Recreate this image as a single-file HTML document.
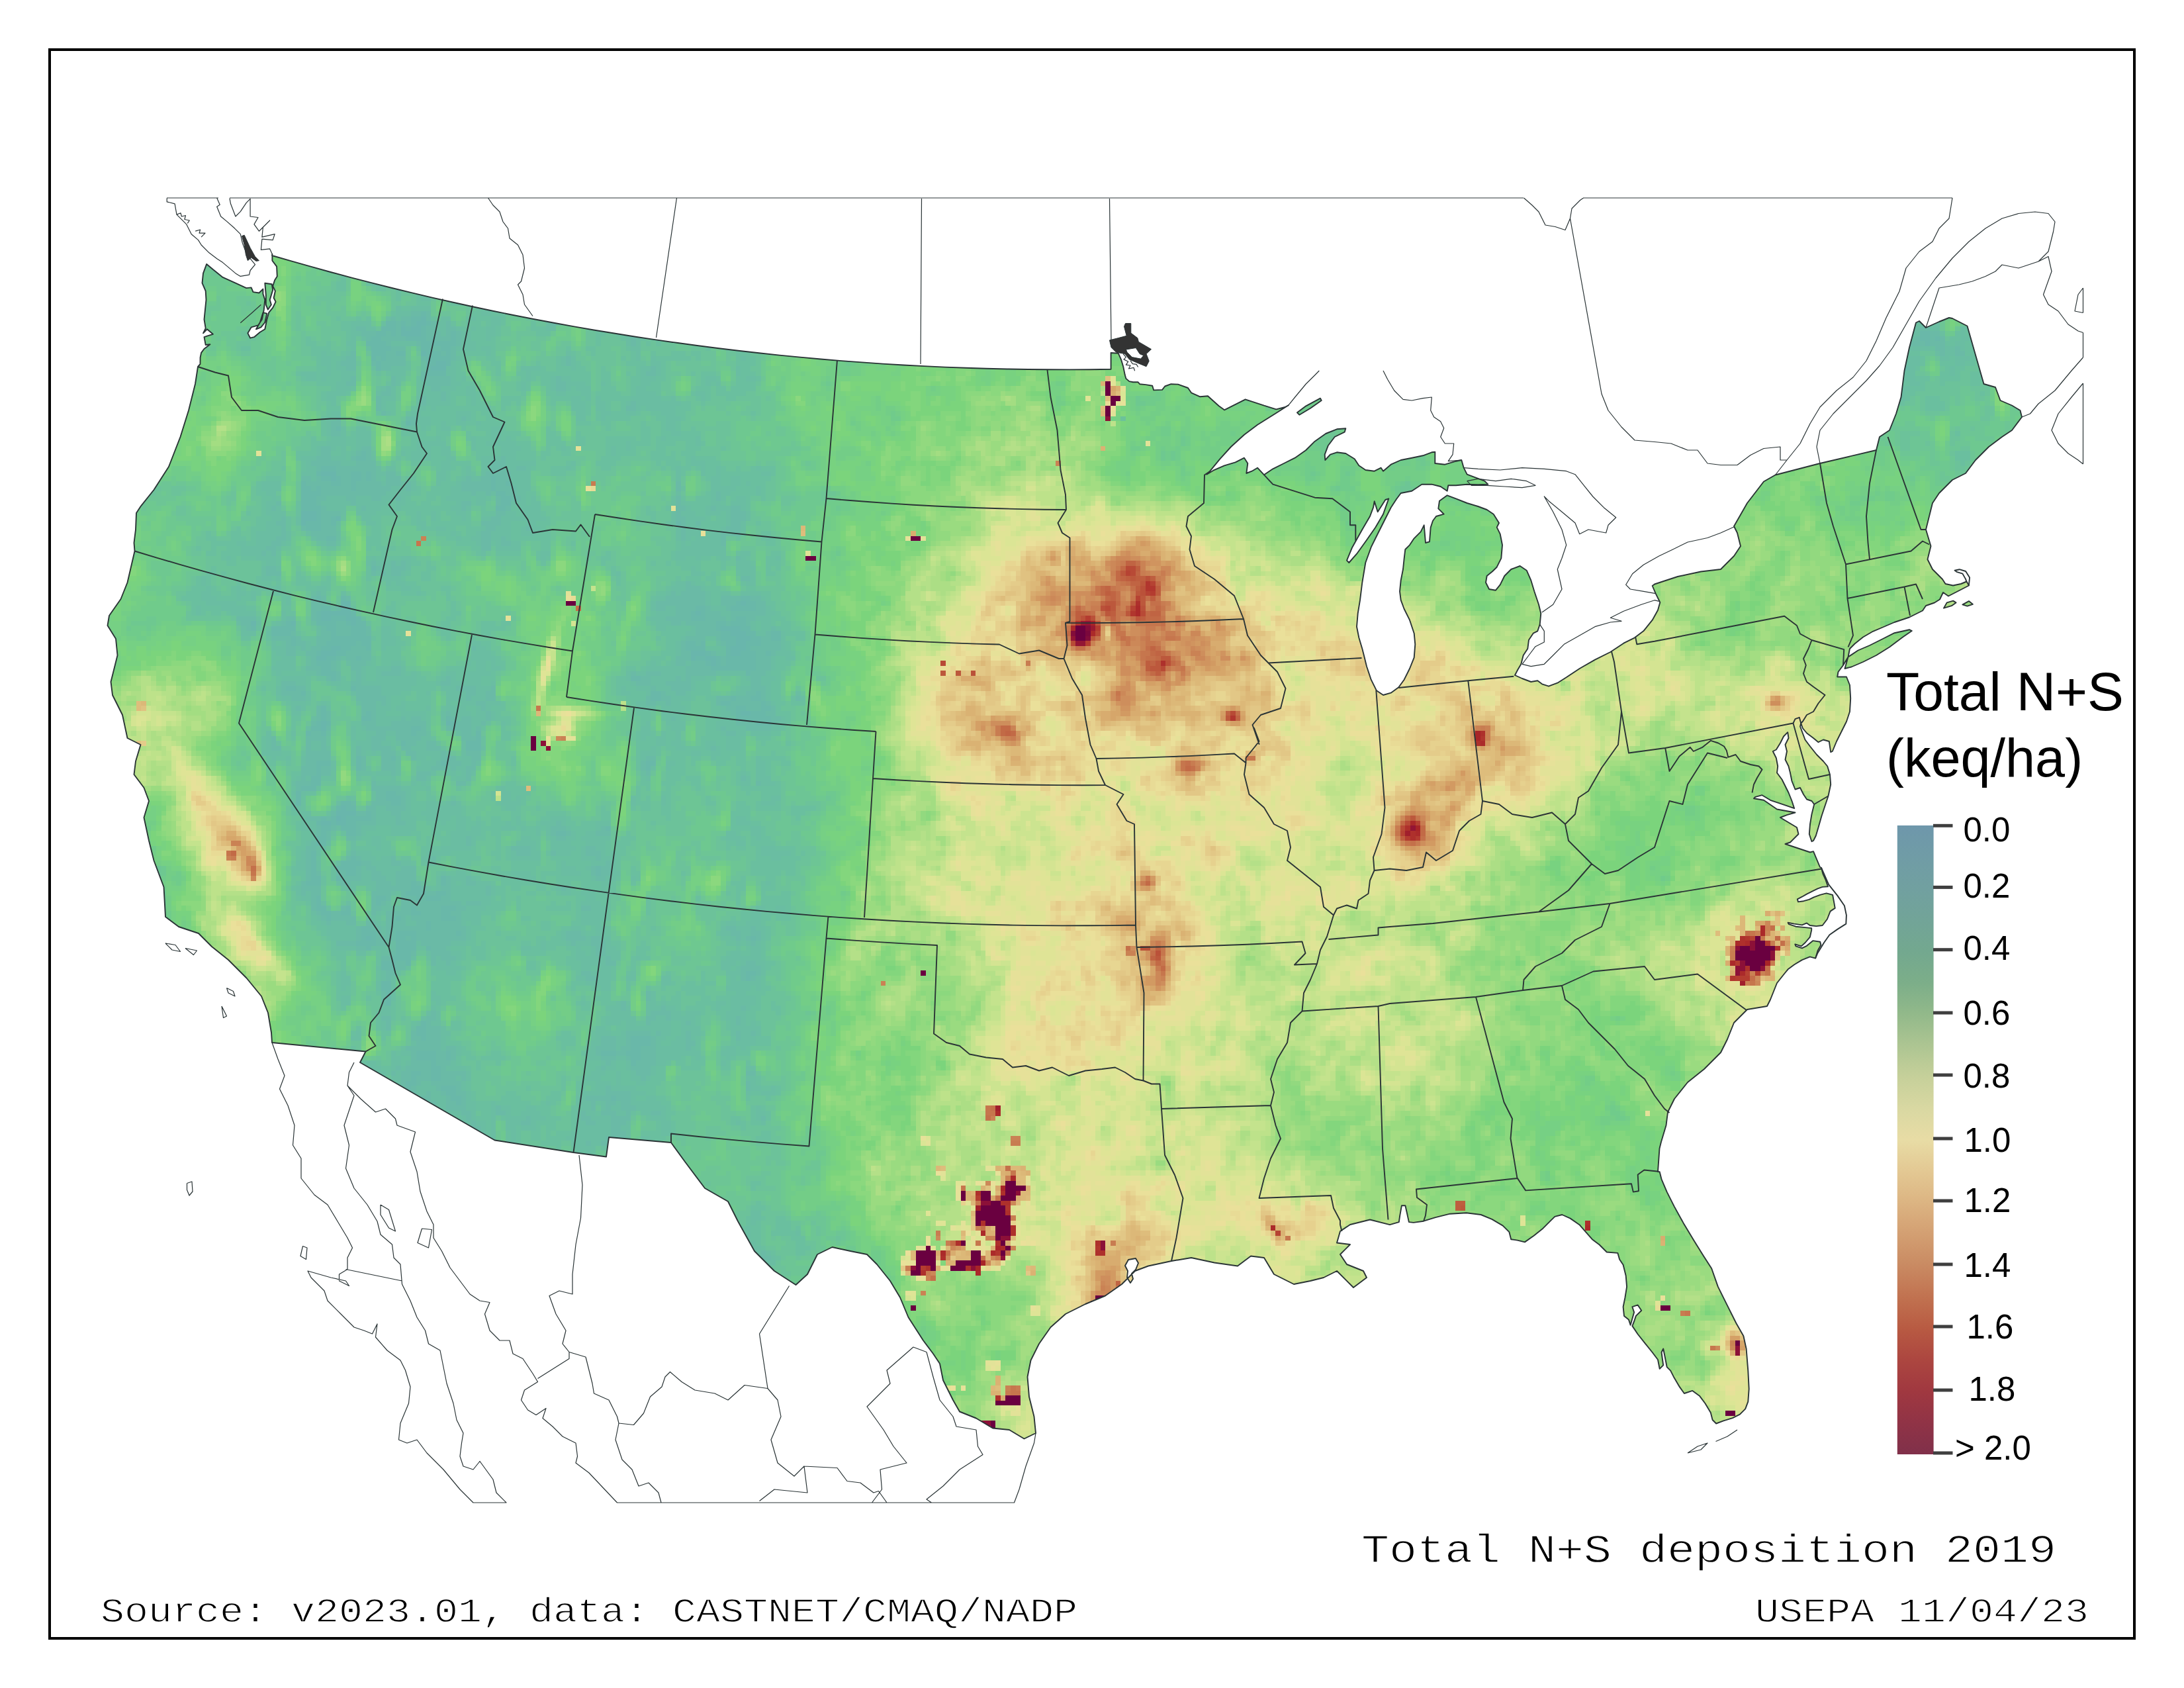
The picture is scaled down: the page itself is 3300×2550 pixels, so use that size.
<!DOCTYPE html>
<html><head><meta charset="utf-8"><title>Total N+S deposition 2019</title>
<style>html,body{margin:0;padding:0;background:#fff}svg{display:block}
.ar{font-family:"Liberation Sans",sans-serif}.mo{font-family:"Liberation Mono",monospace}</style></head><body>
<svg width="3300" height="2550" viewBox="0 0 3300 2550">
<defs>
<clipPath id="us" clipPathUnits="userSpaceOnUse"><path clip-rule="evenodd" d="M411.0,386.0 441.0,394.7 471.2,403.2 501.3,411.5 531.6,419.6 561.9,427.4 592.2,435.0 622.6,442.4 653.1,449.6 683.6,456.5 714.2,463.2 744.8,469.7 775.5,476.0 806.2,482.0 837.0,487.8 867.8,493.4 898.6,498.7 929.5,503.8 960.4,508.7 991.4,513.4 1022.4,517.8 1053.4,522.0 1084.5,526.0 1115.6,529.8 1146.7,533.3 1177.9,536.6 1209.1,539.6 1240.3,542.5 1271.5,545.1 1302.7,547.4 1334.0,549.6 1365.3,551.5 1396.6,553.1 1427.9,554.6 1459.2,555.8 1490.5,556.8 1521.9,557.5 1553.2,558.0 1584.5,558.3 1615.9,558.4 1647.2,558.2 1678.6,557.8 1678.6,533.0 1689.8,533.8 1693.9,542.9 1697.2,553.7 1699.7,566.1 1701.4,571.9 1706.3,576.1 1712.1,577.3 1719.6,577.3 1722.1,580.2 1731.2,581.1 1741.2,582.7 1743.2,589.4 1756.1,588.9 1760.2,583.5 1769.4,580.2 1780.0,580.6 1795.0,586.0 1800.0,593.3 1813.3,599.3 1825.0,598.3 1841.7,613.3 1850.0,619.3 1881.7,603.3 1910.0,612.7 1928.3,618.3 1941.7,615.0 1946.7,612.3 1926.7,625.0 1900.0,641.7 1880.0,656.7 1860.0,675.0 1843.3,693.3 1828.3,711.7 1823.3,716.7 1833.3,710.7 1850.0,703.3 1866.7,698.3 1880.0,691.7 1885.3,700.0 1883.3,715.0 1891.7,711.7 1900.0,706.7 1910.0,717.3 1923.3,708.3 1940.0,700.0 1956.7,691.7 1973.3,680.0 1986.7,666.7 2003.3,655.0 2020.0,648.3 2033.3,647.3 2031.7,652.7 2016.7,660.0 2006.7,673.3 2001.7,686.7 2002.3,695.0 2010.0,686.7 2020.0,683.3 2033.3,685.0 2046.7,693.3 2053.3,703.3 2063.3,710.0 2076.7,711.7 2086.7,706.7 2090.0,711.7 2101.7,701.7 2116.7,695.0 2133.3,691.7 2150.0,688.3 2163.3,683.3 2168.3,682.7 2168.3,700.0 2183.3,701.7 2200.0,696.7 2208.3,695.0 2211.7,706.7 2216.7,716.7 2230.0,721.7 2243.3,726.7 2248.3,731.7 2233.3,732.3 2216.7,731.7 2200.0,733.3 2188.3,733.3 2186.7,741.7 2176.7,735.0 2163.3,731.7 2148.3,731.7 2133.3,741.7 2116.7,745.0 2110.0,754.0 2101.7,766.7 2095.0,780.0 2083.3,803.3 2071.7,826.7 2063.3,850.0 2058.3,880.0 2055.0,906.7 2051.7,926.7 2050.0,946.7 2053.3,963.3 2058.3,980.0 2061.7,993.3 2065.0,1006.7 2071.7,1026.7 2080.0,1043.3 2090.0,1050.0 2101.7,1046.7 2113.3,1038.3 2121.7,1026.7 2130.0,1010.0 2136.7,993.3 2138.3,973.3 2136.7,956.7 2130.0,936.7 2121.7,920.0 2116.7,906.7 2115.0,893.3 2116.7,876.7 2120.0,860.0 2121.7,843.3 2123.3,830.0 2130.0,823.3 2136.7,813.3 2146.7,803.3 2151.7,793.3 2154.0,820.0 2160.0,818.3 2161.7,796.7 2165.0,786.7 2170.0,780.0 2181.7,776.7 2173.3,768.3 2175.0,756.7 2186.7,748.3 2200.0,753.3 2216.7,760.0 2233.3,765.0 2246.7,770.0 2256.7,776.7 2265.0,790.0 2261.7,796.7 2266.7,806.7 2270.0,823.3 2268.3,843.3 2261.7,856.7 2255.0,863.3 2246.7,870.0 2245.0,880.0 2250.0,890.0 2260.0,891.7 2266.7,883.3 2273.3,870.0 2283.3,860.0 2296.7,855.0 2306.7,861.7 2313.3,876.7 2318.3,893.3 2325.0,913.3 2328.3,926.7 2326.7,943.3 2323.3,953.3 2316.7,956.7 2310.0,966.7 2308.3,980.0 2301.7,990.0 2298.3,1003.3 2293.3,1011.7 2289.0,1020.0 2300.0,1025.0 2313.3,1030.0 2323.3,1028.3 2330.0,1033.3 2340.0,1036.7 2353.3,1031.7 2366.7,1023.3 2386.7,1010.0 2410.0,996.7 2433.3,985.0 2453.3,971.7 2470.0,963.3 2483.3,953.3 2496.7,936.7 2505.0,921.7 2508.3,910.0 2501.7,896.7 2496.7,885.0 2500.0,882.5 2535.0,871.0 2570.0,863.5 2600.0,860.0 2620.0,840.0 2630.0,825.0 2625.0,805.0 2620.0,795.0 2640.0,760.0 2665.0,727.5 2682.5,717.5 2750.0,700.0 2835.0,680.0 2840.0,660.0 2855.0,650.0 2865.0,625.0 2872.5,600.0 2877.5,560.0 2885.0,525.0 2895.0,487.5 2900.0,485.0 2910.0,495.0 2930.0,486.0 2945.0,480.0 2950.0,481.0 2972.5,492.5 2997.5,580.0 3015.0,585.0 3022.5,605.0 3040.0,612.5 3052.5,620.0 3055.0,630.0 3040.0,650.0 3025.0,660.0 3005.0,675.0 2985.0,695.0 2970.0,715.0 2950.0,725.0 2930.0,745.0 2920.0,760.0 2915.0,780.0 2910.0,800.0 2917.5,825.0 2912.5,845.0 2920.0,860.0 2935.0,875.0 2939.5,882.0 2951.0,884.5 2963.0,882.0 2971.5,878.5 2975.0,884.5 2960.5,892.0 2944.0,900.5 2936.0,895.0 2931.0,905.5 2923.0,910.5 2910.0,915.0 2905.0,922.5 2885.0,932.5 2862.5,940.0 2845.0,947.5 2830.0,953.8 2815.0,962.5 2802.5,972.5 2795.0,980.0 2792.5,992.5 2785.0,1005.0 2777.5,1015.0 2776.2,1022.5 2790.0,1022.5 2795.0,1035.0 2796.2,1055.0 2795.0,1075.0 2790.0,1090.0 2782.5,1105.0 2775.0,1120.0 2768.8,1135.0 2766.2,1136.2 2763.8,1120.0 2755.0,1117.5 2747.5,1121.2 2740.0,1115.0 2730.0,1107.5 2723.8,1100.0 2721.2,1092.5 2720.0,1097.5 2727.5,1117.5 2735.0,1127.5 2745.0,1140.0 2755.0,1150.0 2761.2,1157.5 2765.0,1170.0 2766.2,1185.0 2762.5,1202.5 2757.5,1217.5 2752.5,1232.5 2747.5,1250.0 2743.8,1262.5 2740.0,1270.0 2737.5,1271.2 2733.8,1260.0 2735.0,1245.0 2737.5,1230.0 2741.2,1215.0 2737.5,1210.0 2730.0,1207.5 2725.0,1200.0 2720.0,1190.0 2712.5,1192.5 2707.5,1180.0 2705.0,1167.5 2702.5,1157.5 2697.5,1147.5 2700.0,1135.0 2697.5,1125.0 2702.5,1115.0 2701.2,1106.2 2695.0,1112.5 2690.0,1122.5 2683.8,1132.5 2678.8,1135.0 2683.8,1145.0 2686.2,1157.5 2685.0,1167.5 2692.5,1177.5 2697.5,1187.5 2702.5,1197.5 2707.5,1210.0 2711.2,1221.2 2690.0,1213.8 2675.0,1208.8 2662.5,1201.2 2652.5,1203.8 2650.0,1206.2 2665.0,1208.8 2685.0,1222.5 2712.5,1227.5 2700.0,1231.2 2690.0,1235.0 2715.0,1250.0 2717.5,1260.0 2705.0,1272.5 2697.5,1275.0 2720.0,1282.5 2735.0,1287.5 2740.0,1286.2 2750.0,1310.0 2752.0,1310.9 2754.3,1319.8 2758.5,1329.2 2762.0,1339.3 2753.7,1339.9 2746.6,1342.3 2739.5,1345.8 2730.0,1350.6 2722.9,1354.7 2715.8,1358.3 2717.0,1362.4 2725.3,1361.2 2733.6,1358.9 2740.7,1355.3 2750.2,1351.8 2759.7,1349.4 2769.1,1351.8 2771.5,1364.8 2772.7,1371.9 2765.6,1376.6 2760.9,1388.5 2753.7,1398.0 2744.3,1399.1 2734.8,1398.0 2730.0,1394.4 2722.9,1397.4 2711.1,1395.6 2701.6,1393.8 2702.8,1396.2 2713.5,1399.7 2725.3,1400.9 2737.2,1402.1 2737.2,1405.1 2734.8,1415.7 2727.7,1424.0 2721.8,1429.4 2712.3,1426.4 2713.5,1429.4 2722.9,1432.3 2730.0,1428.8 2739.5,1421.1 2750.2,1422.8 2751.4,1427.6 2746.6,1435.9 2743.1,1447.7 2734.8,1445.4 2722.9,1450.1 2711.1,1457.2 2701.6,1464.3 2696.9,1470.0 2685.0,1485.0 2675.0,1510.0 2670.0,1520.0 2640.0,1525.0 2620.0,1545.0 2610.0,1570.0 2600.0,1590.0 2575.0,1615.0 2550.0,1635.0 2530.0,1660.0 2520.0,1680.0 2517.5,1700.0 2510.0,1725.0 2507.5,1735.0 2505.0,1770.0 2507.7,1770.3 2510.5,1781.3 2518.7,1800.6 2529.8,1822.6 2543.5,1847.4 2560.1,1875.0 2573.8,1897.0 2586.2,1916.3 2595.9,1943.9 2609.6,1971.4 2623.4,1999.0 2634.4,2018.2 2638.6,2037.5 2641.3,2070.6 2642.7,2098.1 2641.3,2117.4 2637.2,2128.4 2628.9,2136.7 2617.9,2142.2 2604.1,2146.3 2593.1,2150.5 2587.6,2145.0 2584.8,2133.9 2576.6,2120.2 2568.3,2109.1 2557.3,2100.9 2544.9,2105.0 2538.0,2095.4 2529.8,2081.6 2524.2,2070.6 2518.7,2065.1 2516.0,2051.3 2513.2,2037.5 2510.5,2043.0 2513.2,2062.3 2507.7,2067.8 2505.0,2054.0 2496.7,2043.0 2485.7,2029.3 2474.7,2015.5 2466.4,2003.1 2469.1,1996.2 2471.9,1987.9 2480.2,1979.7 2474.7,1971.4 2466.4,1974.2 2469.1,1982.4 2463.6,2001.7 2460.9,1993.4 2454.0,1987.9 2452.6,1974.2 2455.4,1960.4 2458.1,1943.9 2456.7,1927.3 2452.6,1910.8 2447.1,1902.5 2444.4,1892.9 2427.8,1891.5 2416.8,1880.5 2405.8,1872.2 2396.1,1861.2 2386.5,1850.2 2372.7,1840.6 2360.3,1835.0 2349.3,1837.8 2342.4,1844.7 2331.4,1855.7 2317.6,1866.7 2303.9,1876.4 2292.8,1873.6 2283.2,1872.2 2280.4,1861.2 2270.8,1851.6 2254.3,1841.9 2237.7,1835.0 2215.7,1832.3 2190.9,1833.7 2168.9,1839.2 2151.0,1844.7 2135.8,1846.9 2128.9,1846.1 2126.2,1833.7 2123.4,1821.3 2117.9,1821.3 2115.2,1836.4 2113.8,1846.1 2100.0,1850.2 2070.0,1842.5 2040.0,1850.0 2025.0,1860.0 2020.0,1877.5 2040.0,1880.0 2025.0,1895.0 2035.0,1910.0 2060.0,1920.0 2065.0,1930.0 2045.0,1945.0 2020.0,1920.0 2000.0,1930.0 1980.0,1935.0 1955.0,1940.0 1925.0,1925.0 1910.0,1900.0 1890.0,1897.5 1870.0,1912.5 1835.0,1907.5 1800.0,1900.0 1770.0,1905.0 1735.0,1912.5 1715.0,1920.0 1695.0,1940.0 1670.0,1957.5 1640.0,1970.0 1610.0,1985.0 1587.5,2005.0 1570.0,2030.0 1557.5,2055.0 1552.5,2080.0 1555.0,2110.0 1562.5,2140.0 1565.0,2165.0 1547.5,2173.5 1525.0,2160.0 1500.0,2157.5 1475.0,2142.5 1450.0,2132.5 1440.0,2115.0 1425.0,2085.0 1420.0,2060.0 1410.0,2045.0 1395.0,2025.0 1372.5,1990.0 1360.0,1960.0 1345.0,1935.0 1325.0,1910.0 1310.0,1895.0 1285.0,1890.0 1257.5,1884.0 1235.0,1895.0 1220.0,1925.0 1202.5,1941.0 1170.0,1920.0 1140.0,1890.0 1115.0,1845.0 1100.0,1815.0 1065.0,1795.0 1035.0,1755.0 1014.0,1726.0 920.0,1718.0 916.0,1747.5 866.5,1741.0 747.5,1722.5 544.0,1605.0 552.5,1588.5 411.0,1575.0 410.0,1560.0 405.0,1530.0 395.0,1505.0 372.5,1477.5 360.0,1465.0 345.0,1450.0 320.0,1430.0 300.0,1410.0 270.0,1400.0 250.0,1385.0 247.5,1340.0 232.5,1300.0 225.0,1270.0 217.5,1235.0 225.0,1210.0 217.5,1190.0 202.5,1170.0 205.0,1150.0 212.5,1125.0 192.5,1115.0 185.0,1080.0 170.0,1050.0 167.5,1030.0 175.0,1000.0 177.5,990.0 175.0,965.0 162.5,945.0 165.0,930.0 182.5,905.0 192.5,880.0 203.5,832.5 202.5,820.0 205.0,800.0 206.0,775.0 212.5,765.0 232.5,740.0 255.0,705.0 272.5,660.0 285.0,620.0 295.0,580.0 299.0,554.0 302.5,550.0 302.6,540.0 304.1,532.9 308.5,527.0 317.4,520.3 310.7,521.0 308.5,509.2 312.9,507.7 321.8,504.8 312.9,497.3 307.0,503.3 310.7,495.9 308.5,482.5 310.0,467.7 311.5,452.9 310.7,439.6 305.5,427.7 307.0,412.9 312.2,398.9 321.8,407.0 336.6,418.9 355.9,427.7 372.2,435.1 379.6,434.4 382.5,441.1 391.4,442.5 397.4,436.6 397.4,444.0 400.3,452.9 398.8,467.7 395.9,482.5 390.0,491.4 379.6,494.4 374.4,503.3 378.1,510.7 384.0,509.2 392.9,501.8 400.3,497.3 403.3,482.5 406.2,472.2 412.2,464.8 416.6,455.9 413.6,450.0 415.9,439.6 412.2,432.2 415.1,423.3 418.8,417.4 418.1,402.6 411.4,393.7 411.4,384.0ZM2076.7,757.3 2081.7,773.3 2093.3,755.0 2098.3,753.3 2090.0,776.7 2078.3,796.7 2063.3,818.3 2050.0,836.7 2038.3,850.0 2035.0,846.7 2043.3,826.7 2058.3,800.0 2070.0,780.0 2075.0,766.7ZM1700.0,1912.0 1705.0,1903.0 1716.0,1901.0 1720.0,1908.0 1716.0,1918.0 1710.0,1924.0 1712.0,1932.0 1708.0,1938.0 1703.0,1930.0 1704.0,1920.0ZM400.3,427.7 410.7,429.2 412.2,438.1 407.7,452.9 409.9,460.3 404.8,467.7 401.8,460.3 401.8,445.5ZM397.4,472.2 403.3,473.6 400.3,487.0 394.4,494.4 387.0,497.3 392.9,487.0ZM2792.5,992.5 2807.5,982.5 2825.0,975.0 2845.0,965.0 2862.5,956.2 2885.0,951.2 2888.8,953.0 2875.0,962.5 2855.0,977.5 2835.0,990.0 2815.0,1000.0 2797.5,1007.5 2787.5,1010.0ZM2937.0,918.7 2941.7,910.4 2951.2,907.6 2955.5,910.4 2948.8,915.2ZM2965.4,913.3 2974.9,908.1 2980.8,912.8 2972.5,915.6ZM1960.0,623.3 1973.3,613.3 1995.0,601.7 1996.7,605.0 1980.0,616.7 1963.3,626.7Z"/></clipPath>
<linearGradient id="cb" x1="0" y1="0" x2="0" y2="1">
<stop offset="0.000" stop-color="#6e97ab"/>
<stop offset="0.050" stop-color="#709ca6"/>
<stop offset="0.100" stop-color="#71a0a0"/>
<stop offset="0.150" stop-color="#72a498"/>
<stop offset="0.200" stop-color="#73a88f"/>
<stop offset="0.250" stop-color="#7cae89"/>
<stop offset="0.300" stop-color="#92b98a"/>
<stop offset="0.350" stop-color="#adc592"/>
<stop offset="0.400" stop-color="#c6d09a"/>
<stop offset="0.450" stop-color="#d9d8a2"/>
<stop offset="0.500" stop-color="#e8dca5"/>
<stop offset="0.550" stop-color="#e3c893"/>
<stop offset="0.600" stop-color="#dcb482"/>
<stop offset="0.650" stop-color="#d39f72"/>
<stop offset="0.700" stop-color="#c98a62"/>
<stop offset="0.750" stop-color="#c17250"/>
<stop offset="0.800" stop-color="#b85a42"/>
<stop offset="0.850" stop-color="#ac4640"/>
<stop offset="0.900" stop-color="#a03840"/>
<stop offset="0.950" stop-color="#903346"/>
<stop offset="1.000" stop-color="#80304a"/>
</linearGradient>
</defs>
<rect width="3300" height="2550" fill="#fff"/>
<g clip-path="url(#us)"><g transform="translate(152.9,367.97499999999997) scale(7.55)" fill="none" stroke-width="1.02" shape-rendering="crispEdges">
<path stroke="#69b4ae" d="M47 115h1"/>
<path stroke="#69b6ac" d="M64 15h1M63 16h2M60 17h1M62 17h2M60 18h4M64 22h1M67 24h2M66 25h3M44 46h3M46 47h1M40 54h3M40 55h3M47 55h1M40 56h1M48 72h2M128 72h1M48 73h2M44 74h6M119 74h1M44 75h2M49 75h2M30 76h1M38 76h1M50 76h1M124 77h4M126 78h3M127 79h3M127 80h2M46 81h2M126 81h3M44 82h3M118 82h3M126 82h2M43 83h2M118 83h1M121 83h2M122 84h1M128 94h2M44 96h1M69 96h1M44 97h1M48 113h1M47 114h4M48 115h1M44 116h2M47 116h2M53 139h1"/>
<path stroke="#69b8a9" d="M64 14h1M62 15h2M57 16h2M60 16h1M62 16h1M65 16h1M56 17h3M61 17h1M64 17h1M55 18h2M58 18h1M64 18h1M70 18h1M364 18h2M54 19h2M61 19h4M66 19h1M70 19h1M364 19h2M367 19h1M53 20h4M64 20h7M365 20h1M54 21h4M64 21h2M68 21h2M54 22h3M59 22h2M65 22h3M69 22h1M54 23h1M56 23h1M65 23h5M55 24h1M65 24h2M69 24h1M55 25h1M65 25h1M65 26h4M61 36h1M47 37h1M52 42h1M51 43h2M44 45h3M43 46h1M50 46h2M53 46h1M44 47h2M47 47h1M50 47h2M53 47h1M78 47h1M40 48h1M46 48h2M50 48h1M78 48h1M81 48h1M40 49h2M43 49h1M50 49h1M78 49h1M40 50h4M79 50h2M40 51h3M80 51h2M40 52h3M80 52h2M40 53h4M79 53h2M43 54h1M43 55h1M46 55h1M41 56h3M46 56h1M115 56h1M41 57h3M45 59h2M54 65h1M43 71h1M48 71h1M128 71h2M127 72h1M129 72h2M44 73h2M119 73h2M126 73h5M43 74h1M50 74h1M118 74h1M120 74h1M43 75h1M46 75h3M51 75h1M118 75h3M127 75h2M37 76h1M43 76h4M49 76h1M51 76h2M123 76h2M126 76h3M30 77h1M34 77h5M45 77h2M50 77h3M123 77h1M128 77h2M34 78h4M46 78h1M50 78h3M124 78h2M129 78h2M134 78h2M38 79h1M46 79h8M124 79h3M130 79h2M134 79h2M38 80h1M45 80h6M52 80h2M117 80h2M120 80h1M125 80h2M129 80h3M44 81h2M48 81h2M53 81h1M117 81h4M125 81h1M129 81h1M43 82h1M47 82h2M121 82h1M125 82h1M128 82h3M133 82h1M45 83h2M51 83h1M119 83h2M123 83h1M125 83h6M43 84h3M121 84h1M123 84h1M125 84h6M44 85h2M122 85h9M44 86h3M129 86h1M46 87h1M106 87h2M37 89h2M50 89h1M40 90h1M110 90h2M131 90h1M110 91h2M126 91h1M130 91h2M124 92h2M132 92h1M44 93h1M127 93h2M132 93h2M44 94h1M53 94h1M127 94h1M130 94h3M44 95h1M52 95h2M69 95h1M127 95h7M43 96h1M45 96h1M70 96h1M131 96h3M42 97h2M62 97h2M70 97h1M41 98h1M44 98h1M62 98h1M75 98h1M75 99h1M60 100h1M73 100h3M73 101h3M51 103h1M58 103h1M69 103h1M43 104h3M51 104h1M68 104h1M109 104h2M43 105h1M51 105h1M109 105h1M43 106h1M42 107h2M42 108h2M40 109h3M39 110h1M57 110h2M39 111h1M57 111h3M39 112h1M48 112h2M58 112h2M47 113h1M49 113h2M53 114h1M44 115h1M46 115h1M49 115h5M43 116h1M46 116h1M49 116h2M44 117h2M48 117h3M101 117h1M44 118h1M49 118h2M91 118h2M43 119h2M43 120h2M42 122h1M42 123h1M50 123h1M42 124h1M48 124h4M42 125h1M47 125h4M99 125h1M42 126h1M49 126h2M99 126h1M42 127h2M47 127h1M68 127h1M41 128h3M62 128h1M68 128h1M62 129h2M61 130h4M67 130h2M43 131h1M55 131h2M63 131h1M65 131h3M43 132h1M55 132h1M43 133h2M49 133h1M62 133h1M68 133h3M44 134h2M48 134h2M62 134h2M68 134h2M45 135h1M59 135h1M68 135h3M65 136h1M52 137h2M65 137h1M52 138h3M59 138h4M71 138h1M52 139h1M54 139h1M59 139h2M62 139h1M130 139h1M51 140h4M59 140h4M53 141h1M59 141h4M65 141h1M59 142h3M58 143h4M56 144h3M61 144h1M56 145h3M129 146h2M129 147h1M56 148h2M56 149h2M57 150h1M57 151h1M57 152h1M64 156h1M63 157h2M63 158h2M64 159h1M106 159h4M106 160h4M106 161h2M63 162h4M69 162h1M100 162h3M105 162h3M63 163h4M69 163h1M106 163h2M66 164h1M106 164h1M66 165h2M62 166h2M66 166h2M62 167h1M66 167h2M61 168h2M61 169h1M68 169h3M69 170h2M70 171h2M102 171h1M71 172h1M104 180h1"/>
<path stroke="#6abaa6" d="M54 7h1M77 12h1M62 14h2M65 14h1M58 15h1M60 15h2M65 15h1M59 16h1M61 16h1M66 16h1M69 16h1M90 16h1M51 17h2M59 17h1M65 17h2M69 17h2M364 17h2M52 18h3M57 18h1M59 18h1M65 18h3M69 18h1M71 18h1M106 18h1M366 18h2M53 19h1M56 19h5M65 19h1M67 19h3M71 19h1M106 19h1M363 19h1M366 19h1M368 19h1M57 20h1M63 20h1M71 20h1M106 20h1M362 20h3M366 20h3M58 21h3M66 21h2M70 21h1M367 21h2M371 21h1M50 22h1M57 22h2M68 22h1M70 22h1M368 22h1M371 22h2M49 23h2M55 23h1M57 23h4M64 23h1M70 23h1M93 23h1M48 24h3M54 24h1M56 24h5M93 24h1M49 25h2M56 25h2M110 25h1M360 25h2M64 26h1M109 26h2M50 27h1M58 27h1M64 27h6M91 27h1M49 28h2M58 28h1M65 28h5M91 28h2M57 29h1M66 29h2M91 29h2M56 30h2M68 30h1M55 31h1M64 31h1M68 31h1M55 32h1M64 32h1M106 32h1M55 33h1M105 33h2M56 34h1M47 35h1M61 35h2M72 35h1M46 36h2M62 36h1M46 37h1M46 38h2M44 41h2M52 41h2M44 42h2M51 42h1M53 42h1M43 43h3M50 43h1M53 43h1M80 43h1M42 44h6M51 44h4M78 44h3M43 45h1M47 45h8M78 45h3M83 45h2M47 46h3M52 46h1M54 46h1M57 46h2M77 46h5M40 47h2M43 47h1M48 47h2M52 47h1M54 47h1M57 47h3M73 47h1M76 47h2M79 47h3M41 48h5M48 48h2M51 48h5M57 48h3M61 48h1M72 48h6M79 48h2M115 48h1M42 49h1M44 49h6M51 49h7M61 49h1M72 49h6M79 49h4M115 49h1M44 50h13M74 50h1M77 50h1M81 50h2M123 50h1M43 51h2M49 51h2M54 51h2M59 51h1M79 51h1M82 51h2M115 51h1M123 51h1M35 52h1M43 52h1M50 52h1M72 52h2M79 52h1M115 52h1M34 53h1M44 53h1M52 53h1M72 53h1M81 53h1M115 53h2M122 53h1M126 53h2M44 54h4M79 54h2M115 54h1M126 54h3M36 55h1M44 55h2M78 55h2M115 55h2M126 55h3M35 56h2M44 56h2M76 56h4M116 56h1M119 56h1M126 56h2M36 57h1M40 57h1M44 57h3M77 57h2M85 57h1M116 57h1M125 57h3M36 58h1M42 58h5M76 58h2M116 58h1M124 58h1M126 58h2M35 59h2M43 59h2M76 59h2M80 59h1M116 59h1M124 59h1M34 60h2M45 60h2M76 60h2M80 60h2M124 60h1M33 61h2M76 61h2M32 62h1M34 62h1M127 63h1M54 64h1M58 64h1M60 64h1M33 65h2M55 65h1M58 65h3M33 66h3M54 66h1M56 66h1M58 66h2M128 67h2M117 68h1M117 69h3M43 70h1M114 70h1M116 70h5M42 71h1M44 71h1M49 71h1M113 71h8M124 71h4M130 71h2M42 72h3M111 72h10M124 72h3M131 72h2M42 73h2M47 73h1M111 73h2M115 73h4M121 73h1M125 73h1M131 73h2M42 74h1M115 74h3M121 74h3M126 74h7M27 75h4M37 75h2M42 75h1M113 75h5M121 75h4M126 75h1M129 75h2M28 76h2M36 76h1M47 76h2M114 76h2M117 76h6M125 76h1M129 76h1M29 77h1M44 77h1M47 77h3M53 77h1M119 77h4M134 77h1M38 78h1M44 78h2M47 78h3M53 78h1M119 78h5M133 78h1M34 79h4M39 79h1M43 79h3M117 79h4M123 79h1M132 79h2M37 80h1M39 80h2M43 80h2M51 80h1M116 80h1M119 80h1M124 80h1M132 80h4M37 81h2M40 81h1M42 81h2M50 81h3M74 81h1M116 81h1M130 81h6M37 82h2M41 82h2M49 82h5M116 82h2M122 82h1M131 82h2M134 82h1M42 83h1M47 83h1M49 83h2M52 83h2M115 83h3M124 83h1M131 83h3M42 84h1M46 84h1M50 84h3M115 84h2M118 84h3M124 84h1M131 84h3M41 85h3M46 85h1M50 85h2M58 85h2M117 85h5M131 85h3M43 86h1M47 86h1M51 86h1M56 86h4M106 86h1M109 86h3M117 86h6M130 86h3M45 87h1M47 87h1M51 87h1M69 87h1M108 87h2M115 87h1M117 87h1M130 87h2M36 88h3M50 88h2M68 88h2M107 88h3M113 88h5M130 88h2M36 89h1M39 89h2M51 89h5M71 89h4M78 89h1M110 89h1M114 89h4M130 89h3M36 90h4M51 90h5M73 90h2M77 90h2M112 90h1M115 90h2M129 90h2M132 90h1M38 91h3M51 91h6M73 91h1M77 91h2M109 91h1M112 91h2M123 91h3M127 91h3M132 91h1M139 91h1M52 92h3M56 92h1M75 92h2M109 92h2M113 92h1M123 92h1M126 92h6M133 92h1M39 93h1M43 93h1M52 93h3M76 93h1M125 93h2M129 93h3M134 93h1M43 94h1M45 94h1M52 94h1M54 94h1M69 94h1M77 94h1M126 94h1M133 94h2M43 95h1M45 95h1M54 95h1M60 95h1M62 95h2M70 95h1M72 95h2M77 95h1M114 95h1M134 95h2M42 96h1M52 96h3M58 96h7M71 96h3M76 96h1M127 96h4M134 96h1M45 97h1M53 97h9M64 97h1M69 97h1M71 97h3M75 97h1M124 97h1M129 97h5M42 98h2M55 98h2M59 98h3M63 98h2M72 98h2M125 98h2M34 99h1M41 99h4M54 99h3M59 99h5M72 99h3M34 100h1M41 100h1M44 100h1M54 100h2M61 100h2M65 100h2M34 101h2M41 101h1M44 101h1M51 101h1M54 101h4M60 101h2M65 101h3M122 101h1M41 102h5M51 102h1M56 102h3M61 102h2M68 102h1M73 102h3M41 103h5M52 103h1M56 103h2M62 103h1M68 103h1M70 103h1M74 103h2M109 103h2M41 104h2M52 104h1M56 104h3M67 104h1M69 104h3M74 104h1M108 104h1M40 105h3M44 105h2M52 105h1M56 105h3M66 105h3M70 105h1M73 105h2M108 105h1M40 106h3M44 106h2M58 106h1M63 106h3M73 106h1M109 106h1M40 107h1M63 107h2M73 107h1M128 107h1M39 108h3M54 108h1M71 108h2M131 108h1M39 109h1M54 109h6M55 110h2M59 110h2M55 111h2M60 111h1M50 112h1M54 112h4M60 112h1M70 112h1M53 113h2M57 113h4M46 114h1M51 114h2M54 114h1M58 114h2M41 115h3M45 115h1M54 115h1M59 115h1M51 116h4M59 116h2M91 116h1M43 117h1M46 117h1M51 117h1M90 117h3M100 117h1M43 118h1M45 118h1M51 118h1M90 118h1M93 118h1M99 118h3M45 119h1M49 119h2M73 119h1M91 119h2M42 120h1M73 120h1M41 121h2M82 121h4M97 121h2M41 122h1M50 122h1M83 122h3M90 122h1M97 122h3M41 123h1M49 123h1M51 123h1M58 123h1M66 123h1M99 123h1M41 124h1M52 124h2M58 124h2M101 124h1M41 125h1M51 125h1M53 125h2M60 125h3M98 125h1M100 125h2M41 126h1M43 126h1M47 126h2M51 126h1M54 126h2M59 126h4M98 126h1M100 126h2M41 127h1M48 127h4M54 127h3M59 127h4M69 127h1M73 127h1M99 127h2M40 128h1M48 128h2M55 128h3M59 128h3M63 128h1M69 128h1M73 128h2M40 129h4M55 129h7M64 129h1M68 129h2M77 129h1M92 129h1M40 130h1M42 130h2M54 130h4M60 130h1M65 130h2M69 130h1M77 130h1M42 131h1M54 131h1M57 131h1M60 131h3M64 131h1M68 131h2M42 132h1M54 132h1M56 132h1M60 132h12M73 132h3M42 133h1M48 133h1M54 133h2M60 133h2M63 133h5M71 133h2M96 133h2M43 134h1M46 134h2M54 134h1M57 134h5M64 134h4M70 134h2M44 135h1M46 135h5M57 135h2M60 135h1M62 135h6M71 135h1M45 136h1M49 136h2M53 136h2M57 136h4M63 136h2M66 136h6M51 137h1M54 137h2M57 137h8M66 137h7M125 137h2M130 137h1M51 138h1M55 138h1M57 138h2M63 138h8M72 138h1M93 138h3M126 138h2M130 138h2M51 139h1M55 139h4M61 139h1M63 139h10M93 139h4M98 139h2M127 139h1M129 139h1M131 139h1M47 140h4M55 140h2M64 140h6M94 140h1M98 140h3M130 140h1M51 141h2M66 141h3M99 141h2M58 142h1M62 142h1M66 142h4M99 142h2M56 143h2M66 143h1M68 143h3M101 143h1M59 144h2M66 144h1M69 144h1M101 144h2M129 144h2M59 145h2M128 145h4M57 146h2M96 146h2M128 146h1M131 146h1M57 147h1M97 147h2M128 147h1M130 147h1M56 150h1M109 150h1M56 151h1M109 151h1M56 152h1M104 152h1M104 153h1M112 153h1M128 153h1M66 154h1M110 154h4M56 155h2M65 155h2M109 155h2M113 155h1M127 155h1M57 156h1M65 156h1M109 156h1M117 156h1M127 156h1M57 157h1M65 157h3M62 158h1M65 158h3M105 158h5M111 158h1M117 158h1M127 158h1M130 158h1M62 159h2M65 159h3M100 159h3M105 159h1M110 159h1M117 159h1M127 159h1M63 160h5M100 160h3M105 160h1M110 160h1M117 160h2M61 161h7M69 161h2M99 161h4M104 161h2M108 161h3M117 161h1M62 162h1M67 162h2M70 162h1M99 162h1M103 162h2M108 162h3M62 163h1M67 163h2M70 163h1M100 163h3M105 163h1M108 163h3M62 164h4M67 164h3M101 164h1M107 164h4M59 165h1M61 165h5M68 165h1M100 165h1M106 165h4M58 166h1M60 166h2M64 166h2M68 166h5M107 166h3M129 166h2M60 167h2M63 167h3M68 167h3M72 167h1M108 167h1M60 168h1M63 168h1M66 168h6M129 168h1M60 169h1M62 169h1M67 169h1M71 169h1M101 169h1M129 169h1M62 170h1M65 170h1M68 170h1M71 170h2M101 170h5M64 171h2M69 171h1M72 171h1M97 171h5M103 171h3M64 172h3M69 172h2M72 172h1M98 172h1M101 172h2M104 172h2M69 173h4M79 173h1M98 173h1M101 173h1M104 173h3M72 174h2M79 174h2M96 174h1M100 174h3M105 174h1M110 174h2M73 175h1M85 175h1M96 175h2M102 175h4M132 175h1M74 176h1M84 176h2M97 176h2M102 176h3M74 177h2M102 177h2M102 178h3M101 179h4M97 180h1M100 180h4M105 180h1M129 201h1M132 202h1M132 203h2"/>
<path stroke="#6abda2" d="M53 7h1M55 7h1M54 8h2M59 9h2M64 9h1M64 10h2M64 11h2M72 11h1M72 12h2M59 13h1M62 13h4M77 13h1M59 14h3M76 14h2M57 15h1M59 15h1M68 15h2M74 15h1M78 15h2M89 15h3M366 15h2M50 16h4M67 16h2M78 16h2M89 16h1M364 16h2M367 16h1M50 17h1M53 17h2M67 17h2M71 17h1M74 17h1M77 17h2M89 17h2M363 17h1M366 17h2M372 17h1M50 18h2M68 18h1M72 18h2M77 18h2M105 18h1M107 18h1M362 18h2M372 18h1M374 18h1M50 19h1M52 19h1M72 19h2M77 19h1M105 19h1M107 19h1M361 19h2M372 19h4M49 20h2M58 20h5M72 20h3M105 20h1M107 20h1M361 20h1M371 20h2M374 20h2M50 21h1M53 21h1M71 21h4M76 21h2M106 21h2M361 21h5M369 21h2M372 21h1M375 21h1M44 22h1M49 22h1M77 22h1M93 22h1M107 22h1M367 22h1M369 22h2M375 22h1M44 23h2M48 23h1M71 23h1M92 23h1M94 23h1M107 23h1M110 23h1M128 23h1M362 23h2M368 23h2M371 23h3M44 24h2M47 24h1M64 24h1M70 24h1M92 24h1M94 24h1M110 24h2M360 24h4M371 24h2M45 25h1M47 25h2M58 25h3M64 25h1M69 25h2M84 25h4M94 25h1M108 25h2M111 25h1M127 25h1M362 25h1M370 25h1M40 26h3M44 26h2M48 26h3M58 26h3M69 26h2M85 26h1M108 26h1M111 26h1M127 26h1M359 26h4M370 26h1M41 27h2M44 27h1M48 27h2M59 27h1M70 27h1M72 27h1M85 27h1M90 27h1M92 27h2M108 27h3M121 27h2M129 27h2M361 27h2M47 28h2M59 28h1M64 28h1M70 28h2M84 28h1M90 28h1M93 28h4M100 28h1M108 28h2M121 28h1M123 28h1M359 28h1M362 28h2M47 29h3M56 29h1M58 29h1M64 29h2M68 29h3M73 29h2M84 29h1M90 29h1M93 29h1M95 29h3M107 29h2M359 29h3M45 30h4M55 30h1M58 30h1M64 30h4M69 30h1M73 30h2M91 30h2M96 30h2M107 30h4M119 30h2M359 30h2M45 31h2M56 31h3M63 31h1M65 31h3M69 31h1M74 31h1M94 31h2M97 31h1M99 31h1M106 31h6M114 31h1M120 31h1M359 31h2M46 32h1M56 32h1M63 32h1M65 32h5M74 32h1M94 32h3M99 32h2M105 32h1M107 32h9M56 33h1M63 33h2M66 33h1M77 33h1M94 33h3M99 33h2M107 33h1M109 33h6M46 34h2M57 34h1M62 34h2M71 34h3M95 34h2M100 34h2M105 34h2M112 34h3M45 35h2M63 35h3M71 35h1M73 35h1M95 35h2M100 35h1M113 35h3M45 36h1M63 36h3M68 36h1M71 36h2M75 36h1M113 36h2M45 37h1M48 37h1M51 37h2M61 37h2M64 37h1M68 37h2M78 37h2M113 37h2M45 38h1M48 38h1M51 38h3M78 38h2M114 38h2M46 39h3M51 39h3M67 39h1M74 39h1M78 39h2M81 39h1M112 39h1M119 39h1M45 40h4M51 40h3M63 40h6M74 40h1M77 40h6M105 40h1M119 40h1M43 41h1M46 41h1M48 41h1M51 41h1M63 41h3M68 41h2M74 41h1M80 41h4M92 41h1M102 41h1M105 41h1M43 42h1M48 42h1M50 42h1M60 42h1M62 42h4M68 42h2M80 42h3M102 42h1M40 43h3M46 43h3M54 43h1M62 43h4M69 43h2M76 43h4M81 43h2M118 43h1M41 44h1M48 44h3M68 44h2M76 44h2M81 44h6M94 44h1M118 44h3M41 45h2M55 45h1M57 45h2M68 45h2M73 45h1M76 45h2M81 45h2M85 45h1M93 45h1M115 45h1M120 45h1M123 45h1M131 45h1M40 46h3M55 46h2M67 46h2M73 46h1M76 46h1M82 46h4M115 46h1M120 46h1M123 46h1M132 46h2M42 47h1M55 47h1M67 47h2M72 47h1M74 47h2M82 47h4M115 47h1M122 47h2M126 47h2M32 48h4M56 48h1M60 48h1M62 48h1M67 48h1M71 48h1M82 48h4M122 48h2M126 48h2M129 48h1M32 49h4M58 49h3M62 49h1M70 49h2M83 49h3M122 49h5M131 49h1M33 50h2M57 50h5M70 50h4M75 50h2M78 50h1M83 50h2M115 50h1M122 50h1M124 50h2M131 50h1M34 51h1M45 51h4M51 51h3M56 51h3M60 51h1M69 51h5M75 51h2M84 51h1M86 51h1M122 51h1M124 51h1M127 51h2M33 52h2M44 52h6M51 52h6M59 52h2M71 52h1M75 52h2M82 52h3M86 52h2M116 52h1M122 52h2M126 52h3M33 53h1M35 53h1M45 53h4M51 53h1M53 53h3M59 53h1M70 53h2M73 53h1M84 53h4M117 53h1M121 53h1M123 53h3M128 53h1M33 54h4M48 54h1M51 54h4M63 54h1M66 54h1M71 54h2M81 54h2M84 54h4M114 54h1M116 54h3M121 54h3M125 54h1M129 54h1M34 55h2M39 55h1M52 55h2M63 55h1M66 55h1M72 55h1M76 55h2M80 55h9M114 55h1M117 55h4M125 55h1M129 55h1M33 56h2M39 56h1M47 56h1M53 56h2M63 56h2M80 56h2M85 56h2M114 56h1M117 56h2M125 56h1M128 56h1M33 57h3M64 57h1M67 57h2M76 57h1M79 57h3M84 57h1M86 57h2M115 57h1M117 57h3M124 57h1M128 57h1M31 58h5M37 58h1M41 58h1M47 58h1M70 58h1M75 58h1M78 58h4M84 58h3M115 58h1M117 58h3M122 58h2M125 58h1M31 59h4M37 59h1M42 59h1M47 59h1M71 59h1M74 59h2M78 59h2M81 59h1M115 59h1M117 59h1M119 59h5M133 59h1M27 60h2M31 60h3M36 60h1M44 60h1M75 60h1M79 60h1M82 60h2M116 60h1M118 60h6M28 61h5M35 61h1M79 61h5M116 61h9M28 62h4M33 62h1M76 62h1M88 62h2M115 62h10M128 62h2M25 63h1M31 63h4M54 63h1M60 63h2M88 63h1M115 63h2M119 63h1M124 63h1M128 63h1M135 63h1M33 64h2M53 64h1M55 64h3M59 64h1M61 64h1M127 64h3M32 65h1M35 65h1M56 65h2M61 65h1M118 65h1M127 65h4M32 66h1M55 66h1M57 66h1M60 66h1M103 66h1M118 66h2M128 66h3M20 67h1M32 67h2M35 67h1M57 67h3M130 67h1M20 68h1M57 68h1M59 68h2M115 68h2M118 68h1M129 68h2M21 69h1M27 69h1M35 69h1M43 69h2M60 69h2M114 69h3M120 69h1M20 70h2M27 70h2M30 70h1M42 70h1M44 70h1M48 70h1M63 70h1M113 70h1M115 70h1M121 70h1M124 70h2M128 70h4M20 71h3M27 71h1M30 71h1M37 71h1M111 71h2M121 71h1M132 71h1M21 72h6M37 72h1M110 72h1M121 72h1M19 73h1M24 73h5M46 73h1M110 73h1M113 73h2M122 73h3M133 73h1M19 74h1M26 74h5M36 74h1M111 74h4M124 74h2M133 74h2M36 75h1M110 75h3M125 75h1M131 75h3M27 76h1M31 76h1M35 76h1M42 76h1M111 76h3M116 76h1M130 76h1M132 76h2M28 77h1M43 77h1M56 77h2M111 77h2M118 77h1M130 77h1M132 77h2M135 77h1M28 78h3M33 78h1M43 78h1M56 78h2M117 78h2M131 78h2M136 78h1M56 79h3M116 79h1M136 79h1M34 80h1M36 80h1M41 80h1M56 80h3M74 80h2M115 80h1M123 80h1M136 80h1M34 81h3M39 81h1M41 81h1M56 81h1M75 81h2M115 81h1M124 81h1M136 81h1M35 82h2M74 82h4M115 82h1M123 82h2M135 82h3M36 83h3M41 83h1M48 83h1M74 83h5M134 83h1M137 83h2M35 84h4M41 84h1M47 84h1M49 84h1M53 84h1M58 84h2M73 84h1M75 84h2M78 84h1M110 84h1M114 84h1M117 84h1M134 84h1M34 85h5M47 85h1M52 85h1M55 85h3M60 85h1M75 85h2M78 85h2M109 85h8M134 85h1M35 86h1M41 86h2M50 86h1M52 86h1M55 86h1M60 86h1M62 86h1M69 86h2M73 86h5M105 86h1M107 86h2M112 86h5M123 86h6M133 86h1M36 87h5M50 87h1M52 87h1M55 87h8M68 87h1M70 87h1M73 87h3M105 87h1M110 87h5M116 87h1M118 87h3M129 87h1M132 87h3M39 88h2M46 88h2M52 88h11M67 88h1M70 88h6M78 88h1M106 88h1M110 88h3M118 88h1M132 88h2M35 89h1M56 89h6M68 89h3M75 89h3M104 89h1M107 89h3M111 89h3M118 89h1M128 89h2M133 89h1M35 90h1M41 90h1M50 90h1M56 90h4M65 90h1M69 90h4M75 90h2M104 90h2M109 90h1M113 90h2M117 90h1M127 90h2M133 90h1M139 90h1M36 91h2M41 91h1M57 91h1M69 91h4M74 91h3M114 91h4M133 91h1M140 91h1M38 92h3M44 92h1M51 92h1M55 92h1M57 92h1M60 92h1M69 92h1M72 92h3M77 92h3M107 92h2M111 92h2M114 92h2M134 92h1M38 93h1M40 93h1M45 93h1M55 93h3M59 93h2M65 93h1M69 93h4M75 93h1M77 93h1M107 93h4M112 93h5M124 93h1M38 94h2M55 94h2M60 94h5M68 94h1M70 94h4M75 94h2M78 94h1M112 94h4M124 94h2M42 95h1M55 95h5M61 95h1M64 95h1M68 95h1M71 95h1M74 95h3M78 95h1M113 95h1M115 95h1M124 95h3M136 95h1M55 96h3M74 96h2M80 96h1M109 96h1M113 96h4M123 96h4M135 96h2M41 97h1M50 97h1M52 97h1M74 97h1M108 97h2M114 97h3M123 97h1M125 97h4M134 97h2M33 98h1M38 98h1M45 98h1M50 98h1M53 98h2M57 98h2M65 98h1M71 98h1M74 98h1M108 98h2M112 98h1M115 98h1M124 98h1M127 98h2M130 98h4M33 99h1M50 99h1M53 99h1M64 99h2M108 99h1M111 99h2M115 99h1M125 99h3M33 100h1M42 100h2M51 100h3M56 100h2M59 100h1M63 100h2M72 100h1M111 100h2M114 100h2M121 100h2M125 100h3M33 101h1M42 101h2M45 101h1M52 101h2M58 101h1M62 101h3M72 101h1M76 101h1M110 101h1M115 101h2M121 101h1M123 101h1M125 101h3M32 102h4M52 102h1M54 102h1M63 102h5M69 102h1M72 102h1M108 102h3M118 102h2M122 102h2M34 103h1M37 103h1M40 103h1M59 103h1M63 103h2M66 103h2M72 103h2M108 103h1M122 103h1M131 103h1M40 104h1M46 104h1M59 104h1M64 104h3M72 104h2M75 104h1M113 104h2M131 104h2M46 105h1M59 105h1M63 105h3M69 105h1M71 105h2M110 105h1M113 105h1M131 105h2M51 106h3M55 106h3M59 106h1M66 106h1M70 106h1M72 106h1M74 106h1M108 106h1M128 106h1M131 106h2M39 107h1M41 107h1M54 107h1M58 107h1M65 107h1M71 107h2M109 107h1M129 107h1M131 107h3M38 108h1M55 108h4M62 108h1M64 108h1M128 108h2M132 108h3M60 109h2M65 109h1M80 109h1M38 110h1M40 110h1M61 110h1M80 110h2M49 111h1M61 111h1M80 111h2M83 111h1M106 111h1M112 111h1M134 111h2M38 112h1M47 112h1M61 112h1M65 112h2M69 112h1M71 112h1M80 112h4M106 112h1M112 112h1M132 112h3M38 113h2M55 113h2M61 113h1M65 113h7M81 113h2M40 114h2M55 114h3M60 114h2M64 114h8M40 115h1M55 115h4M60 115h3M65 115h5M71 115h2M83 115h1M90 115h3M127 115h2M40 116h3M55 116h4M61 116h2M68 116h1M71 116h2M75 116h1M81 116h1M83 116h1M88 116h3M92 116h1M99 116h3M127 116h3M40 117h3M47 117h1M52 117h3M58 117h5M71 117h2M74 117h2M80 117h3M84 117h1M87 117h1M89 117h1M93 117h1M99 117h1M130 117h2M42 118h1M52 118h1M58 118h4M70 118h6M87 118h1M89 118h1M94 118h1M97 118h2M125 118h2M130 118h2M42 119h1M51 119h1M54 119h2M70 119h3M74 119h1M84 119h2M90 119h1M93 119h2M96 119h6M125 119h3M131 119h1M41 120h1M45 120h1M50 120h1M54 120h2M70 120h3M74 120h1M83 120h4M90 120h4M97 120h4M127 120h2M43 121h2M50 121h1M55 121h1M68 121h6M86 121h1M90 121h5M96 121h1M99 121h2M132 121h3M40 122h1M43 122h1M51 122h3M65 122h5M82 122h1M86 122h2M91 122h3M96 122h1M100 122h1M102 122h1M132 122h6M40 123h1M52 123h3M56 123h2M64 123h2M82 123h6M96 123h3M100 123h3M134 123h2M39 124h2M43 124h1M47 124h1M54 124h4M60 124h2M65 124h2M92 124h1M98 124h3M102 124h1M39 125h2M43 125h1M52 125h1M55 125h5M92 125h3M97 125h1M102 125h1M52 126h2M56 126h3M68 126h1M71 126h2M82 126h4M92 126h4M102 126h2M52 127h2M57 127h2M67 127h1M70 127h3M74 127h1M83 127h4M98 127h1M101 127h2M106 127h1M47 128h1M50 128h5M58 128h1M67 128h1M70 128h1M72 128h1M75 128h3M100 128h2M133 128h1M39 129h1M49 129h2M54 129h1M65 129h1M67 129h1M70 129h7M78 129h1M91 129h1M93 129h1M100 129h1M39 130h1M41 130h1M58 130h1M70 130h7M78 130h1M92 130h2M96 130h3M40 131h2M70 131h8M97 131h2M44 132h1M49 132h1M57 132h1M72 132h1M76 132h2M96 132h4M56 133h4M73 133h4M98 133h3M131 133h2M135 133h2M42 134h1M55 134h1M72 134h4M96 134h5M130 134h2M136 134h1M43 135h1M54 135h1M61 135h1M72 135h4M96 135h5M130 135h2M44 136h1M46 136h3M55 136h1M61 136h2M72 136h1M74 136h2M96 136h4M125 136h2M129 136h3M45 137h6M56 137h1M73 137h1M94 137h2M99 137h2M124 137h1M127 137h3M131 137h2M45 138h6M56 138h1M73 138h1M92 138h1M96 138h1M99 138h2M124 138h2M128 138h2M132 138h1M46 139h5M73 139h1M92 139h1M97 139h1M100 139h2M126 139h1M128 139h1M132 139h1M57 140h2M63 140h1M70 140h3M88 140h1M93 140h1M95 140h3M101 140h1M127 140h1M129 140h1M131 140h1M47 141h4M54 141h3M58 141h1M69 141h1M84 141h2M88 141h1M95 141h1M98 141h1M101 141h2M130 141h2M51 142h2M56 142h2M65 142h1M70 142h2M95 142h2M98 142h1M101 142h3M126 142h2M130 142h2M62 143h1M67 143h1M71 143h1M95 143h6M102 143h2M107 143h1M125 143h7M67 144h2M70 144h1M96 144h5M124 144h3M128 144h1M131 144h2M55 145h1M67 145h5M96 145h2M100 145h2M124 145h2M127 145h1M132 145h1M48 146h1M56 146h1M69 146h2M98 146h4M106 146h1M125 146h3M132 146h1M48 147h2M56 147h1M58 147h1M95 147h2M99 147h3M105 147h2M112 147h2M126 147h1M131 147h1M48 148h2M55 148h1M58 148h1M97 148h5M112 148h2M126 148h6M48 149h1M55 149h1M58 149h1M100 149h2M125 149h5M131 149h1M58 150h1M66 150h1M110 150h1M127 150h2M48 151h2M58 151h1M66 151h2M110 151h1M126 151h5M48 152h2M67 152h1M96 152h1M103 152h1M109 152h2M112 152h1M123 152h2M126 152h5M56 153h2M66 153h1M101 153h3M105 153h1M109 153h3M113 153h2M123 153h1M126 153h2M129 153h1M56 154h2M65 154h1M67 154h1M102 154h4M109 154h1M114 154h2M117 154h3M125 154h4M64 155h1M67 155h1M101 155h6M111 155h2M114 155h5M125 155h2M128 155h1M56 156h1M63 156h1M66 156h2M101 156h3M105 156h2M110 156h4M116 156h1M118 156h1M126 156h1M128 156h1M130 156h1M56 157h1M62 157h1M68 157h1M99 157h2M105 157h9M116 157h4M126 157h6M51 158h1M68 158h2M99 158h3M104 158h1M110 158h1M112 158h2M116 158h1M118 158h2M126 158h1M128 158h2M131 158h1M50 159h2M68 159h1M99 159h1M103 159h2M111 159h2M115 159h2M118 159h1M128 159h3M62 160h1M68 160h1M98 160h2M103 160h2M111 160h1M114 160h3M127 160h4M68 161h1M71 161h1M98 161h1M103 161h1M111 161h6M118 161h1M125 161h2M128 161h1M58 162h1M60 162h2M71 162h1M97 162h2M111 162h9M124 162h3M58 163h2M97 163h3M103 163h2M111 163h5M119 163h1M125 163h1M50 164h2M53 164h2M58 164h2M61 164h1M70 164h1M100 164h1M102 164h1M105 164h1M111 164h2M124 164h1M51 165h1M53 165h3M58 165h1M60 165h1M69 165h4M99 165h1M101 165h2M105 165h1M110 165h1M129 165h2M55 166h2M59 166h1M73 166h1M98 166h3M103 166h1M106 166h1M110 166h1M56 167h1M58 167h2M71 167h1M73 167h1M97 167h3M103 167h1M106 167h2M109 167h1M129 167h2M59 168h1M64 168h2M72 168h1M99 168h3M103 168h1M107 168h2M130 168h1M59 169h1M63 169h4M72 169h1M99 169h2M102 169h5M130 169h2M134 169h1M60 170h2M63 170h2M66 170h2M73 170h1M96 170h5M106 170h3M129 170h1M132 170h3M62 171h2M66 171h3M73 171h1M95 171h2M106 171h1M109 171h2M63 172h1M67 172h2M73 172h2M78 172h1M89 172h1M95 172h3M100 172h1M103 172h1M106 172h6M65 173h4M73 173h2M78 173h1M80 173h2M85 173h2M96 173h2M100 173h1M102 173h2M107 173h6M131 173h1M67 174h5M74 174h1M78 174h1M81 174h1M84 174h4M95 174h1M97 174h2M103 174h2M108 174h2M112 174h1M131 174h2M72 175h1M74 175h1M78 175h1M81 175h4M86 175h3M95 175h1M98 175h4M110 175h3M131 175h1M72 176h2M75 176h2M78 176h1M81 176h3M86 176h1M95 176h2M99 176h3M105 176h1M112 176h2M127 176h1M132 176h1M72 177h2M76 177h1M78 177h1M81 177h2M84 177h3M95 177h7M104 177h2M112 177h2M74 178h3M78 178h1M82 178h1M94 178h8M105 178h1M112 178h2M78 179h1M82 179h1M93 179h8M105 179h1M108 179h2M81 180h2M94 180h3M98 180h2M108 180h1M82 181h1M95 181h4M101 181h2M95 182h1M97 182h1M102 182h1M94 183h4M130 194h2M130 195h2M130 196h1M129 197h1M129 198h1M139 198h1M128 199h2M128 200h3M130 201h2M130 202h2M133 202h1M131 203h1M134 203h1M132 204h3"/>
<path stroke="#6abf9f" d="M48 7h1M47 8h2M53 8h1M56 8h4M47 9h2M55 9h2M63 9h1M59 10h1M63 10h1M66 10h3M59 11h1M63 11h1M69 11h3M63 12h3M70 12h2M74 12h1M76 12h1M60 13h2M75 13h2M78 13h1M58 14h1M74 14h2M78 14h3M368 14h1M47 15h1M51 15h1M53 15h1M66 15h1M73 15h1M75 15h3M80 15h1M92 15h1M364 15h1M48 16h2M56 16h1M70 16h1M73 16h3M77 16h1M80 16h1M86 16h1M91 16h1M363 16h1M366 16h1M48 17h2M72 17h2M75 17h2M79 17h1M86 17h3M99 17h1M103 17h2M373 17h1M49 18h1M74 18h3M79 18h1M87 18h3M99 18h2M103 18h2M108 18h1M361 18h1M368 18h1M371 18h1M373 18h1M41 19h1M49 19h1M74 19h3M78 19h1M99 19h1M104 19h1M108 19h1M110 19h2M370 19h2M41 20h2M45 20h1M75 20h4M99 20h1M109 20h1M111 20h1M125 20h2M369 20h2M373 20h1M28 21h2M42 21h4M49 21h1M63 21h1M75 21h1M78 21h1M93 21h1M97 21h2M105 21h1M121 21h1M125 21h2M130 21h1M366 21h1M373 21h2M42 22h2M45 22h2M48 22h1M71 22h6M78 22h1M94 22h1M98 22h1M106 22h1M110 22h1M114 22h3M118 22h2M127 22h3M361 22h3M373 22h2M43 23h1M46 23h2M72 23h1M77 23h2M91 23h1M104 23h1M106 23h1M111 23h7M119 23h1M127 23h1M129 23h2M360 23h2M364 23h1M370 23h1M374 23h3M43 24h1M46 24h1M61 24h1M71 24h2M78 24h2M87 24h1M91 24h1M95 24h1M105 24h4M112 24h1M127 24h4M364 24h1M368 24h3M373 24h2M43 25h2M46 25h1M54 25h1M61 25h1M71 25h1M79 25h1M88 25h1M91 25h3M95 25h2M100 25h1M107 25h1M112 25h1M128 25h2M363 25h1M369 25h1M371 25h2M376 25h1M39 26h1M43 26h1M46 26h2M55 26h1M57 26h1M71 26h2M79 26h1M83 26h2M86 26h12M100 26h2M105 26h1M107 26h1M112 26h1M118 26h1M120 26h3M128 26h3M368 26h2M371 26h1M374 26h4M40 27h1M43 27h1M45 27h3M60 27h1M63 27h1M71 27h1M84 27h1M86 27h1M88 27h2M94 27h4M100 27h2M106 27h2M111 27h2M120 27h1M123 27h1M127 27h2M131 27h1M359 27h2M363 27h3M368 27h4M374 27h4M43 28h4M57 28h1M63 28h1M72 28h3M83 28h1M85 28h1M88 28h2M97 28h1M101 28h1M106 28h2M110 28h2M120 28h1M122 28h1M127 28h4M360 28h2M364 28h1M368 28h1M374 28h2M46 29h1M50 29h1M55 29h1M63 29h1M71 29h2M83 29h1M85 29h1M89 29h1M94 29h1M100 29h3M106 29h1M109 29h3M119 29h3M123 29h2M126 29h5M362 29h3M44 30h1M49 30h1M63 30h1M70 30h3M75 30h1M84 30h1M89 30h2M93 30h3M99 30h5M106 30h1M111 30h1M118 30h1M121 30h1M123 30h6M361 30h2M376 30h1M44 31h1M70 31h1M73 31h1M75 31h1M80 31h4M90 31h4M96 31h1M100 31h6M112 31h2M119 31h1M121 31h1M125 31h2M361 31h1M365 31h3M45 32h1M57 32h2M70 32h1M73 32h1M75 32h2M80 32h2M83 32h1M90 32h1M97 32h1M101 32h1M104 32h1M116 32h2M120 32h1M360 32h1M365 32h4M45 33h3M57 33h2M62 33h1M65 33h1M67 33h10M80 33h1M97 33h1M101 33h1M104 33h1M108 33h1M115 33h3M365 33h4M45 34h1M55 34h1M58 34h1M61 34h1M64 34h7M74 34h1M76 34h3M97 34h1M99 34h1M102 34h3M107 34h1M110 34h2M115 34h2M130 34h1M44 35h1M66 35h5M74 35h1M77 35h2M99 35h1M101 35h5M111 35h2M116 35h1M44 36h1M60 36h1M66 36h2M69 36h2M73 36h2M76 36h5M95 36h3M100 36h2M108 36h1M112 36h1M115 36h1M44 37h1M53 37h1M60 37h1M63 37h1M65 37h1M67 37h1M72 37h1M75 37h3M80 37h1M89 37h1M101 37h1M108 37h2M112 37h1M115 37h1M118 37h1M44 38h1M50 38h1M60 38h5M67 38h3M73 38h1M77 38h1M80 38h4M89 38h2M95 38h1M108 38h2M112 38h2M116 38h4M371 38h1M42 39h1M45 39h1M49 39h2M62 39h5M68 39h1M73 39h1M75 39h3M80 39h1M82 39h1M89 39h3M95 39h2M101 39h6M108 39h2M111 39h1M113 39h6M42 40h3M49 40h2M62 40h1M75 40h2M83 40h3M89 40h4M95 40h2M101 40h4M106 40h4M111 40h4M117 40h2M120 40h1M42 41h1M47 41h1M50 41h1M60 41h3M66 41h2M75 41h5M84 41h2M89 41h1M91 41h1M93 41h1M101 41h1M103 41h2M106 41h1M111 41h2M117 41h3M124 41h1M39 42h4M46 42h2M49 42h1M54 42h1M61 42h1M66 42h2M75 42h5M83 42h4M88 42h2M92 42h2M101 42h1M103 42h4M110 42h3M114 42h1M116 42h3M371 42h3M39 43h1M49 43h1M59 43h1M61 43h1M66 43h3M75 43h1M83 43h4M88 43h1M100 43h4M110 43h5M117 43h1M119 43h4M371 43h3M40 44h1M58 44h1M62 44h2M66 44h2M70 44h4M93 44h1M99 44h4M111 44h1M113 44h3M117 44h1M121 44h3M372 44h1M36 45h1M40 45h1M67 45h1M70 45h1M72 45h1M86 45h1M90 45h3M94 45h1M100 45h2M112 45h1M114 45h1M116 45h2M119 45h1M121 45h2M124 45h1M127 45h1M130 45h1M132 45h3M59 46h1M69 46h1M72 46h1M74 46h1M90 46h3M116 46h1M121 46h2M124 46h8M134 46h1M33 47h3M56 47h1M61 47h2M69 47h1M71 47h1M121 47h1M124 47h2M128 47h6M31 48h1M68 48h3M124 48h2M128 48h1M130 48h3M31 49h1M63 49h1M66 49h4M116 49h1M127 49h4M132 49h1M31 50h2M62 50h2M65 50h5M85 50h2M121 50h1M126 50h5M132 50h1M32 51h2M35 51h1M61 51h1M65 51h2M68 51h1M74 51h1M77 51h1M85 51h1M114 51h1M116 51h1M119 51h3M126 51h1M129 51h1M132 51h1M32 52h1M39 52h1M57 52h2M61 52h2M64 52h2M68 52h3M74 52h1M85 52h1M114 52h1M117 52h5M124 52h1M129 52h1M32 53h1M39 53h1M56 53h3M60 53h10M76 53h1M82 53h2M109 53h1M113 53h1M118 53h3M129 53h1M29 54h1M32 54h1M39 54h1M55 54h4M61 54h2M64 54h2M67 54h1M69 54h2M73 54h1M76 54h3M83 54h1M88 54h1M109 54h2M119 54h2M124 54h1M31 55h3M37 55h1M48 55h1M54 55h2M62 55h1M64 55h1M67 55h1M70 55h2M73 55h1M89 55h1M110 55h1M121 55h1M123 55h2M31 56h2M37 56h1M55 56h1M62 56h1M66 56h8M82 56h3M87 56h3M113 56h1M120 56h5M131 56h1M27 57h1M30 57h3M37 57h1M47 57h1M54 57h2M63 57h1M65 57h2M69 57h2M73 57h3M82 57h2M88 57h1M120 57h4M21 58h1M26 58h2M30 58h1M54 58h2M67 58h3M71 58h1M73 58h2M82 58h2M87 58h3M121 58h1M128 58h1M132 58h2M21 59h2M26 59h3M30 59h1M53 59h3M69 59h2M72 59h2M82 59h8M118 59h1M127 59h1M132 59h1M134 59h1M22 60h5M29 60h2M37 60h1M43 60h1M47 60h1M53 60h3M71 60h4M78 60h1M88 60h2M94 60h1M115 60h1M117 60h1M133 60h2M19 61h1M22 61h1M25 61h3M45 61h2M53 61h1M55 61h4M74 61h2M88 61h2M115 61h1M21 62h2M24 62h4M35 62h1M56 62h1M75 62h1M79 62h5M87 62h1M101 62h1M114 62h1M127 62h1M134 62h2M24 63h1M26 63h1M28 63h3M35 63h1M53 63h1M55 63h5M62 63h1M87 63h1M89 63h1M100 63h2M114 63h1M117 63h2M120 63h2M123 63h1M125 63h1M129 63h1M133 63h2M25 64h2M32 64h1M35 64h1M62 64h2M65 64h1M88 64h1M100 64h1M110 64h1M113 64h1M115 64h5M124 64h1M130 64h1M133 64h3M22 65h1M53 65h1M65 65h2M102 65h1M116 65h2M119 65h1M124 65h1M133 65h1M135 65h1M21 66h2M24 66h1M39 66h1M53 66h1M61 66h1M64 66h2M102 66h1M120 66h1M122 66h1M127 66h1M133 66h2M19 67h1M21 67h1M31 67h1M34 67h1M39 67h2M45 67h1M53 67h1M56 67h1M60 67h1M64 67h2M103 67h1M115 67h1M117 67h3M121 67h2M19 68h1M21 68h1M27 68h1M31 68h3M35 68h1M39 68h3M44 68h2M58 68h1M61 68h2M103 68h1M114 68h1M119 68h2M122 68h1M128 68h1M18 69h3M22 69h1M26 69h1M28 69h1M30 69h5M41 69h2M45 69h1M57 69h3M62 69h2M68 69h2M113 69h1M121 69h3M129 69h2M17 70h3M22 70h2M26 70h1M29 70h1M31 70h1M34 70h3M54 70h1M60 70h3M64 70h1M69 70h1M111 70h2M122 70h2M132 70h2M16 71h4M23 71h4M28 71h2M36 71h1M69 71h1M110 71h1M122 71h2M133 71h1M18 72h3M27 72h2M36 72h1M45 72h1M58 72h1M70 72h1M122 72h2M133 72h2M18 73h1M20 73h4M29 73h2M36 73h2M50 73h1M57 73h2M70 73h1M134 73h1M18 74h1M20 74h1M22 74h2M25 74h1M37 74h2M56 74h3M70 74h2M110 74h1M135 74h1M31 75h1M52 75h1M56 75h2M69 75h2M109 75h1M134 75h3M34 76h1M53 76h1M56 76h3M68 76h2M76 76h3M80 76h2M110 76h1M131 76h1M134 76h1M136 76h2M31 77h1M33 77h1M58 77h1M67 77h3M76 77h5M113 77h5M131 77h1M136 77h2M39 78h1M58 78h1M68 78h2M76 78h2M112 78h5M137 78h4M28 79h2M33 79h1M40 79h3M54 79h1M59 79h1M69 79h1M74 79h1M111 79h1M113 79h3M121 79h2M139 79h2M35 80h1M42 80h1M59 80h2M76 80h2M113 80h2M137 80h1M57 81h3M77 81h1M113 81h2M121 81h3M137 81h1M34 82h1M39 82h2M56 82h4M78 82h1M112 82h3M138 82h1M34 83h2M54 83h1M56 83h4M73 83h1M79 83h1M110 83h3M114 83h1M135 83h2M34 84h1M54 84h1M56 84h2M60 84h1M74 84h1M77 84h1M79 84h2M109 84h1M111 84h1M113 84h1M135 84h3M40 85h1M53 85h2M69 85h6M77 85h1M80 85h1M105 85h2M108 85h1M135 85h2M34 86h1M36 86h5M53 86h2M61 86h1M63 86h1M68 86h1M71 86h2M78 86h1M134 86h2M35 87h1M41 87h1M43 87h2M48 87h1M53 87h2M63 87h2M67 87h1M71 87h2M76 87h3M103 87h2M121 87h2M128 87h1M135 87h1M35 88h1M41 88h1M45 88h1M48 88h2M63 88h4M76 88h2M103 88h3M119 88h3M128 88h2M134 88h2M32 89h1M41 89h1M47 89h3M62 89h5M103 89h1M105 89h2M119 89h3M127 89h1M134 89h2M60 90h2M63 90h2M103 90h1M106 90h3M118 90h4M126 90h1M134 90h2M35 91h1M58 91h3M63 91h3M105 91h4M118 91h1M121 91h2M134 91h2M138 91h1M37 92h1M41 92h1M43 92h1M45 92h1M58 92h2M61 92h5M70 92h2M80 92h1M106 92h1M116 92h2M122 92h1M135 92h2M138 92h3M58 93h1M61 93h4M68 93h1M73 93h2M78 93h3M117 93h1M122 93h2M135 93h1M57 94h3M65 94h1M74 94h1M79 94h1M107 94h3M116 94h1M122 94h2M135 94h3M38 95h2M65 95h1M79 95h3M108 95h2M112 95h1M116 95h1M121 95h3M137 95h1M38 96h1M50 96h2M65 96h1M68 96h1M77 96h1M81 96h1M108 96h1M121 96h2M137 96h1M38 97h1M51 97h1M65 97h1M76 97h1M80 97h1M113 97h1M121 97h2M136 97h1M51 98h2M80 98h2M107 98h1M110 98h1M113 98h2M121 98h3M134 98h2M32 99h1M38 99h1M45 99h1M51 99h2M57 99h2M66 99h1M76 99h1M80 99h2M107 99h1M109 99h2M113 99h2M120 99h5M128 99h1M131 99h3M32 100h1M35 100h1M45 100h1M50 100h1M58 100h1M67 100h1M76 100h1M107 100h4M113 100h1M116 100h1M120 100h1M123 100h2M128 100h1M132 100h1M137 100h1M32 101h1M50 101h1M68 101h1M107 101h3M111 101h1M113 101h2M117 101h4M124 101h1M128 101h1M36 102h2M40 102h1M50 102h1M53 102h1M55 102h1M59 102h1M107 102h1M111 102h1M114 102h4M120 102h2M124 102h5M134 102h1M33 103h1M35 103h2M50 103h1M65 103h1M71 103h1M82 103h1M107 103h1M113 103h4M118 103h2M123 103h3M127 103h2M132 103h5M33 104h2M37 104h1M50 104h1M63 104h1M82 104h1M107 104h1M115 104h2M118 104h1M123 104h2M127 104h2M133 104h1M136 104h2M53 105h1M107 105h1M114 105h3M128 105h1M133 105h1M38 106h2M46 106h1M54 106h1M69 106h1M71 106h1M113 106h4M127 106h1M129 106h1M133 106h1M38 107h1M44 107h3M51 107h1M55 107h3M62 107h1M70 107h1M108 107h1M113 107h3M117 107h3M127 107h1M59 108h1M63 108h1M65 108h1M73 108h1M81 108h2M108 108h2M112 108h3M118 108h2M127 108h1M135 108h1M38 109h1M43 109h1M62 109h3M71 109h1M79 109h1M81 109h4M107 109h1M109 109h1M113 109h1M119 109h1M128 109h8M41 110h2M54 110h1M62 110h1M65 110h1M78 110h1M82 110h4M107 110h1M112 110h2M129 110h1M132 110h4M38 111h1M40 111h1M50 111h1M54 111h1M62 111h1M65 111h2M70 111h1M78 111h1M82 111h1M84 111h1M107 111h1M109 111h1M113 111h1M121 111h1M132 111h2M40 112h1M62 112h3M67 112h2M79 112h1M84 112h1M107 112h3M113 112h1M121 112h2M127 112h2M131 112h1M135 112h1M40 113h1M46 113h1M62 113h3M72 113h1M80 113h1M83 113h1M87 113h1M100 113h1M106 113h1M108 113h2M112 113h2M127 113h3M131 113h5M138 113h5M38 114h2M45 114h1M62 114h2M72 114h1M82 114h2M89 114h4M100 114h2M112 114h2M126 114h4M138 114h3M63 115h2M70 115h1M73 115h1M75 115h1M78 115h2M82 115h1M88 115h2M93 115h1M100 115h2M113 115h1M126 115h1M129 115h1M139 115h1M39 116h1M65 116h3M69 116h2M73 116h2M76 116h1M78 116h3M82 116h1M84 116h1M87 116h1M93 116h2M96 116h3M110 116h1M126 116h1M130 116h2M39 117h1M55 117h3M66 117h5M73 117h1M76 117h4M83 117h1M85 117h2M88 117h1M94 117h5M126 117h4M132 117h1M40 118h2M46 118h1M48 118h1M53 118h5M62 118h2M66 118h2M69 118h1M76 118h1M78 118h2M84 118h3M95 118h2M105 118h1M127 118h1M132 118h1M40 119h2M52 119h2M56 119h1M63 119h1M65 119h1M67 119h3M75 119h2M79 119h1M86 119h2M89 119h1M95 119h1M104 119h3M124 119h1M128 119h1M130 119h1M132 119h2M40 120h1M53 120h1M56 120h2M65 120h1M68 120h2M79 120h1M87 120h1M94 120h3M101 120h1M103 120h3M125 120h2M130 120h5M39 121h2M51 121h4M56 121h2M64 121h4M74 121h1M79 121h1M81 121h1M87 121h1M95 121h1M101 121h1M103 121h2M125 121h1M127 121h2M131 121h1M135 121h4M39 122h1M49 122h1M54 122h5M64 122h1M70 122h5M78 122h2M81 122h1M89 122h1M94 122h2M101 122h1M103 122h2M131 122h1M138 122h1M140 122h1M39 123h1M43 123h1M55 123h1M60 123h2M67 123h1M71 123h5M79 123h1M81 123h1M90 123h6M103 123h1M131 123h3M136 123h4M62 124h1M64 124h1M71 124h3M82 124h6M91 124h1M93 124h5M103 124h1M130 124h9M38 125h1M46 125h1M71 125h2M78 125h2M82 125h5M91 125h1M95 125h2M103 125h1M106 125h1M130 125h9M38 126h3M46 126h1M67 126h1M69 126h2M73 126h1M79 126h3M86 126h1M88 126h4M96 126h2M106 126h2M116 126h1M130 126h6M137 126h2M40 127h1M44 127h1M46 127h1M75 127h1M80 127h3M88 127h1M91 127h7M103 127h1M107 127h1M128 127h1M133 127h2M39 128h1M44 128h1M64 128h1M71 128h1M78 128h1M80 128h9M91 128h3M96 128h4M102 128h1M106 128h1M126 128h3M132 128h1M134 128h1M38 129h1M48 129h1M53 129h1M66 129h1M79 129h2M82 129h2M87 129h2M90 129h1M94 129h1M96 129h4M101 129h2M127 129h2M132 129h3M59 130h1M79 130h2M85 130h2M89 130h1M91 130h1M94 130h2M99 130h4M125 130h1M127 130h1M132 130h1M136 130h2M39 131h1M78 131h1M80 131h1M83 131h1M95 131h2M99 131h3M109 131h1M119 131h1M127 131h1M132 131h6M41 132h1M78 132h3M83 132h1M90 132h1M93 132h1M95 132h1M100 132h2M109 132h1M127 132h1M132 132h6M45 133h1M77 133h4M83 133h1M89 133h5M95 133h1M101 133h1M109 133h1M133 133h2M137 133h1M50 134h1M56 134h1M76 134h3M95 134h1M101 134h1M109 134h1M128 134h2M132 134h4M137 134h1M42 135h1M53 135h1M55 135h1M78 135h1M84 135h2M95 135h1M101 135h1M126 135h1M128 135h2M132 135h2M135 135h3M42 136h2M56 136h1M73 136h1M88 136h2M94 136h2M100 136h1M124 136h1M127 136h2M132 136h1M43 137h2M74 137h3M88 137h2M92 137h2M96 137h1M98 137h1M101 137h1M110 137h1M133 137h1M44 138h1M74 138h1M79 138h1M91 138h1M97 138h2M101 138h1M123 138h1M133 138h1M45 139h1M74 139h1M81 139h2M87 139h2M90 139h2M124 139h2M133 139h1M46 140h1M73 140h2M76 140h1M84 140h2M87 140h1M89 140h4M102 140h2M108 140h1M125 140h2M128 140h1M132 140h1M46 141h1M57 141h1M63 141h2M70 141h3M74 141h3M86 141h2M89 141h2M93 141h2M96 141h2M103 141h1M107 141h3M127 141h1M129 141h1M132 141h1M46 142h3M55 142h1M72 142h1M74 142h3M84 142h5M94 142h1M97 142h1M107 142h2M125 142h1M128 142h2M132 142h1M47 143h2M55 143h1M65 143h1M72 143h1M75 143h2M93 143h2M106 143h1M108 143h2M124 143h1M132 143h1M48 144h1M55 144h1M71 144h1M85 144h2M93 144h3M106 144h1M127 144h1M133 144h2M48 145h1M61 145h1M66 145h1M72 145h1M85 145h2M94 145h2M98 145h2M102 145h1M106 145h1M126 145h1M133 145h1M47 146h1M55 146h1M59 146h1M66 146h3M71 146h1M95 146h1M102 146h1M105 146h1M113 146h1M120 146h1M47 147h1M55 147h1M67 147h5M102 147h1M120 147h1M125 147h1M127 147h1M132 147h1M47 148h1M66 148h4M94 148h3M105 148h1M114 148h1M117 148h2M120 148h3M125 148h1M132 148h1M47 149h1M49 149h1M66 149h4M94 149h1M98 149h2M105 149h1M109 149h1M112 149h1M116 149h5M130 149h1M132 149h2M47 150h3M55 150h1M67 150h3M100 150h2M115 150h1M117 150h4M125 150h2M129 150h4M47 151h1M53 151h1M68 151h3M96 151h1M99 151h3M112 151h1M114 151h2M120 151h2M123 151h3M131 151h1M58 152h1M66 152h1M68 152h1M95 152h1M97 152h1M100 152h3M105 152h1M111 152h1M113 152h3M119 152h4M125 152h1M131 152h1M134 152h1M48 153h1M58 153h1M67 153h1M96 153h2M115 153h1M117 153h4M122 153h1M124 153h2M130 153h2M134 153h2M55 154h1M58 154h1M101 154h1M116 154h1M120 154h1M123 154h2M129 154h2M135 154h1M55 155h1M58 155h1M60 155h1M100 155h1M119 155h1M124 155h1M129 155h2M55 156h1M62 156h1M70 156h2M100 156h1M104 156h1M107 156h2M114 156h2M119 156h1M125 156h1M129 156h1M131 156h1M51 157h1M55 157h1M70 157h2M101 157h1M103 157h2M114 157h2M125 157h1M50 158h1M56 158h2M92 158h2M98 158h1M102 158h2M114 158h2M120 158h1M56 159h1M69 159h1M91 159h4M98 159h1M113 159h2M119 159h1M126 159h1M131 159h3M69 160h3M92 160h3M112 160h2M119 160h1M126 160h1M131 160h3M50 161h1M60 161h1M72 161h1M92 161h1M97 161h1M119 161h1M124 161h1M127 161h1M129 161h1M49 162h2M59 162h1M72 162h2M78 162h2M96 162h1M127 162h3M51 163h1M60 163h2M71 163h1M73 163h2M76 163h5M116 163h1M118 163h1M120 163h1M124 163h1M126 163h1M52 164h1M55 164h1M60 164h1M71 164h1M75 164h1M79 164h1M97 164h3M103 164h2M113 164h1M115 164h2M118 164h3M125 164h1M129 164h1M52 165h1M56 165h2M73 165h1M75 165h1M97 165h2M103 165h2M111 165h2M116 165h4M124 165h2M53 166h2M57 166h1M97 166h1M101 166h2M104 166h2M111 166h2M55 167h1M92 167h1M96 167h1M100 167h3M104 167h2M110 167h3M131 167h1M56 168h1M73 168h1M92 168h1M95 168h4M102 168h1M104 168h3M109 168h3M131 168h1M73 169h1M85 169h1M92 169h1M95 169h2M98 169h1M107 169h4M132 169h2M135 169h1M74 170h1M81 170h2M90 170h2M95 170h1M109 170h2M130 170h2M135 170h1M74 171h1M80 171h4M89 171h3M107 171h2M111 171h2M129 171h1M133 171h1M75 172h3M79 172h7M88 172h1M90 172h1M99 172h1M112 172h2M75 173h3M82 173h3M87 173h3M94 173h2M113 173h1M130 173h1M132 173h1M76 174h2M82 174h2M88 174h2M94 174h1M99 174h1M106 174h1M113 174h2M130 174h1M133 174h1M69 175h3M75 175h3M80 175h1M89 175h3M94 175h1M109 175h1M113 175h1M126 175h2M130 175h1M133 175h1M71 176h1M77 176h1M87 176h4M94 176h1M111 176h1M114 176h1M126 176h1M128 176h1M130 176h2M77 177h1M83 177h1M87 177h1M89 177h2M94 177h1M111 177h1M114 177h1M128 177h1M77 178h1M81 178h1M83 178h1M86 178h2M89 178h1M91 178h3M108 178h4M114 178h1M132 178h2M76 179h2M81 179h1M83 179h1M86 179h2M89 179h4M110 179h3M131 179h3M77 180h2M83 180h1M88 180h4M107 180h1M109 180h2M81 181h1M87 181h1M91 181h1M94 181h1M100 181h1M86 182h2M90 182h2M94 182h1M96 182h1M98 182h1M130 188h2M130 189h1M131 192h1M130 193h3M129 195h1M132 195h1M135 195h2M129 196h1M131 196h1M135 196h3M128 197h1M130 197h2M135 197h3M139 197h1M128 198h1M130 198h2M134 198h5M130 199h2M138 199h3M131 200h1M139 200h2M132 201h1M139 201h3M134 202h1M139 202h2M135 203h1"/>
<path stroke="#6cc29a" d="M21 3h1M21 4h2M48 6h1M47 7h1M52 7h1M19 8h1M46 8h1M19 9h2M46 9h1M54 9h1M57 9h2M61 9h2M45 10h4M58 10h1M60 10h3M43 11h5M58 11h1M62 11h1M66 11h1M20 12h1M29 12h1M42 12h2M45 12h2M58 12h2M61 12h2M69 12h1M75 12h1M20 13h1M45 13h1M48 13h1M58 13h1M73 13h2M80 13h3M39 14h1M45 14h4M52 14h1M68 14h2M73 14h1M81 14h2M85 14h3M39 15h1M46 15h1M48 15h3M52 15h1M67 15h1M85 15h4M363 15h1M368 15h1M39 16h1M43 16h2M46 16h2M72 16h1M76 16h1M87 16h2M92 16h1M98 16h1M362 16h1M39 17h1M44 17h4M55 17h1M80 17h2M85 17h1M97 17h2M100 17h1M361 17h2M374 17h1M28 18h3M40 18h1M44 18h5M80 18h2M83 18h4M97 18h2M101 18h2M109 18h3M29 19h2M40 19h1M42 19h1M44 19h2M48 19h1M51 19h1M79 19h1M83 19h1M87 19h2M97 19h2M100 19h4M109 19h1M112 19h4M118 19h1M369 19h1M27 20h3M40 20h1M43 20h2M46 20h1M48 20h1M79 20h3M86 20h2M92 20h2M97 20h2M100 20h5M108 20h1M110 20h1M112 20h3M119 20h3M124 20h1M27 21h1M40 21h2M46 21h3M61 21h1M79 21h2M86 21h2M91 21h2M99 21h3M104 21h1M108 21h7M118 21h3M127 21h3M131 21h2M28 22h2M40 22h2M47 22h1M53 22h1M61 22h1M63 22h1M88 22h1M91 22h2M95 22h1M97 22h1M99 22h4M104 22h2M111 22h3M117 22h1M120 22h3M125 22h2M130 22h2M360 22h1M364 22h3M42 23h1M61 23h1M73 23h1M75 23h2M79 23h1M87 23h4M95 23h2M98 23h5M105 23h1M108 23h1M118 23h1M120 23h3M125 23h1M131 23h1M367 23h1M51 24h1M76 24h2M84 24h1M86 24h1M88 24h3M96 24h2M99 24h4M104 24h1M109 24h1M113 24h1M115 24h5M122 24h1M125 24h2M131 24h1M375 24h2M39 25h4M63 25h1M72 25h1M77 25h2M83 25h1M89 25h2M97 25h1M99 25h1M101 25h1M105 25h2M113 25h1M117 25h6M126 25h1M130 25h2M368 25h1M373 25h3M54 26h1M56 26h1M61 26h1M63 26h1M78 26h1M99 26h1M106 26h1M113 26h3M117 26h1M119 26h1M123 26h1M131 26h1M363 26h2M372 26h2M39 27h1M55 27h1M57 27h1M73 27h1M79 27h1M83 27h1M87 27h1M99 27h1M105 27h1M113 27h1M119 27h1M367 27h1M372 27h2M40 28h3M55 28h1M80 28h3M99 28h1M102 28h1M105 28h1M112 28h2M119 28h1M126 28h1M131 28h1M365 28h3M369 28h5M376 28h2M43 29h3M59 29h1M80 29h3M99 29h1M105 29h1M112 29h2M118 29h1M122 29h1M365 29h7M374 29h4M43 30h1M59 30h1M80 30h4M98 30h1M104 30h2M113 30h2M122 30h1M129 30h2M363 30h9M375 30h1M377 30h1M43 31h1M47 31h1M59 31h1M71 31h2M84 31h1M89 31h1M98 31h1M115 31h1M117 31h2M122 31h3M127 31h5M133 31h1M362 31h1M364 31h1M368 31h2M371 31h1M375 31h2M43 32h2M47 32h1M71 32h2M82 32h1M89 32h1M93 32h1M98 32h1M102 32h2M118 32h2M121 32h5M130 32h2M359 32h1M361 32h2M364 32h1M369 32h1M371 32h1M43 33h1M78 33h1M81 33h1M83 33h1M90 33h1M102 33h2M118 33h1M120 33h1M123 33h2M129 33h3M364 33h1M369 33h1M377 33h2M44 34h1M75 34h1M79 34h2M94 34h1M108 34h2M117 34h2M125 34h1M128 34h2M131 34h1M365 34h3M377 34h2M60 35h1M75 35h2M79 35h4M97 35h1M106 35h3M110 35h1M117 35h1M130 35h1M204 35h1M376 35h2M48 36h1M51 36h2M81 36h2M90 36h1M98 36h2M102 36h1M105 36h3M109 36h3M116 36h5M123 36h3M357 36h1M50 37h1M66 37h1M70 37h1M73 37h2M81 37h2M90 37h1M95 37h4M100 37h1M102 37h1M106 37h2M110 37h2M116 37h2M119 37h7M371 37h1M374 37h1M41 38h1M49 38h1M65 38h2M74 38h3M91 38h1M96 38h12M110 38h2M120 38h1M123 38h3M360 38h4M370 38h1M40 39h2M44 39h1M60 39h2M69 39h1M83 39h3M97 39h4M107 39h1M110 39h1M120 39h1M123 39h2M360 39h2M370 39h2M40 40h2M60 40h2M69 40h1M94 40h1M97 40h4M110 40h1M115 40h2M123 40h3M360 40h2M365 40h1M370 40h1M39 41h3M49 41h1M54 41h1M86 41h1M90 41h1M94 41h1M96 41h5M107 41h4M113 41h4M120 41h4M125 41h1M360 41h2M372 41h2M36 42h1M59 42h1M70 42h1M74 42h1M90 42h2M94 42h1M99 42h2M107 42h1M109 42h1M113 42h1M115 42h1M119 42h5M370 42h1M36 43h1M60 43h1M87 43h1M89 43h8M99 43h1M104 43h6M115 43h2M123 43h1M34 44h3M55 44h1M59 44h1M64 44h2M87 44h6M95 44h1M103 44h3M110 44h1M112 44h1M116 44h1M124 44h5M131 44h1M133 44h2M371 44h1M373 44h1M34 45h2M56 45h1M59 45h1M62 45h1M66 45h1M71 45h1M74 45h1M87 45h3M99 45h1M102 45h1M110 45h2M113 45h1M118 45h1M125 45h2M128 45h2M371 45h2M33 46h4M62 46h1M70 46h2M88 46h2M93 46h2M99 46h4M109 46h1M114 46h1M32 47h1M36 47h1M60 47h1M70 47h1M91 47h2M98 47h3M108 47h1M114 47h1M116 47h1M120 47h1M134 47h1M39 48h1M63 48h1M100 48h1M116 48h1M121 48h1M133 48h2M10 49h2M14 49h3M30 49h1M39 49h1M64 49h1M86 49h1M91 49h1M121 49h1M133 49h2M10 50h1M14 50h2M26 50h1M30 50h1M35 50h1M39 50h1M64 50h1M91 50h3M108 50h1M114 50h1M116 50h1M120 50h1M133 50h2M25 51h2M30 51h2M39 51h1M62 51h3M67 51h1M78 51h1M87 51h1M94 51h1M112 51h1M125 51h1M130 51h2M133 51h2M136 51h3M25 52h1M31 52h1M63 52h1M66 52h2M77 52h1M94 52h2M113 52h1M125 52h1M136 52h2M15 53h2M29 53h3M36 53h1M74 53h2M77 53h2M88 53h3M94 53h2M108 53h1M110 53h1M112 53h1M15 54h2M30 54h2M59 54h2M68 54h1M89 54h2M92 54h4M108 54h1M111 54h3M130 54h1M28 55h3M38 55h1M56 55h4M61 55h1M65 55h1M68 55h2M90 55h6M107 55h3M111 55h3M122 55h1M130 55h2M30 56h1M38 56h1M52 56h1M56 56h6M65 56h1M74 56h2M90 56h1M94 56h1M107 56h2M110 56h1M112 56h1M129 56h2M132 56h2M26 57h1M29 57h1M39 57h1M53 57h1M56 57h1M71 57h2M89 57h1M113 57h2M131 57h3M20 58h1M22 58h1M25 58h1M28 58h2M38 58h1M40 58h1M53 58h1M56 58h1M64 58h3M72 58h1M90 58h1M94 58h1M96 58h1M114 58h1M131 58h1M134 58h1M19 59h2M23 59h3M29 59h1M56 59h2M67 59h2M90 59h1M93 59h2M110 59h3M114 59h1M125 59h2M131 59h1M135 59h1M19 60h3M56 60h3M60 60h1M68 60h3M84 60h1M86 60h2M93 60h1M111 60h4M131 60h2M135 60h1M18 61h1M20 61h2M23 61h2M36 61h2M44 61h1M54 61h1M59 61h3M70 61h4M78 61h1M86 61h2M94 61h1M112 61h3M128 61h3M133 61h3M18 62h2M23 62h1M53 62h3M57 62h5M70 62h1M74 62h1M77 62h1M97 62h2M100 62h1M102 62h1M112 62h2M130 62h1M133 62h1M136 62h1M21 63h3M27 63h1M63 63h3M68 63h3M76 63h1M79 63h5M97 63h1M99 63h1M102 63h1M109 63h5M122 63h1M126 63h1M130 63h1M136 63h1M21 64h4M27 64h5M64 64h1M66 64h1M69 64h2M80 64h1M84 64h1M101 64h2M109 64h1M111 64h2M114 64h1M120 64h4M125 64h2M136 64h1M21 65h1M23 65h9M39 65h1M62 65h3M84 65h1M101 65h1M103 65h1M109 65h7M120 65h4M134 65h1M20 66h1M23 66h1M25 66h7M40 66h1M62 66h2M66 66h1M104 66h1M113 66h5M121 66h1M123 66h1M135 66h1M18 67h1M22 67h1M24 67h7M41 67h1M44 67h1M54 67h1M61 67h3M66 67h1M102 67h1M104 67h1M111 67h4M116 67h1M120 67h1M127 67h1M133 67h3M18 68h1M22 68h1M24 68h3M28 68h3M34 68h1M38 68h1M42 68h2M53 68h1M56 68h1M63 68h7M104 68h1M111 68h1M113 68h1M121 68h1M135 68h1M17 69h1M23 69h1M25 69h1M29 69h1M36 69h1M39 69h2M53 69h2M64 69h4M70 69h1M103 69h2M111 69h2M124 69h1M128 69h1M131 69h6M15 70h2M24 70h2M33 70h1M37 70h1M41 70h1M45 70h1M49 70h1M53 70h1M57 70h3M65 70h2M68 70h1M104 70h1M110 70h1M126 70h2M134 70h2M15 71h1M41 71h1M47 71h1M53 71h2M57 71h8M66 71h1M70 71h1M103 71h2M134 71h2M17 72h1M29 72h2M47 72h1M50 72h1M57 72h1M59 72h2M69 72h1M71 72h1M104 72h1M109 72h1M135 72h2M59 73h1M69 73h1M71 73h1M109 73h1M135 73h2M17 74h1M21 74h1M24 74h1M31 74h1M51 74h1M59 74h1M68 74h2M81 74h1M109 74h1M136 74h2M17 75h7M26 75h1M41 75h1M58 75h2M61 75h2M68 75h1M71 75h1M80 75h1M82 75h1M137 75h1M39 76h1M41 76h1M59 76h4M67 76h1M70 76h2M75 76h1M79 76h1M109 76h1M135 76h1M138 76h1M27 77h1M39 77h1M42 77h1M55 77h1M59 77h3M70 77h1M75 77h1M81 77h1M110 77h1M138 77h2M40 78h1M54 78h2M59 78h2M67 78h1M70 78h1M74 78h2M78 78h1M111 78h1M55 79h1M60 79h2M68 79h1M70 79h1M75 79h4M112 79h1M137 79h2M33 80h1M54 80h2M61 80h1M78 80h1M111 80h2M121 80h2M138 80h1M54 81h2M60 81h1M78 81h2M112 81h1M138 81h1M54 82h1M73 82h1M79 82h1M108 82h4M40 83h1M55 83h1M60 83h1M80 83h1M108 83h2M113 83h1M40 84h1M48 84h1M55 84h1M71 84h2M105 84h4M112 84h1M138 84h1M39 85h1M48 85h2M61 85h2M68 85h1M104 85h1M107 85h1M137 85h1M48 86h2M64 86h2M67 86h1M79 86h1M104 86h1M136 86h1M34 87h1M42 87h1M49 87h1M65 87h2M102 87h1M124 87h2M127 87h1M136 87h1M143 87h2M32 88h3M44 88h1M102 88h1M127 88h1M31 89h1M33 89h2M46 89h1M67 89h1M102 89h1M126 89h1M139 89h1M32 90h1M34 90h1M42 90h1M49 90h1M62 90h1M66 90h1M68 90h1M102 90h1M122 90h2M125 90h1M140 90h1M42 91h1M44 91h2M50 91h1M61 91h2M66 91h1M103 91h2M119 91h2M136 91h1M36 92h1M42 92h1M66 92h1M105 92h1M118 92h4M137 92h1M37 93h1M41 93h2M48 93h1M51 93h1M66 93h1M106 93h1M111 93h1M118 93h4M136 93h3M40 94h1M42 94h1M46 94h1M48 94h1M51 94h1M66 94h1M80 94h2M106 94h1M110 94h1M117 94h5M138 94h1M140 94h1M46 95h4M51 95h1M82 95h1M106 95h2M110 95h1M117 95h1M119 95h2M138 95h1M32 96h1M39 96h1M41 96h1M46 96h1M49 96h1M79 96h1M82 96h1M107 96h1M112 96h1M119 96h2M32 97h2M49 97h1M68 97h1M81 97h1M107 97h1M110 97h1M112 97h1M119 97h2M137 97h1M32 98h1M37 98h1M49 98h1M70 98h1M76 98h1M82 98h1M105 98h2M116 98h1M119 98h2M129 98h1M137 98h1M37 99h1M106 99h1M116 99h1M119 99h1M134 99h1M137 99h1M38 100h1M79 100h2M119 100h1M131 100h1M133 100h3M138 100h1M36 101h2M40 101h1M59 101h1M79 101h2M112 101h1M131 101h7M38 102h1M60 102h1M70 102h1M76 102h1M79 102h4M113 102h1M131 102h3M135 102h2M38 103h1M46 103h1M53 103h1M79 103h3M111 103h1M117 103h1M120 103h2M126 103h1M130 103h1M137 103h1M36 104h1M38 104h1M53 104h1M62 104h1M81 104h1M117 104h1M122 104h1M125 104h2M129 104h2M134 104h2M33 105h2M37 105h3M50 105h1M55 105h1M62 105h1M82 105h1M117 105h2M123 105h1M126 105h2M129 105h2M134 105h1M136 105h2M37 106h1M62 106h1M67 106h2M107 106h1M110 106h1M112 106h1M117 106h3M126 106h1M130 106h1M134 106h1M136 106h1M52 107h2M59 107h1M74 107h1M82 107h1M112 107h1M116 107h1M123 107h2M126 107h1M130 107h1M134 107h2M44 108h3M60 108h2M70 108h1M80 108h1M83 108h1M107 108h1M115 108h3M123 108h1M126 108h1M130 108h1M136 108h1M72 109h1M86 109h1M108 109h1M112 109h1M114 109h2M118 109h1M120 109h1M123 109h1M127 109h1M136 109h1M63 110h2M66 110h1M77 110h1M108 110h2M114 110h1M119 110h2M127 110h2M130 110h2M136 110h1M47 111h2M63 111h2M69 111h1M71 111h1M76 111h2M85 111h1M108 111h1M114 111h2M120 111h1M122 111h1M127 111h5M136 111h1M53 112h1M72 112h1M75 112h4M87 112h1M90 112h2M100 112h2M110 112h2M114 112h1M120 112h1M126 112h1M129 112h2M136 112h1M138 112h1M141 112h3M37 113h1M51 113h2M73 113h4M78 113h2M84 113h3M88 113h4M99 113h1M101 113h1M107 113h1M110 113h2M114 113h1M116 113h1M121 113h2M126 113h1M130 113h1M136 113h2M143 113h1M37 114h1M73 114h3M77 114h5M84 114h1M86 114h3M93 114h1M99 114h1M108 114h4M114 114h3M122 114h1M131 114h5M137 114h1M141 114h1M38 115h2M74 115h1M76 115h2M80 115h2M84 115h1M87 115h1M94 115h3M98 115h2M108 115h5M114 115h3M130 115h3M134 115h2M138 115h1M38 116h1M63 116h2M77 116h1M85 116h2M95 116h1M106 116h1M109 116h1M111 116h7M132 116h3M138 116h2M63 117h3M106 117h1M109 117h2M113 117h4M133 117h2M39 118h1M64 118h2M68 118h1M77 118h1M80 118h2M83 118h1M88 118h1M102 118h1M106 118h1M113 118h4M128 118h2M133 118h3M138 118h2M39 119h1M46 119h1M57 119h2M64 119h1M66 119h1M77 119h2M83 119h1M102 119h2M123 119h1M129 119h1M134 119h1M138 119h2M37 120h3M49 120h1M51 120h2M63 120h2M66 120h2M75 120h4M82 120h1M89 120h1M102 120h1M106 120h1M109 120h1M118 120h2M123 120h2M129 120h1M135 120h1M137 120h3M9 121h1M38 121h1M45 121h1M49 121h1M58 121h1M75 121h1M77 121h2M80 121h1M89 121h1M102 121h1M105 121h2M109 121h2M116 121h2M119 121h1M123 121h2M126 121h1M129 121h2M139 121h4M38 122h1M44 122h1M75 122h1M77 122h1M80 122h1M105 122h1M115 122h2M119 122h1M125 122h6M139 122h1M141 122h2M48 123h1M59 123h1M68 123h1M70 123h1M78 123h1M80 123h1M89 123h1M104 123h3M115 123h1M120 123h4M125 123h3M129 123h2M140 123h2M38 124h1M46 124h1M67 124h1M70 124h1M74 124h2M78 124h4M89 124h2M106 124h2M115 124h2M129 124h1M139 124h3M65 125h4M70 125h1M73 125h1M76 125h2M80 125h2M87 125h4M107 125h1M115 125h3M129 125h1M139 125h1M44 126h1M66 126h1M74 126h5M87 126h1M117 126h1M127 126h3M136 126h1M139 126h1M38 127h2M63 127h1M66 127h1M76 127h4M87 127h1M89 127h2M116 127h1M126 127h2M131 127h2M135 127h1M137 127h4M38 128h1M65 128h2M89 128h2M94 128h2M103 128h1M116 128h1M131 128h1M135 128h1M137 128h1M140 128h1M44 129h1M81 129h1M84 129h3M89 129h1M95 129h1M125 129h2M135 129h3M38 130h1M44 130h1M49 130h2M81 130h4M87 130h2M90 130h1M103 130h1M126 130h1M128 130h1M133 130h3M138 130h1M38 131h1M44 131h1M49 131h1M58 131h2M79 131h1M81 131h2M84 131h3M89 131h6M102 131h2M110 131h1M114 131h1M125 131h2M11 132h1M38 132h3M48 132h1M50 132h1M58 132h2M81 132h1M84 132h6M91 132h2M94 132h1M102 132h1M110 132h1M114 132h1M119 132h3M124 132h1M11 133h1M38 133h1M41 133h1M50 133h1M84 133h5M94 133h1M102 133h1M110 133h1M119 133h6M127 133h2M130 133h1M138 133h1M11 134h1M38 134h1M41 134h1M53 134h1M79 134h1M84 134h11M110 134h1M119 134h4M125 134h3M138 134h2M41 135h1M56 135h1M76 135h2M86 135h4M94 135h1M109 135h2M120 135h3M124 135h2M127 135h1M134 135h1M138 135h1M41 136h1M51 136h2M76 136h3M84 136h2M87 136h1M90 136h1M101 136h1M108 136h3M121 136h1M123 136h1M133 136h2M136 136h3M42 137h1M77 137h3M85 137h3M90 137h2M97 137h1M107 137h1M109 137h1M111 137h1M123 137h1M134 137h1M137 137h2M43 138h1M75 138h4M80 138h4M85 138h6M102 138h1M107 138h1M109 138h3M134 138h1M137 138h2M44 139h1M75 139h6M83 139h4M89 139h1M102 139h2M107 139h3M123 139h1M45 140h1M75 140h1M77 140h7M86 140h1M104 140h1M107 140h1M109 140h1M124 140h1M133 140h1M45 141h1M73 141h1M77 141h1M79 141h3M83 141h1M91 141h2M104 141h1M123 141h4M128 141h1M133 141h1M49 142h1M53 142h1M63 142h2M73 142h1M77 142h1M80 142h1M89 142h5M106 142h1M109 142h1M114 142h1M123 142h2M46 143h1M51 143h2M73 143h2M77 143h1M85 143h2M90 143h3M114 143h4M122 143h2M133 143h1M47 144h1M65 144h1M72 144h2M87 144h1M91 144h2M103 144h1M107 144h1M114 144h3M123 144h1M135 144h1M47 145h1M73 145h1M87 145h1M93 145h1M105 145h1M119 145h5M134 145h2M46 146h1M49 146h1M60 146h1M72 146h1M85 146h3M94 146h1M112 146h1M114 146h1M121 146h4M133 146h3M46 147h1M66 147h1M72 147h1M94 147h1M114 147h2M117 147h2M121 147h2M135 147h1M46 148h1M50 148h1M70 148h2M102 148h1M106 148h1M115 148h2M119 148h1M133 148h1M50 149h1M70 149h2M93 149h1M95 149h3M102 149h1M110 149h2M113 149h3M121 149h2M134 149h1M50 150h1M53 150h2M70 150h2M94 150h1M96 150h1M99 150h1M105 150h1M111 150h4M116 150h1M121 150h4M133 150h4M54 151h2M59 151h1M71 151h1M95 151h1M97 151h1M104 151h2M111 151h1M113 151h1M116 151h4M122 151h1M132 151h6M47 152h1M53 152h3M59 152h1M69 152h4M99 152h1M116 152h3M132 152h2M135 152h2M47 153h1M54 153h2M59 153h1M68 153h1M71 153h2M95 153h1M100 153h1M116 153h1M121 153h1M132 153h2M136 153h1M54 154h1M59 154h2M95 154h3M99 154h2M121 154h2M131 154h4M136 154h1M59 155h1M61 155h1M71 155h1M95 155h2M99 155h1M108 155h1M120 155h2M123 155h1M131 155h5M58 156h1M60 156h2M68 156h1M72 156h1M99 156h1M120 156h2M124 156h1M132 156h3M61 157h1M69 157h1M72 157h1M98 157h1M102 157h1M120 157h1M124 157h1M132 157h3M61 158h1M70 158h2M91 158h1M94 158h1M124 158h2M132 158h2M61 159h1M70 159h1M120 159h1M50 160h2M56 160h1M61 160h1M72 160h2M78 160h1M91 160h1M97 160h1M124 160h2M51 161h1M59 161h1M73 161h1M78 161h2M91 161h1M93 161h2M130 161h4M135 161h1M51 162h1M57 162h1M74 162h1M77 162h1M80 162h1M92 162h1M120 162h1M123 162h1M55 163h1M57 163h1M72 163h1M75 163h1M81 163h1M89 163h1M96 163h1M117 163h1M123 163h1M127 163h3M56 164h2M72 164h3M76 164h3M87 164h2M95 164h2M117 164h1M123 164h1M74 165h1M76 165h1M96 165h1M120 165h1M74 166h4M85 166h1M91 166h2M96 166h1M116 166h5M124 166h2M131 166h1M57 167h1M74 167h6M91 167h1M93 167h1M95 167h1M115 167h6M132 167h1M136 167h1M58 168h1M74 168h3M78 168h2M81 168h2M84 168h4M91 168h1M112 168h1M115 168h4M120 168h1M132 168h5M74 169h3M79 169h6M86 169h6M97 169h1M111 169h2M116 169h4M136 169h1M75 170h2M79 170h2M83 170h3M88 170h2M92 170h1M111 170h2M116 170h2M123 170h1M75 171h5M84 171h3M88 171h1M113 171h1M116 171h2M122 171h4M130 171h3M134 171h1M86 172h2M91 172h1M123 172h2M129 172h4M90 173h1M99 173h1M114 173h1M117 173h1M124 173h2M133 173h2M75 174h1M90 174h1M93 174h1M107 174h1M115 174h4M124 174h3M79 175h1M92 175h2M106 175h1M108 175h1M114 175h4M124 175h2M128 175h1M70 176h1M91 176h3M109 176h2M115 176h4M125 176h1M129 176h1M133 176h1M88 177h1M91 177h3M108 177h3M115 177h4M121 177h3M126 177h2M129 177h7M84 178h2M88 178h1M90 178h1M115 178h3M121 178h4M128 178h4M134 178h1M84 179h2M88 179h1M113 179h1M115 179h2M121 179h1M130 179h1M134 179h2M84 180h4M92 180h2M111 180h1M116 180h1M131 180h4M83 181h1M85 181h2M88 181h3M99 181h1M111 181h1M134 181h2M88 182h2M101 182h1M114 182h2M134 182h2M98 183h1M101 183h1M115 183h1M133 183h3M133 184h1M135 184h2M132 186h2M129 187h4M121 188h1M129 188h1M132 188h1M131 189h4M130 192h1M132 192h1M129 193h1M133 193h1M127 194h3M132 194h5M126 195h3M133 195h2M137 195h1M126 196h3M132 196h3M138 196h2M142 196h1M127 197h1M132 197h1M134 197h1M138 197h1M143 197h1M127 198h1M132 198h1M143 198h1M132 199h1M134 199h1M136 199h2M147 199h1M132 200h1M137 200h2M141 200h2M133 201h2M136 201h3M142 201h1M135 202h4M141 202h1M136 203h1M139 203h1M135 204h1M133 205h4M136 206h2M135 207h2"/>
<path stroke="#6dc595" d="M20 4h1M19 5h5M45 5h2M22 6h2M45 6h3M49 6h1M46 7h1M49 7h1M20 8h1M42 8h2M49 8h1M43 9h3M49 9h1M20 10h1M43 10h2M56 10h2M20 11h1M23 11h1M27 11h3M39 11h1M41 11h2M48 11h1M60 11h2M68 11h1M23 12h1M27 12h2M30 12h1M39 12h1M41 12h1M44 12h1M47 12h2M60 12h1M66 12h1M21 13h3M28 13h3M38 13h2M42 13h3M46 13h2M66 13h1M69 13h4M79 13h1M20 14h2M28 14h1M38 14h1M43 14h2M51 14h1M53 14h1M57 14h1M66 14h1M70 14h1M83 14h2M369 14h1M38 15h1M40 15h1M43 15h3M70 15h1M72 15h1M81 15h4M93 15h1M38 16h1M40 16h1M45 16h1M54 16h1M71 16h1M81 16h1M84 16h2M368 16h1M372 16h2M27 17h4M38 17h1M40 17h1M43 17h1M83 17h2M101 17h2M368 17h1M371 17h1M24 18h4M31 18h1M39 18h1M41 18h3M82 18h1M90 18h1M23 19h1M25 19h2M28 19h1M31 19h1M38 19h2M43 19h1M46 19h2M80 19h3M84 19h3M89 19h1M116 19h2M25 20h2M30 20h2M38 20h2M47 20h1M52 20h1M82 20h4M88 20h1M91 20h1M115 20h4M122 20h1M21 21h2M26 21h1M30 21h2M39 21h1M81 21h1M83 21h1M85 21h1M88 21h1M94 21h1M96 21h1M102 21h2M115 21h3M122 21h1M124 21h1M133 21h2M360 21h1M27 22h1M30 22h2M38 22h2M79 22h2M87 22h1M90 22h1M96 22h1M103 22h1M108 22h2M132 22h1M30 23h1M34 23h1M38 23h4M51 23h1M63 23h1M74 23h1M80 23h1M84 23h1M86 23h1M97 23h1M103 23h1M109 23h1M126 23h1M132 23h1M365 23h1M32 24h3M37 24h1M40 24h3M62 24h2M80 24h1M83 24h1M85 24h1M98 24h1M103 24h1M114 24h1M120 24h2M123 24h2M32 25h3M51 25h1M62 25h1M98 25h1M102 25h1M104 25h1M114 25h3M123 25h1M364 25h1M33 26h2M38 26h1M51 26h1M80 26h1M98 26h1M102 26h1M104 26h1M116 26h1M126 26h1M365 26h1M34 27h1M51 27h1M54 27h1M56 27h1M61 27h1M78 27h1M80 27h1M82 27h1M98 27h1M102 27h1M104 27h1M114 27h1M118 27h1M126 27h1M132 27h1M366 27h1M37 28h1M39 28h1M54 28h1M56 28h1M60 28h1M79 28h1M86 28h2M98 28h1M103 28h2M114 28h1M118 28h1M124 28h1M39 29h4M75 29h1M88 29h1M98 29h1M103 29h2M114 29h1M125 29h1M131 29h1M372 29h2M40 30h3M112 30h1M131 30h4M243 30h1M372 30h3M42 31h1M48 31h1M76 31h1M116 31h1M132 31h1M134 31h1M363 31h1M370 31h1M372 31h1M374 31h1M377 31h1M42 32h1M59 32h1M62 32h1M77 32h1M79 32h1M84 32h1M91 32h2M126 32h4M132 32h3M363 32h1M370 32h1M372 32h1M375 32h1M377 32h1M383 32h1M42 33h1M44 33h1M59 33h1M79 33h1M82 33h1M89 33h1M98 33h1M119 33h1M121 33h2M125 33h2M128 33h1M132 33h3M360 33h1M362 33h2M376 33h1M383 33h1M43 34h1M59 34h1M81 34h2M90 34h1M98 34h1M119 34h6M126 34h2M132 34h3M364 34h1M368 34h2M376 34h1M57 35h3M90 35h1M98 35h1M109 35h1M118 35h10M129 35h1M131 35h3M357 35h1M366 35h1M378 35h1M53 36h1M59 36h1M83 36h1M89 36h1M103 36h2M121 36h2M126 36h1M358 36h1M361 36h2M372 36h6M381 36h1M49 37h1M71 37h1M83 37h1M99 37h1M103 37h3M126 37h1M135 37h2M245 37h2M356 37h8M370 37h1M372 37h2M375 37h2M381 37h1M42 38h1M54 38h1M84 38h1M121 38h2M126 38h1M133 38h1M135 38h2M246 38h1M356 38h1M359 38h1M364 38h2M372 38h5M38 39h2M43 39h1M54 39h1M94 39h1M121 39h2M125 39h2M246 39h1M356 39h1M359 39h1M362 39h4M372 39h1M375 39h4M38 40h2M54 40h1M59 40h1M73 40h1M86 40h1M93 40h1M121 40h2M126 40h2M130 40h1M138 40h1M357 40h1M359 40h1M362 40h3M366 40h1M371 40h3M35 41h2M38 41h1M59 41h1M88 41h1M126 41h2M130 41h2M136 41h4M362 41h5M370 41h2M35 42h1M87 42h1M95 42h4M108 42h1M124 42h5M131 42h7M360 42h4M366 42h1M374 42h1M31 43h2M34 43h2M58 43h1M73 43h2M97 43h2M124 43h5M131 43h4M366 43h1M370 43h1M374 43h1M376 43h1M31 44h1M33 44h1M39 44h1M57 44h1M61 44h1M74 44h2M96 44h1M98 44h1M106 44h4M129 44h2M132 44h1M135 44h1M141 44h1M366 44h2M370 44h1M30 45h1M33 45h1M39 45h1M63 45h1M95 45h1M98 45h1M103 45h3M109 45h1M135 45h2M370 45h1M373 45h2M32 46h1M39 46h1M61 46h1M63 46h1M75 46h1M86 46h2M98 46h1M104 46h2M108 46h1M110 46h1M112 46h2M117 46h1M119 46h1M135 46h2M368 46h1M371 46h4M31 47h1M39 47h1M63 47h1M86 47h1M90 47h1M93 47h2M101 47h1M106 47h2M109 47h1M135 47h2M368 47h2M373 47h1M12 48h2M15 48h2M30 48h1M36 48h1M64 48h1M66 48h1M86 48h1M91 48h4M97 48h1M99 48h1M101 48h1M104 48h5M114 48h1M120 48h1M135 48h1M261 48h1M370 48h1M9 49h1M12 49h2M17 49h2M26 49h1M65 49h1M92 49h3M100 49h1M103 49h6M114 49h1M120 49h1M135 49h1M260 49h2M9 50h1M11 50h1M13 50h1M16 50h1M25 50h1M87 50h1M94 50h1M102 50h2M107 50h1M111 50h2M119 50h1M135 50h4M144 50h3M260 50h1M8 51h7M24 51h1M90 51h4M102 51h1M108 51h4M113 51h1M117 51h2M139 51h1M144 51h1M8 52h1M11 52h2M16 52h1M24 52h1M26 52h1M30 52h1M78 52h1M88 52h1M90 52h1M93 52h1M108 52h5M130 52h1M132 52h2M138 52h1M8 53h1M17 53h1M25 53h1M49 53h2M91 53h3M98 53h1M107 53h1M111 53h1M130 53h1M136 53h2M14 54h1M17 54h1M28 54h1M37 54h2M75 54h1M91 54h1M96 54h3M107 54h1M131 54h2M15 55h8M51 55h1M60 55h1M74 55h2M96 55h2M103 55h1M132 55h2M17 56h4M22 56h1M26 56h4M91 56h3M95 56h4M106 56h1M109 56h1M111 56h1M134 56h1M18 57h1M20 57h3M28 57h1M38 57h1M57 57h6M90 57h10M107 57h1M110 57h3M129 57h2M134 57h1M18 58h2M39 58h1M57 58h1M60 58h4M91 58h3M95 58h1M97 58h2M110 58h4M130 58h1M135 58h1M18 59h1M38 59h1M41 59h1M48 59h1M58 59h6M65 59h2M92 59h1M95 59h4M113 59h1M128 59h1M130 59h1M18 60h1M38 60h1M42 60h1M59 60h1M61 60h1M65 60h1M67 60h1M85 60h1M90 60h1M92 60h1M96 60h1M98 60h2M110 60h1M128 60h3M17 61h1M38 61h1M47 61h1M68 61h2M84 61h1M93 61h1M96 61h8M107 61h5M131 61h2M136 61h1M17 62h1M20 62h1M37 62h2M45 62h1M62 62h1M68 62h2M71 62h1M73 62h1M78 62h1M84 62h1M86 62h1M96 62h1M99 62h1M103 62h1M106 62h6M125 62h1M18 63h3M38 63h1M75 63h1M84 63h1M98 63h1M103 63h4M108 63h1M18 64h3M38 64h2M67 64h2M71 64h1M79 64h1M81 64h3M87 64h1M89 64h1M97 64h3M103 64h3M20 65h1M67 65h1M69 65h2M80 65h1M83 65h1M104 65h1M125 65h1M136 65h2M17 66h3M45 66h1M67 66h1M69 66h1M84 66h1M109 66h4M131 66h1M136 66h1M17 67h1M23 67h1M38 67h1M46 67h1M52 67h1M55 67h1M67 67h3M110 67h1M123 67h1M131 67h1M136 67h1M17 68h1M23 68h1M36 68h1M46 68h1M52 68h1M54 68h1M70 68h2M102 68h1M105 68h2M110 68h1M112 68h1M123 68h1M131 68h1M133 68h2M136 68h1M14 69h3M24 69h1M37 69h2M46 69h3M52 69h1M56 69h1M71 69h1M91 69h1M102 69h1M105 69h1M110 69h1M125 69h1M14 70h1M32 70h1M47 70h1M52 70h1M56 70h1M67 70h1M70 70h2M102 70h2M105 70h1M109 70h1M136 70h2M139 70h1M31 71h1M35 71h1M45 71h1M50 71h1M55 71h2M65 71h1M67 71h2M71 71h2M102 71h1M105 71h1M109 71h1M136 71h2M139 71h2M16 72h1M38 72h1M41 72h1M53 72h2M56 72h1M61 72h8M72 72h1M77 72h1M103 72h1M137 72h3M17 73h1M31 73h1M38 73h1M41 73h1M56 73h1M60 73h9M72 73h1M75 73h1M77 73h3M103 73h2M137 73h2M41 74h1M60 74h3M64 74h4M72 74h1M74 74h2M77 74h4M82 74h1M103 74h1M138 74h1M24 75h2M35 75h1M53 75h1M55 75h1M60 75h1M65 75h3M72 75h1M74 75h6M103 75h1M138 75h1M33 76h1M54 76h2M66 76h1M72 76h1M74 76h1M82 76h1M139 76h1M32 77h1M40 77h2M54 77h1M62 77h1M66 77h1M71 77h1M74 77h1M82 77h1M101 77h1M109 77h1M140 77h1M27 78h1M31 78h2M41 78h2M62 78h1M71 78h1M79 78h4M107 78h2M110 78h1M141 78h1M30 79h1M32 79h1M79 79h1M106 79h1M110 79h1M141 79h1M28 80h2M69 80h1M73 80h1M79 80h1M102 80h1M139 80h2M33 81h1M61 81h1M73 81h1M108 81h2M111 81h1M55 82h1M60 82h2M69 82h2M80 82h1M105 82h3M139 82h1M39 83h1M61 83h2M69 83h3M81 83h1M105 83h3M139 83h1M141 83h1M39 84h1M61 84h2M68 84h3M81 84h2M104 84h1M33 85h1M63 85h1M67 85h1M81 85h2M33 86h1M66 86h1M80 86h1M102 86h2M137 86h1M142 86h2M32 87h2M79 87h1M101 87h1M123 87h1M126 87h1M31 88h1M42 88h2M101 88h1M122 88h1M124 88h3M136 88h1M144 88h1M42 89h4M101 89h1M122 89h1M136 89h1M31 90h1M33 90h1M43 90h6M101 90h1M124 90h1M136 90h1M138 90h1M32 91h3M43 91h1M46 91h1M68 91h1M79 91h1M101 91h2M32 92h1M46 92h3M50 92h1M68 92h1M81 92h2M101 92h3M32 93h1M46 93h2M49 93h1M81 93h1M105 93h1M139 93h2M32 94h1M37 94h1M41 94h1M47 94h1M49 94h1M67 94h1M82 94h1M105 94h1M139 94h1M32 95h1M40 95h1M50 95h1M66 95h1M105 95h1M118 95h1M139 95h3M47 96h1M66 96h1M78 96h1M83 96h1M103 96h4M110 96h1M117 96h1M138 96h1M141 96h1M31 97h1M37 97h1M39 97h1M46 97h1M82 97h1M103 97h4M138 97h1M31 98h1M34 98h1M39 98h2M66 98h1M69 98h1M83 98h1M104 98h1M111 98h1M136 98h1M138 98h1M140 98h2M31 99h1M40 99h1M49 99h1M82 99h1M130 99h1M135 99h1M138 99h1M140 99h2M31 100h1M37 100h1M40 100h1M68 100h1M81 100h1M106 100h1M117 100h1M136 100h1M139 100h2M31 101h1M38 101h1M69 101h1M81 101h1M138 101h1M140 101h1M28 102h1M71 102h1M112 102h1M130 102h1M137 102h1M29 103h1M32 103h1M39 103h1M54 103h2M61 103h1M106 103h1M129 103h1M27 104h1M35 104h1M39 104h1M55 104h1M111 104h1M119 104h1M138 104h1M54 105h1M75 105h1M81 105h1M112 105h1M119 105h1M124 105h2M135 105h1M138 105h1M33 106h2M82 106h1M123 106h3M135 106h1M137 106h2M33 107h2M37 107h1M66 107h1M69 107h1M81 107h1M83 107h1M107 107h1M120 107h1M125 107h1M136 107h3M33 108h2M37 108h1M51 108h1M53 108h1M84 108h2M120 108h1M122 108h1M124 108h2M137 108h2M37 109h1M66 109h1M70 109h1M73 109h1M77 109h2M116 109h2M121 109h2M124 109h3M137 109h4M37 110h1M50 110h1M70 110h3M76 110h1M86 110h1M89 110h1M106 110h1M110 110h1M115 110h4M121 110h1M125 110h2M139 110h3M37 111h1M67 111h2M72 111h1M75 111h1M86 111h2M89 111h2M100 111h1M110 111h2M116 111h4M123 111h1M126 111h1M137 111h6M145 111h1M37 112h1M46 112h1M73 112h2M85 112h2M88 112h2M96 112h1M99 112h1M102 112h1M115 112h5M123 112h1M137 112h1M139 112h2M144 112h1M41 113h1M77 113h1M92 113h1M95 113h2M115 113h1M117 113h4M123 113h1M144 113h1M42 114h3M76 114h1M85 114h1M94 114h3M106 114h2M119 114h1M121 114h1M123 114h1M130 114h1M136 114h1M142 114h2M37 115h1M85 115h2M97 115h1M106 115h2M117 115h2M133 115h1M136 115h2M140 115h2M37 116h1M107 116h2M118 116h1M135 116h3M140 116h1M142 116h1M38 117h1M102 117h1M105 117h1M107 117h2M111 117h2M117 117h1M135 117h7M47 118h1M82 118h1M104 118h1M107 118h6M117 118h1M122 118h3M136 118h2M59 119h4M80 119h1M82 119h1M88 119h1M107 119h4M113 119h8M122 119h1M135 119h3M140 119h1M8 120h1M58 120h1M80 120h2M107 120h2M110 120h1M113 120h1M116 120h2M122 120h1M136 120h1M140 120h2M37 121h1M63 121h1M76 121h1M107 121h1M111 121h1M115 121h1M118 121h1M122 121h1M63 122h1M76 122h1M88 122h1M106 122h2M109 122h3M117 122h1M120 122h5M143 122h2M38 123h1M44 123h1M62 123h1M69 123h1M76 123h2M88 123h1M107 123h1M110 123h2M116 123h1M119 123h1M124 123h1M128 123h1M142 123h2M44 124h1M68 124h1M76 124h2M88 124h1M104 124h2M111 124h1M117 124h1M121 124h2M126 124h3M142 124h2M11 125h1M37 125h1M44 125h2M63 125h2M69 125h1M74 125h2M104 125h2M114 125h1M126 125h3M140 125h2M11 126h1M45 126h1M63 126h1M65 126h1M105 126h1M114 126h2M126 126h1M140 126h1M10 127h2M45 127h1M64 127h2M115 127h1M129 127h2M136 127h1M45 128h2M79 128h1M107 128h1M115 128h1M125 128h1M136 128h1M138 128h2M37 129h1M51 129h2M103 129h1M111 129h1M116 129h1M131 129h1M138 129h3M53 130h1M110 130h5M119 130h1M124 130h1M139 130h1M11 131h1M48 131h1M50 131h1M87 131h2M111 131h3M115 131h1M120 131h1M124 131h1M128 131h1M138 131h2M12 132h1M37 132h1M82 132h1M103 132h2M111 132h3M115 132h1M122 132h2M125 132h2M128 132h1M131 132h1M138 132h3M12 133h1M37 133h1M39 133h1M47 133h1M81 133h1M104 133h1M111 133h5M125 133h2M139 133h2M39 134h1M80 134h1M83 134h1M102 134h1M104 134h1M111 134h5M123 134h2M140 134h2M38 135h3M79 135h1M83 135h1M90 135h4M108 135h1M111 135h1M119 135h1M123 135h1M139 135h1M79 136h1M83 136h1M86 136h1M91 136h3M111 136h1M122 136h1M135 136h1M139 136h1M38 137h1M41 137h1M80 137h1M82 137h3M102 137h1M108 137h1M112 137h1M121 137h2M135 137h2M139 137h1M39 138h4M84 138h1M106 138h1M108 138h1M112 138h1M122 138h1M135 138h2M139 138h1M39 139h5M106 139h1M110 139h2M122 139h1M134 139h2M41 140h4M106 140h1M110 140h3M122 140h2M134 140h2M40 141h2M44 141h1M78 141h1M82 141h1M106 141h1M110 141h1M112 141h3M122 141h1M45 142h1M50 142h1M54 142h1M78 142h2M81 142h1M104 142h1M110 142h1M112 142h2M115 142h3M119 142h1M121 142h2M133 142h1M45 143h1M78 143h3M87 143h3M104 143h1M110 143h2M118 143h4M134 143h2M139 143h1M46 144h1M51 144h2M62 144h1M74 144h6M88 144h1M90 144h1M105 144h1M117 144h3M122 144h1M136 144h1M45 145h2M49 145h1M51 145h1M65 145h1M74 145h1M91 145h2M103 145h1M107 145h1M113 145h6M136 145h1M44 146h2M50 146h1M65 146h1M73 146h1M107 146h1M115 146h1M117 146h3M136 146h1M50 147h1M59 147h1M65 147h1M83 147h1M86 147h1M104 147h1M116 147h1M119 147h1M133 147h2M136 147h1M54 148h1M72 148h1M75 148h2M93 148h1M111 148h1M134 148h2M46 149h1M53 149h2M75 149h2M78 149h1M123 149h2M135 149h2M46 150h1M52 150h1M59 150h1M77 150h2M93 150h1M95 150h1M97 150h2M102 150h1M104 150h1M108 150h1M137 150h1M46 151h1M50 151h1M52 151h1M72 151h1M78 151h1M90 151h1M94 151h1M98 151h1M102 151h2M138 151h1M46 152h1M60 152h1M94 152h1M98 152h1M137 152h2M46 153h1M53 153h1M60 153h1M65 153h1M73 153h1M99 153h1M137 153h2M47 154h1M64 154h1M71 154h3M106 154h1M137 154h1M141 154h1M54 155h1M70 155h1M72 155h1M76 155h1M97 155h1M107 155h1M122 155h1M136 155h1M51 156h1M54 156h1M59 156h1M75 156h2M95 156h4M123 156h1M135 156h3M50 157h1M52 157h1M58 157h1M73 157h2M92 157h4M121 157h1M137 157h1M52 158h1M55 158h1M72 158h1M74 158h2M95 158h1M134 158h1M57 159h1M71 159h3M77 159h3M90 159h1M95 159h1M124 159h2M134 159h1M137 159h1M57 160h1M74 160h1M76 160h2M79 160h2M89 160h2M95 160h1M120 160h1M134 160h5M46 161h1M49 161h1M56 161h3M74 161h1M77 161h1M80 161h1M87 161h4M95 161h2M120 161h1M123 161h1M134 161h1M136 161h2M48 162h1M56 162h1M75 162h2M81 162h1M85 162h7M93 162h3M135 162h2M52 163h1M54 163h1M56 163h1M82 163h2M86 163h3M90 163h3M95 163h1M135 163h2M80 164h1M82 164h2M86 164h1M89 164h1M114 164h1M126 164h1M130 164h1M136 164h1M77 165h3M82 165h1M87 165h4M92 165h1M94 165h2M115 165h1M123 165h1M126 165h1M136 165h1M78 166h2M82 166h1M84 166h1M86 166h2M89 166h2M93 166h3M115 166h1M133 166h1M136 166h2M80 167h3M84 167h4M89 167h2M94 167h1M121 167h1M124 167h2M128 167h1M133 167h3M137 167h1M57 168h1M77 168h1M80 168h1M83 168h1M88 168h3M93 168h1M113 168h2M119 168h1M121 168h1M123 168h1M128 168h1M137 168h1M58 169h1M77 169h2M113 169h1M115 169h1M120 169h1M123 169h1M137 169h1M77 170h2M86 170h2M113 170h1M115 170h1M118 170h5M124 170h2M136 170h1M87 171h1M92 171h1M114 171h2M118 171h1M120 171h2M135 171h1M94 172h1M114 172h1M116 172h7M125 172h1M133 172h2M91 173h1M115 173h2M118 173h6M129 173h1M91 174h2M119 174h1M121 174h3M127 174h3M134 174h1M118 175h1M122 175h2M129 175h1M134 175h1M80 176h1M106 176h1M108 176h1M119 176h6M134 176h2M80 177h1M119 177h2M124 177h2M136 177h1M79 178h1M118 178h3M125 178h3M135 178h2M79 179h1M107 179h1M114 179h1M117 179h4M122 179h1M125 179h1M128 179h2M136 179h1M106 180h1M112 180h2M115 180h1M117 180h5M125 180h1M130 180h1M135 180h2M84 181h1M92 181h2M112 181h5M118 181h4M125 181h5M131 181h3M136 181h1M92 182h2M99 182h2M116 182h4M126 182h4M132 182h2M136 182h1M93 183h1M99 183h1M116 183h4M126 183h4M131 183h2M136 183h1M100 184h1M116 184h1M126 184h7M134 184h1M137 184h1M142 184h2M121 185h3M127 185h3M132 185h5M141 185h3M120 186h3M125 186h1M128 186h4M134 186h2M118 187h8M128 187h1M133 187h3M140 187h1M120 188h1M122 188h4M128 188h1M133 188h3M140 188h1M121 189h2M129 189h1M135 189h1M121 190h2M125 190h2M130 190h6M122 191h1M124 191h5M130 191h3M134 191h2M123 192h7M133 192h3M127 193h2M134 193h3M126 194h1M137 194h1M143 194h1M141 195h4M140 196h1M143 196h2M133 197h1M142 197h1M144 197h1M133 198h1M140 198h1M142 198h1M144 198h1M147 198h2M133 199h1M135 199h1M142 199h2M145 199h2M148 199h1M133 200h4M143 200h1M147 200h1M135 201h1M143 201h2M142 202h3M137 203h2M140 203h4M136 204h3M142 204h2M137 205h6M135 206h1M138 206h5M137 207h1M140 207h2M136 208h1M140 208h1"/>
<path stroke="#6ec890" d="M43 4h2M42 5h3M47 5h2M19 6h3M24 6h1M41 6h2M44 6h1M19 7h6M26 7h2M39 7h1M41 7h5M21 8h6M31 8h1M41 8h1M44 8h2M52 8h1M23 9h2M42 9h1M53 9h1M23 10h6M39 10h4M49 10h1M55 10h1M24 11h3M30 11h1M38 11h1M40 11h1M57 11h1M67 11h1M21 12h2M24 12h3M38 12h1M40 12h1M68 12h1M19 13h1M24 13h4M31 13h2M40 13h2M52 13h1M68 13h1M19 14h1M22 14h6M29 14h2M40 14h3M49 14h1M67 14h1M71 14h2M19 15h3M23 15h8M42 15h1M56 15h1M71 15h1M372 15h1M21 16h7M29 16h2M42 16h1M82 16h2M93 16h1M97 16h1M22 17h5M41 17h2M82 17h1M91 17h3M22 18h2M32 18h1M38 18h1M93 18h1M369 18h2M22 19h1M24 19h1M27 19h1M32 19h1M91 19h3M22 20h2M32 20h1M51 20h1M94 20h1M96 20h1M123 20h1M25 21h1M32 21h2M37 21h2M62 21h1M84 21h1M90 21h1M95 21h1M123 21h1M21 22h2M26 22h1M32 22h2M37 22h1M83 22h4M89 22h1M124 22h1M133 22h2M28 23h2M31 23h3M35 23h1M37 23h1M53 23h1M62 23h1M85 23h1M123 23h2M147 23h2M366 23h1M29 24h3M35 24h2M38 24h2M53 24h1M73 24h1M132 24h1M149 24h1M365 24h1M367 24h1M30 25h2M35 25h4M76 25h1M80 25h1M103 25h1M124 25h2M132 25h1M31 26h2M35 26h1M37 26h1M62 26h1M73 26h1M77 26h1M132 26h1M32 27h2M35 27h1M37 27h2M62 27h1M74 27h1M81 27h1M103 27h1M115 27h1M32 28h5M38 28h1M62 28h1M125 28h1M132 28h1M145 28h1M36 29h1M54 29h1M79 29h1M132 29h1M135 29h1M39 30h1M54 30h1M79 30h1M85 30h1M88 30h1M117 30h1M40 31h2M54 31h1M62 31h1M79 31h1M207 31h1M238 31h1M242 31h3M373 31h1M41 32h1M78 32h1M135 32h1M207 32h2M358 32h1M373 32h2M376 32h1M378 32h1M382 32h1M41 33h1M61 33h1M91 33h1M93 33h1M127 33h1M135 33h2M361 33h1M370 33h3M375 33h1M382 33h1M384 33h1M60 34h1M83 34h1M89 34h1M240 34h1M360 34h4M370 34h3M375 34h1M382 34h3M43 35h1M48 35h1M51 35h2M55 35h2M83 35h1M89 35h1M94 35h1M128 35h1M134 35h1M239 35h2M358 35h1M360 35h3M365 35h1M370 35h6M379 35h1M382 35h1M37 36h1M43 36h1M50 36h1M58 36h1M94 36h1M127 36h9M359 36h2M370 36h2M378 36h3M382 36h1M37 37h2M40 37h4M54 37h1M59 37h1M94 37h1M127 37h4M132 37h3M137 37h1M244 37h1M247 37h1M364 37h2M377 37h4M382 37h2M37 38h4M43 38h1M59 38h1M94 38h1M127 38h3M132 38h1M134 38h1M137 38h2M243 38h3M247 38h1M355 38h1M357 38h2M377 38h6M37 39h1M59 39h1M92 39h1M127 39h2M130 39h9M216 39h1M242 39h4M355 39h1M357 39h2M366 39h1M373 39h2M380 39h2M35 40h3M128 40h2M131 40h2M134 40h4M139 40h1M216 40h1M241 40h1M243 40h4M355 40h2M358 40h1M369 40h1M374 40h5M380 40h1M34 41h1M73 41h1M128 41h2M132 41h4M140 41h2M244 41h4M359 41h1M369 41h1M374 41h3M32 42h1M73 42h1M129 42h2M138 42h2M212 42h1M214 42h1M244 42h2M364 42h2M367 42h1M369 42h1M375 42h2M33 43h1M71 43h2M129 43h2M135 43h2M212 43h1M214 43h1M260 43h1M263 43h2M360 43h4M365 43h1M367 43h1M375 43h1M30 44h1M32 44h1M60 44h1M97 44h1M136 44h1M140 44h1M142 44h1M264 44h1M365 44h1M368 44h2M374 44h2M28 45h2M31 45h2M61 45h1M64 45h2M75 45h1M97 45h1M106 45h1M108 45h1M137 45h1M141 45h2M364 45h6M28 46h4M60 46h1M66 46h1M95 46h1M97 46h1M103 46h1M106 46h2M111 46h1M118 46h1M137 46h1M242 46h1M249 46h1M367 46h1M369 46h2M14 47h1M29 47h2M64 47h1M66 47h1M87 47h3M95 47h1M97 47h1M102 47h1M104 47h2M110 47h3M119 47h1M137 47h1M362 47h1M367 47h1M370 47h3M10 48h2M14 48h1M17 48h3M26 48h1M90 48h1M102 48h2M109 48h2M119 48h1M136 48h1M260 48h1M367 48h3M371 48h1M19 49h1M87 49h1M90 49h1M99 49h1M101 49h2M109 49h3M119 49h1M136 49h3M144 49h2M247 49h1M259 49h1M262 49h1M8 50h1M12 50h1M17 50h3M24 50h1M90 50h1M98 50h4M104 50h3M109 50h2M113 50h1M139 50h1M141 50h3M147 50h1M259 50h1M261 50h1M15 51h2M21 51h2M88 51h1M95 51h1M98 51h4M103 51h1M135 51h1M140 51h4M145 51h2M9 52h2M13 52h3M17 52h1M22 52h1M29 52h1M36 52h1M89 52h1M91 52h2M98 52h5M107 52h1M131 52h1M134 52h1M139 52h6M9 53h3M14 53h1M18 53h1M22 53h1M26 53h1M38 53h1M97 53h1M99 53h3M106 53h1M131 53h3M138 53h5M147 53h1M8 54h2M18 54h5M25 54h1M74 54h1M99 54h1M101 54h1M103 54h1M106 54h1M133 54h1M136 54h2M139 54h4M13 55h2M25 55h1M98 55h1M102 55h1M106 55h1M134 55h2M139 55h3M9 56h1M13 56h4M21 56h1M25 56h1M48 56h1M99 56h3M103 56h1M135 56h1M138 56h3M13 57h2M19 57h1M25 57h1M100 57h1M106 57h1M108 57h2M135 57h5M12 58h2M24 58h1M48 58h1M58 58h2M99 58h1M106 58h4M129 58h1M136 58h1M11 59h2M39 59h1M91 59h1M99 59h1M102 59h1M105 59h1M107 59h3M129 59h1M136 59h2M11 60h2M16 60h2M48 60h1M62 60h1M64 60h1M95 60h1M97 60h1M102 60h2M105 60h5M125 60h1M127 60h1M136 60h2M16 61h1M39 61h1M43 61h1M62 61h1M85 61h1M90 61h1M95 61h1M104 61h3M125 61h1M127 61h1M137 61h1M36 62h1M44 62h1M46 62h1M63 62h1M65 62h1M72 62h1M90 62h1M94 62h2M104 62h2M126 62h1M131 62h2M147 62h1M17 63h1M39 63h1M66 63h2M71 63h1M73 63h2M78 63h1M96 63h1M107 63h1M131 63h2M10 64h4M16 64h2M96 64h1M106 64h3M132 64h1M137 64h1M10 65h4M16 65h4M38 65h1M40 65h1M68 65h1M71 65h1M79 65h1M81 65h2M85 65h1M88 65h1M97 65h2M100 65h1M105 65h1M108 65h1M126 65h1M131 65h2M11 66h3M16 66h1M38 66h1M41 66h1M44 66h1M52 66h1M68 66h1M70 66h1M83 66h1M85 66h1M101 66h1M105 66h1M107 66h2M124 66h1M132 66h1M137 66h1M12 67h1M16 67h1M36 67h1M42 67h2M70 67h1M72 67h2M84 67h2M105 67h5M132 67h1M137 67h1M12 68h1M14 68h3M37 68h1M55 68h1M72 68h1M107 68h1M127 68h1M132 68h1M137 68h1M9 69h5M51 69h1M55 69h1M72 69h1M75 69h1M86 69h1M90 69h1M92 69h1M106 69h1M137 69h4M11 70h2M38 70h1M40 70h1M46 70h1M50 70h2M55 70h1M72 70h1M91 70h2M138 70h1M140 70h2M33 71h2M38 71h1M51 71h2M73 71h4M138 71h1M141 71h1M15 72h1M31 72h1M46 72h1M51 72h2M55 72h1M73 72h4M78 72h1M101 72h2M140 72h2M51 73h1M53 73h3M74 73h1M76 73h1M80 73h2M101 73h2M139 73h2M32 74h1M52 74h4M63 74h1M76 74h1M100 74h1M104 74h1M108 74h1M139 74h2M9 75h2M16 75h1M32 75h3M39 75h1M54 75h1M63 75h2M83 75h1M108 75h1M139 75h1M6 76h5M16 76h2M21 76h6M32 76h1M40 76h1M63 76h1M65 76h1M73 76h1M101 76h1M103 76h1M108 76h1M140 76h1M5 77h1M9 77h1M72 77h2M100 77h1M106 77h3M141 77h1M66 78h1M72 78h2M100 78h3M106 78h1M109 78h1M27 79h1M31 79h1M62 79h1M67 79h1M71 79h1M73 79h1M80 79h3M101 79h2M107 79h3M32 80h1M62 80h1M68 80h1M70 80h1M84 80h1M101 80h1M106 80h5M141 80h1M29 81h1M32 81h1M69 81h2M84 81h1M101 81h2M105 81h3M110 81h1M139 81h4M33 82h1M62 82h1M71 82h1M81 82h1M101 82h2M140 82h3M33 83h1M68 83h1M72 83h1M82 83h1M104 83h1M140 83h1M142 83h1M33 84h1M67 84h1M139 84h3M32 85h1M64 85h3M102 85h2M138 85h1M141 85h3M32 86h1M81 86h1M101 86h1M141 86h1M144 86h1M31 87h1M145 87h1M79 88h1M123 88h1M139 88h1M145 88h1M123 89h3M140 89h1M30 90h1M67 90h1M31 91h1M47 91h3M81 91h2M137 91h1M31 92h1M33 92h1M49 92h1M83 92h1M100 92h1M31 93h1M50 93h1M67 93h1M82 93h2M31 94h1M50 94h1M83 94h1M111 94h1M141 94h1M31 95h1M37 95h1M41 95h1M67 95h1M83 95h1M102 95h1M104 95h1M31 96h1M37 96h1M40 96h1M48 96h1M67 96h1M102 96h1M118 96h1M139 96h2M40 97h1M66 97h1M77 97h1M79 97h1M83 97h1M102 97h1M139 97h3M46 98h1M101 98h3M139 98h1M35 99h1M39 99h1M67 99h1M71 99h1M79 99h1M83 99h1M101 99h2M105 99h1M129 99h1M136 99h1M139 99h1M142 99h3M36 100h1M49 100h1M82 100h1M101 100h2M118 100h1M129 100h2M141 100h3M27 101h2M78 101h1M106 101h1M139 101h1M141 101h2M27 102h1M29 102h1M39 102h1M46 102h1M78 102h1M106 102h1M129 102h1M138 102h1M140 102h3M26 103h3M60 103h1M76 103h1M112 103h1M138 103h1M142 103h1M26 104h1M28 104h1M54 104h1M80 104h1M83 104h1M98 104h1M106 104h1M112 104h1M120 104h2M142 104h1M27 105h2M36 105h1M83 105h1M98 105h1M106 105h1M111 105h1M139 105h1M50 106h1M60 106h1M81 106h1M83 106h1M98 106h1M120 106h1M139 106h1M141 106h1M60 107h2M67 107h2M80 107h1M84 107h1M98 107h1M110 107h1M122 107h1M139 107h4M52 108h1M66 108h1M69 108h1M74 108h1M79 108h1M86 108h1M97 108h3M110 108h1M121 108h1M139 108h4M34 109h1M44 109h3M50 109h2M53 109h1M69 109h1M76 109h1M87 109h3M106 109h1M110 109h1M141 109h2M35 110h2M43 110h1M46 110h2M49 110h1M67 110h3M73 110h1M75 110h1M87 110h2M90 110h1M99 110h2M111 110h1M122 110h3M137 110h2M142 110h1M145 110h2M36 111h1M41 111h1M46 111h1M73 111h2M88 111h1M91 111h1M96 111h1M98 111h2M101 111h2M124 111h2M143 111h2M146 111h1M36 112h1M41 112h1M51 112h1M95 112h1M98 112h1M124 112h1M145 112h2M45 113h1M93 113h2M98 113h1M102 113h1M124 113h1M36 114h1M97 114h2M117 114h2M120 114h1M144 114h1M119 115h4M142 115h2M105 116h1M119 116h3M141 116h1M37 117h1M118 117h5M125 117h1M142 117h1M38 118h1M103 118h1M118 118h4M140 118h3M37 119h2M48 119h1M81 119h1M111 119h2M121 119h1M141 119h2M36 120h1M46 120h1M62 120h1M88 120h1M111 120h2M114 120h2M120 120h2M142 120h1M62 121h1M88 121h1M108 121h1M112 121h3M120 121h2M143 121h1M45 122h1M59 122h3M108 122h1M112 122h1M118 122h1M63 123h1M112 123h1M117 123h1M144 123h1M45 124h1M63 124h1M69 124h1M110 124h1M114 124h1M119 124h2M125 124h1M144 124h1M12 125h1M121 125h1M142 125h3M10 126h1M12 126h1M37 126h1M64 126h1M104 126h1M141 126h3M104 127h2M114 127h1M117 127h1M141 127h1M37 128h1M113 128h2M129 128h2M141 128h1M47 129h1M106 129h1M110 129h1M112 129h4M141 129h1M11 130h2M37 130h1M48 130h1M109 130h1M115 130h2M131 130h1M140 130h1M12 131h1M37 131h1M53 131h1M104 131h1M116 131h1M118 131h1M123 131h1M140 131h1M45 132h1M53 132h1M118 132h1M40 133h1M46 133h1M53 133h1M82 133h1M103 133h1M105 133h1M118 133h1M129 133h1M141 133h1M12 134h1M36 134h2M40 134h1M103 134h1M105 134h1M108 134h1M12 135h1M51 135h1M80 135h1M102 135h1M104 135h1M112 135h2M115 135h1M140 135h1M37 136h4M80 136h3M107 136h1M112 136h1M120 136h1M140 136h3M37 137h1M39 137h2M81 137h1M106 137h1M113 137h1M140 137h3M38 138h1M103 138h1M121 138h1M140 138h1M104 139h2M112 139h3M117 139h2M120 139h2M136 139h4M39 140h2M105 140h1M113 140h3M118 140h4M136 140h1M42 141h2M105 141h1M111 141h1M115 141h5M121 141h1M134 141h2M40 142h2M44 142h1M82 142h2M105 142h1M111 142h1M118 142h1M120 142h1M134 142h2M137 142h2M49 143h2M63 143h2M81 143h1M84 143h1M105 143h1M112 143h2M136 143h3M45 144h1M49 144h2M54 144h1M80 144h1M104 144h1M108 144h1M113 144h1M120 144h2M137 144h4M44 145h1M50 145h1M52 145h1M54 145h1M77 145h5M84 145h1M88 145h1M104 145h1M112 145h1M137 145h2M43 146h1M51 146h1M54 146h1M61 146h1M74 146h1M76 146h2M81 146h4M93 146h1M103 146h2M116 146h1M137 146h1M43 147h3M54 147h1M60 147h1M73 147h1M75 147h3M82 147h1M84 147h2M87 147h1M93 147h1M103 147h1M107 147h1M123 147h2M137 147h1M45 148h1M59 148h1M65 148h1M77 148h2M83 148h4M104 148h1M109 148h1M123 148h2M136 148h2M45 149h1M51 149h1M59 149h1M65 149h1M72 149h1M77 149h1M83 149h2M104 149h1M106 149h1M108 149h1M137 149h1M45 150h1M51 150h1M65 150h1M72 150h1M76 150h1M138 150h1M51 151h1M60 151h1M65 151h1M77 151h1M93 151h1M108 151h1M139 151h1M50 152h1M52 152h1M65 152h1M73 152h1M78 152h1M139 152h1M49 153h1M70 153h1M74 153h1M78 153h1M94 153h1M98 153h1M139 153h1M46 154h1M48 154h1M53 154h1M61 154h1M68 154h1M74 154h5M98 154h1M108 154h1M138 154h3M142 154h1M62 155h2M68 155h1M73 155h3M77 155h3M98 155h1M137 155h5M50 156h1M52 156h1M73 156h2M77 156h4M94 156h1M122 156h1M138 156h2M54 157h1M60 157h1M75 157h6M91 157h1M96 157h2M123 157h1M135 157h2M138 157h1M44 158h2M73 158h1M77 158h4M90 158h1M97 158h1M121 158h1M123 158h1M135 158h4M44 159h2M74 159h3M80 159h1M89 159h1M97 159h1M123 159h1M135 159h2M138 159h2M41 160h2M45 160h2M49 160h1M60 160h1M75 160h1M87 160h2M123 160h1M139 160h1M42 161h1M45 161h1M48 161h1M75 161h2M81 161h2M85 161h2M138 161h1M43 162h5M55 162h1M82 162h1M122 162h1M130 162h1M133 162h2M137 162h1M53 163h1M84 163h2M94 163h1M121 163h2M130 163h1M137 163h1M81 164h1M84 164h2M90 164h3M94 164h1M127 164h2M135 164h1M137 164h1M80 165h2M83 165h4M91 165h1M93 165h1M128 165h1M133 165h1M135 165h1M137 165h1M80 166h2M83 166h1M88 166h1M121 166h1M123 166h1M126 166h1M128 166h1M132 166h1M134 166h2M138 166h1M140 166h1M83 167h1M88 167h1M114 167h1M123 167h1M126 167h1M138 167h3M94 168h1M122 168h1M124 168h2M138 168h1M93 169h2M114 169h1M121 169h2M124 169h2M128 169h1M138 169h1M114 170h1M128 170h1M137 170h1M94 171h1M119 171h1M126 171h1M128 171h1M136 171h1M92 172h1M115 172h1M126 172h1M135 172h1M92 173h2M126 173h1M135 173h1M120 174h1M107 175h1M119 175h3M135 175h1M79 176h1M136 176h1M79 177h1M106 177h1M137 177h1M141 177h2M80 178h1M106 178h2M137 178h1M141 178h2M80 179h1M106 179h1M123 179h2M126 179h2M137 179h1M141 179h1M79 180h2M114 180h1M122 180h1M126 180h4M137 180h1M140 180h3M80 181h1M117 181h1M122 181h1M130 181h1M137 181h1M140 181h2M120 182h3M125 182h1M130 182h2M137 182h1M140 182h1M143 182h2M100 183h1M120 183h1M123 183h1M125 183h1M130 183h1M137 183h1M143 183h1M117 184h9M141 184h1M116 185h5M124 185h3M130 185h2M137 185h1M140 185h1M117 186h3M123 186h2M126 186h2M136 186h1M140 186h4M126 187h2M136 187h1M138 187h2M141 187h1M143 187h1M119 188h1M126 188h2M136 188h1M139 188h1M141 188h1M119 189h2M123 189h4M128 189h1M136 189h1M123 190h2M127 190h3M136 190h1M123 191h1M129 191h1M133 191h1M136 191h1M136 192h1M125 193h2M137 193h1M125 194h1M142 194h1M144 194h1M138 195h3M145 195h1M141 196h1M145 196h1M140 197h1M145 197h1M148 197h1M145 198h2M149 198h1M141 199h1M144 199h1M149 199h1M144 200h1M146 200h1M148 200h1M149 201h2M149 202h2M144 203h1M139 204h3M134 206h1M138 207h2M137 208h3M138 209h2M164 221h1"/>
<path stroke="#70cb8b" d="M41 5h1M25 6h1M39 6h1M43 6h1M25 7h1M32 7h1M38 7h1M40 7h1M27 8h4M32 8h2M38 8h3M21 9h2M25 9h4M30 9h3M38 9h4M29 10h4M38 10h1M54 10h1M31 11h2M49 11h1M56 11h1M31 12h2M49 12h1M52 12h1M57 12h1M67 12h1M33 13h1M49 13h1M51 13h1M53 13h1M57 13h1M31 14h3M50 14h1M22 15h1M31 15h4M41 15h1M54 15h1M369 15h1M28 16h1M31 16h1M37 16h1M41 16h1M55 16h1M21 17h1M31 17h2M96 17h1M33 18h1M91 18h2M96 18h1M33 19h1M37 19h1M90 19h1M94 19h1M96 19h1M21 20h1M24 20h1M33 20h2M37 20h1M89 20h2M23 21h2M34 21h1M51 21h2M82 21h1M89 21h1M135 21h1M25 22h1M34 22h2M51 22h1M62 22h1M81 22h1M123 22h1M135 22h1M26 23h2M36 23h1M83 23h1M133 23h1M149 23h2M153 23h1M28 24h1M52 24h1M75 24h1M147 24h2M150 24h1M29 25h1M53 25h1M73 25h1M133 25h1M147 25h3M365 25h1M367 25h1M20 26h1M30 26h1M36 26h1M81 26h2M103 26h1M124 26h2M148 26h2M366 26h2M19 27h2M30 27h2M36 27h1M117 27h1M124 27h1M136 27h1M145 27h1M31 28h1M51 28h1M61 28h1M75 28h1M78 28h1M135 28h2M144 28h1M146 28h1M378 28h1M17 29h1M31 29h3M35 29h1M37 29h2M60 29h1M62 29h1M86 29h2M133 29h2M136 29h1M145 29h1M378 29h1M31 30h2M50 30h1M62 30h1M76 30h1M115 30h2M135 30h1M211 30h1M229 30h1M378 30h1M20 31h1M39 31h1M49 31h1M77 31h2M88 31h1M135 31h1M208 31h4M218 31h1M226 31h1M229 31h1M237 31h1M241 31h1M378 31h1M382 31h1M40 32h1M48 32h1M54 32h1M209 32h2M233 32h2M237 32h6M40 33h1M54 33h1M84 33h1M92 33h1M207 33h1M233 33h1M237 33h2M240 33h4M359 33h1M373 33h2M41 34h2M54 34h1M91 34h1M135 34h2M158 34h1M239 34h1M358 34h2M373 34h2M385 34h1M35 35h3M41 35h1M53 35h2M158 35h2M359 35h1M363 35h2M367 35h1M369 35h1M381 35h1M383 35h2M35 36h2M38 36h4M49 36h1M54 36h1M136 36h2M150 36h1M247 36h2M363 36h4M383 36h2M34 37h3M39 37h1M88 37h1M91 37h1M131 37h1M138 37h1M212 37h2M231 37h1M248 37h1M366 37h1M31 38h2M34 38h3M70 38h1M72 38h1M85 38h1M88 38h1M130 38h2M139 38h1M212 38h2M216 38h1M226 38h1M366 38h1M31 39h3M35 39h2M86 39h1M88 39h1M93 39h1M129 39h1M139 39h1M142 39h1M217 39h1M247 39h1M379 39h1M32 40h3M88 40h1M133 40h1M142 40h1M217 40h1M242 40h1M379 40h1M32 41h2M70 41h1M87 41h1M206 41h2M212 41h1M215 41h1M241 41h3M355 41h3M367 41h1M377 41h2M33 42h2M38 42h1M140 42h2M213 42h1M215 42h1M246 42h1M263 42h2M355 42h2M368 42h1M377 42h1M30 43h1M55 43h1M137 43h1M139 43h5M213 43h1M215 43h1M229 43h1M244 43h1M251 43h1M259 43h1M261 43h1M355 43h2M364 43h1M368 43h2M28 44h2M56 44h1M137 44h1M143 44h1M230 44h1M241 44h1M258 44h4M263 44h1M265 44h1M356 44h1M360 44h2M363 44h2M14 45h3M27 45h1M60 45h1M96 45h1M107 45h1M140 45h1M143 45h1M216 45h1M230 45h1M241 45h2M248 45h3M258 45h1M263 45h2M363 45h1M14 46h3M27 46h1M37 46h1M64 46h1M96 46h1M138 46h1M216 46h1M241 46h1M243 46h1M248 46h1M250 46h1M362 46h5M12 47h2M15 47h2M18 47h2M26 47h3M37 47h1M103 47h1M113 47h1M117 47h1M138 47h1M241 47h2M248 47h2M261 47h1M361 47h1M366 47h1M27 48h3M37 48h2M65 48h1M87 48h3M95 48h1M111 48h3M137 48h2M248 48h2M259 48h1M262 48h2M362 48h1M366 48h1M25 49h1M27 49h1M36 49h1M88 49h1M112 49h1M139 49h1M141 49h3M246 49h1M248 49h3M258 49h1M366 49h2M369 49h1M20 50h2M88 50h1M95 50h1M97 50h1M117 50h2M140 50h1M262 50h1M270 50h1M355 50h1M357 50h2M17 51h4M23 51h1M29 51h1M89 51h1M104 51h4M147 51h2M259 51h3M270 51h1M352 51h3M357 51h2M7 52h1M18 52h1M21 52h1M23 52h1M38 52h1M103 52h4M135 52h1M145 52h5M276 52h1M350 52h2M7 53h1M12 53h2M20 53h2M23 53h2M28 53h1M37 53h1M96 53h1M102 53h1M104 53h2M134 53h2M143 53h2M146 53h1M148 53h2M248 53h1M7 54h1M10 54h1M13 54h1M23 54h2M26 54h1M49 54h2M100 54h1M102 54h1M104 54h1M134 54h2M138 54h1M143 54h1M146 54h2M9 55h2M12 55h1M24 55h1M26 55h2M99 55h3M104 55h1M136 55h3M142 55h1M145 55h1M8 56h1M12 56h1M51 56h1M102 56h1M104 56h2M136 56h2M141 56h1M144 56h2M249 56h1M8 57h2M12 57h1M15 57h3M48 57h1M52 57h1M101 57h3M105 57h1M144 57h2M10 58h2M14 58h2M17 58h1M23 58h1M100 58h3M105 58h1M137 58h3M141 58h2M5 59h1M10 59h1M15 59h2M40 59h1M100 59h2M106 59h1M138 59h1M141 59h2M8 60h3M39 60h1M41 60h1M49 60h1M66 60h1M91 60h1M100 60h2M104 60h1M126 60h1M138 60h1M142 60h1M7 61h1M10 61h3M48 61h1M63 61h3M67 61h1M92 61h1M138 61h1M147 61h1M6 62h1M10 62h1M12 62h2M16 62h1M39 62h1M64 62h1M67 62h1M85 62h1M93 62h1M137 62h1M146 62h1M9 63h2M12 63h5M37 63h1M45 63h1M72 63h1M77 63h1M85 63h2M90 63h1M95 63h1M137 63h1M146 63h1M9 64h1M14 64h2M72 64h1M85 64h1M131 64h1M9 65h1M14 65h1M45 65h1M87 65h1M89 65h1M96 65h1M99 65h1M106 65h2M138 65h1M141 65h2M10 66h1M14 66h2M36 66h1M46 66h1M71 66h2M79 66h2M82 66h1M86 66h1M96 66h2M106 66h1M125 66h2M138 66h1M11 67h1M13 67h3M51 67h1M71 67h1M74 67h1M83 67h1M86 67h1M95 67h3M124 67h1M138 67h1M10 68h2M13 68h1M47 68h1M51 68h1M73 68h2M85 68h3M91 68h1M94 68h3M108 68h2M124 68h1M138 68h3M8 69h1M49 69h2M73 69h2M85 69h1M87 69h1M93 69h4M107 69h3M126 69h2M141 69h1M9 70h2M13 70h1M39 70h1M73 70h3M85 70h2M90 70h1M94 70h2M106 70h1M108 70h1M142 70h1M11 71h2M14 71h1M32 71h1M40 71h1M46 71h1M77 71h2M89 71h1M108 71h1M142 71h1M9 72h4M14 72h1M32 72h2M79 72h1M89 72h1M108 72h1M142 72h1M8 73h9M32 73h1M52 73h1M82 73h2M98 73h1M100 73h1M108 73h1M141 73h1M6 74h11M73 74h1M83 74h1M99 74h1M101 74h2M5 75h4M11 75h5M40 75h1M73 75h1M100 75h3M104 75h1M140 75h1M5 76h1M11 76h1M15 76h1M18 76h3M64 76h1M83 76h1M100 76h1M102 76h1M107 76h1M141 76h1M0 77h1M6 77h3M10 77h1M21 77h3M26 77h1M63 77h1M65 77h1M102 77h2M1 78h1M5 78h3M9 78h1M26 78h1M65 78h1M7 79h2M26 79h1M66 79h1M72 79h1M83 79h1M100 79h1M142 79h1M27 80h1M30 80h1M67 80h1M71 80h2M80 80h1M82 80h2M100 80h1M105 80h1M142 80h2M24 81h2M28 81h1M62 81h1M68 81h1M71 81h2M80 81h1M82 81h2M85 81h1M100 81h1M143 81h1M24 82h2M28 82h2M32 82h1M63 82h1M66 82h3M72 82h1M82 82h2M98 82h1M100 82h1M104 82h1M143 82h1M28 83h2M32 83h1M63 83h1M65 83h3M98 83h6M28 84h2M31 84h2M63 84h1M65 84h2M83 84h1M98 84h2M102 84h2M142 84h2M28 85h1M31 85h1M83 85h2M101 85h1M139 85h2M144 85h2M31 86h1M82 86h3M100 86h1M138 86h3M145 86h2M80 87h5M137 87h1M139 87h2M142 87h1M146 87h1M100 88h1M140 88h1M30 89h1M100 89h1M138 89h1M144 89h2M100 90h1M29 91h2M67 91h1M80 91h1M83 91h1M100 91h1M29 92h2M34 92h2M67 92h1M84 92h1M141 92h1M33 93h1M36 93h1M101 93h3M141 93h1M104 94h1M84 95h1M101 95h1M103 95h1M33 96h1M84 96h1M101 96h1M142 96h1M47 97h2M67 97h1M78 97h1M84 97h1M101 97h1M117 97h2M142 97h1M47 98h2M67 98h2M77 98h1M79 98h1M84 98h1M100 98h1M117 98h1M142 98h3M27 99h2M36 99h1M46 99h1M48 99h1M68 99h3M77 99h1M100 99h1M103 99h2M117 99h1M27 100h2M39 100h1M46 100h1M69 100h1M77 100h2M100 100h1M144 100h1M29 101h1M39 101h1M46 101h1M49 101h1M70 101h2M77 101h1M82 101h1M101 101h2M129 101h2M143 101h2M26 102h1M31 102h1M139 102h1M143 102h1M78 103h1M83 103h1M98 103h1M139 103h3M143 103h1M29 104h1M32 104h1M47 104h1M79 104h1M97 104h1M139 104h3M26 105h1M35 105h1M60 105h1M80 105h1M97 105h1M120 105h3M140 105h3M144 105h1M36 106h1M61 106h1M75 106h1M97 106h1M106 106h1M111 106h1M121 106h2M140 106h1M142 106h1M50 107h1M75 107h1M85 107h1M97 107h1M111 107h1M121 107h1M50 108h1M67 108h2M75 108h1M78 108h1M90 108h1M96 108h1M111 108h1M143 108h2M33 109h1M35 109h1M47 109h1M67 109h2M74 109h2M90 109h1M98 109h2M111 109h1M143 109h1M34 110h1M48 110h1M74 110h1M91 110h1M96 110h3M101 110h1M143 110h2M147 110h1M35 111h1M42 111h1M95 111h1M97 111h1M147 111h1M92 112h1M97 112h1M105 112h1M125 112h1M36 113h1M42 113h1M97 113h1M105 113h1M125 113h1M145 113h3M102 114h1M105 114h1M36 115h1M102 115h1M105 115h1M123 115h1M144 115h1M36 116h1M102 116h1M122 116h1M143 116h1M9 117h1M36 117h1M104 117h1M123 117h1M143 117h1M36 118h2M36 119h1M47 119h1M143 119h1M9 120h1M59 120h3M143 120h1M10 121h1M36 121h1M59 121h1M61 121h1M144 121h1M9 122h1M37 122h1M48 122h1M62 122h1M113 122h2M145 122h1M45 123h3M108 123h2M114 123h1M118 123h1M145 123h2M37 124h1M108 124h1M112 124h1M118 124h1M123 124h2M145 124h1M10 125h1M108 125h1M111 125h3M120 125h1M145 125h1M15 126h1M113 126h1M144 126h1M12 127h1M14 127h2M37 127h1M113 127h1M125 127h1M142 127h1M312 127h1M11 128h1M15 128h1M104 128h2M111 128h2M142 128h1M11 129h2M45 129h2M107 129h1M119 129h1M142 129h1M51 130h1M104 130h1M118 130h1M120 130h1M148 130h1M45 131h1M47 131h1M121 131h1M131 131h1M141 131h1M47 132h1M105 132h1M116 132h1M141 132h1M36 133h1M108 133h1M116 133h1M142 133h1M13 134h1M81 134h2M116 134h1M118 134h1M142 134h1M13 135h1M36 135h2M52 135h1M81 135h2M103 135h1M105 135h1M114 135h1M141 135h2M36 136h1M102 136h1M104 136h3M113 136h1M119 136h1M143 136h1M36 137h1M103 137h1M105 137h1M114 137h1M120 137h1M143 137h1M37 138h1M105 138h1M113 138h2M117 138h2M120 138h1M141 138h3M37 139h2M115 139h2M119 139h1M140 139h1M37 140h1M116 140h2M137 140h2M39 141h1M120 141h1M136 141h3M42 142h2M136 142h1M139 142h1M40 143h3M44 143h1M53 143h2M140 143h1M40 144h2M44 144h1M53 144h1M64 144h1M81 144h1M84 144h1M89 144h1M109 144h1M112 144h1M141 144h1M43 145h1M53 145h1M62 145h1M75 145h2M82 145h2M139 145h3M52 146h1M75 146h1M78 146h3M138 146h2M42 147h1M51 147h1M61 147h2M74 147h1M78 147h1M81 147h1M111 147h1M138 147h3M43 148h2M51 148h3M60 148h3M73 148h2M79 148h1M81 148h2M103 148h1M107 148h2M110 148h1M138 148h2M44 149h1M52 149h1M62 149h1M73 149h2M79 149h1M82 149h1M85 149h1M92 149h1M103 149h1M138 149h1M60 150h1M73 150h3M83 150h3M90 150h1M92 150h1M103 150h1M106 150h1M139 150h1M45 151h1M61 151h1M73 151h1M89 151h1M91 151h2M142 151h1M45 152h1M51 152h1M61 152h1M74 152h1M77 152h1M89 152h2M93 152h1M108 152h1M40 153h2M61 153h1M64 153h1M69 153h1M75 153h1M90 153h1M108 153h1M140 153h2M145 153h1M40 154h1M70 154h1M91 154h1M94 154h1M145 154h1M46 155h2M51 155h1M53 155h1M91 155h2M94 155h1M142 155h1M53 156h1M69 156h1M84 156h2M90 156h4M140 156h1M43 157h3M59 157h1M84 157h2M90 157h1M122 157h1M139 157h1M46 158h1M58 158h1M60 158h1M76 158h1M81 158h1M83 158h5M89 158h1M96 158h1M122 158h1M139 158h1M41 159h1M46 159h1M49 159h1M52 159h1M55 159h1M60 159h1M81 159h1M83 159h3M87 159h2M96 159h1M121 159h2M43 160h2M55 160h1M58 160h2M81 160h2M85 160h2M96 160h1M41 161h1M43 161h2M47 161h1M122 161h1M139 161h1M42 162h1M83 162h2M121 162h1M132 162h1M138 162h1M93 163h1M133 163h2M138 163h1M93 164h1M121 164h2M133 164h2M138 164h1M113 165h1M121 165h2M131 165h1M134 165h1M138 165h1M139 166h1M113 167h1M122 167h1M126 168h1M139 168h1M126 169h1M94 170h1M126 170h1M138 170h1M137 171h1M128 172h1M136 172h3M127 173h2M136 173h5M302 173h1M135 174h1M138 174h2M302 174h2M137 175h2M303 175h2M107 176h1M137 176h1M142 176h1M107 177h1M143 177h1M138 178h1M143 178h1M138 179h1M140 179h1M142 179h2M123 180h2M138 180h2M143 180h1M123 181h2M138 181h2M142 181h3M123 182h2M138 182h2M141 182h2M121 183h2M124 183h1M138 183h5M144 183h1M138 184h3M144 184h1M138 185h2M137 186h3M137 187h1M142 187h1M137 188h2M142 188h2M127 189h1M137 189h1M139 189h2M120 190h1M137 190h2M137 191h1M137 192h1M146 192h1M143 193h5M138 194h1M140 194h2M145 194h1M146 195h1M148 196h1M141 197h1M147 197h1M149 197h1M141 198h1M150 198h1M150 199h1M145 200h1M149 200h2M145 201h1M145 202h1M151 202h1M154 202h2M150 203h3M154 203h2M155 204h1M157 207h1"/>
<path stroke="#73cd87" d="M39 4h2M42 4h1M38 5h3M38 6h1M40 6h1M50 6h2M33 7h2M51 7h1M34 8h1M29 9h1M33 9h1M52 9h1M21 10h2M33 10h1M53 10h1M21 11h2M33 11h1M52 11h1M55 11h1M33 12h1M51 12h1M56 12h1M37 13h1M50 13h1M67 13h1M37 14h1M56 14h1M370 14h1M37 15h1M371 15h1M19 16h2M32 16h3M94 16h1M96 16h1M369 16h1M371 16h1M33 17h2M37 17h1M94 17h1M369 17h1M21 18h1M34 18h1M37 18h1M94 18h1M18 19h1M21 19h1M34 19h1M19 20h1M95 20h1M19 21h2M23 22h1M36 22h1M52 22h1M82 22h1M136 22h3M21 23h2M25 23h1M52 23h1M136 23h3M146 23h1M151 23h2M154 23h1M156 23h1M26 24h2M74 24h1M133 24h1M136 24h2M146 24h1M151 24h3M156 24h1M160 24h1M181 24h2M366 24h1M23 25h1M28 25h1M52 25h1M82 25h1M134 25h2M137 25h1M145 25h2M150 25h2M19 26h1M21 26h1M28 26h2M53 26h1M74 26h1M76 26h1M133 26h5M140 26h1M145 26h3M150 26h2M21 27h1M53 27h1M77 27h1M116 27h1M125 27h1M133 27h1M135 27h1M137 27h1M144 27h1M146 27h1M17 28h1M19 28h3M29 28h2M115 28h1M117 28h1M133 28h1M191 28h2M21 29h1M29 29h2M34 29h1M76 29h1M78 29h1M115 29h1M117 29h1M144 29h1M146 29h1M166 29h1M17 30h2M20 30h1M28 30h3M33 30h1M36 30h3M136 30h1M142 30h4M210 30h1M212 30h1M218 30h1M228 30h1M19 31h1M30 31h1M36 31h1M85 31h1M142 31h1M145 31h1M155 31h1M191 31h1M205 31h2M212 31h1M217 31h1M227 31h2M230 31h1M232 31h1M19 32h2M39 32h1M61 32h1M88 32h1M136 32h1M142 32h1M155 32h1M191 32h2M206 32h1M211 32h2M218 32h1M226 32h4M235 32h2M243 32h2M39 33h1M48 33h1M60 33h1M137 33h1M155 33h1M157 33h2M206 33h1M208 33h1M211 33h2M215 33h1M234 33h1M239 33h1M358 33h1M34 34h4M40 34h1M48 34h1M52 34h1M84 34h1M93 34h1M137 34h1M157 34h1M159 34h1M207 34h1M210 34h2M214 34h3M236 34h1M238 34h1M241 34h2M379 34h1M381 34h1M34 35h1M38 35h1M40 35h1M42 35h1M91 35h1M135 35h4M150 35h1M208 35h3M217 35h1M235 35h1M368 35h1M380 35h1M385 35h1M31 36h4M42 36h1M57 36h1M88 36h1M91 36h1M138 36h1M151 36h1M158 36h1M209 36h1M213 36h1M217 36h1M224 36h2M228 36h1M31 37h3M58 37h1M84 37h1M139 37h1M151 37h1M157 37h1M211 37h1M216 37h2M223 37h5M230 37h1M249 37h1M30 38h1M33 38h1M71 38h1M86 38h1M92 38h1M140 38h1M154 38h1M158 38h1M210 38h2M215 38h1M217 38h1M220 38h1M222 38h4M227 38h1M230 38h1M248 38h1M30 39h1M34 39h1M70 39h1M141 39h1M143 39h1M209 39h2M212 39h2M215 39h1M220 39h2M224 39h4M229 39h1M369 39h1M31 40h1M70 40h1M87 40h1M140 40h2M143 40h1M206 40h1M208 40h1M211 40h3M215 40h1M221 40h1M223 40h6M367 40h1M31 41h1M37 41h1M142 41h1M148 41h3M208 41h1M211 41h1M213 41h2M216 41h2M220 41h4M239 41h2M248 41h2M265 41h1M351 41h1M358 41h1M368 41h1M29 42h2M37 42h1M58 42h1M71 42h1M142 42h2M147 42h5M206 42h1M211 42h1M220 42h4M238 42h1M241 42h3M247 42h4M260 42h1M262 42h1M351 42h1M357 42h1M359 42h1M28 43h2M38 43h1M138 43h1M144 43h1M147 43h2M211 43h1M222 43h3M236 43h2M241 43h3M245 43h1M249 43h2M258 43h1M262 43h1M265 43h1M357 43h1M359 43h1M27 44h1M139 44h1M144 44h1M153 44h1M212 44h2M215 44h2M226 44h1M229 44h1M234 44h4M240 44h1M242 44h3M248 44h5M257 44h1M262 44h1M355 44h1M357 44h1M362 44h1M17 45h1M37 45h1M138 45h2M144 45h1M225 45h1M229 45h1M234 45h7M243 45h2M251 45h1M257 45h1M259 45h4M265 45h1M353 45h1M356 45h2M360 45h3M11 46h1M13 46h1M17 46h3M26 46h1M38 46h1M65 46h1M141 46h3M145 46h1M205 46h1M217 46h1M235 46h1M240 46h1M244 46h1M257 46h8M361 46h1M11 47h1M17 47h1M25 47h1M38 47h1M65 47h1M96 47h1M118 47h1M216 47h1M243 47h1M250 47h1M257 47h4M262 47h3M363 47h1M365 47h1M20 48h1M25 48h1M117 48h2M142 48h3M241 48h1M247 48h1M250 48h2M257 48h2M264 48h1M361 48h1M20 49h2M24 49h1M28 49h2M38 49h1M89 49h1M95 49h1M113 49h1M117 49h2M140 49h1M146 49h3M263 49h1M272 49h1M352 49h2M355 49h1M357 49h1M361 49h2M368 49h1M22 50h2M27 50h1M29 50h1M36 50h1M38 50h1M89 50h1M148 50h1M150 50h1M246 50h2M249 50h3M258 50h1M263 50h1M269 50h1M271 50h1M352 50h3M356 50h1M359 50h1M361 50h1M366 50h2M27 51h1M36 51h1M38 51h1M97 51h1M149 51h2M249 51h1M251 51h2M258 51h1M269 51h1M271 51h1M274 51h1M343 51h2M350 51h2M355 51h2M359 51h3M366 51h2M19 52h2M27 52h2M37 52h1M97 52h1M248 52h2M271 52h5M277 52h1M343 52h1M352 52h1M358 52h2M367 52h1M19 53h1M27 53h1M103 53h1M145 53h1M150 53h1M249 53h1M273 53h1M276 53h2M347 53h2M350 53h2M367 53h1M11 54h2M27 54h1M105 54h1M144 54h2M148 54h3M156 54h1M248 54h2M279 54h1M348 54h1M350 54h1M7 55h2M11 55h1M23 55h1M49 55h1M105 55h1M143 55h2M146 55h1M248 55h2M349 55h3M7 56h1M10 56h2M23 56h2M146 56h1M250 56h1M360 56h1M10 57h2M23 57h2M104 57h1M141 57h1M146 57h1M249 57h2M253 57h1M5 58h1M8 58h2M16 58h1M52 58h1M103 58h1M143 58h2M253 58h1M8 59h2M13 59h2M17 59h1M49 59h1M103 59h2M139 59h2M143 59h2M5 60h1M7 60h1M13 60h1M15 60h1M40 60h1M141 60h1M143 60h1M268 60h2M280 60h2M5 61h2M8 61h2M13 61h1M15 61h1M40 61h1M42 61h1M49 61h1M66 61h1M91 61h1M126 61h1M141 61h3M146 61h1M148 61h1M281 61h1M5 62h1M7 62h3M11 62h1M14 62h2M43 62h1M47 62h1M49 62h1M66 62h1M138 62h1M144 62h2M148 62h1M5 63h2M8 63h1M11 63h1M36 63h1M44 63h1M46 63h1M94 63h1M138 63h1M145 63h1M147 63h1M40 64h1M45 64h1M52 64h1M73 64h4M78 64h1M86 64h1M95 64h1M138 64h1M141 64h2M146 64h4M15 65h1M41 65h1M44 65h1M52 65h1M72 65h1M86 65h1M95 65h1M143 65h1M147 65h2M9 66h1M42 66h2M51 66h1M73 66h2M81 66h1M87 66h2M95 66h1M98 66h1M100 66h1M140 66h2M147 66h1M10 67h1M37 67h1M87 67h1M94 67h1M126 67h1M139 67h2M9 68h1M48 68h1M50 68h1M75 68h1M83 68h2M90 68h1M92 68h2M97 68h1M125 68h1M84 69h1M89 69h1M97 69h1M142 69h1M8 70h1M76 70h4M87 70h1M89 70h1M96 70h2M107 70h1M6 71h5M13 71h1M39 71h1M79 71h1M83 71h1M86 71h1M88 71h1M90 71h3M97 71h1M7 72h2M13 72h1M34 72h2M80 72h1M83 72h2M88 72h1M97 72h2M143 72h1M6 73h2M73 73h1M84 73h1M88 73h2M97 73h1M99 73h1M142 73h2M0 74h2M4 74h2M33 74h1M35 74h1M141 74h1M0 75h2M99 75h1M107 75h1M141 75h1M0 76h1M4 76h1M12 76h3M106 76h1M142 76h1M1 77h1M4 77h1M11 77h1M13 77h4M24 77h2M64 77h1M83 77h1M99 77h1M142 77h1M2 78h1M4 78h1M8 78h1M10 78h1M13 78h2M21 78h3M25 78h1M63 78h2M83 78h1M96 78h1M99 78h1M103 78h1M105 78h1M142 78h1M144 78h2M1 79h3M5 79h2M9 79h1M25 79h1M63 79h3M84 79h1M97 79h1M99 79h1M105 79h1M143 79h4M2 80h1M24 80h3M31 80h1M63 80h1M65 80h2M81 80h1M85 80h1M96 80h4M144 80h1M146 80h2M26 81h2M30 81h2M63 81h5M81 81h1M86 81h1M97 81h3M144 81h1M146 81h2M27 82h1M30 82h2M64 82h2M84 82h2M99 82h1M103 82h1M144 82h1M2 83h1M24 83h2M27 83h1M30 83h2M64 83h1M83 83h1M143 83h2M1 84h2M30 84h1M64 84h1M84 84h2M100 84h2M144 84h1M29 85h2M85 85h1M99 85h2M146 85h2M28 86h3M85 86h1M99 86h1M147 86h1M30 87h1M100 87h1M138 87h1M141 87h1M28 88h1M30 88h1M82 88h2M99 88h1M138 88h1M143 88h1M146 88h2M29 89h1M79 89h1M82 89h1M146 89h2M29 90h1M79 90h1M81 90h2M137 90h1M145 90h2M28 91h1M84 91h1M141 91h1M28 92h1M99 92h1M28 93h3M84 93h1M100 93h1M33 94h1M84 94h1M102 94h2M27 95h2M30 95h1M33 95h1M111 95h1M142 95h1M149 95h2M27 96h2M30 96h1M100 96h1M111 96h1M149 96h1M30 97h1M100 97h1M111 97h1M143 97h3M149 97h1M27 98h2M30 98h1M36 98h1M78 98h1M118 98h1M145 98h1M29 99h2M47 99h1M78 99h1M84 99h1M98 99h1M118 99h1M145 99h1M29 100h2M48 100h1M71 100h1M83 100h1M99 100h1M103 100h1M105 100h1M26 101h1M30 101h1M99 101h2M25 102h1M30 102h1M49 102h1M77 102h1M83 102h1M98 102h5M144 102h1M24 103h2M47 103h1M49 103h1M96 103h2M105 103h1M144 103h1M24 104h2M60 104h2M76 104h1M96 104h1M105 104h1M143 104h3M29 105h1M47 105h1M61 105h1M143 105h1M145 105h1M152 105h2M26 106h4M35 106h1M80 106h1M84 106h2M143 106h2M35 107h2M79 107h1M86 107h1M96 107h1M99 107h1M106 107h1M143 107h2M147 107h1M32 108h1M35 108h2M47 108h1M76 108h2M87 108h3M95 108h1M106 108h1M145 108h1M147 108h2M32 109h1M36 109h1M52 109h1M91 109h1M96 109h2M100 109h1M144 109h5M45 110h1M51 110h1M53 110h1M95 110h1M102 110h1M148 110h1M51 111h1M53 111h1M92 111h1M103 111h1M35 112h1M42 112h1M52 112h1M94 112h1M147 112h1M44 113h1M148 113h1M317 113h2M124 114h2M145 114h4M317 114h2M125 115h1M145 115h2M9 116h2M123 116h1M125 116h1M144 116h3M8 117h1M103 117h1M124 117h1M147 117h1M8 118h1M143 118h1M8 119h1M48 120h1M144 120h2M151 120h1M35 121h1M46 121h1M60 121h1M145 121h1M10 122h1M46 122h1M146 122h3M9 123h1M37 123h1M113 123h1M147 123h1M9 124h1M11 124h1M109 124h1M113 124h1M146 124h1M13 125h1M36 125h1M110 125h1M118 125h2M122 125h1M125 125h1M310 125h1M13 126h2M108 126h1M111 126h2M118 126h1M120 126h1M125 126h1M145 126h1M13 127h1M16 127h1M111 127h2M143 127h2M313 127h1M12 128h1M14 128h1M117 128h1M143 128h1M36 129h1M104 129h2M117 129h1M124 129h1M129 129h2M45 130h1M47 130h1M52 130h1M105 130h2M117 130h1M141 130h2M149 130h1M13 131h1M46 131h1M51 131h1M105 131h1M117 131h1M122 131h1M142 131h2M148 131h1M13 132h1M36 132h1M46 132h1M108 132h1M117 132h1M130 132h1M142 132h1M13 133h1M51 133h1M117 133h1M143 133h1M51 134h2M117 134h1M143 134h1M35 135h1M106 135h2M116 135h1M118 135h1M143 135h1M13 136h1M16 136h1M35 136h1M103 136h1M114 136h3M118 136h1M15 137h2M35 137h1M104 137h1M115 137h1M118 137h1M15 138h2M36 138h1M104 138h1M115 138h2M119 138h1M36 139h1M141 139h2M36 140h1M38 140h1M139 140h2M37 141h1M139 141h2M145 141h1M39 142h1M140 142h1M43 143h1M82 143h2M141 143h1M39 144h1M42 144h2M63 144h1M82 144h1M110 144h2M42 145h1M64 145h1M90 145h1M108 145h1M42 146h1M53 146h1M62 146h1M64 146h1M91 146h2M108 146h1M140 146h3M52 147h2M64 147h1M79 147h2M108 147h1M42 148h1M63 148h2M80 148h1M92 148h1M140 148h1M43 149h1M60 149h2M63 149h2M81 149h1M86 149h1M91 149h1M107 149h1M139 149h2M44 150h1M61 150h2M64 150h1M79 150h1M82 150h1M89 150h1M91 150h1M140 150h3M74 151h3M83 151h3M106 151h1M140 151h2M143 151h1M40 152h2M75 152h2M91 152h2M106 152h1M140 152h3M145 152h2M39 153h1M42 153h1M50 153h1M52 153h1M76 153h2M89 153h1M91 153h3M106 153h1M142 153h1M144 153h1M146 153h1M39 154h1M41 154h2M49 154h2M52 154h1M62 154h2M69 154h1M79 154h1M84 154h2M90 154h1M92 154h2M107 154h1M143 154h2M146 154h1M37 155h4M50 155h1M52 155h1M69 155h1M84 155h2M90 155h1M93 155h1M143 155h3M303 155h1M37 156h3M43 156h1M46 156h1M83 156h1M141 156h1M146 156h1M39 157h1M46 157h1M53 157h1M81 157h1M83 157h1M86 157h1M140 157h1M146 157h1M38 158h2M43 158h1M49 158h1M82 158h1M88 158h1M140 158h1M146 158h1M40 159h1M42 159h2M58 159h1M82 159h1M86 159h1M140 159h1M40 160h1M47 160h2M52 160h1M83 160h2M121 160h2M140 160h1M40 161h1M55 161h1M83 161h2M121 161h1M140 161h2M52 162h1M131 162h1M139 162h1M141 162h1M141 163h1M114 165h1M127 165h1M132 165h1M139 165h1M141 165h1M113 166h2M122 166h1M127 166h1M141 166h1M314 166h1M127 167h1M141 167h2M297 167h2M127 168h1M140 168h1M142 168h1M297 168h1M127 169h1M139 169h1M93 170h1M127 170h1M93 171h1M127 171h1M138 171h2M93 172h1M127 172h1M139 172h2M302 172h1M141 173h1M301 173h1M303 173h1M136 174h2M140 174h3M304 174h1M136 175h1M139 175h1M141 175h2M300 175h3M305 175h1M138 176h1M141 176h1M300 176h2M138 177h1M140 178h1M144 178h1M139 179h1M144 179h1M144 180h1M145 181h1M145 182h1M145 183h1M145 184h1M144 185h1M144 186h1M289 186h1M144 187h1M289 187h1M138 189h1M141 189h3M139 190h5M138 191h6M138 192h2M141 192h5M147 192h2M138 193h2M141 193h2M148 193h1M139 194h1M146 194h2M147 195h2M146 196h2M149 196h1M146 197h1M151 199h1M151 200h1M146 201h3M151 201h1M154 201h2M146 202h1M148 202h1M156 202h1M153 203h1M156 203h1M153 204h2M156 204h1M154 205h3M155 206h3M156 207h1M158 207h1M157 208h1M164 217h1M163 218h2M163 220h2M165 221h1M165 222h1M167 227h1"/>
<path stroke="#76d084" d="M33 3h1M38 3h3M33 4h1M38 4h1M41 4h1M34 5h1M34 6h1M37 7h1M50 7h1M37 8h1M34 9h1M37 9h1M37 10h1M52 10h1M37 11h1M53 11h2M34 12h1M37 12h1M50 12h1M53 12h1M34 13h1M56 13h1M34 14h1M54 14h1M55 15h1M370 15h1M95 16h1M19 17h2M95 17h1M370 17h1M19 18h2M95 18h1M19 19h2M35 19h2M95 19h1M20 20h1M35 20h1M35 21h2M20 22h1M24 22h1M142 22h2M146 22h1M201 22h1M23 23h1M81 23h1M134 23h2M139 23h1M143 23h3M155 23h1M157 23h4M201 23h1M21 24h3M25 24h1M82 24h1M135 24h1M138 24h1M143 24h3M154 24h2M158 24h2M177 24h1M183 24h1M192 24h2M20 25h3M24 25h1M26 25h2M74 25h2M81 25h1M136 25h1M138 25h2M144 25h1M152 25h1M155 25h2M159 25h1M177 25h1M181 25h2M366 25h1M22 26h2M52 26h1M138 26h2M141 26h1M144 26h1M152 26h1M158 26h2M177 26h1M18 27h1M22 27h2M29 27h1M75 27h2M134 27h1M138 27h1M140 27h4M147 27h3M176 27h2M205 27h1M213 27h2M18 28h1M22 28h2M28 28h1M53 28h1M76 28h2M116 28h1M134 28h1M137 28h1M142 28h2M177 28h1M190 28h1M204 28h2M211 28h3M18 29h1M20 29h1M28 29h1M51 29h1M61 29h1M116 29h1M137 29h1M143 29h1M165 29h1M167 29h1M190 29h3M205 29h1M211 29h3M217 29h2M19 30h1M21 30h1M34 30h2M60 30h2M77 30h2M87 30h1M137 30h1M141 30h1M146 30h2M165 30h3M190 30h2M205 30h5M217 30h1M219 30h1M17 31h2M21 31h1M29 31h1M31 31h5M38 31h1M60 31h2M136 31h1M141 31h1M143 31h2M146 31h3M154 31h1M192 31h1M216 31h1M219 31h1M223 31h1M231 31h1M17 32h2M30 32h1M36 32h1M60 32h1M85 32h1M137 32h1M141 32h1M143 32h1M148 32h1M154 32h1M156 32h1M205 32h1M215 32h3M219 32h1M224 32h2M232 32h1M18 33h2M35 33h3M88 33h1M138 33h1M142 33h2M151 33h4M156 33h1M159 33h1M190 33h2M205 33h1M209 33h2M213 33h2M216 33h3M225 33h4M235 33h2M381 33h1M38 34h2M51 34h1M53 34h1M88 34h1M92 34h1M138 34h1M141 34h3M149 34h3M154 34h3M160 34h1M206 34h1M208 34h2M212 34h2M217 34h1M229 34h2M233 34h3M20 35h2M30 35h4M39 35h1M49 35h2M84 35h1M88 35h1M93 35h1M139 35h4M149 35h1M151 35h1M156 35h2M160 35h1M202 35h2M207 35h1M213 35h4M223 35h3M228 35h2M30 36h1M55 36h1M84 36h1M139 36h2M143 36h2M149 36h1M152 36h1M156 36h2M159 36h1M206 36h1M208 36h1M210 36h1M212 36h1M216 36h1M218 36h1M223 36h1M226 36h2M229 36h1M231 36h1M367 36h1M369 36h1M30 37h1M85 37h1M87 37h1M140 37h1M144 37h1M150 37h1M152 37h3M158 37h1M205 37h2M210 37h1M214 37h1M218 37h3M228 37h2M232 37h1M369 37h1M87 38h1M93 38h1M141 38h1M143 38h3M151 38h3M155 38h1M157 38h1M159 38h1M205 38h2M214 38h1M218 38h2M221 38h1M228 38h2M249 38h1M369 38h1M14 39h1M29 39h1M72 39h1M87 39h1M140 39h1M144 39h1M154 39h2M205 39h2M208 39h1M211 39h1M214 39h1M218 39h2M222 39h2M228 39h1M248 39h1M354 39h1M30 40h1M144 40h1M148 40h2M155 40h1M205 40h1M207 40h1M210 40h1M214 40h1M218 40h1M220 40h1M222 40h1M354 40h1M368 40h1M19 41h1M29 41h2M143 41h1M147 41h1M151 41h1M205 41h1M209 41h1M218 41h2M224 41h2M266 41h1M352 41h1M354 41h1M19 42h1M72 42h1M144 42h3M205 42h1M207 42h1M216 42h1M218 42h2M224 42h1M228 42h1M239 42h2M261 42h1M265 42h1M350 42h1M352 42h1M354 42h1M358 42h1M27 43h1M37 43h1M57 43h1M149 43h2M205 43h2M216 43h1M218 43h1M220 43h2M225 43h1M228 43h1M238 43h3M246 43h1M248 43h1M266 43h1M270 43h2M352 43h1M354 43h1M13 44h5M20 44h1M37 44h2M138 44h1M145 44h1M147 44h1M152 44h1M203 44h3M211 44h1M214 44h1M222 44h4M227 44h2M231 44h1M238 44h2M245 44h1M247 44h1M253 44h1M266 44h1M269 44h3M352 44h3M358 44h2M13 45h1M20 45h1M26 45h1M38 45h1M145 45h1M151 45h3M203 45h3M212 45h1M215 45h1M217 45h2M224 45h1M226 45h1M231 45h1M233 45h1M247 45h1M252 45h1M270 45h2M352 45h1M354 45h2M358 45h2M12 46h1M20 46h1M25 46h1M139 46h2M144 46h1M151 46h3M204 46h1M215 46h1M218 46h1M224 46h1M234 46h1M236 46h4M247 46h1M251 46h1M256 46h1M265 46h1M269 46h4M353 46h1M356 46h3M360 46h1M20 47h1M139 47h2M142 47h4M151 47h4M205 47h1M215 47h1M217 47h1M239 47h2M244 47h1M247 47h1M251 47h1M256 47h1M265 47h1M269 47h5M355 47h2M360 47h1M364 47h1M21 48h2M24 48h1M96 48h1M139 48h3M145 48h1M216 48h2M242 48h2M246 48h1M256 48h1M271 48h3M278 48h1M349 48h2M352 48h1M355 48h2M360 48h1M363 48h1M365 48h1M22 49h2M37 49h1M149 49h1M245 49h1M251 49h1M257 49h1M268 49h4M273 49h4M342 49h1M349 49h3M354 49h1M356 49h1M358 49h3M363 49h1M365 49h1M28 50h1M149 50h1M151 50h1M225 50h1M248 50h1M252 50h1M257 50h1M268 50h1M332 50h2M350 50h2M360 50h1M362 50h2M365 50h1M368 50h1M28 51h1M151 51h1M158 51h1M248 51h1M250 51h1M253 51h1M257 51h1M267 51h2M272 51h2M332 51h1M342 51h1M345 51h1M349 51h1M362 51h4M368 51h1M96 52h1M150 52h1M152 52h2M156 52h1M158 52h1M247 52h1M250 52h3M258 52h2M266 52h1M269 52h2M344 52h1M346 52h2M349 52h1M353 52h2M357 52h1M360 52h1M365 52h2M6 53h1M151 53h4M156 53h2M247 53h1M250 53h1M252 53h1M272 53h1M349 53h1M357 53h3M366 53h1M6 54h1M151 54h3M155 54h1M157 54h1M250 54h1M270 54h1M276 54h3M347 54h1M349 54h1M351 54h1M354 54h2M357 54h3M6 55h1M50 55h1M147 55h1M150 55h3M155 55h1M250 55h1M279 55h2M347 55h2M352 55h1M354 55h5M360 55h1M6 56h1M142 56h2M147 56h1M248 56h1M252 56h2M256 56h1M345 56h3M350 56h3M356 56h2M359 56h1M7 57h1M142 57h2M147 57h1M252 57h1M337 57h1M360 57h1M7 58h1M49 58h1M104 58h1M145 58h3M249 58h1M269 58h2M6 59h2M52 59h1M145 59h3M249 59h1M254 59h1M268 59h6M280 59h2M6 60h1M14 60h1M139 60h1M144 60h4M249 60h1M266 60h2M270 60h1M272 60h2M277 60h1M14 61h1M41 61h1M144 61h2M266 61h5M272 61h2M275 61h1M280 61h1M40 62h1M48 62h1M50 62h1M91 62h2M142 62h2M271 62h1M276 62h1M7 63h1M40 63h1M50 63h1M52 63h1M93 63h1M143 63h2M148 63h1M5 64h1M8 64h1M37 64h1M44 64h1M50 64h1M77 64h1M90 64h1M94 64h1M143 64h3M150 64h1M282 64h3M8 65h1M36 65h2M46 65h1M50 65h2M73 65h2M78 65h1M94 65h1M144 65h3M149 65h1M37 66h1M50 66h1M75 66h1M89 66h1M94 66h1M99 66h1M139 66h1M142 66h5M148 66h1M278 66h2M9 67h1M47 67h1M50 67h1M75 67h1M79 67h2M82 67h1M88 67h3M93 67h1M98 67h1M101 67h1M125 67h1M141 67h5M147 67h2M278 67h1M8 68h1M49 68h1M78 68h1M88 68h2M126 68h1M141 68h4M147 68h2M4 69h2M7 69h1M76 69h3M83 69h1M88 69h1M143 69h1M5 70h3M83 70h2M88 70h1M4 71h2M80 71h1M84 71h2M87 71h1M95 71h2M98 71h1M101 71h1M106 71h1M143 71h1M4 72h1M6 72h1M39 72h2M81 72h2M85 72h3M90 72h1M95 72h2M105 72h1M144 72h3M156 72h1M1 73h1M4 73h2M33 73h1M35 73h1M40 73h1M85 73h3M96 73h1M144 73h2M34 74h1M39 74h2M84 74h1M87 74h3M98 74h1M107 74h1M142 74h1M144 74h2M4 75h1M84 75h1M88 75h1M94 75h2M142 75h1M1 76h3M84 76h1M88 76h1M95 76h1M99 76h1M104 76h1M145 76h1M148 76h1M2 77h2M12 77h1M17 77h4M84 77h1M87 77h2M94 77h5M104 77h2M145 77h2M148 77h1M3 78h1M11 78h2M15 78h2M20 78h1M24 78h1M84 78h4M94 78h2M97 78h1M143 78h1M146 78h1M4 79h1M10 79h4M17 79h2M21 79h4M85 79h1M96 79h1M98 79h1M103 79h1M147 79h1M5 80h6M12 80h1M16 80h3M23 80h1M64 80h1M86 80h1M95 80h1M103 80h1M145 80h1M2 81h1M5 81h2M9 81h1M23 81h1M87 81h1M96 81h1M103 81h2M145 81h1M148 81h1M2 82h1M23 82h1M26 82h1M86 82h2M97 82h1M145 82h4M3 83h1M84 83h3M97 83h1M145 83h1M3 84h1M25 84h1M27 84h1M86 84h1M97 84h1M145 84h1M1 85h2M27 85h1M98 85h1M148 85h1M148 86h3M28 87h2M85 87h1M99 87h1M147 87h2M150 87h1M29 88h1M80 88h2M84 88h2M137 88h1M141 88h1M28 89h1M81 89h1M83 89h1M85 89h1M99 89h1M137 89h1M148 89h1M28 90h1M83 90h3M99 90h1M144 90h1M147 90h1M151 90h1M85 91h1M99 91h1M85 92h1M98 92h1M27 93h1M35 93h1M27 94h4M36 94h1M101 94h1M148 94h3M29 95h1M85 95h1M148 95h1M29 96h1M85 96h1M99 96h1M143 96h1M145 96h4M150 96h1M27 97h3M34 97h1M99 97h1M146 97h3M26 98h1M29 98h1M35 98h1M98 98h2M146 98h1M148 98h2M26 99h1M85 99h1M97 99h1M99 99h1M152 99h2M26 100h1M47 100h1M70 100h1M84 100h2M97 100h2M104 100h1M145 100h1M153 100h1M25 101h1M48 101h1M83 101h1M98 101h1M103 101h1M105 101h1M145 101h1M24 102h1M47 102h1M95 102h3M103 102h1M105 102h1M30 103h2M77 103h1M99 103h1M101 103h3M145 103h1M49 104h1M78 104h1M99 104h1M103 104h2M152 104h4M25 105h1M32 105h1M79 105h1M84 105h1M88 105h1M99 105h1M104 105h2M154 105h1M25 106h1M47 106h1M79 106h1M86 106h1M88 106h2M99 106h1M105 106h1M147 106h1M152 106h2M26 107h4M32 107h1M47 107h1M78 107h1M89 107h2M95 107h1M145 107h2M148 107h1M91 108h1M100 108h1M146 108h1M149 108h1M31 109h1M49 109h1M92 109h1M95 109h1M101 109h2M149 109h1M319 109h2M32 110h2M44 110h1M92 110h1M103 110h1M149 110h1M319 110h2M34 111h1M43 111h1M45 111h1M94 111h1M105 111h1M148 111h1M45 112h1M93 112h1M103 112h1M148 112h1M10 113h1M35 113h1M43 113h1M315 113h2M319 113h1M9 114h2M35 114h1M319 114h1M9 115h2M35 115h1M124 115h1M147 115h1M317 115h3M7 116h2M35 116h1M104 116h1M147 116h4M10 117h1M35 117h1M144 117h3M148 117h1M152 117h1M9 118h1M144 118h1M151 118h2M307 118h1M9 119h1M35 119h1M144 119h2M150 119h3M307 119h1M35 120h1M47 120h1M146 120h1M149 120h2M152 120h1M307 120h1M11 121h1M48 121h1M146 121h5M305 121h2M35 122h2M149 122h1M305 122h2M10 123h2M148 123h1M306 123h1M312 123h2M10 124h1M12 124h2M36 124h1M147 124h1M306 124h1M310 124h4M14 125h2M109 125h1M123 125h2M146 125h1M306 125h1M311 125h1M16 126h1M36 126h1M119 126h1M121 126h1M146 126h1M310 126h4M36 127h1M108 127h1M118 127h3M145 127h2M311 127h1M13 128h1M16 128h1M36 128h1M110 128h1M118 128h2M124 128h1M144 128h4M312 128h1M13 129h3M108 129h2M118 129h1M120 129h1M143 129h1M147 129h2M13 130h1M36 130h1M46 130h1M107 130h2M123 130h1M129 130h2M143 130h3M147 130h1M36 131h1M52 131h1M106 131h1M108 131h1M144 131h4M149 131h1M51 132h1M106 132h1M129 132h1M143 132h3M148 132h1M144 133h1M148 133h1M14 134h1M35 134h1M106 134h2M144 134h1M146 134h1M14 135h1M16 135h1M117 135h1M144 135h1M146 135h2M14 136h1M17 136h1M117 136h1M144 136h1M146 136h2M14 137h1M17 137h1M116 137h2M119 137h1M144 137h1M17 138h1M35 138h1M144 138h1M143 139h2M141 140h1M143 140h4M36 141h1M38 141h1M141 141h1M144 141h1M146 141h1M141 142h1M145 142h1M39 143h1M83 144h1M142 144h1M40 145h2M63 145h1M89 145h1M111 145h1M142 145h1M63 146h1M88 146h1M90 146h1M111 146h1M41 147h1M63 147h1M91 147h2M109 147h1M141 147h2M41 148h1M87 148h1M91 148h1M141 148h1M42 149h1M80 149h1M90 149h1M141 149h1M43 150h1M63 150h1M81 150h1M86 150h1M107 150h1M143 150h1M39 151h2M42 151h3M62 151h1M64 151h1M79 151h1M145 151h2M39 152h1M42 152h3M64 152h1M79 152h1M84 152h2M43 153h1M45 153h1M51 153h1M79 153h1M84 153h2M37 154h2M43 154h1M45 154h1M51 154h1M86 154h1M89 154h1M36 155h1M41 155h3M45 155h1M48 155h2M80 155h1M83 155h1M86 155h1M89 155h1M146 155h1M302 155h1M304 155h1M36 156h1M40 156h1M42 156h1M44 156h2M47 156h1M49 156h1M81 156h2M86 156h1M89 156h1M142 156h1M144 156h2M36 157h3M40 157h1M42 157h1M49 157h1M82 157h1M87 157h3M141 157h1M145 157h1M40 158h3M53 158h2M59 158h1M145 158h1M39 159h1M47 159h1M59 159h1M141 160h1M39 161h1M52 161h1M142 161h1M145 161h1M54 162h1M140 162h1M142 162h1M144 162h2M151 162h1M131 163h2M139 163h1M142 163h1M144 163h1M131 164h2M139 164h1M141 164h2M157 164h1M140 165h1M142 165h1M313 165h2M142 166h1M313 166h1M315 166h1M143 167h2M296 167h1M314 167h2M141 168h1M143 168h1M296 168h1M298 168h1M142 169h1M296 169h2M139 170h2M142 170h1M140 171h1M301 171h1M141 172h2M301 172h1M142 173h1M143 174h1M287 174h1M301 174h1M140 175h1M287 175h1M299 175h1M140 176h1M143 176h1M289 176h3M299 176h1M302 176h4M140 177h1M144 177h1M288 177h4M300 177h1M139 178h1M145 178h1M288 178h3M309 178h1M145 179h2M288 179h1M309 179h1M145 180h3M146 181h1M308 181h1M287 182h1M309 183h1M146 184h1M145 185h1M306 185h1M288 186h1M306 186h1M288 187h1M306 187h1M144 188h1M306 188h1M144 189h1M144 190h1M309 190h1M144 191h3M148 191h2M309 191h1M140 192h1M149 192h1M309 192h1M140 193h1M148 194h2M149 195h1M150 197h1M151 198h2M152 199h2M152 200h3M152 201h2M156 201h1M147 202h1M152 202h2M157 205h2M158 206h1M158 208h1M164 216h1M162 217h2M165 217h1M162 218h1M165 218h2M163 219h4M165 220h1"/>
<path stroke="#78d280" d="M34 2h1M37 2h1M37 3h1M34 4h1M37 4h1M37 5h1M37 6h1M35 7h1M35 8h1M50 8h2M50 9h2M50 10h2M50 11h2M54 12h2M54 13h1M55 14h1M35 15h1M35 16h1M370 16h1M35 17h1M35 18h2M36 20h1M19 22h1M139 22h1M144 22h2M202 22h1M20 23h1M24 23h1M82 23h1M142 23h1M161 23h1M202 23h2M20 24h1M24 24h1M81 24h1M134 24h1M139 24h1M142 24h1M157 24h1M161 24h1M175 24h2M178 24h1M180 24h1M184 24h1M188 24h4M200 24h1M19 25h1M25 25h1M140 25h4M153 25h2M157 25h2M160 25h1M169 25h1M175 25h2M178 25h1M188 25h6M18 26h1M24 26h1M26 26h2M75 26h1M142 26h2M153 26h5M164 26h2M175 26h2M178 26h1M181 26h2M24 27h1M28 27h1M52 27h1M139 27h1M150 27h10M175 27h1M178 27h1M181 27h3M191 27h2M204 27h1M206 27h1M138 28h4M147 28h1M156 28h2M175 28h2M181 28h2M206 28h1M216 28h2M19 29h1M22 29h1M27 29h1M77 29h1M138 29h5M147 29h1M151 29h1M156 29h2M168 29h3M210 29h1M214 29h1M216 29h1M22 30h1M27 30h1M86 30h1M138 30h3M148 30h1M150 30h7M168 30h3M189 30h1M192 30h1M213 30h1M216 30h1M220 30h3M37 31h1M50 31h1M137 31h1M149 31h1M152 31h2M156 31h1M165 31h1M169 31h2M190 31h1M213 31h1M215 31h1M222 31h1M381 31h1M21 32h1M29 32h1M31 32h5M37 32h2M49 32h1M138 32h1M144 32h4M149 32h5M157 32h3M165 32h1M169 32h1M190 32h1M193 32h1M213 32h2M222 32h2M230 32h2M381 32h1M17 33h1M20 33h1M33 33h2M38 33h1M139 33h1M141 33h1M144 33h1M148 33h3M160 33h1M204 33h1M219 33h1M223 33h2M229 33h4M379 33h1M16 34h1M19 34h2M30 34h2M33 34h1M139 34h2M144 34h2M152 34h2M161 34h1M167 34h1M203 34h1M205 34h1M218 34h2M223 34h6M231 34h2M380 34h1M16 35h2M19 35h1M22 35h1M92 35h1M143 35h4M152 35h1M155 35h1M161 35h1M205 35h2M211 35h2M218 35h1M226 35h2M230 35h5M15 36h1M19 36h3M56 36h1M87 36h1M92 36h2M141 36h2M145 36h1M153 36h1M155 36h1M205 36h1M207 36h1M211 36h1M214 36h1M219 36h2M230 36h1M232 36h2M368 36h1M18 37h1M55 37h1M86 37h1M92 37h2M141 37h1M143 37h1M145 37h1M149 37h1M155 37h2M159 37h1M204 37h1M207 37h3M215 37h1M221 37h2M367 37h1M17 38h2M29 38h1M55 38h1M58 38h1M142 38h1M146 38h1M150 38h1M156 38h1M160 38h1M204 38h1M207 38h1M209 38h1M367 38h1M15 39h1M17 39h2M71 39h1M145 39h2M148 39h4M153 39h1M158 39h3M207 39h1M367 39h2M14 40h2M29 40h1M72 40h1M145 40h1M147 40h1M150 40h1M154 40h1M156 40h1M219 40h1M14 41h2M58 41h1M71 41h2M144 41h3M155 41h1M210 41h1M226 41h1M353 41h1M13 42h3M28 42h1M55 42h1M152 42h1M208 42h1M210 42h1M217 42h1M225 42h1M266 42h2M272 42h1M353 42h1M13 43h2M18 43h3M23 43h1M56 43h1M145 43h2M151 43h4M161 43h1M204 43h1M210 43h1M217 43h1M219 43h1M226 43h2M247 43h1M269 43h1M273 43h1M351 43h1M353 43h1M358 43h1M12 44h1M18 44h2M26 44h1M146 44h1M148 44h4M154 44h1M159 44h2M202 44h1M206 44h1M210 44h1M217 44h2M220 44h2M246 44h1M256 44h1M268 44h1M272 44h2M348 44h1M12 45h1M18 45h2M21 45h1M146 45h5M159 45h1M201 45h2M211 45h1M213 45h2M223 45h1M228 45h1M232 45h1M245 45h2M253 45h4M266 45h1M268 45h2M272 45h1M335 45h1M349 45h3M21 46h1M24 46h1M146 46h1M150 46h1M154 46h1M201 46h3M225 46h1M229 46h2M233 46h1M245 46h2M255 46h1M268 46h1M273 46h4M334 46h1M345 46h2M350 46h3M354 46h2M359 46h1M21 47h2M24 47h1M141 47h1M146 47h1M150 47h1M204 47h1M233 47h6M245 47h2M268 47h1M274 47h1M277 47h1M334 47h1M349 47h5M357 47h3M23 48h1M148 48h1M151 48h4M157 48h2M205 48h1M215 48h1M233 48h2M239 48h2M244 48h2M265 48h1M268 48h3M274 48h4M333 48h2M342 48h1M351 48h1M353 48h2M357 48h3M364 48h1M96 49h1M150 49h4M217 49h1M219 49h1M234 49h1M241 49h3M256 49h1M264 49h4M277 49h1M332 49h2M341 49h1M343 49h1M346 49h1M348 49h1M364 49h1M37 50h1M96 50h1M155 50h1M219 50h1M226 50h1M240 50h4M245 50h1M253 50h2M342 50h2M346 50h1M349 50h1M364 50h1M37 51h1M96 51h1M152 51h2M155 51h3M221 51h2M225 51h2M238 51h3M245 51h3M256 51h1M331 51h1M333 51h1M346 51h2M151 52h1M154 52h2M157 52h1M246 52h1M253 52h1M255 52h3M267 52h2M332 52h1M342 52h1M345 52h1M348 52h1M355 52h2M361 52h2M364 52h1M155 53h1M158 53h1M251 53h1M253 53h1M255 53h2M266 53h1M269 53h3M274 53h2M278 53h1M343 53h2M346 53h1M352 53h5M360 53h1M365 53h1M154 54h1M247 54h1M251 54h3M269 54h1M272 54h2M352 54h2M356 54h1M360 54h2M365 54h2M148 55h2M153 55h2M156 55h1M252 55h5M270 55h3M336 55h1M345 55h2M353 55h1M359 55h1M361 55h1M49 56h1M148 56h1M151 56h5M164 56h1M251 56h1M254 56h2M269 56h5M280 56h1M336 56h3M344 56h1M348 56h2M353 56h3M358 56h1M361 56h1M6 57h1M51 57h1M148 57h1M152 57h4M164 57h1M248 57h1M251 57h1M254 57h1M256 57h1M264 57h2M269 57h6M276 57h1M338 57h1M346 57h2M351 57h2M354 57h1M357 57h3M6 58h1M152 58h2M156 58h1M248 58h1M250 58h1M254 58h3M262 58h1M264 58h2M268 58h1M271 58h4M276 58h1M280 58h1M346 58h1M354 58h1M357 58h2M156 59h2M250 59h1M255 59h1M261 59h1M265 59h1M274 59h1M279 59h1M346 59h2M357 59h1M50 60h1M52 60h1M140 60h1M148 60h1M250 60h1M254 60h1M265 60h1M271 60h1M274 60h3M278 60h2M347 60h2M357 60h1M50 61h1M52 61h1M139 61h2M153 61h3M250 61h1M265 61h1M271 61h1M274 61h1M276 61h2M52 62h1M139 62h1M149 62h1M155 62h2M266 62h2M270 62h1M272 62h2M275 62h1M281 62h1M43 63h1M49 63h1M139 63h1M149 63h2M155 63h1M266 63h1M281 63h1M6 64h2M36 64h1M46 64h1M51 64h1M139 64h1M151 64h1M158 64h1M264 64h2M360 64h1M42 65h2M75 65h2M90 65h1M139 65h2M150 65h2M265 65h1M274 65h2M279 65h3M284 65h1M8 66h1M78 66h1M90 66h1M93 66h1M274 66h2M277 66h1M280 66h2M7 67h2M78 67h1M81 67h1M91 67h2M146 67h1M149 67h1M279 67h1M284 67h1M4 68h4M76 68h2M79 68h2M82 68h1M98 68h1M145 68h2M149 68h1M3 69h1M6 69h1M79 69h2M82 69h1M144 69h1M147 69h3M152 69h1M276 69h1M348 69h1M358 69h1M4 70h1M80 70h1M82 70h1M98 70h1M143 70h1M152 70h1M3 71h1M81 71h2M107 71h1M144 71h3M152 71h1M155 71h2M3 72h1M5 72h1M91 72h2M99 72h2M107 72h1M157 72h1M327 72h1M3 73h1M34 73h1M39 73h1M90 73h1M94 73h1M105 73h1M107 73h1M146 73h1M276 73h1M327 73h1M2 74h2M85 74h2M90 74h1M94 74h4M105 74h1M143 74h1M146 74h1M2 75h2M87 75h1M89 75h1M105 75h2M143 75h4M148 75h1M85 76h3M93 76h1M96 76h3M105 76h1M143 76h2M146 76h1M149 76h1M357 76h1M85 77h2M93 77h1M143 77h2M147 77h1M149 77h1M326 77h2M17 78h3M88 78h1M93 78h1M98 78h1M104 78h1M147 78h2M326 78h1M361 78h1M14 79h3M19 79h2M86 79h3M92 79h4M148 79h1M3 80h2M11 80h1M13 80h1M19 80h4M87 80h1M92 80h3M104 80h1M148 80h1M10 81h4M16 81h7M94 81h2M149 81h1M3 82h1M5 82h2M9 82h1M22 82h1M149 82h3M4 83h1M6 83h1M23 83h1M26 83h1M87 83h1M96 83h1M146 83h7M4 84h4M24 84h1M26 84h1M94 84h3M146 84h4M151 84h2M3 85h1M24 85h3M86 85h1M94 85h2M97 85h1M149 85h4M27 86h1M93 86h1M98 86h1M151 86h1M93 87h1M149 87h1M151 87h1M27 88h1M90 88h1M94 88h1M98 88h1M142 88h1M148 88h3M27 89h1M80 89h1M84 89h1M90 89h1M94 89h2M98 89h1M141 89h1M151 89h1M27 90h1M80 90h1M98 90h1M141 90h1M148 90h1M152 90h1M27 91h1M95 91h1M98 91h1M144 91h3M151 91h2M27 92h1M145 92h2M34 93h1M85 93h1M99 93h1M146 93h1M148 93h1M152 93h1M85 94h1M142 94h1M146 94h2M151 94h2M36 95h1M100 95h1M143 95h1M145 95h3M151 95h1M36 96h1M144 96h1M151 96h1M26 97h1M36 97h1M85 97h1M98 97h1M150 97h1M85 98h1M147 98h1M150 98h1M152 98h2M25 99h1M96 99h1M146 99h1M149 99h1M23 100h1M96 100h1M152 100h1M24 101h1M47 101h1M95 101h3M153 101h2M48 102h1M84 102h1M93 102h2M145 102h1M23 103h1M48 103h1M84 103h3M93 103h3M100 103h1M104 103h1M152 103h5M23 104h1M30 104h1M48 104h1M84 104h3M95 104h1M102 104h1M146 104h1M24 105h1M30 105h1M49 105h1M76 105h1M78 105h1M85 105h3M89 105h1M96 105h1M103 105h1M146 105h3M150 105h2M32 106h1M78 106h1M87 106h1M94 106h1M96 106h1M104 106h1M145 106h2M148 106h1M150 106h2M154 106h1M76 107h2M87 107h2M91 107h1M94 107h1M100 107h1M105 107h1M149 107h1M151 107h2M26 108h4M92 108h3M101 108h2M152 108h2M30 109h1M48 109h1M93 109h2M103 109h1M152 109h1M31 110h1M93 110h2M105 110h1M32 111h2M52 111h1M93 111h1M149 111h1M9 112h1M34 112h1M43 112h1M149 112h2M317 112h2M9 113h1M11 113h1M103 113h1M149 113h1M314 113h1M320 113h1M8 114h1M11 114h1M34 114h1M103 114h1M149 114h1M314 114h3M320 114h1M7 115h2M103 115h2M148 115h3M304 115h2M313 115h2M316 115h1M320 115h1M11 116h1M103 116h1M124 116h1M151 116h1M303 116h7M314 116h1M317 116h1M319 116h2M149 117h3M153 117h1M304 117h1M306 117h3M319 117h2M35 118h1M145 118h4M150 118h1M153 118h1M306 118h1M318 118h1M146 119h2M149 119h1M306 119h1M10 120h1M12 120h1M147 120h2M303 120h4M308 120h1M12 121h1M47 121h1M151 121h1M301 121h1M303 121h2M307 121h2M314 121h1M11 122h1M47 122h1M150 122h1M304 122h1M307 122h1M310 122h1M313 122h2M35 123h2M149 123h1M304 123h2M307 123h1M311 123h1M14 124h1M290 124h2M305 124h1M307 124h1M309 124h1M151 125h1M289 125h3M307 125h1M309 125h1M312 125h2M110 126h1M124 126h1M291 126h1M306 126h2M309 126h1M110 127h1M124 127h1M147 127h1M297 127h1M306 127h2M309 127h2M108 128h1M120 128h1M306 128h2M311 128h1M313 128h1M16 129h1M144 129h3M149 129h1M306 129h1M14 130h2M121 130h2M146 130h1M14 131h1M107 131h1M129 131h2M35 132h1M52 132h1M107 132h1M146 132h2M149 132h1M14 133h1M35 133h1M52 133h1M106 133h2M145 133h3M15 134h3M145 134h1M147 134h2M15 135h1M17 135h1M145 135h1M148 135h1M15 136h1M145 136h1M148 136h1M18 139h1M35 139h1M145 139h2M142 140h1M143 141h1M37 142h2M144 142h1M146 142h1M38 143h1M142 143h1M144 143h1M143 144h2M39 145h1M143 145h1M40 146h2M143 146h1M40 147h1M90 147h1M110 147h1M143 147h1M40 148h1M90 148h1M142 148h1M41 149h1M142 149h1M39 150h4M80 150h1M152 150h1M38 151h1M41 151h1M63 151h1M82 151h1M86 151h1M107 151h1M144 151h1M147 151h1M152 151h1M38 152h1M62 152h1M83 152h1M86 152h1M88 152h1M143 152h2M37 153h2M44 153h1M62 153h2M86 153h1M88 153h1M107 153h1M143 153h1M147 153h1M36 154h1M44 154h1M80 154h1M83 154h1M44 155h1M81 155h1M148 155h2M299 155h1M35 156h1M41 156h1M87 156h2M143 156h1M147 156h3M299 156h1M303 156h1M35 157h1M41 157h1M47 157h1M147 157h1M37 158h1M47 158h1M141 158h1M144 158h1M298 158h1M37 159h2M48 159h1M141 159h1M145 159h2M299 159h1M39 160h1M142 160h1M145 160h2M160 160h1M38 161h1M146 161h1M300 161h1M310 161h3M143 162h1M288 162h2M300 162h1M311 162h2M140 163h1M143 163h1M145 163h1M151 163h1M157 163h2M289 163h1M140 164h1M144 164h2M156 164h1M158 164h2M295 164h1M313 164h2M144 165h1M157 165h2M294 165h1M312 165h1M143 166h2M157 166h1M295 166h4M312 166h1M145 167h1M295 167h1M313 167h1M299 168h1M140 169h2M143 169h1M295 169h1M298 169h3M304 169h1M141 170h1M143 170h1M159 170h1M295 170h7M304 170h1M141 171h3M293 171h2M299 171h2M302 171h1M143 172h1M287 172h1M293 172h2M298 172h2M303 172h1M143 173h1M158 173h3M278 173h1M287 173h1M294 173h1M296 173h3M304 173h1M276 174h3M286 174h1M296 174h3M300 174h1M305 174h2M143 175h1M277 175h1M286 175h1M288 175h1M290 175h5M296 175h3M306 175h1M139 176h1M285 176h4M292 176h1M294 176h1M298 176h1M139 177h1M145 177h1M149 177h1M274 177h1M279 177h1M287 177h1M298 177h2M301 177h5M308 177h1M146 178h1M150 178h1M279 178h1M287 178h1M300 178h1M308 178h1M310 178h1M147 179h1M287 179h1M289 179h1M308 179h1M310 179h1M287 180h2M294 180h1M307 180h3M147 181h1M287 181h1M307 181h1M309 181h1M146 182h1M288 182h1M308 182h3M146 183h1M287 183h2M308 183h1M310 183h1M147 184h1M288 184h3M307 184h1M309 184h2M146 185h3M289 185h1M305 185h1M307 185h1M310 185h1M145 186h1M269 186h1M295 186h1M305 186h1M307 186h1M290 187h1M305 187h1M307 187h1M311 187h1M289 188h2M307 188h1M311 188h2M280 189h1M306 189h4M145 190h2M148 190h1M308 190h1M310 190h2M147 191h1M150 191h1M310 191h2M150 192h2M288 192h1M310 192h1M149 193h3M286 193h3M150 194h3M286 194h1M152 195h1M293 195h1M152 196h1M293 196h1M151 197h2M286 200h1M298 200h1M157 201h1M157 202h1M157 203h1M157 204h2M159 205h1M159 207h1M159 208h1M157 209h1M160 215h1M164 215h1M176 215h1M163 216h1M165 216h1M176 216h1M161 217h1M166 217h1M167 218h1M173 218h1M167 219h1M166 220h1M172 222h1M179 222h1M172 223h1M179 223h1M168 224h3M172 224h1M167 225h1M172 225h1M167 226h1M168 227h1M167 228h1"/>
<path stroke="#7bd47c" d="M35 2h2M34 3h3M35 4h2M35 5h1M35 6h1M36 7h1M36 8h1M34 10h1M34 11h1M55 13h1M36 16h1M36 17h1M202 21h1M140 22h2M19 23h1M140 23h2M204 23h1M140 24h2M165 24h1M168 24h2M172 24h1M174 24h1M179 24h1M187 24h1M194 24h1M199 24h1M201 24h4M18 25h1M161 25h2M164 25h5M170 25h1M174 25h1M179 25h2M183 25h2M187 25h1M194 25h1M201 25h1M25 26h1M160 26h4M166 26h1M169 26h2M179 26h2M183 26h2M188 26h5M201 26h2M205 26h1M25 27h3M160 27h3M164 27h1M170 27h1M174 27h1M179 27h1M189 27h2M193 27h1M203 27h1M207 27h3M215 27h1M24 28h4M52 28h1M150 28h6M158 28h2M161 28h2M166 28h2M169 28h2M173 28h2M178 28h1M183 28h1M193 28h1M210 28h1M214 28h2M379 28h1M23 29h2M26 29h1M53 29h1M150 29h1M152 29h4M158 29h2M161 29h4M171 29h1M175 29h1M206 29h4M215 29h1M379 29h1M23 30h1M26 30h1M149 30h1M157 30h5M164 30h1M171 30h1M186 30h3M214 30h2M22 31h2M28 31h1M86 31h2M138 31h1M140 31h1M150 31h2M157 31h5M164 31h1M166 31h1M168 31h1M171 31h1M189 31h1M193 31h1M195 31h2M214 31h1M220 31h2M16 32h1M22 32h2M160 32h1M164 32h1M168 32h1M170 32h3M194 32h2M220 32h2M16 33h1M21 33h1M26 33h1M30 33h3M52 33h2M85 33h1M140 33h1M145 33h3M161 33h1M164 33h9M192 33h1M194 33h1M220 33h1M222 33h1M17 34h2M21 34h1M29 34h1M32 34h1M50 34h1M146 34h3M163 34h4M172 34h1M190 34h2M220 34h1M222 34h1M18 35h1M29 35h1M87 35h1M147 35h2M153 35h2M162 35h2M167 35h1M172 35h1M189 35h1M219 35h4M16 36h3M29 36h1M85 36h2M146 36h1M148 36h1M154 36h1M160 36h1M171 36h2M200 36h1M204 36h1M215 36h1M221 36h2M15 37h3M19 37h1M29 37h1M142 37h1M146 37h1M148 37h1M162 37h1M171 37h3M368 37h1M15 38h2M19 38h1M28 38h1M147 38h3M161 38h2M208 38h1M368 38h1M16 39h1M28 39h1M55 39h1M58 39h1M147 39h1M152 39h1M156 39h2M161 39h2M204 39h1M16 40h4M28 40h1M55 40h1M71 40h1M146 40h1M151 40h1M159 40h3M16 41h1M18 41h1M20 41h1M28 41h1M55 41h1M152 41h1M154 41h1M156 41h1M160 41h2M204 41h1M16 42h1M18 42h1M20 42h1M27 42h1M153 42h3M204 42h1M209 42h1M347 42h1M349 42h1M15 43h3M24 43h1M26 43h1M155 43h1M160 43h1M171 43h1M202 43h2M207 43h1M267 43h2M272 43h1M347 43h4M21 44h1M23 44h3M155 44h1M161 44h2M164 44h3M170 44h1M201 44h1M207 44h1M219 44h1M255 44h1M267 44h1M338 44h1M347 44h1M349 44h3M22 45h4M154 45h2M158 45h1M160 45h1M165 45h1M167 45h3M200 45h1M206 45h2M209 45h2M219 45h4M227 45h1M267 45h1M273 45h1M338 45h2M344 45h5M22 46h2M147 46h3M155 46h1M159 46h1M165 46h1M168 46h2M200 46h1M206 46h3M210 46h5M219 46h3M223 46h1M228 46h1M231 46h2M252 46h3M266 46h2M333 46h1M337 46h2M344 46h1M347 46h3M23 47h1M147 47h3M155 47h1M157 47h2M165 47h1M168 47h2M202 47h2M206 47h3M212 47h3M218 47h8M229 47h4M252 47h4M266 47h2M275 47h2M333 47h1M337 47h1M347 47h2M354 47h1M146 48h2M149 48h2M155 48h2M164 48h2M204 48h1M208 48h1M214 48h1M218 48h3M232 48h1M235 48h4M252 48h4M266 48h2M332 48h1M335 48h1M340 48h2M347 48h2M154 49h5M216 49h1M218 49h1M220 49h1M225 49h2M235 49h1M238 49h3M244 49h1M252 49h4M334 49h1M347 49h1M152 50h3M156 50h4M218 50h1M220 50h2M227 50h1M234 50h1M236 50h4M244 50h1M255 50h2M331 50h1M334 50h1M341 50h1M344 50h2M347 50h2M154 51h1M159 51h1M220 51h1M223 51h2M227 51h1M237 51h1M241 51h4M254 51h2M330 51h1M340 51h2M348 51h1M159 52h1M221 52h1M224 52h1M237 52h4M242 52h4M254 52h1M328 52h1M331 52h1M333 52h2M336 52h1M341 52h1M363 52h1M159 53h2M238 53h3M245 53h2M254 53h1M257 53h2M267 53h2M327 53h2M332 53h5M342 53h1M345 53h1M361 53h2M364 53h1M158 54h1M161 54h1M237 54h2M254 54h3M266 54h3M271 54h1M274 54h2M336 54h1M343 54h4M362 54h1M364 54h1M157 55h1M161 55h3M238 55h2M243 55h2M247 55h1M251 55h1M257 55h1M268 55h2M273 55h6M335 55h1M337 55h3M344 55h1M362 55h1M364 55h3M50 56h1M149 56h2M161 56h3M239 56h1M244 56h1M257 56h1M263 56h3M268 56h1M274 56h2M279 56h1M335 56h1M339 56h1M343 56h1M362 56h1M49 57h2M151 57h1M156 57h1M163 57h1M165 57h1M243 57h1M255 57h1M263 57h1M266 57h3M275 57h1M277 57h2M280 57h1M336 57h1M343 57h3M348 57h3M353 57h1M355 57h2M361 57h1M50 58h2M148 58h1M151 58h1M155 58h1M157 58h1M163 58h2M251 58h2M263 58h1M266 58h2M275 58h1M277 58h3M337 58h2M347 58h1M351 58h3M355 58h2M359 58h2M50 59h1M148 59h1M152 59h2M155 59h1M158 59h1M248 59h1M253 59h1M262 59h3M266 59h2M275 59h4M348 59h1M354 59h1M356 59h1M358 59h1M149 60h1M153 60h5M161 60h4M248 60h1M253 60h1M255 60h1M261 60h4M349 60h2M356 60h1M149 61h1M152 61h1M156 61h1M162 61h2M249 61h1M254 61h1M261 61h4M278 61h2M347 61h2M357 61h1M41 62h2M51 62h1M140 62h1M150 62h3M154 62h1M157 62h3M254 62h1M262 62h2M268 62h2M274 62h1M277 62h1M280 62h1M336 62h1M347 62h1M51 63h1M91 63h2M140 63h1M151 63h1M154 63h1M156 63h4M252 63h2M265 63h1M270 63h1M273 63h4M336 63h1M358 63h2M41 64h1M43 64h1M93 64h1M140 64h1M155 64h3M159 64h1M252 64h1M266 64h1M273 64h3M280 64h1M357 64h3M4 65h2M7 65h1M77 65h1M93 65h1M152 65h1M158 65h2M266 65h1M273 65h1M276 65h3M282 65h2M285 65h1M360 65h1M7 66h1M76 66h2M149 66h1M151 66h2M265 66h1M273 66h1M276 66h1M282 66h5M4 67h3M49 67h1M76 67h2M99 67h2M150 67h3M273 67h3M277 67h1M280 67h4M285 67h1M331 67h1M81 68h1M101 68h1M150 68h3M274 68h6M281 68h1M284 68h2M330 68h1M358 68h1M81 69h1M145 69h2M150 69h2M153 69h1M275 69h1M277 69h1M330 69h1M347 69h1M357 69h1M3 70h1M81 70h1M101 70h1M144 70h1M146 70h1M149 70h1M151 70h1M153 70h3M276 70h1M331 70h2M348 70h4M358 70h1M151 71h1M153 71h2M157 71h1M273 71h2M281 71h2M349 71h4M2 72h1M106 72h1M155 72h1M275 72h3M280 72h2M326 72h1M330 72h2M2 73h1M91 73h1M154 73h2M275 73h1M277 73h1M280 73h1M326 73h1M330 73h1M91 74h1M106 74h1M147 74h2M152 74h3M326 74h1M345 74h1M85 75h2M90 75h1M93 75h1M96 75h1M98 75h1M147 75h1M149 75h1M152 75h2M326 75h1M89 76h1M147 76h1M150 76h3M325 76h3M358 76h1M89 77h1M92 77h1M150 77h3M325 77h1M328 77h1M358 77h4M89 78h1M92 78h1M149 78h1M151 78h2M325 78h1M327 78h1M329 78h1M360 78h1M362 78h1M104 79h1M152 79h2M361 79h1M14 80h2M88 80h1M149 80h1M153 80h1M155 80h1M320 80h1M3 81h2M7 81h2M14 81h2M92 81h2M150 81h1M155 81h2M4 82h1M7 82h2M10 82h4M15 82h3M20 82h2M92 82h1M94 82h1M96 82h1M152 82h1M5 83h1M7 83h4M12 83h1M15 83h2M21 83h2M94 83h2M9 84h2M23 84h1M87 84h1M150 84h1M153 84h1M347 84h1M4 85h4M93 85h1M96 85h1M153 85h1M1 86h3M24 86h3M86 86h1M92 86h1M94 86h4M152 86h1M27 87h1M92 87h1M94 87h3M98 87h1M152 87h1M86 88h1M91 88h3M95 88h2M151 88h1M86 89h1M91 89h3M96 89h2M143 89h1M150 89h1M90 90h1M93 90h5M150 90h1M94 91h1M96 91h2M147 91h4M155 91h1M95 92h3M144 92h1M147 92h7M26 93h1M142 93h1M145 93h1M147 93h1M149 93h3M153 93h1M26 94h1M34 94h1M143 94h1M145 94h1M153 94h1M26 95h1M144 95h1M152 95h1M26 96h1M34 96h1M86 96h1M98 96h1M152 96h2M86 97h1M151 97h3M25 98h1M86 98h1M97 98h1M151 98h1M23 99h2M87 99h1M147 99h2M150 99h2M22 100h1M24 100h2M87 100h1M95 100h1M146 100h1M148 100h4M154 100h1M22 101h2M84 101h2M87 101h1M94 101h1M104 101h1M148 101h5M23 102h1M85 102h3M92 102h1M104 102h1M147 102h9M87 103h1M92 103h1M146 103h6M31 104h1M77 104h1M87 104h3M93 104h2M100 104h2M147 104h5M156 104h1M90 105h1M94 105h1M102 105h1M149 105h1M155 105h1M30 106h1M76 106h1M90 106h2M93 106h1M95 106h1M102 106h2M149 106h1M312 106h1M25 107h1M30 107h1M92 107h2M101 107h4M150 107h1M153 107h1M305 107h1M30 108h2M103 108h1M105 108h1M150 108h2M27 109h3M104 109h2M150 109h2M153 109h1M318 109h1M321 109h1M28 110h3M52 110h1M104 110h1M150 110h3M318 110h1M44 111h1M104 111h1M150 111h2M310 111h1M318 111h1M320 111h1M8 112h1M10 112h2M32 112h2M44 112h1M104 112h1M151 112h1M309 112h3M315 112h2M319 112h1M322 112h2M8 113h1M12 113h1M34 113h1M104 113h1M310 113h2M313 113h1M321 113h3M326 113h1M7 114h1M33 114h1M104 114h1M299 114h1M302 114h4M309 114h5M321 114h1M324 114h4M11 115h1M34 115h1M151 115h1M302 115h2M306 115h7M315 115h1M323 115h1M327 115h1M152 116h1M302 116h1M310 116h4M315 116h2M318 116h1M11 117h1M303 117h1M305 117h1M309 117h4M317 117h2M10 118h1M149 118h1M303 118h3M308 118h1M310 118h3M317 118h1M319 118h3M10 119h2M148 119h1M153 119h1M300 119h1M305 119h1M308 119h1M311 119h3M318 119h1M11 120h1M13 120h1M153 120h1M301 120h2M312 120h2M13 121h1M34 121h1M152 121h1M302 121h1M309 121h5M14 122h1M34 122h1M151 122h1M298 122h2M303 122h1M308 122h2M311 122h2M315 122h1M12 123h3M150 123h2M291 123h1M297 123h4M303 123h1M308 123h3M314 123h1M324 123h3M342 123h1M15 124h1M35 124h1M148 124h1M150 124h3M300 124h5M308 124h1M314 124h1M316 124h2M323 124h4M16 125h1M35 125h1M147 125h1M150 125h1M152 125h1M300 125h4M305 125h1M308 125h1M314 125h1M323 125h1M17 126h1M35 126h1M109 126h1M122 126h1M147 126h1M151 126h2M290 126h1M298 126h2M305 126h1M308 126h1M17 127h1M35 127h1M121 127h1M291 127h2M296 127h1M298 127h1M305 127h1M308 127h1M314 127h1M109 128h1M148 128h1M297 128h1M305 128h1M308 128h3M121 129h1M123 129h1M305 129h1M307 129h2M312 129h1M16 130h1M150 130h1M305 130h1M307 130h1M310 130h1M15 131h1M35 131h1M150 131h1M313 131h2M14 132h1M34 132h1M297 132h2M16 133h1M33 133h2M149 133h1M33 134h2M149 134h1M34 135h1M149 135h1M34 136h1M149 136h1M18 137h1M34 137h1M145 137h4M18 138h1M34 138h1M145 138h2M19 139h1M147 139h2M35 140h1M147 140h1M142 141h1M147 141h1M142 142h2M143 143h1M145 143h2M38 144h1M283 144h1M109 145h1M144 145h1M157 145h2M39 146h1M89 146h1M109 146h1M144 146h1M294 146h2M88 147h1M144 147h1M292 147h3M143 148h1M293 148h1M40 149h1M87 149h1M89 149h1M143 149h1M38 150h1M144 150h4M153 150h1M80 151h2M88 151h1M151 151h1M37 152h1M63 152h1M80 152h3M107 152h1M147 152h1M299 152h1M306 152h1M36 153h1M80 153h1M83 153h1M283 153h1M298 153h2M305 153h3M81 154h1M87 154h2M147 154h3M152 154h1M298 154h2M302 154h7M35 155h1M82 155h1M87 155h2M147 155h1M150 155h1M298 155h1M300 155h2M305 155h3M34 156h1M48 156h1M295 156h2M298 156h1M300 156h3M304 156h3M33 157h2M48 157h1M142 157h3M295 157h1M298 157h3M34 158h1M36 158h1M48 158h1M143 158h1M147 158h1M299 158h1M34 159h1M36 159h1M54 159h1M144 159h1M147 159h1M160 159h1M298 159h1M310 159h2M36 160h3M143 160h2M147 160h1M161 160h1M298 160h3M306 160h1M309 160h2M37 161h1M143 161h2M156 161h2M160 161h4M283 161h1M288 161h2M299 161h1M303 161h1M308 161h2M313 161h1M53 162h1M146 162h1M150 162h1M152 162h1M157 162h1M160 162h1M283 162h1M301 162h3M308 162h3M315 162h1M152 163h1M156 163h1M159 163h3M282 163h1M288 163h1M294 163h2M301 163h2M309 163h7M143 164h1M146 164h1M160 164h2M167 164h2M282 164h1M289 164h1M293 164h2M296 164h1M309 164h4M315 164h1M143 165h1M145 165h1M159 165h4M168 165h1M284 165h1M293 165h1M295 165h3M310 165h2M315 165h1M145 166h2M156 166h1M160 166h3M291 166h4M316 166h1M146 167h3M156 167h1M161 167h1M291 167h2M294 167h1M299 167h1M303 167h1M312 167h1M316 167h1M144 168h5M295 168h1M300 168h1M302 168h3M312 168h4M147 169h1M158 169h2M161 169h2M290 169h1M301 169h3M305 169h1M314 169h2M157 170h2M160 170h2M287 170h1M293 170h2M302 170h2M305 170h1M156 171h4M281 171h1M286 171h2M295 171h2M298 171h1M303 171h3M153 172h1M158 172h3M277 172h5M284 172h3M288 172h1M290 172h2M295 172h3M300 172h1M306 172h1M157 173h1M161 173h1M277 173h1M279 173h2M284 173h3M288 173h4M293 173h1M295 173h1M299 173h2M305 173h3M149 174h1M156 174h6M275 174h1M279 174h3M284 174h2M288 174h1M290 174h6M299 174h1M307 174h1M146 175h1M148 175h2M156 175h2M161 175h1M276 175h1M278 175h1M285 175h1M289 175h1M295 175h1M144 176h3M148 176h3M157 176h1M160 176h2M274 176h1M277 176h1M279 176h1M293 176h1M295 176h1M297 176h1M306 176h1M146 177h1M148 177h1M150 177h2M160 177h1M273 177h1M280 177h1M284 177h3M292 177h1M294 177h1M297 177h1M306 177h2M309 177h2M312 177h2M147 178h1M149 178h1M151 178h1M273 178h2M280 178h1M283 178h3M291 178h1M297 178h3M301 178h2M305 178h3M311 178h2M148 179h1M274 179h1M284 179h1M290 179h1M294 179h2M298 179h3M306 179h2M311 179h2M148 180h1M150 180h1M153 180h2M274 180h2M277 180h1M289 180h2M293 180h1M295 180h1M299 180h1M306 180h1M310 180h4M148 181h1M150 181h2M153 181h1M274 181h2M286 181h1M288 181h2M298 181h2M301 181h2M310 181h3M147 182h2M274 182h2M286 182h1M289 182h1M296 182h3M301 182h3M307 182h1M311 182h1M147 183h2M275 183h1M286 183h1M289 183h2M296 183h1M302 183h4M307 183h1M311 183h1M148 184h2M275 184h2M286 184h2M291 184h1M305 184h2M308 184h1M311 184h1M149 185h1M269 185h1M275 185h2M288 185h1M290 185h2M294 185h2M308 185h2M311 185h1M146 186h3M268 186h1M274 186h1M290 186h1M294 186h1M302 186h3M310 186h3M145 187h1M265 187h2M269 187h2M272 187h3M295 187h2M304 187h1M308 187h3M312 187h1M145 188h1M280 188h1M288 188h1M291 188h1M305 188h1M308 188h3M313 188h1M145 189h1M148 189h1M278 189h2M281 189h1M310 189h4M147 190h1M149 190h1M294 190h1M306 190h2M275 191h1M308 191h1M312 191h1M152 192h1M286 192h2M308 192h1M311 192h1M315 192h1M152 193h1M159 193h1M292 193h3M310 193h1M312 193h1M315 193h1M285 194h1M287 194h3M293 194h2M312 194h1M315 194h1M150 195h2M291 195h2M294 195h1M303 195h1M150 196h2M153 196h1M290 196h1M294 196h1M153 197h1M289 197h1M298 197h2M153 198h1M298 198h2M154 199h1M156 199h1M298 199h1M313 199h1M155 200h2M282 200h1M285 200h1M313 200h1M284 201h1M158 202h1M158 203h1M159 204h1M159 206h1M160 207h1M308 207h1M158 209h2M175 209h1M158 210h1M175 210h1M158 211h2M159 212h3M159 213h3M160 214h2M175 214h2M321 214h1M161 215h1M163 215h1M161 216h2M166 216h1M177 216h1M176 217h1M174 218h1M173 219h2M167 220h2M173 220h1M166 221h1M170 221h1M173 221h1M166 222h1M170 222h2M173 222h1M178 222h1M180 222h3M169 223h3M173 223h2M178 223h1M180 223h3M166 224h2M171 224h1M173 224h2M168 225h4M173 225h2M171 226h3M173 227h1M168 228h2M169 230h2"/>
<path stroke="#83d67d" d="M36 5h1M36 6h1M35 9h2M36 13h1M35 14h2M36 15h1M203 22h2M18 23h1M19 24h1M162 24h3M166 24h2M170 24h2M173 24h1M198 24h1M205 24h1M163 25h1M171 25h3M199 25h2M202 25h4M167 26h2M171 26h2M174 26h1M185 26h1M187 26h1M193 26h2M203 26h2M163 27h1M165 27h2M168 27h2M173 27h1M180 27h1M184 27h1M187 27h2M148 28h2M160 28h1M163 28h3M168 28h1M171 28h2M179 28h2M189 28h1M207 28h3M25 29h1M148 29h2M160 29h1M172 29h3M176 29h2M181 29h1M186 29h1M189 29h1M193 29h1M380 29h1M51 30h1M53 30h1M162 30h2M172 30h1M185 30h1M193 30h4M379 30h1M24 31h1M27 31h1M162 31h2M167 31h1M172 31h1M186 31h3M194 31h1M200 31h1M379 31h1M24 32h2M28 32h1M50 32h1M86 32h2M139 32h2M161 32h3M166 32h2M173 32h1M189 32h1M196 32h1M379 32h1M22 33h4M27 33h3M49 33h3M87 33h1M162 33h2M173 33h1M180 33h2M193 33h1M195 33h1M203 33h1M221 33h1M380 33h1M22 34h1M26 34h3M49 34h1M85 34h1M87 34h1M162 34h1M168 34h4M178 34h1M189 34h1M192 34h3M204 34h1M221 34h1M23 35h1M85 35h1M164 35h3M168 35h1M171 35h1M173 35h1M190 35h1M193 35h1M200 35h1M22 36h1M147 36h1M161 36h2M167 36h4M173 36h1M193 36h1M199 36h1M203 36h1M20 37h2M28 37h1M57 37h1M147 37h1M160 37h2M167 37h2M170 37h1M176 37h2M180 37h1M191 37h2M200 37h1M203 37h1M166 38h3M170 38h3M191 38h2M203 38h1M19 39h1M27 39h1M167 39h4M203 39h1M27 40h1M58 40h1M152 40h2M157 40h2M162 40h1M167 40h4M204 40h1M17 41h1M27 41h1M153 41h1M158 41h2M162 41h1M169 41h1M203 41h1M17 42h1M25 42h2M156 42h1M158 42h5M171 42h1M200 42h4M346 42h1M348 42h1M21 43h2M25 43h1M158 43h2M162 43h1M164 43h2M170 43h1M201 43h1M208 43h2M343 43h2M22 44h1M157 44h2M163 44h1M167 44h3M171 44h1M183 44h1M208 44h2M339 44h1M343 44h2M346 44h1M156 45h2M161 45h4M166 45h1M170 45h1M199 45h1M208 45h1M340 45h1M343 45h1M157 46h2M160 46h1M162 46h1M164 46h1M166 46h2M209 46h1M222 46h1M226 46h1M335 46h2M339 46h2M343 46h1M156 47h1M159 47h1M164 47h1M166 47h2M201 47h1M209 47h3M226 47h1M228 47h1M332 47h1M335 47h2M338 47h2M342 47h3M346 47h1M159 48h1M166 48h4M202 48h2M206 48h2M212 48h2M221 48h11M331 48h1M336 48h2M343 48h1M346 48h1M159 49h1M165 49h2M205 49h2M213 49h3M221 49h1M227 49h1M233 49h1M236 49h2M331 49h1M335 49h1M337 49h1M340 49h1M345 49h1M160 50h2M212 50h2M217 50h1M222 50h1M224 50h1M228 50h1M233 50h1M235 50h1M329 50h2M335 50h1M337 50h2M340 50h1M160 51h1M219 51h1M234 51h3M329 51h1M334 51h4M160 52h1M222 52h2M225 52h2M236 52h1M241 52h1M329 52h2M335 52h1M337 52h4M161 53h1M170 53h1M236 53h2M241 53h4M329 53h1M337 53h5M363 53h1M159 54h2M162 54h1M236 54h1M239 54h2M243 54h4M257 54h2M327 54h3M333 54h1M335 54h1M337 54h3M342 54h1M363 54h1M236 55h2M242 55h1M245 55h2M264 55h4M326 55h1M328 55h3M343 55h1M363 55h1M156 56h1M160 56h1M165 56h1M238 56h1M241 56h3M245 56h3M266 56h2M276 56h3M326 56h1M328 56h2M334 56h1M363 56h2M366 56h1M149 57h1M160 57h3M239 57h1M242 57h1M244 57h1M246 57h2M279 57h1M326 57h2M335 57h1M339 57h1M362 57h1M366 57h1M154 58h1M159 58h3M165 58h1M243 58h1M245 58h1M343 58h1M345 58h1M348 58h3M361 58h1M51 59h1M149 59h3M154 59h1M159 59h2M165 59h1M245 59h1M251 59h2M340 59h3M345 59h1M349 59h5M355 59h1M359 59h1M51 60h1M150 60h3M158 60h1M165 60h1M245 60h1M251 60h2M341 60h1M346 60h1M353 60h3M358 60h1M51 61h1M150 61h2M157 61h2M161 61h1M164 61h1M248 61h1M251 61h3M260 61h1M346 61h1M349 61h2M354 61h3M153 62h1M160 62h4M249 62h5M259 62h3M265 62h1M278 62h2M327 62h1M335 62h1M337 62h1M346 62h1M348 62h1M351 62h2M355 62h1M357 62h4M41 63h2M47 63h1M152 63h2M160 63h1M247 63h1M251 63h1M261 63h4M267 63h1M269 63h1M271 63h2M277 63h1M280 63h1M327 63h1M335 63h1M357 63h1M360 63h1M42 64h1M152 64h3M251 64h1M253 64h1M276 64h1M279 64h1M334 64h3M356 64h1M361 64h1M6 65h1M157 65h1M264 65h1M335 65h2M349 65h1M357 65h3M361 65h1M4 66h3M47 66h1M91 66h2M150 66h1M153 66h1M158 66h1M264 66h1M331 66h2M335 66h2M351 66h2M48 67h1M153 67h1M276 67h1M286 67h1M330 67h1M332 67h1M351 67h2M153 68h1M260 68h2M273 68h1M280 68h1M282 68h2M329 68h1M331 68h1M347 68h1M352 68h2M357 68h1M101 69h1M154 69h1M274 69h1M329 69h1M331 69h2M349 69h1M352 69h1M145 70h1M147 70h2M150 70h1M156 70h1M274 70h2M277 70h1M283 70h1M326 70h2M330 70h1M333 70h1M347 70h1M352 70h1M99 71h2M147 71h1M150 71h1M275 71h3M326 71h2M330 71h4M348 71h1M358 71h1M367 71h1M147 72h1M151 72h2M154 72h1M273 72h2M278 72h2M282 72h1M328 72h2M332 72h1M344 72h1M347 72h5M360 72h2M363 72h1M92 73h2M106 73h1M147 73h2M151 73h3M156 73h2M274 73h1M278 73h2M325 73h1M328 73h2M331 73h2M344 73h2M347 73h4M92 74h2M149 74h1M151 74h1M155 74h1M279 74h2M327 74h1M330 74h3M340 74h1M344 74h1M346 74h1M91 75h1M97 75h1M150 75h2M154 75h1M325 75h1M327 75h1M329 75h2M345 75h2M357 75h2M90 76h1M92 76h1M328 76h1M356 76h1M359 76h1M90 77h1M324 77h1M329 77h2M357 77h1M362 77h1M150 78h1M320 78h1M328 78h1M330 78h1M359 78h1M149 79h1M151 79h1M154 79h3M320 79h1M329 79h1M357 79h1M360 79h1M152 80h1M154 80h1M156 80h1M319 80h1M321 80h1M329 80h1M357 80h1M359 80h2M88 81h1M151 81h1M154 81h1M157 81h1M359 81h1M14 82h1M18 82h2M93 82h1M95 82h1M155 82h2M11 83h1M13 83h2M17 83h1M153 83h3M347 83h1M8 84h1M11 84h3M93 84h1M154 84h1M353 84h1M8 85h2M18 85h2M23 85h1M92 85h1M4 86h1M19 86h2M153 86h1M2 87h2M19 87h2M25 87h2M86 87h1M90 87h2M97 87h1M153 87h2M26 88h1M97 88h1M152 88h3M26 89h1M89 89h1M142 89h1M149 89h1M152 89h2M26 90h1M86 90h1M89 90h1M91 90h2M143 90h1M149 90h1M153 90h1M89 91h1M92 91h2M153 91h2M156 91h1M93 92h2M142 92h1M154 92h2M98 93h1M143 93h2M25 94h1M35 94h1M100 94h1M144 94h1M154 94h3M34 95h1M86 95h2M99 95h1M153 95h2M97 96h1M154 96h1M25 97h1M35 97h1M87 97h1M97 97h1M23 98h2M87 98h1M96 98h1M22 99h1M154 99h1M21 100h1M147 100h1M19 101h3M88 101h1M90 101h2M93 101h1M146 101h2M155 101h1M21 102h2M88 102h4M146 102h1M156 102h1M22 103h1M88 103h1M90 103h2M157 103h1M313 103h1M319 103h1M22 104h1M90 104h3M157 104h1M312 104h2M319 104h1M23 105h1M31 105h1M48 105h1M77 105h1M91 105h1M93 105h1M95 105h1M100 105h2M156 105h2M312 105h1M24 106h1M31 106h1M49 106h1M77 106h1M92 106h1M100 106h2M155 106h1M304 106h2M311 106h1M313 106h1M328 106h1M31 107h1M154 107h1M157 107h1M304 107h1M306 107h1M311 107h4M325 107h1M328 107h1M49 108h1M104 108h1M154 108h1M158 108h1M306 108h2M312 108h2M319 108h3M26 109h1M154 109h1M307 109h1M312 109h1M317 109h1M27 110h1M299 110h1M302 110h1M311 110h1M317 110h1M321 110h1M8 111h4M31 111h1M152 111h1M299 111h4M309 111h1M311 111h1M317 111h1M319 111h1M321 111h3M332 111h2M12 112h1M31 112h1M152 112h2M302 112h2M307 112h2M312 112h1M314 112h1M320 112h2M326 112h2M331 112h3M30 113h4M150 113h4M299 113h1M302 113h2M307 113h3M312 113h1M324 113h2M327 113h1M331 113h1M12 114h1M150 114h1M306 114h3M322 114h2M328 114h1M331 114h1M152 115h1M301 115h1M321 115h2M324 115h3M328 115h1M331 115h1M336 115h1M34 116h1M153 116h1M300 116h2M321 116h3M327 116h2M34 117h1M300 117h3M313 117h4M321 117h2M11 118h1M34 118h1M154 118h2M300 118h3M309 118h1M313 118h4M12 119h1M34 119h1M301 119h4M309 119h2M314 119h4M321 119h2M34 120h1M299 120h2M309 120h1M311 120h1M314 120h1M318 120h1M14 121h1M299 121h2M315 121h1M318 121h1M12 122h2M15 122h1M297 122h1M300 122h3M316 122h1M324 122h2M342 122h1M15 123h1M152 123h1M290 123h1M292 123h1M301 123h2M315 123h3M322 123h2M327 123h1M149 124h1M289 124h1M292 124h1M297 124h3M315 124h1M322 124h1M327 124h1M342 124h1M148 125h2M288 125h1M299 125h1M304 125h1M315 125h3M322 125h1M324 125h1M123 126h1M148 126h3M289 126h1M292 126h1M296 126h2M300 126h1M303 126h2M314 126h1M323 126h1M109 127h1M148 127h2M151 127h1M290 127h1M293 127h1M295 127h1M299 127h1M17 128h1M35 128h1M121 128h1M149 128h1M290 128h4M296 128h1M298 128h3M319 128h2M17 129h1M35 129h1M122 129h1M150 129h1M297 129h4M309 129h3M319 129h1M17 130h2M35 130h1M298 130h2M301 130h1M306 130h1M308 130h2M311 130h4M318 130h2M16 131h4M34 131h1M297 131h2M305 131h6M318 131h3M15 132h1M32 132h2M150 132h1M310 132h1M318 132h2M15 133h1M17 133h1M32 133h1M294 133h1M18 134h1M32 134h1M150 134h1M294 134h1M299 134h2M33 135h1M150 135h1M18 136h1M33 136h1M288 136h6M33 137h1M149 137h1M278 137h1M288 137h6M19 138h1M33 138h1M147 138h2M292 138h1M34 139h1M287 139h1M20 140h1M148 140h1M287 140h1M35 141h1M157 141h1M287 141h1M290 141h1M36 142h1M147 142h1M156 142h2M287 142h1M290 142h2M37 143h1M147 143h1M156 143h1M163 143h1M283 143h1M291 143h2M145 144h2M155 144h4M279 144h1M284 144h1M292 144h1M294 144h1M38 145h1M110 145h1M159 145h1M294 145h3M298 145h1M110 146h1M157 146h3M293 146h1M296 146h1M298 146h1M39 147h1M89 147h1M153 147h1M290 147h2M295 147h2M39 148h1M88 148h2M144 148h3M153 148h1M285 148h1M292 148h1M294 148h1M296 148h2M39 149h1M88 149h1M144 149h3M152 149h3M282 149h1M293 149h2M296 149h2M87 150h2M151 150h1M295 150h3M37 151h1M87 151h1M148 151h3M153 151h1M295 151h1M302 151h6M36 152h1M87 152h1M148 152h1M151 152h2M166 152h1M298 152h1M302 152h4M307 152h1M81 153h2M87 153h1M148 153h1M151 153h2M284 153h2M296 153h2M302 153h3M308 153h2M35 154h1M82 154h1M150 154h2M153 154h1M285 154h1M295 154h3M300 154h2M153 155h1M162 155h1M167 155h2M285 155h3M295 155h3M308 155h1M33 156h1M150 156h1M162 156h1M286 156h2M297 156h1M307 156h1M148 157h2M162 157h1M294 157h1M296 157h2M301 157h1M33 158h1M35 158h1M142 158h1M158 158h2M295 158h1M300 158h2M303 158h1M311 158h1M33 159h1M35 159h1M53 159h1M142 159h2M159 159h1M161 159h1M300 159h4M305 159h5M33 160h2M54 160h1M148 160h1M156 160h2M159 160h1M303 160h3M307 160h2M311 160h2M315 160h2M36 161h1M54 161h1M147 161h1M152 161h1M159 161h1M282 161h1M290 161h1M296 161h1M301 161h1M304 161h1M306 161h2M314 161h3M153 162h1M156 162h1M158 162h2M161 162h3M281 162h2M287 162h1M290 162h1M299 162h1M304 162h1M307 162h1M313 162h2M316 162h1M146 163h1M150 163h1M162 163h2M167 163h1M281 163h1M283 163h1M293 163h1M296 163h1M300 163h1M303 163h6M316 163h1M151 164h5M162 164h2M283 164h2M288 164h1M305 164h4M146 165h1M150 165h3M155 165h2M163 165h1M167 165h1M281 165h3M285 165h1M288 165h5M298 165h1M306 165h2M147 166h3M151 166h2M155 166h1M158 166h2M163 166h1M279 166h2M289 166h2M299 166h1M302 166h1M305 166h4M311 166h1M149 167h1M151 167h2M157 167h1M160 167h1M162 167h1M278 167h3M293 167h1M302 167h1M304 167h3M311 167h1M152 168h1M156 168h2M161 168h2M278 168h2M290 168h3M294 168h1M301 168h1M305 168h1M311 168h1M146 169h1M148 169h1M151 169h2M155 169h3M160 169h1M163 169h1M279 169h1M282 169h2M287 169h3M293 169h2M313 169h1M147 170h5M156 170h1M162 170h1M279 170h6M286 170h1M288 170h3M292 170h1M149 171h1M153 171h1M155 171h1M160 171h2M276 171h5M282 171h4M288 171h3M292 171h1M297 171h1M154 172h4M161 172h1M276 172h1M282 172h2M289 172h1M292 172h1M304 172h2M307 172h1M144 173h1M146 173h1M153 173h1M156 173h1M276 173h1M281 173h3M292 173h1M144 174h5M155 174h1M240 174h1M274 174h1M282 174h2M289 174h1M308 174h1M145 175h1M147 175h1M150 175h1M155 175h1M158 175h3M274 175h2M279 175h6M307 175h2M147 176h1M151 176h1M156 176h1M158 176h2M245 176h4M273 176h1M275 176h2M278 176h1M280 176h1M284 176h1M296 176h1M307 176h3M312 176h2M147 177h1M152 177h1M158 177h2M161 177h2M245 177h3M275 177h1M278 177h1M293 177h1M295 177h2M311 177h1M148 178h1M152 178h1M159 178h2M247 178h1M272 178h1M275 178h1M278 178h1M282 178h1M286 178h1M293 178h4M303 178h2M313 178h1M149 179h3M154 179h2M246 179h2M273 179h1M275 179h1M278 179h3M283 179h1M285 179h2M291 179h1M293 179h1M296 179h2M301 179h5M313 179h1M149 180h1M151 180h2M246 180h1M253 180h1M273 180h1M276 180h1M278 180h1M291 180h2M298 180h1M300 180h4M149 181h1M152 181h1M154 181h1M242 181h2M254 181h2M273 181h1M276 181h2M290 181h1M293 181h5M300 181h1M303 181h1M306 181h1M149 182h3M266 182h1M273 182h1M276 182h1M285 182h1M295 182h1M299 182h1M304 182h1M306 182h1M312 182h1M149 183h2M266 183h2M276 183h2M291 183h1M295 183h1M297 183h1M301 183h1M306 183h1M312 183h1M150 184h2M269 184h1M277 184h2M292 184h4M302 184h1M304 184h1M312 184h1M150 185h2M268 185h1M270 185h1M277 185h1M282 185h1M287 185h1M292 185h2M302 185h3M312 185h1M149 186h1M265 186h3M270 186h4M275 186h1M281 186h2M287 186h1M293 186h1M296 186h1M308 186h2M146 187h6M267 187h2M271 187h1M281 187h2M287 187h1M291 187h1M294 187h1M297 187h1M302 187h2M313 187h1M146 188h1M148 188h2M264 188h3M269 188h5M279 188h1M281 188h2M295 188h3M146 189h2M149 189h1M152 189h1M268 189h2M277 189h1M282 189h3M289 189h2M294 189h3M299 189h1M305 189h1M150 190h1M268 190h2M275 190h9M287 190h1M290 190h2M293 190h1M295 190h2M299 190h1M312 190h2M151 191h2M276 191h1M285 191h4M290 191h6M307 191h1M313 191h2M266 192h1M274 192h2M280 192h1M285 192h1M289 192h7M312 192h3M274 193h1M280 193h1M285 193h1M289 193h3M295 193h1M308 193h2M311 193h1M313 193h2M158 194h2M290 194h3M295 194h1M297 194h1M303 194h1M310 194h2M313 194h2M316 194h1M153 195h1M282 195h1M285 195h2M289 195h2M295 195h4M310 195h3M154 196h1M282 196h2M289 196h1M295 196h2M298 196h3M305 196h2M311 196h1M280 197h4M288 197h1M300 197h1M305 197h2M310 197h1M154 198h1M156 198h1M288 198h1M297 198h1M305 198h2M310 198h1M316 198h1M155 199h1M157 199h1M287 199h1M299 199h1M314 199h4M157 200h2M299 200h1M314 200h1M158 201h1M303 201h1M313 201h2M314 202h1M314 203h2M168 204h1M303 204h2M303 205h2M311 205h1M307 207h1M309 207h1M160 208h1M175 208h2M308 208h1M174 209h1M176 209h1M159 210h1M173 210h2M176 210h2M182 211h3M162 212h1M175 213h2M182 213h1M321 213h1M162 214h3M174 214h1M177 214h1M322 214h1M162 215h1M165 215h1M175 215h1M177 215h1M167 217h3M171 217h5M177 217h1M168 218h2M171 218h2M175 218h1M168 219h1M172 219h1M169 220h1M172 220h1M174 220h1M182 220h1M168 221h2M171 221h2M174 221h1M181 221h2M167 222h3M174 222h1M177 222h1M316 222h1M166 223h1M168 223h1M314 223h3M180 224h2M320 224h1M168 226h1M170 226h1M169 227h1M171 227h2M174 227h1M173 228h1M168 229h1M173 229h1M168 230h1M171 230h3M169 231h1M169 232h1"/>
<path stroke="#8bd87e" d="M36 10h1M36 11h1M35 12h2M35 13h1M203 21h1M18 24h1M185 24h2M195 24h3M185 25h2M195 25h2M173 26h1M186 26h1M196 26h1M200 26h1M167 27h1M171 27h2M194 27h1M196 27h5M184 28h5M196 28h4M52 29h1M178 29h3M182 29h1M185 29h1M187 29h2M196 29h1M198 29h2M24 30h2M173 30h4M178 30h2M197 30h1M199 30h1M380 30h1M25 31h2M51 31h1M53 31h1M139 31h1M173 31h1M185 31h1M380 31h1M26 32h1M53 32h1M180 32h1M197 32h1M200 32h1M380 32h1M86 33h1M174 33h1M177 33h1M179 33h1M183 33h1M189 33h1M196 33h1M199 33h1M23 34h1M25 34h1M86 34h1M173 34h2M176 34h2M179 34h3M195 34h1M199 34h1M26 35h3M86 35h1M169 35h2M174 35h1M178 35h2M188 35h1M192 35h1M199 35h1M28 36h1M163 36h1M166 36h1M174 36h1M177 36h1M180 36h1M189 36h4M197 36h2M201 36h1M56 37h1M163 37h1M166 37h1M169 37h1M174 37h2M190 37h1M193 37h1M197 37h1M199 37h1M201 37h2M20 38h2M27 38h1M163 38h1M165 38h1M169 38h1M173 38h1M176 38h2M200 38h3M26 39h1M163 39h1M166 39h1M171 39h1M200 39h3M20 40h1M163 40h1M166 40h1M171 40h1M200 40h4M21 41h1M26 41h1M157 41h1M165 41h1M170 41h2M201 41h2M21 42h4M57 42h1M157 42h1M164 42h2M170 42h1M156 43h2M163 43h1M166 43h1M169 43h1M172 43h1M200 43h1M342 43h1M345 43h2M156 44h1M172 44h1M174 44h1M182 44h1M197 44h4M342 44h1M345 44h1M182 45h2M197 45h2M336 45h2M341 45h2M156 46h1M161 46h1M163 46h1M170 46h1M179 46h1M199 46h1M227 46h1M341 46h2M162 47h2M200 47h1M227 47h1M340 47h2M345 47h1M163 48h1M209 48h3M338 48h2M345 48h1M160 49h5M167 49h3M204 49h1M207 49h1M212 49h1M222 49h1M224 49h1M228 49h1M232 49h1M330 49h1M336 49h1M338 49h2M344 49h1M162 50h6M211 50h1M214 50h3M223 50h1M336 50h1M339 50h1M161 51h5M167 51h1M212 51h1M218 51h1M228 51h1M233 51h1M338 51h2M161 52h4M170 52h3M220 52h1M227 52h1M233 52h3M162 53h1M167 53h3M171 53h2M225 53h1M235 53h1M330 53h2M163 54h1M168 54h1M235 54h1M241 54h2M330 54h1M332 54h1M334 54h1M340 54h2M158 55h1M160 55h1M164 55h1M235 55h1M240 55h2M327 55h1M333 55h2M340 55h1M342 55h1M157 56h1M240 56h1M327 56h1M330 56h1M333 56h1M340 56h1M365 56h1M150 57h1M157 57h1M159 57h1M166 57h1M235 57h1M238 57h1M240 57h2M245 57h1M328 57h1M334 57h1M342 57h1M363 57h1M149 58h2M158 58h1M166 58h1M235 58h2M239 58h2M242 58h1M244 58h1M246 58h2M326 58h1M336 58h1M339 58h4M344 58h1M362 58h1M166 59h1M244 59h1M246 59h1M339 59h1M343 59h1M159 60h2M246 60h2M340 60h1M342 60h1M345 60h1M351 60h2M159 61h2M327 61h1M335 61h2M340 61h2M345 61h1M351 61h3M358 61h2M361 61h2M248 62h1M264 62h1M328 62h1M340 62h2M349 62h2M353 62h2M356 62h1M48 63h1M161 63h1M246 63h1M248 63h3M254 63h1M259 63h2M268 63h1M278 63h2M328 63h1M334 63h1M337 63h1M340 63h2M347 63h4M352 63h1M356 63h1M49 64h1M91 64h2M247 64h1M249 64h2M259 64h5M267 64h1M270 64h3M277 64h2M322 64h1M327 64h1M333 64h1M337 64h1M348 64h2M49 65h1M91 65h2M153 65h1M156 65h1M261 65h1M267 65h1M272 65h1M319 65h1M331 65h4M348 65h1M351 65h6M49 66h1M154 66h1M156 66h2M159 66h1M266 66h1M272 66h1M321 66h1M324 66h2M330 66h1M333 66h2M344 66h1M348 66h3M353 66h1M356 66h2M154 67h5M260 67h1M264 67h2M272 67h1M321 67h1M324 67h2M333 67h3M345 67h1M353 67h1M356 67h3M99 68h2M154 68h1M159 68h2M264 68h1M316 68h2M332 68h3M341 68h1M346 68h1M348 68h1M351 68h1M356 68h1M359 68h1M99 69h1M155 69h5M278 69h1M281 69h5M317 69h1M328 69h1M333 69h1M350 69h2M353 69h1M356 69h1M359 69h1M366 69h2M99 70h1M157 70h3M273 70h1M281 70h2M310 70h2M325 70h1M328 70h2M357 70h1M362 70h1M366 70h3M148 71h2M158 71h1M272 71h1M278 71h1M280 71h1M283 71h1M325 71h1M328 71h2M343 71h2M347 71h1M359 71h1M363 71h1M366 71h1M368 71h1M148 72h3M153 72h1M158 72h1M325 72h1M333 72h1M343 72h1M352 72h1M359 72h1M362 72h1M364 72h1M149 73h2M281 73h1M346 73h1M351 73h1M359 73h3M363 73h2M150 74h1M276 74h3M281 74h1M325 74h1M328 74h2M339 74h1M341 74h2M347 74h1M350 74h1M358 74h2M92 75h1M280 75h2M328 75h1M340 75h2M344 75h1M356 75h1M359 75h1M362 75h1M91 76h1M153 76h1M319 76h1M324 76h1M329 76h2M340 76h2M345 76h3M353 76h1M360 76h2M320 77h1M153 78h1M321 78h1M324 78h1M357 78h2M89 79h1M150 79h1M319 79h1M321 79h1M324 79h5M330 79h1M338 79h2M355 79h2M358 79h1M150 80h2M318 80h1M330 80h1M334 80h2M338 80h1M355 80h2M358 80h1M91 81h1M152 81h2M325 81h1M358 81h1M88 82h1M91 82h1M153 82h2M157 82h1M342 82h1M347 82h1M18 83h3M91 83h3M156 83h1M342 83h1M14 84h3M18 84h2M22 84h1M92 84h1M155 84h1M348 84h1M10 85h1M20 85h1M87 85h1M154 85h1M347 85h3M352 85h1M5 86h1M18 86h1M21 86h3M91 86h1M348 86h2M1 87h1M4 87h1M15 87h1M21 87h1M23 87h2M155 87h1M348 87h1M2 88h2M16 88h1M25 88h1M155 88h1M25 89h1M154 89h1M142 90h1M154 90h4M26 91h1M86 91h1M90 91h2M142 91h2M157 91h1M26 92h1M89 92h4M143 92h1M156 92h2M154 93h3M86 94h1M25 95h1M35 95h1M88 95h1M155 95h2M25 96h1M35 96h1M87 96h1M96 96h1M155 96h1M96 97h1M154 97h1M22 98h1M95 98h1M154 98h1M20 99h2M88 99h1M95 99h1M19 100h2M90 100h2M94 100h1M92 101h1M320 101h1M20 102h1M157 102h1M313 102h1M320 102h1M21 103h1M89 103h1M312 103h1M314 103h1M21 104h1M314 104h5M320 104h1M22 105h1M92 105h1M310 105h2M313 105h1M316 105h4M156 106h2M303 106h1M314 106h1M329 106h1M49 107h1M155 107h2M158 107h1M307 107h1M324 107h1M326 107h2M329 107h1M25 108h1M48 108h1M155 108h1M157 108h1M299 108h1M305 108h1M308 108h1M310 108h2M314 108h1M317 108h2M322 108h1M324 108h2M332 108h1M155 109h1M299 109h1M306 109h1M308 109h2M311 109h1M313 109h1M316 109h1M322 109h3M332 109h1M337 109h1M10 110h2M153 110h3M298 110h1M300 110h2M307 110h2M310 110h1M312 110h1M322 110h3M332 110h1M337 110h2M12 111h2M28 111h3M153 111h3M298 111h1M303 111h2M307 111h2M312 111h1M326 111h2M338 111h3M13 112h1M30 112h1M154 112h2M299 112h3M306 112h1M313 112h1M324 112h2M328 112h3M339 112h1M154 113h2M300 113h1M304 113h1M306 113h1M328 113h3M332 113h1M31 114h2M151 114h2M165 114h1M298 114h1M300 114h2M329 114h2M335 114h2M33 115h1M165 115h1M299 115h2M329 115h2M332 115h1M335 115h1M12 116h1M154 116h1M299 116h1M324 116h1M326 116h1M329 116h1M332 116h1M154 117h1M323 117h1M327 117h3M12 118h1M293 118h1M322 118h2M328 118h2M13 119h1M154 119h3M299 119h1M319 119h2M323 119h2M328 119h1M14 120h1M297 120h2M310 120h1M315 120h1M317 120h1M319 120h1M321 120h4M328 120h1M153 121h1M296 121h3M316 121h1M319 121h1M323 121h3M152 122h1M296 122h1M317 122h3M323 122h1M16 123h1M34 123h1M293 123h1M318 123h4M328 123h1M332 123h5M341 123h1M343 123h1M16 124h1M293 124h1M318 124h1M321 124h1M333 124h1M341 124h1M17 125h1M287 125h1M292 125h1M294 125h2M297 125h2M325 125h3M341 125h1M282 126h1M288 126h1M293 126h3M301 126h2M317 126h1M321 126h2M324 126h2M122 127h2M150 127h1M152 127h1M294 127h1M300 127h1M304 127h1M316 127h2M320 127h1M324 127h1M122 128h2M150 128h2M288 128h2M294 128h2M314 128h5M18 129h1M288 129h1M291 129h3M296 129h1M301 129h1M304 129h1M313 129h2M318 129h1M320 129h1M324 129h1M19 130h1M291 130h4M296 130h2M300 130h1M302 130h1M304 130h1M315 130h1M320 130h1M324 130h1M33 131h1M155 131h2M294 131h1M299 131h2M304 131h1M311 131h2M315 131h1M16 132h4M31 132h1M151 132h1M156 132h1M282 132h1M294 132h1M299 132h1M305 132h5M311 132h1M313 132h2M320 132h1M18 133h2M31 133h1M150 133h2M291 133h3M296 133h4M308 133h1M311 133h1M318 133h2M31 134h1M151 134h1M278 134h1M292 134h2M298 134h1M301 134h1M18 135h1M32 135h1M151 135h1M291 135h4M298 135h3M150 136h1M278 136h1M283 136h2M294 136h1M19 137h1M277 137h1M284 137h1M287 137h1M149 138h1M285 138h7M293 138h1M20 139h1M149 139h1M279 139h2M285 139h2M288 139h1M292 139h1M305 139h1M159 140h1M285 140h2M288 140h1M21 141h1M148 141h1M156 141h1M158 141h1M285 141h2M288 141h2M291 141h1M158 142h1M163 142h1M275 142h2M286 142h1M288 142h1M292 142h1M155 143h1M157 143h2M162 143h1M274 143h3M279 143h1M288 143h1M290 143h1M293 143h1M147 144h1M163 144h4M274 144h1M278 144h1M280 144h1M282 144h1M291 144h1M293 144h1M295 144h2M145 145h1M155 145h2M160 145h1M278 145h2M282 145h2M289 145h1M293 145h1M297 145h1M155 146h2M160 146h1M165 146h1M290 146h3M297 146h1M299 146h1M145 147h3M152 147h1M154 147h3M158 147h2M164 147h2M275 147h3M297 147h2M147 148h1M150 148h3M154 148h1M281 148h2M284 148h1M290 148h2M295 148h1M298 148h1M38 149h1M147 149h1M150 149h2M281 149h1M283 149h3M292 149h1M295 149h1M298 149h1M37 150h1M148 150h1M150 150h1M154 150h1M164 150h1M166 150h4M282 150h2M294 150h1M298 150h1M303 150h2M166 151h2M293 151h2M296 151h4M35 152h1M150 152h1M153 152h1M167 152h1M283 152h2M288 152h4M295 152h3M300 152h1M308 152h1M35 153h1M149 153h2M153 153h1M166 153h1M282 153h1M286 153h6M295 153h1M300 153h1M310 153h1M154 154h1M162 154h2M167 154h3M282 154h3M286 154h6M294 154h1M309 154h1M34 155h1M151 155h2M154 155h1M163 155h1M284 155h1M292 155h3M32 156h1M153 156h1M161 156h1M163 156h1M165 156h1M285 156h1M289 156h2M292 156h1M294 156h1M150 157h1M161 157h1M289 157h2M293 157h1M302 157h5M311 157h1M148 158h1M150 158h1M160 158h2M293 158h2M296 158h2M302 158h1M304 158h1M307 158h4M312 158h1M148 159h1M150 159h1M155 159h2M158 159h1M290 159h1M293 159h1M297 159h1M304 159h1M312 159h1M315 159h2M35 160h1M53 160h1M149 160h1M153 160h1M155 160h1M158 160h1M162 160h3M282 160h2M288 160h4M295 160h3M301 160h2M313 160h2M317 160h1M34 161h2M53 161h1M148 161h4M153 161h3M158 161h1M164 161h1M281 161h1M284 161h1M287 161h1M291 161h1M295 161h1M297 161h2M302 161h1M305 161h1M317 161h1M147 162h1M149 162h1M154 162h2M164 162h1M284 162h1M294 162h4M305 162h2M153 163h3M164 163h1M166 163h1M284 163h1M287 163h1M290 163h3M150 164h1M164 164h1M281 164h1M285 164h1M290 164h3M297 164h1M300 164h5M316 164h1M147 165h3M153 165h2M164 165h1M169 165h1M234 165h1M279 165h2M299 165h4M305 165h1M308 165h2M316 165h1M150 166h1M237 166h1M278 166h1M281 166h1M284 166h2M288 166h1M300 166h2M303 166h2M309 166h2M317 166h2M321 166h1M150 167h1M155 167h1M158 167h1M237 167h1M284 167h2M287 167h4M300 167h2M307 167h1M310 167h1M149 168h1M151 168h1M153 168h1M155 168h1M158 168h1M160 168h1M163 168h1M237 168h1M280 168h1M287 168h3M293 168h1M306 168h1M316 168h1M144 169h2M149 169h2M153 169h2M164 169h2M237 169h3M278 169h1M280 169h2M284 169h3M291 169h2M306 169h1M311 169h2M316 169h1M144 170h1M146 170h1M155 170h1M163 170h2M238 170h2M285 170h1M291 170h1M306 170h1M312 170h2M315 170h2M144 171h1M148 171h1M150 171h1M154 171h1M291 171h1M306 171h1M310 171h2M144 172h1M146 172h1M149 172h2M152 172h1M239 172h2M308 172h3M145 173h1M147 173h6M154 173h2M162 173h1M239 173h2M275 173h1M308 173h1M150 174h1M152 174h3M162 174h1M239 174h1M241 174h1M144 175h1M153 175h2M240 175h1M251 175h2M261 175h1M273 175h1M309 175h3M152 176h1M154 176h2M162 176h1M249 176h3M281 176h3M310 176h2M314 176h1M156 177h2M236 177h1M248 177h1M272 177h1M276 177h1M281 177h3M153 178h1M155 178h1M161 178h1M236 178h1M244 178h3M248 178h1M263 178h1M281 178h1M292 178h1M152 179h2M245 179h1M252 179h2M263 179h1M272 179h1M276 179h2M281 179h2M292 179h1M155 180h1M159 180h1M241 180h2M244 180h2M247 180h1M252 180h1M254 180h1M269 180h1M279 180h1M281 180h1M283 180h2M286 180h1M296 180h2M304 180h2M241 181h1M244 181h3M253 181h1M256 181h1M266 181h1M269 181h4M278 181h2M284 181h2M291 181h2M304 181h1M154 182h2M163 182h1M242 182h2M245 182h3M254 182h2M267 182h1M271 182h2M277 182h2M290 182h1M300 182h1M305 182h1M151 183h1M155 183h1M256 183h1M268 183h2M274 183h1M278 183h1M285 183h1M292 183h1M298 183h1M300 183h1M266 184h3M270 184h1M282 184h1M285 184h1M296 184h1M301 184h1M303 184h1M152 185h1M248 185h1M263 185h5M274 185h1M278 185h2M281 185h1M283 185h1M286 185h1M296 185h1M301 185h1M150 186h3M250 186h1M256 186h3M263 186h2M276 186h1M280 186h1M283 186h1M291 186h2M301 186h1M152 187h1M161 187h1M256 187h1M259 187h2M264 187h1M275 187h1M280 187h1M283 187h1M292 187h2M298 187h1M301 187h1M147 188h1M150 188h3M157 188h1M256 188h1M268 188h1M274 188h1M278 188h1M283 188h3M287 188h1M292 188h1M294 188h1M301 188h2M304 188h1M150 189h2M157 189h1M264 189h1M270 189h7M285 189h4M291 189h1M293 189h1M297 189h2M300 189h3M151 190h3M265 190h1M267 190h1M270 190h1M274 190h1M284 190h3M288 190h2M292 190h1M297 190h2M300 190h3M305 190h1M314 190h1M153 191h1M161 191h1M266 191h2M274 191h1M277 191h8M289 191h1M296 191h1M299 191h1M306 191h1M153 192h1M159 192h2M254 192h1M267 192h1M273 192h1M276 192h4M284 192h1M296 192h1M307 192h1M158 193h1M160 193h1M254 193h1M267 193h1M273 193h1M275 193h5M284 193h1M296 193h2M307 193h1M153 194h1M275 194h5M283 194h2M296 194h1M298 194h1M302 194h1M304 194h1M309 194h1M154 195h1M158 195h2M283 195h1M287 195h2M299 195h4M304 195h1M313 195h1M315 195h3M265 196h1M280 196h2M288 196h1M301 196h4M307 196h1M310 196h1M312 196h1M154 197h1M295 197h1M301 197h2M307 197h1M311 197h1M155 198h1M157 198h2M280 198h2M296 198h1M300 198h1M302 198h1M311 198h1M314 198h2M317 198h1M158 199h4M163 199h1M284 199h3M297 199h1M302 199h1M159 200h1M161 200h4M283 200h2M302 200h1M315 200h3M320 200h1M159 201h1M161 201h2M299 201h1M302 201h1M304 201h1M312 201h1M315 201h1M159 202h1M300 202h1M302 202h3M312 202h2M315 202h1M159 203h1M302 203h3M311 203h3M318 203h3M311 204h2M318 204h3M305 205h1M312 205h1M169 206h2M306 206h3M170 207h1M175 207h2M306 207h1M161 208h1M171 208h1M174 208h1M177 208h1M309 208h1M313 208h1M160 209h2M171 209h1M173 209h1M177 209h1M168 210h1M171 210h2M178 210h1M180 210h5M304 210h2M312 210h1M160 211h1M163 211h1M174 211h8M185 211h1M305 211h1M324 211h1M163 212h1M174 212h11M312 212h1M324 212h2M163 213h1M171 213h1M174 213h1M177 213h5M183 213h1M322 213h1M324 213h1M165 214h1M171 214h1M178 214h5M320 214h1M323 214h2M166 215h1M169 215h1M174 215h1M178 215h2M169 216h1M171 216h3M175 216h1M178 216h2M318 216h1M170 217h1M178 217h2M170 218h1M176 218h1M169 219h1M171 219h1M175 219h1M170 220h2M175 220h1M183 220h1M167 221h1M175 221h1M177 221h4M316 221h2M176 222h1M314 222h2M317 222h1M167 223h1M175 223h1M177 223h1M187 223h1M312 223h2M317 223h1M319 223h1M175 224h1M182 224h1M186 224h1M314 224h2M319 224h1M180 225h1M320 225h1M169 226h1M174 226h1M179 226h1M320 226h1M170 227h1M170 228h1M172 228h1M174 228h1M171 229h1M174 229h1M174 230h1M170 231h1M173 234h2M173 235h2"/>
<path stroke="#92d97f" d="M35 10h1M35 11h1M197 25h2M195 26h1M197 26h3M185 27h2M195 27h1M194 28h2M183 29h2M194 29h2M197 29h1M52 30h1M177 30h1M181 30h4M198 30h1M174 31h2M177 31h3M183 31h2M198 31h2M27 32h1M51 32h1M174 32h1M179 32h1M183 32h2M188 32h1M199 32h1M175 33h2M178 33h1M182 33h1M184 33h1M197 33h1M24 34h1M175 34h1M182 34h1M196 34h1M24 35h2M175 35h3M180 35h3M191 35h1M194 35h1M27 36h1M164 36h2M175 36h2M178 36h2M181 36h1M188 36h1M194 36h1M196 36h1M22 37h1M27 37h1M165 37h1M178 37h2M181 37h2M189 37h1M196 37h1M198 37h1M22 38h1M25 38h2M56 38h1M164 38h1M174 38h2M180 38h1M190 38h1M193 38h1M196 38h1M199 38h1M20 39h2M25 39h1M164 39h2M172 39h2M191 39h2M21 40h1M26 40h1M164 40h2M24 41h2M163 41h2M166 41h3M190 41h1M56 42h1M163 42h1M169 42h1M172 42h1M197 42h1M199 42h1M167 43h2M173 43h2M182 43h2M196 43h2M199 43h1M173 44h1M175 44h1M184 44h1M340 44h2M171 45h1M174 45h1M178 45h2M181 45h1M184 45h1M190 45h1M171 46h1M178 46h1M180 46h1M160 47h2M170 47h1M176 47h1M178 47h2M160 48h3M170 48h1M178 48h1M201 48h1M344 48h1M170 49h1M202 49h2M208 49h1M211 49h1M223 49h1M229 49h2M168 50h3M205 50h2M229 50h2M232 50h1M166 51h1M168 51h1M172 51h1M202 51h2M211 51h1M213 51h1M217 51h1M229 51h4M165 52h1M167 52h3M203 52h1M228 52h1M231 52h2M163 53h2M166 53h1M220 53h2M224 53h1M226 53h3M232 53h2M164 54h1M167 54h1M169 54h3M221 54h1M224 54h2M228 54h1M331 54h1M159 55h1M167 55h3M224 55h1M226 55h3M234 55h1M331 55h2M341 55h1M158 56h2M166 56h2M231 56h7M331 56h1M342 56h1M158 57h1M167 57h1M172 57h2M231 57h2M234 57h1M236 57h2M329 57h2M333 57h1M340 57h1M364 57h2M167 58h3M237 58h2M241 58h1M330 58h2M335 58h1M363 58h4M167 59h3M234 59h3M240 59h2M243 59h1M247 59h1M329 59h1M333 59h1M336 59h3M344 59h1M360 59h6M166 60h1M240 60h1M327 60h1M333 60h2M336 60h1M339 60h1M343 60h2M359 60h1M361 60h2M364 60h2M165 61h1M245 61h3M326 61h1M328 61h1M333 61h2M337 61h3M342 61h3M360 61h1M363 61h2M164 62h1M246 62h2M326 62h1M329 62h1M334 62h1M338 62h1M342 62h2M345 62h1M361 62h2M162 63h1M325 63h2M342 63h5M351 63h1M355 63h1M361 63h1M47 64h1M160 64h1M248 64h1M268 64h2M326 64h1M328 64h1M332 64h1M340 64h2M343 64h5M350 64h4M355 64h1M362 64h1M47 65h1M154 65h2M249 65h1M251 65h3M259 65h2M262 65h2M268 65h1M270 65h2M318 65h1M320 65h3M324 65h2M337 65h1M344 65h2M350 65h1M362 65h1M155 66h1M170 66h1M263 66h1M315 66h1M319 66h2M322 66h2M326 66h1M337 66h1M341 66h1M345 66h1M354 66h2M358 66h4M159 67h2M250 67h2M259 67h1M261 67h1M263 67h1M310 67h2M316 67h1M320 67h1M322 67h1M326 67h1M329 67h1M336 67h1M340 67h3M344 67h1M346 67h5M354 67h2M359 67h1M155 68h4M259 68h1M262 68h2M265 68h1M272 68h1M286 68h2M310 68h1M322 68h1M324 68h2M328 68h1M335 68h1M340 68h1M342 68h1M345 68h1M349 68h2M354 68h1M366 68h2M100 69h1M160 69h1M261 69h1M264 69h1M273 69h1M279 69h2M310 69h2M316 69h1M318 69h1M325 69h3M338 69h5M346 69h1M362 69h1M365 69h1M368 69h3M100 70h1M160 70h1M264 70h2M278 70h1M284 70h1M317 70h1M336 70h2M339 70h5M353 70h1M359 70h1M363 70h1M365 70h1M159 71h1M279 71h1M284 71h2M334 71h1M340 71h3M353 71h1M357 71h1M360 71h1M362 71h1M364 71h2M268 72h1M272 72h1M283 72h1M334 72h1M341 72h2M345 72h2M358 72h1M367 72h1M158 73h1M267 73h3M273 73h1M282 73h2M333 73h1M340 73h4M358 73h1M362 73h1M157 74h3M274 74h2M282 74h2M288 74h2M315 74h1M333 74h1M343 74h1M348 74h2M351 74h1M362 74h3M155 75h1M157 75h1M277 75h1M279 75h1M288 75h1M318 75h2M324 75h1M331 75h2M339 75h1M342 75h2M347 75h1M350 75h4M361 75h1M363 75h1M154 76h4M161 76h1M276 76h1M284 76h1M318 76h1M320 76h1M323 76h1M342 76h1M352 76h1M91 77h1M153 77h1M155 77h2M319 77h1M321 77h1M323 77h1M335 77h3M339 77h2M346 77h3M352 77h2M356 77h1M90 78h2M155 78h2M319 78h1M322 78h2M331 78h1M335 78h6M346 78h1M349 78h1M356 78h1M157 79h1M318 79h1M322 79h2M335 79h3M349 79h1M353 79h2M359 79h1M157 80h1M322 80h1M324 80h3M331 80h3M336 80h2M339 80h1M353 80h2M158 81h1M317 81h2M320 81h5M326 81h1M329 81h2M334 81h1M338 81h2M342 81h1M347 81h2M353 81h3M357 81h1M322 82h1M324 82h2M341 82h1M348 82h1M354 82h2M357 82h1M343 83h2M348 83h1M353 83h4M17 84h1M20 84h2M91 84h1M329 84h1M343 84h1M346 84h1M352 84h1M354 84h1M11 85h7M21 85h2M91 85h1M350 85h2M6 86h2M11 86h1M14 86h4M90 86h1M154 86h2M5 87h1M11 87h2M14 87h1M16 87h1M18 87h1M22 87h1M159 87h1M349 87h1M1 88h1M4 88h1M15 88h1M17 88h1M19 88h1M24 88h1M156 88h1M158 88h1M348 88h2M3 89h1M16 89h1M24 89h1M155 89h4M1 90h1M25 90h1M1 91h1M23 92h1M86 92h1M25 93h1M157 93h1M88 94h1M99 94h1M157 94h1M24 95h1M89 95h1M98 95h1M23 96h2M95 96h1M156 96h1M22 97h3M95 97h1M19 99h1M92 100h2M155 100h1M18 101h1M156 101h1M321 101h3M19 102h1M307 102h1M312 102h1M319 102h1M323 102h1M20 103h1M158 103h1M315 103h2M318 103h1M320 103h1M158 104h1M309 104h3M330 104h1M304 105h2M309 105h1M314 105h2M320 105h1M327 105h4M23 106h1M48 106h1M302 106h1M306 106h1M308 106h1M310 106h1M315 106h5M325 106h3M330 106h1M24 107h1M48 107h1M308 107h3M315 107h1M318 107h5M6 108h1M156 108h1M159 108h1M304 108h1M309 108h1M315 108h1M323 108h1M326 108h3M331 108h1M337 108h2M156 109h5M298 109h1M300 109h4M310 109h1M314 109h2M325 109h3M331 109h1M338 109h1M8 110h2M12 110h1M26 110h1M156 110h1M303 110h2M306 110h1M309 110h1M313 110h1M316 110h1M325 110h3M329 110h2M333 110h1M305 111h2M313 111h4M324 111h2M328 111h4M334 111h1M337 111h1M14 112h1M29 112h1M298 112h1M304 112h2M334 112h2M13 113h1M298 113h1M301 113h1M305 113h1M335 113h1M339 113h1M343 113h1M30 114h1M153 114h3M164 114h1M166 114h1M332 114h1M334 114h1M12 115h1M32 115h1M153 115h2M164 115h1M298 115h1M337 115h1M13 116h1M32 116h2M160 116h1M325 116h1M330 116h2M335 116h2M12 117h2M33 117h1M160 117h1M289 117h1M292 117h1M299 117h1M324 117h1M326 117h1M332 117h1M13 118h1M156 118h1M292 118h1M299 118h1M324 118h1M327 118h1M330 118h1M14 119h1M293 119h2M296 119h3M325 119h1M327 119h1M329 119h2M334 119h1M154 120h1M156 120h1M294 120h3M316 120h1M320 120h1M325 120h1M329 120h1M334 120h1M15 121h1M294 121h2M317 121h1M320 121h3M328 121h2M338 121h1M16 122h1M153 122h1M156 122h1M289 122h5M320 122h3M326 122h3M333 122h1M336 122h3M341 122h1M343 122h1M17 123h1M153 123h1M289 123h1M296 123h1M34 124h1M153 124h1M288 124h1M294 124h3M319 124h2M328 124h1M332 124h1M334 124h2M153 125h1M285 125h2M293 125h1M296 125h1M318 125h1M320 125h2M328 125h1M342 125h1M18 126h1M153 126h1M283 126h1M285 126h3M315 126h2M318 126h1M320 126h1M326 126h2M340 126h2M18 127h2M154 127h2M278 127h1M284 127h2M287 127h3M301 127h3M315 127h1M318 127h2M321 127h1M323 127h1M325 127h1M18 128h2M152 128h1M155 128h1M284 128h2M287 128h1M301 128h1M304 128h1M324 128h2M19 129h1M151 129h1M287 129h1M289 129h2M294 129h2M315 129h3M325 129h1M156 130h1M287 130h2M290 130h1M295 130h1M303 130h1M317 130h1M323 130h1M20 131h1M151 131h1M154 131h1M282 131h1M287 131h2M290 131h2M293 131h1M296 131h1M301 131h1M316 131h2M321 131h1M20 132h1M152 132h1M155 132h1M283 132h1M285 132h1M287 132h2M291 132h1M293 132h1M296 132h1M300 132h1M304 132h1M312 132h1M315 132h1M317 132h1M20 133h1M30 133h1M152 133h1M156 133h2M274 133h2M277 133h2M281 133h2M290 133h1M295 133h1M300 133h1M305 133h3M309 133h2M312 133h1M320 133h1M277 134h1M279 134h1M291 134h1M295 134h1M302 134h1M305 134h1M311 134h1M319 134h1M278 135h2M288 135h3M295 135h1M301 135h2M307 135h2M311 135h1M315 135h1M32 136h1M151 136h1M277 136h1M279 136h1M281 136h2M285 136h1M287 136h1M295 136h1M298 136h3M305 136h1M311 136h2M150 137h1M265 137h1M279 137h1M282 137h2M285 137h2M294 137h1M305 137h1M20 138h1M32 138h1M169 138h2M278 138h7M303 138h2M33 139h1M160 139h1M169 139h2M267 139h1M281 139h4M289 139h3M293 139h1M304 139h1M21 140h1M34 140h1M157 140h2M160 140h2M279 140h2M282 140h1M284 140h1M289 140h3M299 140h1M159 141h1M162 141h2M275 141h1M279 141h1M282 141h1M299 141h2M35 142h1M148 142h1M162 142h1M274 142h1M277 142h3M282 142h2M285 142h1M289 142h1M299 142h1M164 143h3M229 143h1M272 143h2M277 143h2M280 143h3M284 143h1M287 143h1M289 143h1M294 143h1M37 144h1M148 144h1M154 144h1M159 144h1M273 144h1M275 144h3M281 144h1M288 144h3M297 144h1M146 145h2M151 145h1M154 145h1M164 145h3M271 145h1M274 145h1M281 145h1M284 145h1M288 145h1M290 145h3M299 145h1M28 146h1M38 146h1M145 146h1M147 146h2M151 146h2M154 146h1M166 146h1M270 146h2M275 146h1M278 146h2M283 146h1M289 146h1M151 147h1M157 147h1M166 147h2M270 147h1M278 147h2M282 147h1M285 147h2M289 147h1M299 147h1M155 148h1M167 148h1M170 148h1M280 148h1M283 148h1M286 148h1M289 148h1M299 148h1M303 148h2M155 149h1M164 149h7M280 149h1M288 149h4M299 149h1M303 149h2M149 150h1M163 150h1M165 150h1M170 150h1M279 150h3M284 150h1M290 150h1M293 150h1M299 150h1M301 150h2M305 150h3M36 151h1M154 151h1M163 151h1M165 151h1M168 151h2M283 151h2M290 151h1M292 151h1M300 151h2M308 151h1M149 152h1M154 152h1M165 152h1M175 152h1M282 152h1M285 152h3M292 152h3M301 152h1M309 152h2M154 153h1M167 153h1M174 153h2M294 153h1M301 153h1M34 154h1M161 154h1M166 154h1M170 154h2M174 154h1M281 154h1M292 154h1M310 154h1M155 155h1M161 155h1M164 155h3M169 155h1M171 155h1M173 155h2M279 155h1M282 155h2M288 155h4M151 156h2M154 156h2M164 156h1M168 156h2M172 156h1M280 156h1M284 156h1M288 156h1M291 156h1M293 156h1M308 156h1M311 156h2M151 157h3M157 157h4M163 157h3M169 157h1M286 157h2M292 157h1M307 157h1M310 157h1M312 157h3M149 158h1M151 158h1M155 158h1M157 158h1M162 158h1M286 158h2M289 158h2M292 158h1M305 158h2M313 158h2M149 159h1M154 159h1M157 159h1M162 159h1M164 159h2M280 159h2M285 159h3M289 159h1M291 159h2M294 159h3M313 159h2M317 159h1M150 160h1M154 160h1M279 160h3M284 160h1M286 160h2M293 160h2M318 160h1M280 161h1M286 161h1M294 161h1M318 161h5M148 162h1M165 162h3M280 162h1M286 162h1M291 162h3M298 162h1M317 162h2M147 163h1M149 163h1M165 163h1M168 163h1M297 163h1M299 163h1M147 164h1M149 164h1M165 164h2M169 164h1M234 164h1M279 164h1M298 164h2M165 165h1M237 165h2M278 165h1M287 165h1M303 165h2M154 166h1M164 166h5M235 166h2M282 166h2M287 166h1M319 166h2M153 167h1M159 167h1M163 167h1M165 167h1M236 167h1M277 167h1M286 167h1M308 167h2M317 167h3M150 168h1M154 168h1M159 168h1M165 168h1M213 168h1M236 168h1M238 168h2M283 168h4M307 168h1M310 168h1M236 169h1M145 170h1M152 170h3M165 170h1M236 170h2M263 170h1M276 170h3M309 170h3M314 170h1M146 171h2M151 171h2M162 171h1M238 171h3M243 171h1M307 171h3M312 171h4M145 172h1M147 172h2M151 172h1M162 172h1M243 172h1M253 172h1M271 172h1M275 172h1M311 172h1M314 172h2M238 173h1M249 173h5M271 173h1M274 173h1M309 173h2M151 174h1M238 174h1M251 174h3M269 174h2M273 174h1M310 174h3M151 175h2M162 175h1M238 175h2M241 175h1M245 175h6M253 175h1M262 175h2M312 175h3M153 176h1M236 176h1M239 176h3M244 176h1M252 176h1M261 176h3M153 177h1M155 177h1M235 177h1M242 177h1M244 177h1M249 177h1M257 177h1M263 177h1M277 177h1M154 178h1M156 178h1M158 178h1M162 178h1M235 178h1M242 178h2M252 178h2M256 178h2M262 178h1M276 178h1M159 179h2M235 179h2M242 179h3M256 179h2M262 179h1M264 179h1M158 180h1M160 180h1M240 180h1M243 180h1M251 180h1M255 180h2M260 180h3M266 180h3M270 180h3M280 180h1M282 180h1M285 180h1M155 181h1M158 181h3M163 181h1M237 181h1M239 181h2M247 181h1M250 181h3M261 181h2M265 181h1M267 181h2M280 181h4M305 181h1M152 182h1M160 182h1M162 182h1M164 182h1M244 182h1M253 182h1M256 182h1M265 182h1M268 182h3M279 182h1M281 182h2M284 182h1M291 182h4M154 183h1M162 183h4M247 183h2M257 183h1M265 183h1M270 183h4M293 183h2M299 183h1M152 184h1M161 184h1M164 184h2M247 184h2M256 184h2M263 184h3M274 184h1M283 184h1M297 184h4M165 185h1M247 185h1M249 185h2M254 185h1M256 185h3M262 185h1M271 185h3M280 185h1M284 185h2M297 185h1M299 185h2M164 186h2M248 186h2M254 186h2M259 186h4M277 186h3M284 186h3M297 186h3M153 187h1M160 187h1M164 187h1M255 187h1M257 187h2M263 187h1M278 187h2M284 187h3M299 187h1M158 188h1M255 188h1M257 188h1M259 188h2M267 188h1M275 188h3M286 188h1M293 188h1M298 188h3M303 188h1M153 189h1M158 189h1M265 189h3M292 189h1M252 190h1M264 190h1M266 190h1M271 190h2M303 190h1M160 191h1M265 191h1M268 191h5M297 191h2M300 191h4M305 191h1M161 192h1M255 192h1M268 192h3M281 192h1M283 192h1M297 192h1M299 192h2M305 192h2M153 193h1M155 193h3M255 193h1M262 193h1M266 193h1M269 193h1M281 193h1M283 193h1M298 193h2M303 193h4M154 194h4M160 194h1M254 194h1M261 194h4M267 194h1M271 194h4M280 194h3M299 194h1M306 194h3M155 195h1M160 195h1M265 195h1M275 195h5M281 195h1M305 195h3M309 195h1M314 195h1M155 196h1M157 196h4M266 196h1M278 196h2M285 196h3M309 196h1M313 196h1M315 196h3M155 197h4M165 197h1M264 197h1M279 197h1M284 197h1M296 197h1M303 197h2M309 197h1M316 197h3M159 198h3M163 198h2M282 198h3M301 198h1M303 198h2M307 198h1M313 198h1M318 198h1M162 199h1M164 199h1M281 199h2M300 199h2M305 199h2M310 199h2M319 199h1M160 200h1M166 200h2M303 200h4M311 200h1M160 201h1M167 201h1M300 201h2M305 201h1M311 201h1M316 201h2M160 202h1M301 202h1M305 202h1M311 202h1M316 202h2M320 202h1M301 203h1M305 203h1M316 203h2M321 203h1M305 204h1M313 204h3M321 204h2M306 205h2M310 205h1M313 205h1M315 205h1M171 206h1M176 206h3M304 206h2M309 206h1M311 206h2M316 206h1M161 207h1M168 207h2M171 207h1M177 207h2M304 207h1M310 207h1M313 207h1M316 207h1M167 208h4M173 208h1M178 208h2M181 208h1M304 208h4M310 208h3M314 208h1M162 209h1M166 209h3M172 209h1M178 209h2M181 209h2M304 209h3M308 209h2M312 209h2M160 210h1M167 210h1M179 210h1M185 210h1M306 210h1M313 210h1M164 211h1M168 211h1M171 211h3M186 211h1M304 211h1M306 211h2M313 211h1M323 211h1M164 212h1M170 212h4M185 212h2M306 212h2M313 212h1M321 212h1M323 212h1M164 213h1M170 213h1M172 213h1M184 213h1M306 213h2M316 213h2M320 213h1M323 213h1M325 213h2M170 214h1M172 214h2M183 214h1M306 214h1M168 215h1M170 215h4M180 215h1M316 215h3M320 215h3M167 216h2M170 216h1M174 216h1M180 216h1M305 216h2M317 216h1M180 217h1M305 217h3M317 217h2M179 218h3M187 218h2M170 219h1M179 219h1M181 219h2M307 219h1M312 219h2M317 219h2M178 220h2M181 220h1M317 220h2M176 221h1M183 221h1M318 221h1M175 222h1M183 222h1M186 222h2M311 222h3M319 222h1M176 223h1M183 223h1M186 223h1M320 223h1M176 224h1M183 224h1M185 224h1M313 224h1M316 224h1M321 224h1M175 225h1M181 225h1M185 225h2M314 225h1M319 225h1M321 225h1M180 226h1M319 226h1M320 227h1M171 228h1M175 228h1M175 229h2M176 230h1M172 231h3M170 232h1M319 232h1M170 233h1M173 233h2M172 234h1M172 235h1"/>
<path stroke="#9adb80" d="M180 30h1M52 31h1M176 31h1M52 32h1M175 32h4M185 32h3M198 32h1M188 33h1M198 33h1M183 34h3M188 34h1M197 34h2M185 35h1M187 35h1M195 35h4M23 36h1M26 36h1M182 36h1M186 36h2M195 36h1M26 37h1M164 37h1M183 37h1M188 37h1M195 37h1M57 38h1M181 38h5M197 38h2M22 39h1M24 39h1M174 39h1M176 39h2M180 39h1M184 39h1M188 39h1M190 39h1M199 39h1M24 40h2M172 40h3M178 40h3M190 40h2M22 41h2M172 41h1M178 41h2M189 41h1M191 41h1M194 41h1M199 41h1M166 42h1M168 42h1M174 42h2M178 42h1M186 42h1M196 42h1M198 42h1M175 43h1M181 43h1M184 43h1M193 43h3M198 43h1M181 44h1M188 44h1M193 44h2M196 44h1M172 45h2M175 45h1M177 45h1M180 45h1M188 45h2M196 45h1M172 46h1M175 46h3M181 46h1M197 46h2M174 47h2M177 47h1M197 47h1M199 47h1M175 48h2M179 48h1M196 48h2M200 48h1M171 49h1M200 49h2M209 49h2M231 49h1M202 50h3M207 50h4M231 50h1M169 51h3M204 51h1M210 51h1M214 51h1M216 51h1M166 52h1M173 52h1M202 52h1M219 52h1M229 52h2M165 53h1M173 53h1M222 53h2M229 53h1M231 53h1M234 53h1M166 54h1M172 54h2M220 54h1M223 54h1M226 54h2M229 54h1M231 54h1M234 54h1M165 55h2M170 55h1M221 55h1M223 55h1M225 55h1M229 55h1M233 55h1M168 56h6M227 56h1M229 56h2M332 56h1M341 56h1M168 57h4M230 57h1M233 57h1M331 57h1M341 57h1M170 58h4M230 58h1M234 58h1M327 58h3M332 58h3M233 59h1M237 59h3M242 59h1M326 59h3M330 59h1M332 59h1M334 59h2M366 59h1M167 60h1M234 60h1M241 60h1M244 60h1M328 60h2M335 60h1M337 60h2M360 60h1M363 60h1M366 60h1M240 61h2M244 61h1M329 61h1M332 61h1M365 61h2M245 62h1M330 62h1M332 62h2M339 62h1M344 62h1M363 62h3M163 63h2M329 63h2M332 63h2M338 63h1M353 63h2M362 63h1M161 64h2M246 64h1M323 64h1M325 64h1M331 64h1M338 64h2M342 64h1M354 64h1M160 65h1M162 65h1M247 65h2M250 65h1M269 65h1M317 65h1M323 65h1M326 65h3M330 65h1M340 65h4M346 65h2M363 65h1M48 66h1M160 66h3M169 66h1M249 66h5M259 66h4M314 66h1M316 66h1M327 66h1M340 66h1M342 66h2M347 66h1M362 66h1M161 67h1M169 67h1M262 67h1M266 67h1M314 67h2M317 67h1M323 67h1M327 67h2M343 67h1M360 67h1M365 67h3M266 68h1M309 68h1M311 68h1M314 68h2M323 68h1M326 68h2M339 68h1M343 68h2M355 68h1M360 68h1M365 68h1M260 69h1M262 69h2M265 69h1M270 69h1M286 69h1M309 69h1M319 69h1M322 69h3M334 69h4M345 69h1M354 69h2M360 69h2M269 70h2M272 70h1M279 70h2M285 70h2M316 70h1M318 70h2M322 70h1M324 70h1M334 70h1M338 70h1M344 70h3M355 70h2M361 70h1M364 70h1M369 70h2M271 71h1M286 71h1M310 71h2M336 71h4M345 71h2M354 71h3M361 71h1M159 72h2M267 72h1M269 72h1M284 72h2M321 72h1M340 72h1M354 72h4M365 72h2M368 72h1M372 72h2M159 73h2M284 73h1M288 73h1M324 73h1M339 73h1M352 73h1M355 73h3M372 73h2M156 74h1M160 74h1M267 74h2M284 74h1M287 74h1M314 74h1M316 74h2M323 74h2M336 74h3M352 74h2M355 74h3M360 74h2M369 74h1M156 75h1M158 75h1M160 75h1M276 75h1M278 75h1M282 75h6M315 75h3M320 75h1M323 75h1M333 75h1M336 75h3M349 75h1M355 75h1M360 75h1M162 76h1M277 76h1M280 76h2M283 76h1M285 76h1M321 76h1M331 76h1M333 76h1M336 76h2M339 76h1M343 76h2M348 76h1M351 76h1M354 76h2M154 77h1M284 77h1M322 77h1M331 77h1M333 77h2M338 77h1M341 77h1M345 77h1M350 77h2M354 77h1M154 78h1M157 78h1M318 78h1M334 78h1M347 78h2M350 78h3M355 78h1M91 79h1M317 79h1M331 79h1M334 79h1M340 79h1M346 79h2M350 79h3M91 80h1M316 80h2M323 80h1M327 80h2M340 80h3M346 80h2M350 80h3M316 81h1M319 81h1M331 81h3M337 81h1M341 81h1M346 81h1M349 81h4M356 81h1M158 82h1M321 82h1M323 82h1M326 82h1M329 82h1M338 82h3M343 82h1M346 82h1M349 82h5M356 82h1M328 83h2M339 83h3M345 83h2M351 83h2M156 84h1M328 84h1M330 84h1M342 84h1M344 84h2M349 84h3M155 85h1M328 85h2M346 85h1M9 86h2M12 86h2M87 86h1M156 86h1M159 86h1M347 86h1M350 86h1M17 87h1M156 87h3M347 87h1M350 87h1M5 88h1M11 88h2M18 88h1M20 88h4M89 88h1M157 88h1M159 88h1M347 88h1M350 88h1M1 89h2M17 89h1M2 90h2M16 90h1M24 90h1M158 90h1M158 91h1M2 92h2M5 92h2M24 92h1M158 92h1M2 93h1M17 93h1M23 93h2M86 93h1M88 93h1M97 93h1M24 94h1M23 95h1M96 95h2M157 95h1M88 96h1M311 96h2M155 97h2M311 97h1M20 98h2M88 98h1M155 98h1M311 98h1M18 99h1M155 99h1M311 99h1M316 99h1M18 100h1M311 100h1M316 100h1M320 100h1M323 100h1M157 101h1M319 101h1M324 101h1M18 102h1M158 102h1M306 102h1M308 102h1M314 102h1M321 102h2M324 102h1M306 103h6M317 103h1M323 103h1M305 104h1M308 104h1M323 104h1M327 104h1M331 104h1M21 105h1M158 105h1M302 105h2M306 105h1M308 105h1M321 105h1M326 105h1M331 105h2M22 106h1M158 106h1M307 106h1M309 106h1M320 106h2M324 106h1M159 107h3M301 107h3M316 107h2M323 107h1M330 107h3M160 108h2M300 108h4M316 108h1M329 108h1M7 109h1M10 109h2M25 109h1M161 109h1M304 109h2M328 109h1M333 109h1M13 110h1M157 110h1M305 110h1M314 110h2M328 110h1M331 110h1M334 110h1M339 110h1M14 111h1M27 111h1M156 111h1M335 111h2M341 111h1M28 112h1M156 112h1M336 112h3M341 112h3M29 113h1M156 113h1M333 113h2M336 113h1M342 113h1M13 114h1M297 114h1M333 114h1M337 114h1M339 114h2M343 114h1M13 115h1M31 115h1M155 115h1M166 115h1M297 115h1M333 115h2M14 116h1M31 116h1M155 116h2M164 116h1M289 116h1M292 116h1M297 116h2M333 116h2M14 117h1M155 117h3M159 117h1M161 117h1M290 117h2M293 117h1M325 117h1M330 117h2M333 117h4M14 118h1M33 118h1M291 118h1M294 118h2M297 118h1M325 118h2M331 118h5M15 119h1M33 119h1M157 119h1M292 119h1M295 119h1M326 119h1M331 119h3M15 120h1M155 120h1M157 120h1M291 120h3M327 120h1M330 120h1M333 120h1M154 121h1M156 121h1M289 121h5M327 121h1M330 121h1M333 121h2M337 121h1M339 121h1M342 121h1M17 122h1M154 122h2M295 122h1M329 122h4M334 122h2M339 122h1M18 123h1M154 123h3M294 123h2M329 123h3M337 123h1M340 123h1M17 124h1M281 124h1M287 124h1M329 124h1M336 124h1M340 124h1M343 124h1M18 125h1M34 125h1M281 125h2M329 125h2M340 125h1M345 125h1M19 126h1M34 126h1M154 126h1M278 126h1M281 126h1M284 126h1M319 126h1M328 126h2M342 126h1M20 127h1M34 127h1M153 127h1M156 127h1M273 127h2M279 127h1M281 127h3M286 127h1M322 127h1M326 127h2M341 127h1M20 128h1M34 128h1M154 128h1M156 128h1M278 128h1M283 128h1M286 128h1M321 128h1M34 129h1M152 129h1M155 129h2M278 129h2M284 129h3M302 129h2M321 129h1M323 129h1M20 130h1M34 130h1M151 130h1M155 130h1M278 130h2M282 130h1M284 130h3M289 130h1M316 130h1M321 130h1M325 130h1M347 130h1M31 131h2M157 131h1M281 131h1M283 131h4M289 131h1M292 131h1M295 131h1M302 131h2M322 131h1M29 132h2M153 132h2M157 132h1M275 132h1M281 132h1M284 132h1M286 132h1M289 132h2M292 132h1M295 132h1M301 132h1M316 132h1M321 132h1M29 133h1M153 133h3M276 133h1M279 133h1M283 133h1M285 133h1M301 133h1M304 133h1M313 133h2M317 133h1M19 134h2M30 134h1M152 134h3M156 134h1M163 134h1M275 134h2M280 134h3M290 134h1M296 134h2M304 134h1M306 134h4M312 134h1M315 134h4M320 134h1M31 135h1M152 135h1M276 135h2M280 135h6M287 135h1M296 135h2M305 135h2M309 135h1M312 135h1M316 135h1M319 135h1M19 136h1M152 136h1M276 136h1M280 136h1M286 136h1M296 136h2M301 136h2M306 136h3M315 136h1M32 137h1M266 137h1M281 137h1M295 137h1M299 137h6M306 137h2M266 138h1M277 138h1M294 138h2M305 138h1M307 138h2M21 139h1M155 139h2M159 139h1M266 139h1M278 139h1M294 139h1M299 139h2M303 139h1M306 139h1M22 140h1M149 140h1M156 140h1M162 140h3M170 140h1M267 140h1M278 140h1M281 140h1M283 140h1M292 140h1M295 140h1M298 140h1M300 140h1M305 140h2M34 141h1M152 141h1M160 141h2M276 141h1M278 141h1M280 141h2M284 141h1M292 141h1M298 141h1M306 141h1M153 142h1M155 142h1M159 142h1M164 142h1M273 142h1M281 142h1M284 142h1M293 142h1M298 142h1M300 142h1M36 143h1M148 143h1M153 143h2M167 143h2M230 143h1M271 143h1M285 143h2M295 143h1M308 143h1M341 143h1M149 144h3M153 144h1M160 144h3M167 144h1M272 144h1M285 144h1M287 144h1M298 144h1M308 144h1M27 145h1M37 145h1M148 145h3M152 145h2M161 145h1M163 145h1M167 145h2M270 145h1M272 145h2M275 145h1M277 145h1M280 145h1M27 146h1M146 146h1M150 146h1M153 146h1M163 146h1M274 146h1M276 146h2M281 146h2M284 146h1M286 146h3M300 146h1M29 147h1M148 147h1M150 147h1M160 147h1M163 147h1M168 147h4M271 147h2M274 147h1M280 147h2M283 147h2M287 147h2M302 147h2M29 148h1M33 148h2M38 148h1M148 148h2M157 148h3M164 148h3M168 148h2M171 148h1M274 148h4M279 148h1M287 148h2M302 148h1M33 149h5M148 149h2M156 149h1M163 149h1M274 149h1M276 149h1M279 149h1M286 149h2M300 149h3M34 150h3M155 150h1M274 150h3M278 150h1M285 150h1M289 150h1M291 150h2M300 150h1M35 151h1M162 151h1M164 151h1M170 151h1M175 151h1M274 151h3M279 151h4M285 151h1M287 151h3M291 151h1M162 152h1M168 152h3M174 152h1M279 152h2M34 153h1M161 153h2M165 153h1M168 153h3M239 153h1M280 153h2M292 153h1M311 153h1M155 154h1M164 154h2M173 154h1M175 154h1M279 154h2M293 154h1M311 154h1M32 155h2M156 155h1M158 155h1M170 155h1M172 155h1M280 155h2M309 155h5M156 156h1M158 156h3M166 156h2M170 156h2M173 156h1M279 156h1M281 156h1M283 156h1M309 156h2M313 156h2M154 157h3M170 157h3M280 157h2M285 157h1M288 157h1M291 157h1M308 157h2M152 158h3M156 158h1M163 158h3M169 158h3M278 158h1M280 158h4M285 158h1M288 158h1M291 158h1M315 158h2M151 159h3M163 159h1M166 159h1M171 159h2M278 159h2M282 159h3M288 159h1M318 159h1M151 160h2M165 160h1M171 160h1M278 160h1M285 160h1M292 160h1M319 160h3M165 161h1M167 161h2M279 161h1M285 161h1M292 161h2M323 161h2M168 162h1M285 162h1M319 162h6M148 163h1M234 163h1M272 163h1M280 163h1M285 163h2M298 163h1M317 163h2M323 163h2M148 164h1M233 164h1M238 164h1M272 164h2M278 164h1M280 164h1M286 164h2M318 164h2M323 164h1M166 165h1M233 165h1M235 165h1M239 165h1M277 165h1M286 165h1M317 165h6M153 166h1M169 166h1M234 166h1M238 166h1M240 166h2M277 166h1M286 166h1M154 167h1M166 167h1M235 167h1M238 167h1M240 167h2M248 167h1M281 167h1M283 167h1M164 168h1M166 168h1M212 168h1M277 168h1M281 168h2M308 168h1M317 168h2M166 169h1M213 169h1M263 169h1M276 169h2M307 169h1M310 169h1M249 170h1M262 170h1M307 170h2M145 171h1M164 171h1M236 171h2M241 171h2M244 171h1M250 171h2M253 171h1M262 171h2M270 171h3M275 171h1M236 172h3M242 172h1M244 172h9M254 172h1M270 172h1M272 172h1M274 172h1M312 172h2M163 173h1M236 173h2M241 173h1M243 173h6M269 173h2M272 173h2M311 173h2M168 174h1M237 174h1M242 174h2M246 174h2M249 174h2M260 174h2M268 174h1M271 174h2M314 174h1M236 175h2M244 175h1M260 175h1M264 175h2M272 175h1M235 176h1M237 176h2M242 176h2M258 176h3M264 176h1M266 176h2M272 176h1M154 177h1M237 177h1M239 177h3M243 177h1M251 177h6M258 177h5M267 177h2M157 178h1M237 178h1M240 178h2M249 178h1M254 178h2M264 178h1M268 178h2M271 178h1M277 178h1M156 179h1M158 179h1M161 179h2M240 179h2M248 179h1M251 179h1M254 179h2M260 179h2M267 179h3M271 179h1M156 180h1M162 180h2M235 180h3M239 180h1M250 180h1M257 180h1M259 180h1M263 180h3M156 181h2M161 181h2M164 181h1M236 181h1M238 181h1M249 181h1M257 181h1M259 181h2M153 182h1M156 182h1M159 182h1M161 182h1M165 182h2M238 182h1M241 182h1M248 182h3M257 182h1M262 182h1M280 182h1M283 182h1M152 183h2M156 183h1M159 183h3M166 183h1M241 183h6M249 183h2M253 183h1M255 183h1M258 183h1M262 183h3M279 183h1M282 183h1M284 183h1M156 184h1M158 184h3M162 184h2M211 184h2M246 184h1M249 184h2M254 184h2M258 184h2M262 184h1M271 184h3M279 184h1M281 184h1M284 184h1M158 185h2M161 185h1M164 185h1M255 185h1M259 185h3M298 185h1M153 186h1M158 186h1M160 186h2M166 186h1M244 186h1M247 186h1M251 186h1M300 186h1M157 187h3M162 187h1M165 187h1M250 187h2M254 187h1M261 187h2M276 187h2M300 187h1M153 188h2M156 188h1M159 188h3M254 188h1M258 188h1M263 188h1M154 189h1M156 189h1M168 189h3M254 189h7M263 189h1M303 189h2M154 190h1M157 190h1M161 190h1M167 190h4M251 190h1M253 190h3M258 190h1M273 190h1M304 190h1M154 191h4M162 191h1M170 191h1M251 191h5M273 191h1M304 191h1M154 192h5M162 192h3M168 192h1M253 192h1M265 192h1M282 192h1M298 192h1M301 192h4M154 193h1M161 193h3M253 193h1M261 193h1M263 193h3M268 193h1M270 193h1M282 193h1M300 193h3M265 194h2M268 194h3M300 194h2M305 194h1M156 195h2M161 195h1M254 195h1M262 195h3M266 195h1M269 195h6M280 195h1M308 195h1M156 196h1M161 196h1M165 196h1M277 196h1M308 196h1M314 196h1M159 197h1M161 197h4M261 197h3M285 197h1M287 197h1M308 197h1M312 197h4M162 198h1M165 198h1M285 198h1M287 198h1M309 198h1M312 198h1M166 199h1M283 199h1M303 199h2M307 199h1M318 199h1M168 200h1M300 200h2M307 200h1M310 200h1M319 200h1M306 201h2M310 201h1M320 201h1M306 202h1M310 202h1M318 202h2M321 202h1M306 203h2M310 203h1M184 204h1M306 204h2M310 204h1M316 204h2M183 205h2M308 205h2M314 205h1M316 205h1M319 205h5M167 206h2M184 206h1M187 206h1M310 206h1M313 206h1M315 206h1M317 206h1M320 206h2M167 207h1M172 207h1M174 207h1M179 207h1M181 207h1M305 207h1M311 207h2M314 207h2M317 207h3M321 207h1M162 208h1M166 208h1M172 208h1M180 208h1M182 208h1M315 208h5M163 209h1M165 209h1M169 209h2M180 209h1M183 209h3M307 209h1M310 209h2M314 209h1M316 209h2M319 209h1M163 210h1M165 210h2M169 210h2M186 210h1M307 210h1M311 210h1M324 210h1M165 211h1M169 211h2M308 211h1M311 211h1M322 211h1M325 211h1M165 212h1M169 212h1M308 212h1M322 212h1M326 212h1M165 213h1M173 213h1M308 213h1M310 213h1M314 213h2M318 213h1M166 214h4M184 214h1M307 214h1M310 214h6M319 214h1M325 214h3M167 215h1M181 215h2M306 215h3M315 215h1M319 215h1M323 215h2M181 216h1M185 216h2M307 216h2M316 216h1M181 217h1M188 217h1M177 218h2M182 218h1M186 218h1M189 218h1M306 218h2M313 218h2M317 218h4M176 219h1M178 219h1M180 219h1M183 219h1M187 219h2M308 219h1M311 219h1M314 219h1M176 220h2M180 220h1M184 220h1M311 220h4M316 220h1M187 221h1M310 221h6M309 222h2M318 222h1M185 223h1M311 223h1M318 223h1M184 224h1M311 224h2M317 224h2M176 225h1M182 225h3M312 225h2M315 225h1M317 225h2M175 226h1M178 226h1M186 226h1M315 226h1M317 226h2M321 226h1M175 227h1M176 228h2M177 229h1M175 230h1M177 230h1M171 231h1M175 231h2M172 232h4M172 233h1M175 233h1M320 233h1M171 234h1M175 234h1M175 235h1"/>
<path stroke="#a3dd82" d="M180 31h1M182 31h1M181 32h2M185 33h1M186 34h2M183 35h2M186 35h1M24 36h2M183 36h1M185 36h1M25 37h1M185 37h3M194 37h1M24 38h1M178 38h2M188 38h2M195 38h1M23 39h1M56 39h1M175 39h1M178 39h2M181 39h1M183 39h1M187 39h1M189 39h1M193 39h1M195 39h4M22 40h2M56 40h1M177 40h1M184 40h1M188 40h2M192 40h4M199 40h1M56 41h2M173 41h2M177 41h1M186 41h1M193 41h1M195 41h1M197 41h2M167 42h1M173 42h1M177 42h1M179 42h3M183 42h3M190 42h1M193 42h3M176 43h1M178 43h1M192 43h1M176 44h3M189 44h2M192 44h1M176 45h1M187 45h1M191 45h1M194 45h1M173 46h2M182 46h2M187 46h1M196 46h1M171 47h3M180 47h1M196 47h1M198 47h1M171 48h1M174 48h1M177 48h1M180 48h1M195 48h1M198 48h2M178 49h3M197 49h3M171 50h1M173 50h1M201 50h1M173 51h1M205 51h5M215 51h1M204 52h2M212 52h2M218 52h1M174 53h1M230 53h1M165 54h1M174 54h2M222 54h1M230 54h1M232 54h2M171 55h5M220 55h1M222 55h1M230 55h2M174 56h1M220 56h1M222 56h2M226 56h1M228 56h1M174 57h1M220 57h1M229 57h1M332 57h1M174 58h1M229 58h1M231 58h3M170 59h2M232 59h1M331 59h1M168 60h3M233 60h1M235 60h2M238 60h2M242 60h2M330 60h1M332 60h1M166 61h1M234 61h2M242 61h2M330 61h2M165 62h1M235 62h2M241 62h1M244 62h1M331 62h1M366 62h1M245 63h1M331 63h1M339 63h1M363 63h1M48 64h1M163 64h2M168 64h1M324 64h1M329 64h2M363 64h1M161 65h1M163 65h1M169 65h2M329 65h1M338 65h2M168 66h1M171 66h1M267 66h5M313 66h1M328 66h2M338 66h2M346 66h1M363 66h1M365 66h3M168 67h1M170 67h1M249 67h1M252 67h2M270 67h2M312 67h2M319 67h1M337 67h1M339 67h1M361 67h1M364 67h1M161 68h1M271 68h1M313 68h1M318 68h4M336 68h1M338 68h1M361 68h2M368 68h4M161 69h1M259 69h1M266 69h1M269 69h1M271 69h2M287 69h1M314 69h2M343 69h2M363 69h1M371 69h1M261 70h3M266 70h1M268 70h1M271 70h1M312 70h1M314 70h2M321 70h1M323 70h1M335 70h1M354 70h1M360 70h1M371 70h1M160 71h1M265 71h1M267 71h4M312 71h1M317 71h3M321 71h2M324 71h1M335 71h1M371 71h3M270 72h2M286 72h1M288 72h1M312 72h1M322 72h1M324 72h1M335 72h1M337 72h3M353 72h1M371 72h1M165 73h1M270 73h1M272 73h1M285 73h1M287 73h1M313 73h3M317 73h1M321 73h3M334 73h1M336 73h3M353 73h2M365 73h4M371 73h1M161 74h1M269 74h1M273 74h1M285 74h2M313 74h1M318 74h1M322 74h1M334 74h2M354 74h1M368 74h1M159 75h1M161 75h2M275 75h1M314 75h1M321 75h2M334 75h2M348 75h1M354 75h1M158 76h1M160 76h1M275 76h1M278 76h2M282 76h1M286 76h3M322 76h1M332 76h1M334 76h2M338 76h1M349 76h2M157 77h1M160 77h3M165 77h1M276 77h1M283 77h1M285 77h1M318 77h1M332 77h1M344 77h1M349 77h1M355 77h1M317 78h1M332 78h2M341 78h1M345 78h1M353 78h2M283 79h1M316 79h1M332 79h2M341 79h1M348 79h1M89 80h1M348 80h2M277 81h1M328 81h1M335 81h2M340 81h1M343 81h1M159 82h1M317 82h1M328 82h1M330 82h2M344 82h1M88 83h1M157 83h1M321 83h1M325 83h1M330 83h2M349 83h2M331 84h1M90 85h1M156 85h3M327 85h1M342 85h2M8 86h1M157 86h2M327 86h2M340 86h1M6 87h1M10 87h1M13 87h1M160 87h1M6 88h1M13 88h2M292 88h1M4 89h4M12 89h1M15 89h1M18 89h1M22 89h2M159 89h1M348 89h3M15 90h1M17 90h1M22 90h2M2 91h2M5 91h2M25 91h1M88 91h1M4 92h1M14 92h1M17 92h1M22 92h1M25 92h1M88 92h1M3 93h1M16 93h1M18 93h2M22 93h1M89 93h1M96 93h1M3 94h1M17 94h4M23 94h1M98 94h1M314 94h1M3 95h2M20 95h1M90 95h1M20 96h3M89 96h1M157 96h1M310 96h1M17 97h1M21 97h1M157 97h1M310 97h1M312 97h1M17 98h3M94 98h1M156 98h1M310 98h1M312 98h2M16 99h2M156 99h1M310 99h1M315 99h1M16 100h2M156 100h1M308 100h1M310 100h1M315 100h1M317 100h1M319 100h1M322 100h1M324 100h1M7 101h1M17 101h1M158 101h1M307 101h2M311 101h2M316 101h1M311 102h1M315 102h2M19 103h1M20 104h1M159 104h1M301 104h4M306 104h2M321 104h2M328 104h2M332 104h1M301 105h1M307 105h1M322 105h4M333 105h1M10 106h1M159 106h1M301 106h1M322 106h2M331 106h2M6 107h1M299 107h1M337 107h2M24 108h1M298 108h1M330 108h1M333 108h1M347 108h1M8 109h2M329 109h2M334 109h3M14 110h1M25 110h1M158 110h3M164 110h2M297 110h1M335 110h2M340 110h1M157 111h1M164 111h3M166 112h1M14 113h1M165 113h2M297 113h1M341 113h1M14 114h1M156 114h1M159 114h1M163 114h1M167 114h1M341 114h2M14 115h1M156 115h1M159 115h2M163 115h1M292 115h1M296 115h1M338 115h2M341 115h1M343 115h2M157 116h1M159 116h1M161 116h3M165 116h1M288 116h1M290 116h2M295 116h2M337 116h1M341 116h4M32 117h1M158 117h1M162 117h1M288 117h1M294 117h2M297 117h2M157 118h1M159 118h2M287 118h2M290 118h1M296 118h1M298 118h1M336 118h1M167 119h2M278 119h3M291 119h1M335 119h1M33 120h1M168 120h1M279 120h2M326 120h1M331 120h1M335 120h1M16 121h1M33 121h1M155 121h1M157 121h1M282 121h1M288 121h1M326 121h1M335 121h2M340 121h2M18 122h1M33 122h1M157 122h1M280 122h4M288 122h1M294 122h1M340 122h1M33 123h1M281 123h3M338 123h2M344 123h1M18 124h1M154 124h2M280 124h1M282 124h5M330 124h2M337 124h1M344 124h1M154 125h1M280 125h1M283 125h2M319 125h1M332 125h4M343 125h1M155 126h1M273 126h1M279 126h2M330 126h1M337 126h3M280 127h1M328 127h1M337 127h1M340 127h1M153 128h1M157 128h1M159 128h1M273 128h2M279 128h1M302 128h2M323 128h1M326 128h1M20 129h1M154 129h1M157 129h1M273 129h1M277 129h1M283 129h1M346 129h1M154 130h1M157 130h1M283 130h1M322 130h1M346 130h1M24 131h1M30 131h1M152 131h2M159 131h2M279 131h1M323 131h2M28 132h1M160 132h1M274 132h1M278 132h3M302 132h2M322 132h1M28 133h1M280 133h1M284 133h1M286 133h4M302 133h1M315 133h2M344 133h1M29 134h1M155 134h1M157 134h1M162 134h1M164 134h1M250 134h1M274 134h1M283 134h1M285 134h5M303 134h1M310 134h1M313 134h2M344 134h1M19 135h1M153 135h2M163 135h1M250 135h1M263 135h1M275 135h1M286 135h1M303 135h2M310 135h1M314 135h1M317 135h2M320 135h1M342 135h1M153 136h1M160 136h1M163 136h1M263 136h1M265 136h2M275 136h1M303 136h2M309 136h2M314 136h1M316 136h1M151 137h2M159 137h2M162 137h4M169 137h1M230 137h1M262 137h3M276 137h1M280 137h1M296 137h3M308 137h5M314 137h2M21 138h1M150 138h1M155 138h2M159 138h3M164 138h2M263 138h3M267 138h2M276 138h1M296 138h1M298 138h5M306 138h1M309 138h1M342 138h1M22 139h1M32 139h1M150 139h1M153 139h2M157 139h2M161 139h1M164 139h1M171 139h1M263 139h1M268 139h1M276 139h2M295 139h1M298 139h1M301 139h2M307 139h2M342 139h2M23 140h1M33 140h1M150 140h1M152 140h3M165 140h1M169 140h1M268 140h1M275 140h3M293 140h2M301 140h1M304 140h1M307 140h1M342 140h2M22 141h3M153 141h1M164 141h4M230 141h1M268 141h1M274 141h1M277 141h1M283 141h1M295 141h3M301 141h1M307 141h1M342 141h1M22 142h3M152 142h1M161 142h1M165 142h3M169 142h1M229 142h1M271 142h2M280 142h1M294 142h2M301 142h1M341 142h2M23 143h1M149 143h1M152 143h1M159 143h1M161 143h1M169 143h2M228 143h1M296 143h3M342 143h1M24 144h1M36 144h1M152 144h1M168 144h3M228 144h4M271 144h1M307 144h1M341 144h1M28 145h1M169 145h1M276 145h1M285 145h1M287 145h1M300 145h1M149 146h1M161 146h1M167 146h3M228 146h1M269 146h1M272 146h2M280 146h1M285 146h1M301 146h2M306 146h2M28 147h1M33 147h1M38 147h1M149 147h1M269 147h1M273 147h1M300 147h2M304 147h1M306 147h2M30 148h3M37 148h1M160 148h1M163 148h1M270 148h1M272 148h2M278 148h1M300 148h2M305 148h2M29 149h1M32 149h1M157 149h1M171 149h1M273 149h1M275 149h1M277 149h2M305 149h3M33 150h1M156 150h3M162 150h1M171 150h1M175 150h2M277 150h1M286 150h3M308 150h1M33 151h2M155 151h1M171 151h2M174 151h1M176 151h1M273 151h1M278 151h1M286 151h1M309 151h1M318 151h1M31 152h1M34 152h1M155 152h1M161 152h1M163 152h2M171 152h3M273 152h4M281 152h1M311 152h1M33 153h1M155 153h1M163 153h2M171 153h1M173 153h1M238 153h1M240 153h1M275 153h2M279 153h1M293 153h1M32 154h2M156 154h3M172 154h1M238 154h2M241 154h1M260 154h2M312 154h2M323 154h1M157 155h1M159 155h2M241 155h1M261 155h2M277 155h2M319 155h1M157 156h1M174 156h1M277 156h2M282 156h1M319 156h1M166 157h1M168 157h1M277 157h3M282 157h3M315 157h2M166 158h1M168 158h1M172 158h1M277 158h1M279 158h1M284 158h1M317 158h1M319 158h2M168 159h1M232 159h1M277 159h1M319 159h3M166 160h3M170 160h1M172 160h1M246 160h1M275 160h1M277 160h1M166 161h1M169 161h3M272 161h1M278 161h1M325 161h1M238 162h2M272 162h1M274 162h2M279 162h1M169 163h1M233 163h1M235 163h2M238 163h1M250 163h2M273 163h3M278 163h2M319 163h4M170 164h1M235 164h1M237 164h1M274 164h4M317 164h1M320 164h3M170 165h1M236 165h1M240 165h2M272 165h3M276 165h1M233 166h1M239 166h1M247 166h2M272 166h2M164 167h1M167 167h3M212 167h2M234 167h1M239 167h1M247 167h1M272 167h2M282 167h1M167 168h1M235 168h1M240 168h1M247 168h2M276 168h1M309 168h1M235 169h1M240 169h1M247 169h3M262 169h1M308 169h2M317 169h1M166 170h1M213 170h1M235 170h1M240 170h1M243 170h1M248 170h1M250 170h1M264 170h1M271 170h3M275 170h1M163 171h1M165 171h1M235 171h1M248 171h2M252 171h1M254 171h1M269 171h1M273 171h2M163 172h2M233 172h1M235 172h1M241 172h1M262 172h2M269 172h1M273 172h1M164 173h2M168 173h2M171 173h1M233 173h1M242 173h1M254 173h2M264 173h1M268 173h1M313 173h2M163 174h1M167 174h1M169 174h1M236 174h1M244 174h2M248 174h1M254 174h2M259 174h1M262 174h3M313 174h1M163 175h1M166 175h3M234 175h2M242 175h2M254 175h1M259 175h1M266 175h1M268 175h4M163 176h1M253 176h1M255 176h3M265 176h1M268 176h1M270 176h2M163 177h1M165 177h3M238 177h1M250 177h1M264 177h1M266 177h1M269 177h1M271 177h1M163 178h1M165 178h3M185 178h1M239 178h1M251 178h1M258 178h4M267 178h1M270 178h1M157 179h1M163 179h1M185 179h2M234 179h1M237 179h1M239 179h1M249 179h2M258 179h2M265 179h2M270 179h1M157 180h1M161 180h1M234 180h1M238 180h1M248 180h2M165 181h1M174 181h1M235 181h1M248 181h1M263 181h2M157 182h2M236 182h2M239 182h2M251 182h2M258 182h2M261 182h1M263 182h2M174 183h2M251 183h2M254 183h1M280 183h2M283 183h1M153 184h3M157 184h1M166 184h1M173 184h2M241 184h1M245 184h1M253 184h1M260 184h2M280 184h1M153 185h1M156 185h2M160 185h1M166 185h1M244 185h1M246 185h1M251 185h1M253 185h1M156 186h2M159 186h1M243 186h1M245 186h2M252 186h2M154 187h3M163 187h1M166 187h2M176 187h2M252 187h2M155 188h1M162 188h3M170 188h1M252 188h2M159 189h2M167 189h1M252 189h2M156 190h1M158 190h1M160 190h1M162 190h1M166 190h1M256 190h2M259 190h3M263 190h1M158 191h2M163 191h1M167 191h3M258 191h2M264 191h1M165 192h1M169 192h1M259 192h1M262 192h1M164 193h2M256 193h1M260 193h1M161 194h1M253 194h1M255 194h1M260 194h1M162 195h1M255 195h1M260 195h2M267 195h2M162 196h1M164 196h1M262 196h3M267 196h1M160 197h1M166 197h1M168 197h1M286 197h1M166 198h1M286 198h1M308 198h1M308 199h2M308 200h1M318 200h1M308 201h2M318 201h2M307 202h3M308 203h1M183 204h1M185 204h1M245 204h1M308 204h1M245 205h1M317 205h2M172 206h3M179 206h1M183 206h1M188 206h1M314 206h1M318 206h2M322 206h1M162 207h1M173 207h1M180 207h1M182 207h1M184 207h4M320 207h1M322 207h1M163 208h3M183 208h2M320 208h2M164 209h1M186 209h1M315 209h1M318 209h1M320 209h1M324 209h1M308 210h1M314 210h1M325 210h1M166 211h2M314 211h1M321 211h1M168 212h1M304 212h2M314 212h1M316 212h1M320 212h1M166 213h1M168 213h2M185 213h1M305 213h1M309 213h1M319 213h1M303 214h3M308 214h2M318 214h1M183 215h5M304 215h2M309 215h3M314 215h1M182 216h1M184 216h1M187 216h2M309 216h2M313 216h2M319 216h1M182 217h2M186 217h2M189 217h1M308 217h1M312 217h3M316 217h1M319 217h1M183 218h2M190 218h1M308 218h1M312 218h1M315 218h2M321 218h1M177 219h1M184 219h3M189 219h1M309 219h2M319 219h2M185 220h3M307 220h1M310 220h1M315 220h1M319 220h1M184 221h3M188 221h1M319 221h1M184 222h2M184 223h1M310 223h1M310 224h1M322 224h1M311 225h1M316 225h1M322 225h1M176 226h2M183 226h3M313 226h2M316 226h1M176 227h3M182 227h2M186 227h1M319 227h1M178 228h1M314 228h1M177 231h1M318 231h2M171 232h1M176 232h1M171 233h1M321 234h1M176 235h1M178 235h1M321 235h1M174 236h2M177 237h1"/>
<path stroke="#acde85" d="M200 29h1M181 31h1M186 33h2M184 36h1M184 37h1M23 38h1M186 38h2M194 38h1M57 39h1M182 39h1M185 39h2M57 40h1M175 40h2M181 40h1M183 40h1M187 40h1M196 40h3M175 41h2M180 41h1M184 41h2M187 41h2M192 41h1M196 41h1M176 42h1M182 42h1M187 42h1M189 42h1M191 42h2M177 43h1M179 43h2M185 43h2M188 43h2M191 43h1M179 44h2M185 44h1M187 44h1M195 44h1M185 45h1M193 45h1M195 45h1M184 46h1M188 46h1M190 46h2M194 46h2M181 47h1M195 47h1M172 48h2M172 49h6M181 49h1M183 49h1M195 49h2M172 50h1M179 50h1M197 50h2M200 50h1M174 51h1M201 51h1M174 52h1M191 52h1M196 52h1M206 52h1M211 52h1M214 52h1M217 52h1M212 53h2M219 53h1M219 54h1M232 55h1M175 56h1M219 56h1M221 56h1M224 56h2M175 57h2M219 57h1M221 57h1M227 57h2M175 58h1M228 58h1M172 59h1M229 59h3M171 60h1M237 60h1M331 60h1M167 61h2M230 61h1M233 61h1M236 61h2M239 61h1M234 62h1M237 62h1M240 62h1M242 62h1M165 63h1M168 63h1M236 63h6M364 63h3M165 64h1M169 64h1M238 64h3M364 64h1M366 64h1M48 65h1M164 65h2M167 65h2M246 65h1M364 65h4M163 66h1M167 66h1M248 66h1M317 66h2M364 66h1M162 67h1M166 67h2M267 67h1M269 67h1M318 67h1M338 67h1M362 67h2M368 67h2M166 68h4M267 68h1M269 68h2M312 68h1M337 68h1M363 68h2M372 68h1M164 69h1M166 69h5M267 69h2M312 69h2M320 69h2M364 69h1M168 70h1M260 70h1M267 70h1M287 70h1M313 70h1M320 70h1M263 71h2M266 71h1M287 71h2M313 71h2M320 71h1M323 71h1M369 71h2M374 71h1M161 72h1M164 72h3M287 72h1M311 72h1M313 72h2M317 72h2M320 72h1M323 72h1M336 72h1M369 72h1M161 73h1M166 73h2M271 73h1M286 73h1M312 73h1M316 73h1M318 73h1M320 73h1M335 73h1M369 73h2M374 73h1M162 74h1M165 74h1M266 74h1M271 74h2M319 74h3M266 75h4M274 75h1M313 75h1M159 76h1M315 76h3M158 77h2M273 77h1M277 77h3M282 77h1M286 77h1M288 77h1M342 77h2M279 78h1M283 78h2M316 78h1M282 79h1M345 79h1M158 80h1M275 80h3M282 80h1M343 80h1M345 80h1M159 81h1M276 81h1M327 81h1M345 81h1M318 82h1M320 82h1M327 82h1M332 82h2M337 82h1M345 82h1M158 83h1M317 83h1M320 83h1M322 83h3M326 83h2M338 83h1M157 84h1M320 84h1M327 84h1M332 84h1M340 84h2M159 85h1M326 85h1M330 85h3M340 85h2M345 85h1M160 86h1M326 86h1M341 86h3M346 86h1M7 87h1M87 87h1M342 87h1M7 88h1M10 88h1M11 89h1M19 89h1M21 89h1M347 89h1M4 90h1M6 90h2M88 90h1M159 90h1M4 91h1M7 91h1M14 91h4M21 91h4M159 91h1M13 92h1M15 92h2M18 92h1M21 92h1M159 92h1M320 92h3M4 93h2M14 93h2M20 93h2M90 93h1M94 93h2M158 93h1M299 93h3M319 93h2M4 94h1M16 94h1M21 94h2M89 94h1M158 94h1M299 94h1M313 94h1M17 95h3M21 95h2M95 95h1M158 95h1M312 95h3M16 96h2M158 96h2M313 96h1M3 97h1M13 97h1M16 97h1M20 97h1M88 97h1M158 97h1M313 97h1M317 97h1M6 98h1M10 98h1M13 98h2M16 98h1M157 98h1M307 98h3M314 98h3M10 99h2M14 99h2M90 99h1M308 99h2M312 99h3M317 99h1M323 99h1M157 100h1M309 100h1M312 100h1M314 100h1M318 100h1M321 100h1M8 101h1M11 101h1M159 101h1M306 101h1M310 101h1M313 101h3M317 101h2M309 102h2M317 102h2M18 103h1M159 103h1M300 103h1M302 103h2M305 103h1M321 103h2M324 103h1M327 103h1M10 104h1M18 104h2M248 104h1M300 104h1M324 104h1M326 104h1M333 104h1M10 105h3M159 105h1M248 105h2M9 106h1M11 106h1M21 106h1M160 106h4M333 106h1M10 107h2M23 107h1M162 107h3M298 107h1M300 107h1M333 107h2M345 107h1M7 108h1M11 108h1M162 108h1M164 108h2M334 108h3M12 109h2M162 109h4M297 109h1M339 109h1M161 110h1M163 110h1M166 110h1M158 111h2M163 111h1M297 111h1M342 111h1M27 112h1M157 112h1M163 112h3M297 112h1M157 113h3M162 113h3M296 113h1M337 113h2M344 113h1M158 114h1M160 114h1M292 114h1M296 114h1M338 114h1M344 114h1M15 115h1M30 115h1M157 115h2M167 115h1M295 115h1M342 115h1M158 116h1M293 116h2M15 117h1M163 117h3M296 117h1M343 117h2M15 118h1M32 118h1M158 118h1M161 118h3M165 118h1M278 118h1M286 118h1M289 118h1M32 119h1M160 119h4M165 119h1M281 119h1M287 119h2M336 119h1M281 120h1M288 120h3M332 120h1M336 120h2M340 120h1M342 120h1M279 121h3M283 121h1M331 121h2M158 122h1M167 122h2M279 122h1M157 123h1M279 123h2M284 123h1M288 123h1M156 124h1M164 124h1M278 124h2M338 124h2M167 125h1M278 125h2M331 125h1M336 125h2M339 125h1M344 125h1M156 126h1M274 126h2M277 126h1M336 126h1M343 126h3M157 127h1M275 127h1M277 127h1M329 127h1M338 127h2M342 127h2M21 128h1M158 128h1M160 128h1M275 128h1M277 128h1M280 128h3M322 128h1M327 128h1M338 128h1M340 128h2M343 128h2M33 129h1M153 129h1M159 129h1M266 129h2M272 129h1M274 129h3M280 129h1M282 129h1M322 129h1M326 129h1M31 130h3M152 130h2M159 130h1M273 130h1M276 130h2M280 130h2M345 130h1M21 131h1M25 131h5M158 131h1M275 131h1M278 131h1M280 131h1M345 131h3M24 132h1M27 132h1M159 132h1M277 132h1M342 132h3M162 133h2M273 133h1M303 133h1M321 133h1M342 133h2M21 134h1M161 134h1M251 134h1M263 134h1M273 134h1M284 134h1M342 134h2M20 135h2M30 135h1M155 135h2M160 135h3M164 135h1M249 135h1M251 135h1M264 135h3M274 135h1M313 135h1M341 135h1M343 135h2M21 136h2M31 136h1M154 136h1M156 136h2M159 136h1M161 136h2M164 136h2M169 136h1M250 136h2M253 136h1M256 136h1M262 136h1M264 136h1M268 136h3M313 136h1M318 136h2M341 136h2M20 137h2M31 137h1M156 137h1M161 137h1M166 137h1M168 137h1M229 137h1M231 137h1M252 137h2M268 137h1M313 137h1M316 137h1M340 137h3M31 138h1M162 138h2M168 138h1M171 138h1M297 138h1M312 138h1M314 138h2M341 138h1M343 138h1M23 139h1M152 139h1M162 139h2M165 139h1M168 139h1M230 139h1M262 139h1M264 139h2M275 139h1M296 139h2M309 139h1M314 139h1M316 139h2M341 139h1M24 140h1M151 140h1M155 140h1M167 140h2M171 140h1M230 140h2M263 140h1M266 140h1M296 140h2M303 140h1M308 140h1M316 140h2M340 140h2M149 141h1M151 141h1M155 141h1M169 141h2M231 141h1M267 141h1M293 141h2M302 141h2M305 141h1M308 141h1M341 141h1M343 141h1M149 142h1M154 142h1M160 142h1M168 142h1M170 142h1M175 142h1M228 142h1M230 142h3M268 142h1M270 142h1M296 142h2M302 142h1M307 142h3M343 142h1M24 143h1M35 143h1M160 143h1M171 143h1M227 143h1M231 143h1M270 143h1M299 143h1M307 143h1M309 143h1M336 143h1M340 143h1M171 144h2M227 144h1M270 144h1M286 144h1M299 144h3M340 144h1M342 144h1M26 145h1M36 145h1M162 145h1M170 145h3M227 145h2M231 145h2M235 145h2M269 145h1M286 145h1M301 145h3M306 145h3M29 146h1M33 146h1M162 146h1M170 146h2M227 146h1M233 146h2M236 146h1M303 146h1M305 146h1M308 146h1M30 147h3M34 147h1M161 147h2M172 147h1M228 147h1M234 147h1M240 147h2M305 147h1M308 147h1M28 148h1M35 148h1M161 148h2M172 148h1M178 148h2M240 148h3M271 148h1M307 148h2M30 149h1M158 149h2M162 149h1M172 149h3M176 149h2M308 149h1M313 149h1M32 150h1M159 150h1M172 150h3M254 150h1M273 150h1M309 150h2M317 150h1M32 151h1M156 151h1M158 151h2M161 151h1M173 151h1M277 151h1M310 151h3M317 151h1M319 151h1M32 152h2M159 152h2M176 152h1M239 152h1M259 152h1M272 152h1M277 152h2M312 152h1M318 152h3M32 153h1M156 153h1M158 153h3M172 153h1M176 153h1M241 153h1M259 153h2M271 153h1M274 153h1M312 153h1M323 153h1M159 154h2M235 154h3M240 154h1M277 154h2M175 155h1M238 155h2M314 155h1M323 155h1M175 156h1M238 156h1M263 156h1M318 156h1M320 156h1M173 157h1M238 157h1M241 157h1M276 157h1M317 157h3M167 158h1M232 158h1M240 158h2M276 158h1M318 158h1M167 159h1M169 159h2M173 159h1M231 159h1M233 159h1M276 159h1M169 160h1M245 160h1M247 160h1M272 160h3M276 160h1M322 160h1M325 160h1M230 161h1M238 161h1M245 161h3M268 161h2M271 161h1M273 161h5M169 162h1M234 162h4M240 162h1M245 162h1M252 162h1M269 162h1M271 162h1M273 162h1M276 162h1M278 162h1M172 163h1M237 163h1M239 163h1M244 163h2M267 163h1M271 163h1M276 163h2M172 164h1M232 164h1M236 164h1M239 164h1M244 164h1M250 164h2M267 164h2M271 164h1M247 165h2M268 165h1M275 165h1M242 166h1M274 166h3M194 167h1M249 167h1M274 167h3M168 168h1M214 168h1M234 168h1M241 168h1M249 168h1M263 168h2M272 168h2M275 168h1M167 169h1M212 169h1M214 169h1M225 169h3M234 169h1M250 169h1M264 169h1M272 169h2M275 169h1M170 170h2M175 170h1M242 170h1M244 170h1M251 170h1M268 170h3M274 170h1M166 171h1M171 171h2M174 171h1M213 171h1M245 171h3M258 171h2M264 171h1M268 171h1M165 172h1M172 172h2M213 172h1M232 172h1M234 172h1M255 172h1M264 172h1M268 172h1M167 173h1M172 173h3M232 173h1M234 173h2M256 173h1M259 173h2M262 173h2M165 174h2M171 174h1M233 174h3M256 174h1M265 174h1M267 174h1M255 175h2M258 175h1M267 175h1M166 176h2M234 176h1M254 176h1M269 176h1M164 177h1M179 177h1M185 177h2M234 177h1M265 177h1M270 177h1M164 178h1M168 178h1M171 178h1M179 178h2M184 178h1M186 178h1M228 178h2M234 178h1M238 178h1M250 178h1M265 178h2M171 179h1M179 179h1M228 179h1M233 179h1M238 179h1M171 180h1M174 180h2M233 180h1M258 180h1M166 181h1M171 181h3M175 181h1M233 181h2M258 181h1M167 182h2M172 182h4M235 182h1M260 182h1M157 183h2M167 183h2M172 183h2M211 183h1M236 183h1M238 183h1M259 183h1M261 183h1M172 184h1M175 184h1M236 184h2M242 184h3M251 184h2M162 185h2M173 185h1M211 185h2M237 185h1M241 185h3M245 185h1M252 185h1M162 186h2M176 186h3M170 187h2M243 187h7M165 188h5M243 188h1M245 188h2M261 188h1M155 189h1M161 189h3M166 189h1M251 189h1M261 189h1M155 190h1M159 190h1M249 190h2M262 190h1M164 191h3M249 191h2M256 191h1M260 191h1M262 191h2M166 192h2M170 192h1M252 192h1M256 192h1M260 192h2M263 192h1M168 193h2M259 193h1M162 194h3M167 194h2M256 194h1M164 195h3M253 195h1M256 195h1M163 196h1M166 196h1M169 196h1M253 196h2M261 196h1M167 197h1M169 197h1M249 197h2M257 197h3M168 198h1M309 200h1M246 202h1M249 202h1M182 203h2M246 203h1M249 203h1M309 203h1M182 204h1M187 204h1M230 204h1M248 204h4M309 204h1M180 205h1M182 205h1M187 205h2M244 205h1M180 206h3M242 206h1M244 206h1M323 206h1M183 207h1M188 207h1M185 208h3M324 208h1M309 210h1M316 210h5M323 210h1M187 211h1M316 211h1M320 211h1M166 212h1M187 212h1M303 212h1M309 212h2M315 212h1M317 212h3M167 213h1M303 213h2M185 214h1M188 215h1M312 215h2M325 215h1M183 216h1M189 216h1M311 216h2M315 216h1M320 216h1M322 216h3M184 217h2M309 217h3M315 217h1M320 217h1M322 217h1M185 218h1M309 218h3M322 218h1M315 219h2M321 219h1M188 220h1M308 220h2M309 221h1M320 222h1M321 223h3M323 224h1M310 225h1M181 226h2M311 226h2M180 227h1M184 227h2M314 227h5M321 227h1M182 228h1M320 228h1M315 229h1M317 229h1M315 230h1M317 230h2M178 231h1M317 231h1M320 232h1M176 233h1M176 234h2M323 234h1M177 235h1M179 236h1M176 237h1M179 237h1M178 238h1M187 238h1"/>
<path stroke="#b4e088" d="M203 28h1M23 37h2M194 39h1M182 40h1M185 40h2M181 41h3M188 42h1M187 43h1M190 43h1M186 44h1M186 45h1M185 46h2M189 46h1M182 47h3M187 47h1M194 47h1M181 48h1M191 48h1M194 48h1M182 49h1M194 49h1M174 50h1M176 50h1M178 50h1M180 50h1M195 50h2M199 50h1M191 51h2M196 51h2M175 52h1M192 52h1M197 52h1M201 52h1M207 52h4M215 52h2M175 53h1M191 53h2M202 53h2M205 53h2M209 53h1M211 53h1M214 53h1M217 53h2M176 54h1M218 54h1M176 55h1M219 55h1M176 56h1M222 57h2M226 57h1M176 58h1M220 58h2M223 58h1M227 58h1M173 59h3M172 60h1M230 60h3M169 61h3M231 61h1M238 61h1M166 62h3M233 62h1M243 62h1M169 63h1M235 63h1M244 63h1M167 64h1M170 64h1M236 64h2M245 64h1M365 64h1M166 65h1M171 65h1M231 65h1M164 66h1M166 66h1M172 66h1M230 66h2M247 66h1M368 66h1M163 67h1M165 67h1M171 67h3M268 67h1M370 67h3M162 68h1M164 68h2M170 68h2M249 68h1M268 68h1M162 69h2M165 69h1M372 69h1M161 70h3M167 70h1M169 70h1M259 70h1M372 70h2M161 71h3M168 71h1M259 71h1M261 71h2M315 71h2M162 72h2M167 72h2M263 72h2M266 72h1M315 72h1M319 72h1M370 72h1M374 72h2M164 73h1M168 73h1M266 73h1M310 73h2M166 74h1M270 74h1M310 74h1M312 74h1M163 75h1M265 75h1M271 75h1M164 76h2M269 76h2M274 76h1M314 76h1M164 77h1M166 77h1M272 77h1M274 77h2M280 77h2M287 77h1M316 77h2M158 78h1M160 78h3M165 78h2M277 78h2M280 78h1M282 78h1M285 78h1M315 78h1M344 78h1M90 79h1M158 79h1M162 79h1M166 79h2M277 79h1M279 79h3M284 79h1M315 79h1M342 79h1M166 80h2M283 80h1M315 80h1M275 81h1M278 81h1M286 81h1M310 81h1M315 81h1M276 82h2M316 82h1M319 82h1M334 82h1M159 83h1M318 83h2M332 83h1M90 84h1M158 84h1M314 84h6M321 84h1M324 84h3M339 84h1M160 85h2M314 85h2M320 85h2M323 85h1M339 85h1M344 85h1M161 86h1M323 86h1M329 86h1M332 86h1M339 86h1M8 87h2M89 87h1M328 87h1M340 87h2M343 87h1M346 87h1M8 88h2M87 88h1M160 88h1M293 88h1M298 88h1M346 88h1M8 89h1M10 89h1M13 89h2M20 89h1M87 89h1M292 89h2M5 90h1M8 90h1M12 90h3M18 90h2M21 90h1M87 90h1M350 90h1M8 91h1M13 91h1M18 91h1M321 91h1M9 92h1M19 92h2M299 92h1M301 92h1M319 92h1M6 93h1M12 93h2M91 93h1M104 93h1M313 93h2M5 94h1M97 94h1M300 94h1M5 95h1M16 95h1M159 95h1M299 95h2M304 95h1M311 95h1M344 95h1M3 96h2M18 96h2M90 96h1M94 96h1M300 96h1M305 96h1M14 97h2M18 97h2M159 97h1M302 97h1M309 97h1M314 97h1M329 97h1M4 98h2M9 98h1M11 98h2M15 98h1M158 98h1M317 98h1M4 99h1M9 99h1M157 99h1M318 99h3M322 99h1M324 99h1M10 100h2M15 100h1M158 100h2M313 100h1M6 101h1M9 101h2M12 101h1M16 101h1M309 101h1M325 101h1M7 102h1M12 102h1M17 102h1M159 102h1M163 102h1M305 102h1M325 102h1M327 102h1M163 103h1M301 103h1M304 103h1M325 103h2M328 103h1M331 103h1M339 103h1M9 104h1M11 104h3M160 104h1M163 104h1M249 104h1M325 104h1M339 104h1M9 105h1M13 105h1M20 105h1M160 105h1M163 105h1M334 105h1M339 105h1M342 105h1M5 106h2M12 106h2M334 106h1M338 106h3M342 106h5M9 107h1M12 107h1M297 107h1M339 107h1M342 107h2M346 107h1M9 108h2M23 108h1M163 108h1M297 108h1M339 108h1M346 108h1M14 109h1M166 109h1M346 109h1M162 110h1M341 110h1M26 111h1M343 111h1M15 112h1M158 112h2M162 112h1M296 112h1M344 112h1M28 113h1M161 113h1M167 113h1M295 113h1M15 114h1M157 114h1M161 114h2M291 114h1M294 114h2M161 115h2M287 115h5M293 115h2M345 115h1M15 116h1M166 116h1M338 116h2M31 117h1M166 117h1M286 117h1M337 117h1M340 117h3M16 118h1M164 118h1M166 118h1M277 118h1M342 118h2M16 119h1M158 119h2M164 119h1M166 119h1M169 119h1M277 119h1M286 119h1M290 119h1M342 119h2M16 120h1M32 120h1M158 120h3M164 120h2M167 120h1M169 120h1M278 120h1M282 120h1M287 120h1M338 120h2M17 121h2M158 121h3M165 121h1M168 121h1M180 121h1M287 121h1M159 122h2M165 122h2M19 123h1M158 123h1M163 123h5M229 123h1M278 123h1M285 123h3M33 124h1M157 124h2M163 124h1M230 124h2M19 125h1M155 125h3M166 125h1M277 125h1M338 125h1M20 126h1M157 126h1M331 126h5M21 127h1M158 127h3M270 127h2M330 127h1M334 127h1M336 127h1M344 127h1M33 128h1M272 128h1M276 128h1M333 128h3M337 128h1M339 128h1M342 128h1M345 128h1M21 129h1M158 129h1M160 129h1M281 129h1M331 129h3M344 129h2M21 130h1M24 130h5M158 130h1M160 130h1M266 130h2M274 130h2M326 130h1M23 131h1M161 131h1M269 131h1M274 131h1M325 131h1M21 132h1M25 132h1M158 132h1M161 132h2M268 132h3M276 132h1M323 132h1M330 132h1M345 132h3M21 133h1M24 133h1M27 133h1M158 133h4M257 133h2M268 133h1M329 133h2M345 133h1M28 134h1M158 134h3M165 134h1M249 134h1M252 134h2M257 134h1M264 134h3M270 134h3M341 134h1M345 134h1M22 135h1M157 135h3M165 135h1M167 135h1M248 135h1M252 135h2M256 135h1M262 135h1M270 135h4M340 135h1M20 136h1M155 136h1M158 136h1M166 136h3M230 136h2M249 136h1M252 136h1M255 136h1M261 136h1M267 136h1M271 136h1M274 136h1M317 136h1M339 136h2M343 136h1M22 137h1M153 137h1M155 137h1M157 137h2M167 137h1M170 137h1M250 137h2M255 137h2M261 137h1M267 137h1M269 137h2M275 137h1M339 137h1M22 138h1M151 138h4M157 138h1M166 138h1M172 138h3M228 138h4M255 138h2M262 138h1M269 138h1M275 138h1M310 138h2M313 138h1M316 138h1M340 138h1M151 139h1M166 139h2M172 139h1M227 139h3M231 139h1M255 139h1M272 139h2M311 139h3M315 139h1M340 139h1M166 140h1M172 140h4M262 140h1M264 140h2M272 140h1M274 140h1M302 140h1M309 140h2M339 140h1M344 140h1M25 141h1M33 141h1M150 141h1M154 141h1M168 141h1M171 141h1M174 141h2M229 141h1M232 141h2M269 141h3M304 141h1M309 141h2M339 141h2M344 141h1M25 142h1M34 142h1M150 142h2M176 142h1M233 142h1M269 142h1M303 142h1M305 142h2M340 142h1M344 142h1M150 143h2M172 143h1M176 143h1M232 143h2M269 143h1M300 143h2M305 143h2M343 143h1M25 144h3M232 144h1M235 144h1M269 144h1M302 144h1M305 144h2M309 144h1M336 144h1M29 145h1M173 145h1M230 145h1M233 145h2M241 145h3M305 145h1M313 145h1M31 146h2M34 146h1M172 146h1M177 146h2M231 146h2M235 146h1M237 146h1M240 146h4M268 146h1M304 146h1M310 146h2M316 146h1M37 147h1M173 147h1M178 147h2M227 147h1M231 147h3M235 147h1M238 147h2M242 147h2M310 147h1M314 147h2M317 147h1M36 148h1M173 148h1M177 148h1M227 148h2M239 148h1M260 148h1M269 148h1M309 148h2M313 148h2M31 149h1M160 149h2M175 149h1M178 149h1M260 149h2M266 149h1M270 149h1M272 149h1M309 149h2M312 149h1M314 149h1M160 150h2M177 150h1M233 150h2M250 150h1M253 150h1M255 150h1M264 150h3M270 150h1M311 150h4M316 150h1M318 150h1M31 151h1M157 151h1M160 151h1M230 151h5M247 151h2M250 151h3M254 151h1M259 151h1M264 151h1M272 151h1M313 151h1M316 151h1M320 151h1M156 152h1M158 152h1M230 152h1M238 152h1M240 152h2M247 152h1M258 152h1M260 152h1M271 152h1M313 152h2M323 152h1M157 153h1M235 153h1M237 153h1M242 153h1M247 153h1M258 153h1M261 153h1M273 153h1M277 153h2M313 153h2M318 153h2M324 153h1M176 154h1M234 154h1M242 154h1M258 154h2M262 154h1M264 154h1M274 154h3M314 154h1M317 154h3M234 155h2M237 155h1M240 155h1M242 155h1M260 155h1M263 155h1M316 155h3M320 155h1M239 156h3M261 156h2M276 156h1M315 156h3M323 156h2M167 157h1M175 157h2M239 157h2M242 157h1M275 157h1M320 157h1M173 158h1M223 158h2M231 158h1M238 158h2M274 158h2M321 158h1M224 159h1M239 159h2M246 159h1M253 159h4M264 159h1M267 159h2M273 159h3M322 159h1M325 159h1M173 160h1M229 160h5M244 160h1M248 160h1M253 160h2M264 160h1M268 160h1M271 160h1M324 160h1M172 161h2M222 161h1M229 161h1M231 161h1M234 161h2M237 161h1M239 161h1M248 161h1M253 161h1M270 161h1M170 162h4M222 162h1M230 162h2M233 162h1M241 162h1M246 162h1M251 162h1M253 162h1M267 162h2M270 162h1M277 162h1M170 163h2M173 163h1M231 163h2M240 163h4M248 163h2M252 163h4M268 163h1M171 164h1M231 164h1M240 164h1M243 164h1M248 164h2M254 164h2M266 164h1M175 165h1M232 165h1M242 165h1M255 165h1M267 165h1M271 165h1M170 166h1M243 166h1M249 166h1M271 166h1M170 167h1M193 167h1M214 167h1M233 167h1M242 167h1M250 167h1M263 167h2M271 167h1M169 168h1M193 168h2M221 168h1M233 168h1M242 168h1M246 168h1M250 168h1M262 168h1M168 169h3M221 169h1M224 169h1M228 169h1M233 169h1M244 169h3M255 169h2M261 169h1M267 169h1M271 169h1M167 170h1M172 170h1M174 170h1M214 170h1M221 170h2M227 170h1M231 170h1M234 170h1M241 170h1M245 170h3M254 170h6M261 170h1M267 170h1M167 171h1M170 171h1M173 171h1M175 171h1M183 171h1M214 171h1M233 171h2M255 171h1M261 171h1M166 172h6M174 172h1M183 172h1M212 172h1M214 172h1M223 172h1M259 172h1M261 172h1M166 173h1M170 173h1M183 173h1M210 173h2M213 173h2M223 173h2M231 173h1M261 173h1M265 173h1M267 173h1M164 174h1M170 174h1M172 174h1M227 174h1M231 174h2M258 174h1M266 174h1M164 175h2M169 175h1M172 175h1M176 175h1M185 175h1M231 175h1M233 175h1M257 175h1M164 176h2M168 176h1M172 176h2M178 176h2M185 176h2M168 177h1M171 177h1M178 177h1M184 177h1M200 177h1M170 178h1M178 178h1M181 178h1M166 179h3M172 179h1M178 179h1M180 179h2M184 179h1M229 179h1M232 179h1M166 180h1M172 180h2M179 180h1M185 180h2M228 180h1M232 180h1M232 181h1M169 182h1M171 182h1M176 182h1M226 182h1M233 182h2M176 183h1M186 183h1M210 183h1M212 183h1M226 183h1M235 183h1M237 183h1M239 183h2M167 184h2M178 184h2M182 184h2M210 184h1M213 184h1M238 184h1M240 184h1M155 185h1M171 185h2M174 185h3M236 185h1M240 185h1M154 186h2M170 186h4M175 186h1M236 186h1M242 186h1M172 187h1M175 187h1M178 187h1M241 187h2M241 188h2M244 188h1M247 188h2M250 188h2M262 188h1M164 189h2M175 189h1M238 189h1M242 189h2M246 189h5M262 189h1M163 190h1M165 190h1M238 190h1M242 190h1M247 190h2M248 191h1M257 191h1M261 191h1M171 192h1M248 192h1M251 192h1M258 192h1M264 192h1M166 193h2M170 193h2M252 193h1M257 193h1M166 194h1M169 194h3M257 194h1M259 194h1M163 195h1M167 195h6M257 195h1M259 195h1M170 196h1M255 196h1M260 196h1M251 197h2M255 197h1M168 199h1M247 201h4M182 202h1M244 202h2M247 202h2M184 203h2M247 203h2M181 204h1M186 204h1M188 204h1M229 204h1M244 204h1M246 204h2M181 205h1M227 205h2M248 205h4M241 206h1M243 206h1M245 206h1M247 207h1M254 207h1M323 207h1M188 208h1M322 208h2M187 209h1M321 209h1M187 210h2M310 210h1M315 210h1M321 210h2M309 211h2M315 211h1M317 211h3M167 212h1M188 214h1M326 215h1M321 216h1M190 217h1M321 217h1M323 217h1M324 223h1M322 226h1M181 227h1M313 227h1M180 228h2M183 228h1M186 228h1M315 228h1M319 228h1M180 229h1M316 229h1M318 229h1M180 230h1M186 230h1M316 230h1M319 230h1M177 232h1M177 233h1M321 233h1M178 234h1M322 234h1M179 235h1M322 235h2M180 236h2M187 236h1M322 236h1M180 237h2M187 237h1M186 239h1"/>
<path stroke="#bde28a" d="M200 30h1M202 36h1M192 45h1M193 46h1M185 47h2M188 47h1M191 47h1M182 48h3M187 48h1M192 48h2M184 49h1M190 49h2M193 49h1M175 50h1M177 50h1M181 50h4M187 50h5M194 50h1M175 51h2M187 51h4M193 51h3M198 51h1M188 52h3M195 52h1M176 53h1M195 53h2M204 53h1M207 53h2M210 53h1M215 53h2M211 54h5M217 54h1M178 55h2M218 55h1M218 56h1M177 57h1M224 57h2M177 58h1M219 58h1M222 58h1M224 58h1M226 58h1M228 59h1M173 60h3M172 61h1M232 61h1M169 62h1M171 62h1M230 62h2M238 62h2M167 63h1M170 63h2M233 63h2M242 63h1M166 64h1M171 64h1M226 64h1M235 64h1M241 64h4M230 65h1M235 65h1M238 65h2M245 65h1M165 66h1M232 66h1M234 66h2M246 66h1M164 67h1M174 67h1M227 67h1M236 67h1M246 67h3M163 68h1M172 68h2M248 68h1M250 68h1M253 68h1M373 68h1M171 69h1M373 69h2M164 70h1M170 70h1M164 71h1M167 71h1M169 71h1M260 71h1M261 72h2M265 72h1M316 72h1M162 73h2M319 73h1M163 74h2M167 74h1M311 74h1M164 75h3M264 75h1M270 75h1M272 75h2M163 76h1M265 76h2M268 76h1M271 76h3M313 76h1M269 77h3M313 77h3M159 78h1M163 78h2M167 78h1M272 78h2M275 78h2M281 78h1M311 78h2M342 78h2M159 79h3M163 79h3M275 79h2M278 79h1M285 79h1M311 79h2M343 79h2M159 80h2M162 80h1M168 80h1M274 80h1M278 80h1M281 80h1M284 80h3M310 80h2M344 80h1M89 81h1M160 81h1M166 81h2M279 81h1M311 81h1M344 81h1M160 82h1M278 82h2M283 82h1M310 82h1M315 82h1M336 82h1M160 83h1M283 83h1M314 83h3M88 84h1M159 84h1M295 84h4M322 84h2M318 85h2M322 85h1M324 85h2M319 86h2M322 86h1M324 86h1M331 86h1M338 86h1M161 87h1M287 87h1M300 87h1M304 87h1M319 87h2M326 87h2M329 87h1M338 87h2M297 88h1M299 88h3M319 88h2M342 88h1M9 89h1M88 89h1M160 89h1M162 89h1M298 89h1M301 89h2M319 89h1M324 89h2M346 89h1M9 90h3M20 90h1M301 90h2M319 90h1M324 90h2M346 90h2M349 90h1M9 91h2M12 91h1M19 91h2M87 91h1M160 91h1M298 91h1M301 91h2M319 91h2M322 91h1M346 91h1M10 92h3M87 92h1M104 92h1M160 92h1M297 92h2M300 92h1M314 92h1M325 92h1M345 92h2M11 93h1M92 93h2M159 93h1M297 93h2M318 93h1M321 93h1M15 94h1M159 94h1M298 94h1M301 94h1M303 94h2M312 94h1M315 94h1M318 94h2M91 95h1M160 95h1M301 95h1M303 95h1M305 95h1M310 95h1M315 95h1M5 96h1M13 96h1M15 96h1M160 96h1M299 96h1M301 96h1M303 96h2M306 96h1M309 96h1M314 96h1M317 96h2M345 96h1M4 97h3M9 97h1M12 97h1M94 97h1M300 97h2M303 97h1M305 97h1M308 97h1M316 97h1M318 97h1M330 97h1M7 98h1M89 98h1M159 98h1M306 98h1M318 98h2M322 98h1M328 98h1M5 99h3M12 99h2M158 99h2M300 99h1M307 99h1M321 99h1M6 100h1M9 100h1M14 100h1M160 100h1M307 100h1M325 100h1M160 101h1M305 101h1M6 102h1M8 102h1M10 102h2M13 102h1M299 102h2M303 102h1M326 102h1M328 102h1M6 103h1M9 103h2M12 103h2M160 103h1M164 103h1M248 103h2M299 103h1M330 103h1M332 103h1M338 103h1M5 104h3M161 104h2M164 104h1M247 104h1M334 104h1M340 104h1M346 104h1M6 105h3M19 105h1M161 105h2M246 105h2M250 105h1M300 105h1M340 105h1M343 105h4M7 106h2M164 106h1M248 106h1M298 106h3M337 106h1M341 106h1M7 107h1M22 107h1M165 107h1M335 107h2M340 107h2M344 107h1M8 108h1M12 108h1M250 108h2M296 108h1M342 108h4M24 109h1M245 109h2M250 109h1M340 109h1M15 110h2M24 110h1M245 110h3M250 110h1M292 110h1M296 110h1M346 110h1M15 111h1M25 111h1M79 111h1M160 111h1M162 111h1M182 111h1M291 111h2M296 111h1M344 111h1M161 112h1M167 112h1M290 112h2M295 112h1M15 113h1M160 113h1M168 113h2M248 113h1M291 113h1M16 114h1M29 114h1M168 114h1M290 114h1M293 114h1M16 115h1M171 115h2M286 115h1M16 116h2M30 116h1M285 116h3M16 117h2M277 117h2M285 117h1M287 117h1M167 118h2M279 118h3M285 118h1M337 118h1M340 118h1M344 118h1M289 119h1M337 119h1M341 119h1M161 120h1M163 120h1M166 120h1M277 120h1M286 120h1M19 121h1M32 121h1M164 121h1M166 121h2M247 121h1M278 121h1M19 122h1M161 122h4M180 122h1M229 122h1M247 122h1M278 122h1M284 122h1M286 122h2M159 123h4M168 123h1M183 123h2M228 123h1M230 123h2M277 123h1M19 124h1M159 124h1M165 124h3M229 124h1M232 124h1M246 124h2M277 124h1M33 125h1M158 125h2M163 125h3M230 125h2M245 125h3M252 125h1M276 125h1M159 126h2M167 126h1M272 126h1M276 126h1M161 127h1M272 127h1M276 127h1M331 127h1M333 127h1M335 127h1M345 127h1M22 128h2M271 128h1M328 128h1M332 128h1M336 128h1M346 128h1M22 129h3M32 129h1M173 129h1M224 129h1M271 129h1M327 129h1M330 129h1M334 129h1M338 129h6M22 130h2M29 130h2M224 130h1M228 130h1M268 130h1M272 130h1M327 130h1M332 130h3M339 130h1M22 131h1M162 131h1M268 131h1M270 131h1M276 131h2M326 131h3M339 131h1M342 131h3M23 132h1M26 132h1M163 132h1M228 132h1M257 132h2M262 132h4M267 132h1M273 132h1M327 132h3M338 132h1M341 132h1M23 133h1M164 133h1M228 133h1M261 133h5M269 133h4M322 133h1M327 133h2M338 133h1M341 133h1M347 133h1M22 134h3M225 134h1M228 134h1M258 134h1M262 134h1M321 134h1M23 135h1M29 135h1M166 135h1M168 135h3M225 135h1M254 135h2M257 135h1M267 135h3M338 135h2M345 135h2M23 136h1M30 136h1M170 136h2M246 136h3M254 136h1M260 136h1M272 136h2M320 136h1M344 136h1M154 137h1M171 137h4M228 137h1M249 137h1M254 137h1M259 137h2M271 137h1M317 137h2M343 137h2M158 138h1M167 138h1M226 138h2M240 138h1M250 138h5M317 138h1M24 139h1M173 139h2M226 139h1M247 139h2M252 139h3M260 139h2M269 139h1M274 139h1M310 139h1M318 139h1M339 139h1M32 140h1M227 140h3M247 140h1M252 140h3M261 140h1M269 140h1M271 140h1M273 140h1M311 140h1M315 140h1M318 140h1M338 140h1M172 141h2M247 141h2M272 141h2M316 141h2M338 141h1M171 142h2M227 142h1M267 142h1M304 142h1M310 142h1M317 142h2M338 142h2M25 143h1M175 143h1M234 143h1M239 143h2M243 143h2M268 143h1M302 143h1M304 143h1M310 143h2M313 143h2M317 143h1M324 143h1M338 143h2M28 144h1M35 144h1M173 144h1M176 144h1M226 144h1M233 144h2M240 144h1M263 144h2M268 144h1M303 144h2M313 144h1M324 144h1M339 144h1M35 145h1M176 145h5M229 145h1M237 145h1M240 145h1M255 145h1M264 145h1M268 145h1M304 145h1M311 145h2M325 145h1M336 145h1M30 146h1M37 146h1M173 146h1M176 146h1M229 146h2M238 146h2M309 146h1M312 146h4M317 146h1M174 147h1M177 147h1M180 147h1M229 147h2M236 147h2M259 147h2M268 147h1M309 147h1M311 147h1M313 147h1M316 147h1M318 147h1M174 148h1M176 148h1M180 148h1M231 148h1M234 148h2M238 148h1M243 148h1M259 148h1M261 148h3M267 148h2M317 148h1M179 149h1M227 149h1M230 149h3M235 149h2M241 149h2M254 149h1M259 149h1M262 149h2M265 149h1M267 149h1M269 149h1M271 149h1M311 149h1M317 149h1M30 150h2M230 150h3M235 150h1M251 150h2M256 150h1M259 150h3M263 150h1M269 150h1M271 150h2M315 150h1M319 150h1M177 151h1M229 151h1M249 151h1M253 151h1M255 151h1M258 151h1M260 151h2M263 151h1M265 151h1M270 151h2M314 151h2M321 151h1M323 151h1M157 152h1M177 152h1M229 152h1M231 152h2M234 152h1M237 152h1M242 152h1M248 152h1M261 152h1M270 152h1M317 152h1M321 152h2M324 152h1M177 153h3M234 153h1M236 153h1M243 153h1M246 153h1M257 153h1M262 153h1M270 153h1M272 153h1M317 153h1M320 153h1M322 153h1M177 154h1M243 154h1M246 154h2M257 154h1M263 154h1M265 154h1M316 154h1M322 154h1M324 154h1M176 155h2M233 155h1M236 155h1M244 155h2M264 155h1M276 155h1M315 155h1M321 155h2M324 155h1M176 156h1M237 156h1M242 156h1M256 156h2M260 156h1M264 156h1M321 156h2M174 157h1M223 157h2M232 157h1M237 157h1M259 157h1M274 157h1M321 157h1M324 157h2M225 158h1M233 158h1M237 158h1M242 158h1M253 158h2M267 158h2M273 158h1M322 158h1M325 158h1M223 159h1M234 159h1M241 159h1M244 159h2M247 159h2M252 159h1M257 159h1M263 159h1M265 159h1M269 159h1M272 159h1M326 159h1M213 160h1M223 160h1M234 160h2M237 160h4M243 160h1M255 160h3M263 160h1M265 160h1M267 160h1M323 160h1M232 161h2M236 161h1M240 161h2M244 161h1M251 161h2M254 161h1M266 161h2M174 162h1M229 162h1M232 162h1M242 162h1M244 162h1M247 162h4M254 162h2M174 163h1M230 163h1M246 163h2M266 163h1M269 163h2M173 164h1M175 164h2M241 164h1M245 164h1M247 164h1M252 164h2M256 164h1M269 164h2M171 165h2M174 165h1M243 165h2M249 165h3M254 165h1M256 165h1M266 165h1M269 165h2M174 166h2M212 166h1M232 166h1M244 166h1M246 166h1M250 166h1M211 167h1M232 167h1M243 167h1M246 167h1M269 167h1M170 168h1M192 168h1M211 168h1M220 168h1M224 168h2M227 168h2M243 168h3M251 168h1M265 168h1M271 168h1M274 168h1M171 169h5M211 169h1M220 169h1M222 169h1M231 169h1M241 169h3M251 169h1M260 169h1M265 169h2M268 169h3M274 169h1M168 170h2M173 170h1M183 170h2M191 170h1M212 170h1M223 170h2M226 170h1M228 170h1M230 170h1M232 170h2M252 170h2M260 170h1M265 170h2M168 171h2M182 171h1M184 171h2M191 171h1M212 171h1M221 171h3M230 171h3M257 171h1M260 171h1M267 171h1M182 172h1M184 172h2M210 172h2M215 172h1M222 172h1M224 172h1M231 172h1M256 172h3M260 172h1M267 172h1M175 173h1M182 173h1M212 173h1M215 173h1M222 173h1M225 173h3M257 173h2M173 174h4M185 174h1M213 174h2M223 174h4M228 174h1M257 174h1M171 175h1M173 175h1M175 175h1M179 175h1M184 175h1M186 175h1M188 175h1M221 175h2M227 175h2M230 175h1M232 175h1M169 176h1M171 176h1M177 176h1M184 176h1M187 176h2M221 176h1M233 176h1M169 177h2M172 177h1M174 177h1M177 177h1M187 177h1M201 177h1M228 177h2M233 177h1M169 178h1M172 178h1M176 178h1M182 178h1M187 178h1M200 178h2M227 178h1M230 178h4M169 179h2M173 179h3M187 179h1M210 179h1M227 179h1M230 179h2M169 180h2M176 180h1M178 180h1M180 180h1M184 180h1M191 180h1M209 180h2M227 180h1M229 180h1M167 181h4M176 181h1M179 181h1M184 181h2M170 182h1M185 182h2M213 182h1M225 182h1M231 182h2M169 183h1M171 183h1M178 183h2M182 183h1M184 183h2M213 183h1M233 183h2M260 183h1M169 184h1M171 184h1M186 184h1M207 184h2M226 184h1M234 184h2M239 184h1M154 185h1M169 185h2M208 185h1M210 185h1M213 185h1M234 185h2M238 185h1M169 186h1M174 186h1M235 186h1M237 186h1M240 186h2M169 187h1M174 187h1M186 187h1M236 187h1M249 188h1M173 189h2M188 189h1M221 189h2M244 189h2M164 190h1M239 190h1M243 190h1M246 190h1M239 191h1M247 191h1M247 192h1M249 192h2M257 192h1M249 193h2M258 193h1M172 194h1M252 194h1M258 194h1M173 195h1M258 195h1M171 196h1M250 196h1M256 196h4M256 197h1M169 198h1M250 200h2M184 201h2M221 201h1M246 201h1M183 202h3M221 202h2M226 202h1M186 203h3M221 203h2M228 203h1M245 203h1M227 204h2M231 204h1M224 205h2M241 205h3M246 205h1M252 205h1M247 206h2M250 206h2M242 207h1M245 207h2M248 207h1M253 207h1M235 208h1M253 208h1M188 209h1M250 209h1M322 209h2M189 210h1M250 210h1M188 211h2M188 213h1M189 215h1M327 215h1M190 216h1M325 216h1M191 217h1M323 218h1M322 219h1M320 220h1M308 221h1M320 221h1M322 222h2M324 224h1M323 225h1M184 228h2M316 228h3M321 228h1M186 229h1M319 229h2M184 230h1M320 230h1M184 231h1M316 231h1M320 231h1M178 232h1M178 233h1M179 234h1M324 234h1M181 235h2M324 235h1M182 236h1M323 236h1M325 236h2M179 238h2"/>
<path stroke="#c4e38d" d="M192 46h1M190 47h1M193 47h1M188 48h1M190 48h1M187 49h3M192 49h1M185 50h2M192 50h2M177 51h3M184 51h2M200 51h1M176 52h1M193 52h2M198 52h1M190 53h1M193 53h2M201 53h1M177 54h1M179 54h1M192 54h2M206 54h1M209 54h1M216 54h1M177 55h1M180 55h1M193 55h1M211 55h2M215 55h1M217 55h1M177 56h1M192 56h1M218 57h1M225 58h1M176 59h1M224 59h4M176 60h1M225 60h2M229 60h1M173 61h1M226 61h1M229 61h1M170 62h1M172 62h1M226 62h2M229 62h1M232 62h1M166 63h1M227 63h1M243 63h1M229 64h1M234 64h1M172 65h1M174 65h1M226 65h1M229 65h1M234 65h1M236 65h2M240 65h1M244 65h1M173 66h2M229 66h1M233 66h1M238 66h3M245 66h1M226 67h1M228 67h1M234 67h2M237 67h1M241 67h1M245 67h1M373 67h1M174 68h1M228 68h1M235 68h2M247 68h1M251 68h2M374 68h1M98 69h1M247 69h2M253 69h1M166 70h1M171 70h1M227 70h1M239 70h2M166 71h1M170 71h1M169 72h1M259 72h2M262 73h4M168 74h1M265 74h1M309 75h4M166 76h1M264 76h1M267 76h1M308 76h2M163 77h1M167 77h1M312 77h1M274 78h1M286 78h2M313 78h2M168 79h1M307 79h1M310 79h1M161 80h1M165 80h1M279 80h2M309 80h1M161 81h2M165 81h1M274 81h1M282 81h2M285 81h1M309 81h1M90 82h1M166 82h1M275 82h1M280 82h1M282 82h1M284 82h2M314 82h1M335 82h1M90 83h1M276 83h5M282 83h1M284 83h2M297 83h2M333 83h1M337 83h1M160 84h2M162 85h1M297 85h2M316 85h2M299 86h2M318 86h1M321 86h1M325 86h1M330 86h1M336 86h2M344 86h2M162 87h1M288 87h1M290 87h1M292 87h1M298 87h2M303 87h1M305 87h1M318 87h1M321 87h3M325 87h1M330 87h3M337 87h1M344 87h2M161 88h2M291 88h1M302 88h1M311 88h2M326 88h5M343 88h2M161 89h1M297 89h1M299 89h2M320 89h1M323 89h1M326 89h1M342 89h3M160 90h1M162 90h1M300 90h1M303 90h2M320 90h1M323 90h1M343 90h1M345 90h1M348 90h1M11 91h1M299 91h1M304 91h2M318 91h1M325 91h1M345 91h1M347 91h1M350 91h1M318 92h1M324 92h1M329 92h1M347 92h1M10 93h1M160 93h1M315 93h3M322 93h1M329 93h1M345 93h3M350 93h1M6 94h1M12 94h3M90 94h1M96 94h1M160 94h1M297 94h1M302 94h1M311 94h1M316 94h2M327 94h1M347 94h1M350 94h1M15 95h1M94 95h1M302 95h1M316 95h4M325 95h2M343 95h1M345 95h1M9 96h1M14 96h1M302 96h1M316 96h1M319 96h2M325 96h2M329 96h2M343 96h2M346 96h2M10 97h2M89 97h1M160 97h1M299 97h1M304 97h1M306 97h2M315 97h1M319 97h2M325 97h1M328 97h1M346 97h2M8 98h1M93 98h1M160 98h1M299 98h5M305 98h1M320 98h2M323 98h3M329 98h1M8 99h1M160 99h1M306 99h1M328 99h1M334 99h2M344 99h1M12 100h2M300 100h1M328 100h1M333 100h2M13 101h1M161 101h1M163 101h1M300 101h1M304 101h1M326 101h4M333 101h2M9 102h1M16 102h1M160 102h3M164 102h1M302 102h1M304 102h1M332 102h2M345 102h2M7 103h2M11 103h1M17 103h1M161 103h2M250 103h1M329 103h1M345 103h2M8 104h1M17 104h1M165 104h1M246 104h1M250 104h1M338 104h1M345 104h1M5 105h1M18 105h1M164 105h1M251 105h2M338 105h1M341 105h1M14 106h1M20 106h1M247 106h1M249 106h1M297 106h1M335 106h1M8 107h1M13 107h2M251 107h1M296 107h1M13 108h2M22 108h1M166 108h1M204 108h1M245 108h2M248 108h2M340 108h2M15 109h2M23 109h1M204 109h1M244 109h1M247 109h3M251 109h1M296 109h1M343 109h2M248 110h2M291 110h1M293 110h1M342 110h4M16 111h1M161 111h1M167 111h1M181 111h1M246 111h3M290 111h1M293 111h1M345 111h1M16 112h1M26 112h1M160 112h1M168 112h1M246 112h3M289 112h1M292 112h1M345 112h1M27 113h1M247 113h1M290 113h1M292 113h1M294 113h1M345 113h1M169 114h2M219 114h1M248 114h1M287 114h3M345 114h1M168 115h1M173 115h1M195 115h1M219 115h1M167 116h1M172 116h3M195 116h1M277 116h1M167 117h1M173 117h2M182 117h2M188 117h1M284 117h1M338 117h2M17 118h1M31 118h1M169 118h1M172 118h3M284 118h1M338 118h2M341 118h1M170 119h1M172 119h1M188 119h2M243 119h1M285 119h1M338 119h2M17 120h3M162 120h1M170 120h1M276 120h1M283 120h1M161 121h1M163 121h1M169 121h1M179 121h1M181 121h1M183 121h1M228 121h2M246 121h1M276 121h1M286 121h1M169 122h2M179 122h1M181 122h1M183 122h2M190 122h1M228 122h1M230 122h1M243 122h2M251 122h1M275 122h3M285 122h1M179 123h4M232 123h1M243 123h1M160 124h3M168 124h1M179 124h3M183 124h2M228 124h1M233 124h1M248 124h1M160 125h1M168 125h1M180 125h1M229 125h1M232 125h1M248 125h1M251 125h1M273 125h3M21 126h1M24 126h1M33 126h1M158 126h1M161 126h1M163 126h1M166 126h1M180 126h1M231 126h1M252 126h2M270 126h2M23 127h2M33 127h1M162 127h2M170 127h2M225 127h1M332 127h1M24 128h1M161 128h3M172 128h2M224 128h1M270 128h1M329 128h3M25 129h2M164 129h2M172 129h1M179 129h1M227 129h2M265 129h1M328 129h2M161 130h2M164 130h1M178 130h2M225 130h1M265 130h1M269 130h3M328 130h1M331 130h1M335 130h1M338 130h1M340 130h2M344 130h1M163 131h1M178 131h1M228 131h1M257 131h2M263 131h5M271 131h1M273 131h1M334 131h2M338 131h1M340 131h2M22 132h1M164 132h1M227 132h1M252 132h2M261 132h1M266 132h1M271 132h1M324 132h1M337 132h1M339 132h1M22 133h1M25 133h1M165 133h1M225 133h1M229 133h2M250 133h2M256 133h1M260 133h1M266 133h2M331 133h1M337 133h1M346 133h1M27 134h1M166 134h2M226 134h2M229 134h1M241 134h1M248 134h1M254 134h1M256 134h1M259 134h3M267 134h3M327 134h2M330 134h2M338 134h3M346 134h1M24 135h1M171 135h1M224 135h1M228 135h1M247 135h1M259 135h3M321 135h1M332 135h2M172 136h1M174 136h2M224 136h2M229 136h1M239 136h1M257 136h1M259 136h1M338 136h1M345 136h1M30 137h1M175 137h1M225 137h1M232 137h1M240 137h1M274 137h1M319 137h3M338 137h1M23 138h1M224 138h2M239 138h1M246 138h1M248 138h2M257 138h5M273 138h2M318 138h1M321 138h1M339 138h1M31 139h1M175 139h1M224 139h2M235 139h1M240 139h1M244 139h1M246 139h1M251 139h1M256 139h1M259 139h1M271 139h1M25 140h1M180 140h1M225 140h2M232 140h1M237 140h1M246 140h1M248 140h1M251 140h1M255 140h1M260 140h1M270 140h1M313 140h2M180 141h1M227 141h2M246 141h1M249 141h1M253 141h1M263 141h1M266 141h1M311 141h1M318 141h1M173 142h2M234 142h1M239 142h2M246 142h2M249 142h2M311 142h3M324 142h1M26 143h1M173 143h1M226 143h1M235 143h1M238 143h1M241 143h2M245 143h2M262 143h1M303 143h1M312 143h1M315 143h2M318 143h1M320 143h2M337 143h1M29 144h1M175 144h1M225 144h1M236 144h1M239 144h1M241 144h3M255 144h1M310 144h3M314 144h3M337 144h1M30 145h1M33 145h2M174 145h2M181 145h1M226 145h1M244 145h1M256 145h1M258 145h1M267 145h1M309 145h2M314 145h1M316 145h1M324 145h1M337 145h1M35 146h2M175 146h1M179 146h2M226 146h1M244 146h1M255 146h1M259 146h1M264 146h1M318 146h1M324 146h2M35 147h2M175 147h2M226 147h1M244 147h1M258 147h1M261 147h3M267 147h1M312 147h1M175 148h1M226 148h1M229 148h2M232 148h2M236 148h2M258 148h1M266 148h1M311 148h2M315 148h2M318 148h1M225 149h2M228 149h2M233 149h2M240 149h1M243 149h1M253 149h1M255 149h1M258 149h1M264 149h1M268 149h1M315 149h2M318 149h1M178 150h2M225 150h3M229 150h1M236 150h1M242 150h1M247 150h3M257 150h2M262 150h1M267 150h1M320 150h1M178 151h3M235 151h1M239 151h1M242 151h2M246 151h1M256 151h1M262 151h1M266 151h4M322 151h1M324 151h1M178 152h2M225 152h1M233 152h1M235 152h1M243 152h1M246 152h1M251 152h2M255 152h1M257 152h1M262 152h2M269 152h1M315 152h2M325 152h2M224 153h2M229 153h2M232 153h2M244 153h1M248 153h1M263 153h2M315 153h2M321 153h1M325 153h1M178 154h2M230 154h4M244 154h2M248 154h1M266 154h1M270 154h2M315 154h1M320 154h1M178 155h2M230 155h3M243 155h1M257 155h3M265 155h1M267 155h4M274 155h1M224 156h2M232 156h4M243 156h2M266 156h2M269 156h1M274 156h2M325 156h1M218 157h2M225 157h1M231 157h1M234 157h2M243 157h1M248 157h1M253 157h1M256 157h1M260 157h4M322 157h2M174 158h3M218 158h2M222 158h1M226 158h1M230 158h1M234 158h3M243 158h1M246 158h1M249 158h1M252 158h1M255 158h4M269 158h1M271 158h2M324 158h1M326 158h1M174 159h1M219 159h2M228 159h3M236 159h3M242 159h2M249 159h3M258 159h1M266 159h1M271 159h1M324 159h1M174 160h1M214 160h1M219 160h1M222 160h1M224 160h1M228 160h1M236 160h1M241 160h2M251 160h2M258 160h1M266 160h1M269 160h2M174 161h2M213 161h2M221 161h1M223 161h1M228 161h1M243 161h1M255 161h1M265 161h1M175 162h1M214 162h1M221 162h1M223 162h1M266 162h1M175 163h2M256 163h1M174 164h1M177 164h1M230 164h1M242 164h1M265 164h1M173 165h1M176 165h1M230 165h2M245 165h2M253 165h1M265 165h1M176 166h1M208 166h4M213 166h2M245 166h1M251 166h1M255 166h5M262 166h9M174 167h3M192 167h1M195 167h1M224 167h1M244 167h2M251 167h1M257 167h2M262 167h1M265 167h1M268 167h1M270 167h1M174 168h2M191 168h1M226 168h1M229 168h4M268 168h3M183 169h1M190 169h4M223 169h1M229 169h2M232 169h1M254 169h1M257 169h1M176 170h1M182 170h1M202 170h1M211 170h1M215 170h1M220 170h1M225 170h1M229 170h1M186 171h1M215 171h1M219 171h2M224 171h1M227 171h3M256 171h1M265 171h2M175 172h1M181 172h1M186 172h1M192 172h3M209 172h1M216 172h1M219 172h3M225 172h1M227 172h2M230 172h1M265 172h1M184 173h2M193 173h2M209 173h1M219 173h3M228 173h3M266 173h1M180 174h1M183 174h2M186 174h1M188 174h3M210 174h3M215 174h1M221 174h2M229 174h2M170 175h1M174 175h1M187 175h1M189 175h1M212 175h3M223 175h2M226 175h1M229 175h1M170 176h1M174 176h2M209 176h1M222 176h1M230 176h3M173 177h1M180 177h1M221 177h1M230 177h3M173 178h3M177 178h1M183 178h1M211 178h1M176 179h2M191 179h1M200 179h2M209 179h1M211 179h1M225 179h2M167 180h2M177 180h1M192 180h1M217 180h1M226 180h1M230 180h2M177 181h2M186 181h1M225 181h7M177 182h3M184 182h1M187 182h2M210 182h3M227 182h1M230 182h1M170 183h1M177 183h1M181 183h1M183 183h1M187 183h1M207 183h2M225 183h1M231 183h2M170 184h1M176 184h1M184 184h2M187 184h1M209 184h1M225 184h1M185 185h2M202 185h1M205 185h3M225 185h2M233 185h1M239 185h1M186 186h1M211 186h1M233 186h2M173 187h1M179 187h1M187 187h1M235 187h1M240 187h1M174 188h1M187 188h2M238 188h1M187 189h1M237 189h1M239 189h1M241 189h1M187 190h1M221 190h1M241 190h1M238 191h1M187 192h1M191 192h1M239 192h1M172 193h2M188 193h1M248 193h1M251 193h1M214 194h1M250 194h2M201 195h1M173 196h1M187 196h2M249 196h1M251 196h2M248 197h1M170 198h2M248 198h2M169 199h3M223 199h2M249 200h1M183 201h1M186 201h1M220 201h1M222 201h1M226 201h2M186 202h1M227 202h2M243 202h1M189 203h1M217 203h1M225 203h1M227 203h1M229 203h1M244 203h1M189 204h1M221 204h1M224 204h3M189 205h1M226 205h1M247 205h1M189 206h1M233 206h1M246 206h1M249 206h1M189 207h1M234 207h1M241 207h1M243 207h2M250 207h2M244 208h1M250 208h3M238 209h1M251 209h1M190 211h1M188 212h2M189 213h1M189 214h1M191 216h1M324 217h1M323 219h1M321 222h1M323 226h1M321 229h1M185 230h1M185 231h2M184 232h1M179 233h1M184 233h1M187 233h1M323 233h1M180 235h1M183 235h1M187 235h1M325 235h1M324 236h1M182 237h1M324 237h1M181 238h2M186 238h1M182 239h1M185 239h1"/>
<path stroke="#cce490" d="M189 47h1M192 47h1M185 48h2M189 48h1M180 51h1M183 51h1M186 51h1M199 51h1M177 52h1M184 52h1M187 52h1M188 53h2M197 53h1M178 54h1M180 54h1M191 54h1M194 54h1M196 54h1M202 54h4M207 54h2M210 54h1M181 55h1M189 55h1M192 55h1M202 55h1M213 55h2M216 55h1M178 56h1M188 56h4M202 56h1M211 56h2M217 56h1M184 57h2M187 57h1M217 57h1M183 58h1M218 58h1M177 59h1M221 59h1M223 59h1M222 60h3M227 60h2M222 61h2M227 61h2M228 62h1M172 63h1M226 63h1M229 63h4M172 64h3M227 64h1M230 64h2M233 64h1M173 65h1M232 65h1M241 65h3M175 66h1M226 66h3M236 66h2M241 66h1M244 66h1M175 67h1M229 67h3M233 67h1M240 67h1M227 68h1M231 68h1M237 68h1M246 68h1M172 69h1M227 69h2M252 69h1M165 70h1M228 70h1M241 70h1M247 70h2M252 70h1M165 71h1M171 71h1M227 71h1M239 71h3M247 71h2M251 71h1M170 72h1M243 72h2M250 72h2M169 73h1M245 73h1M261 73h1M263 74h2M250 75h1M260 75h1M263 75h1M250 76h1M263 76h1M310 76h3M263 77h1M266 77h1M268 77h1M309 77h3M168 78h1M269 78h3M306 78h2M310 78h1M273 79h2M286 79h1M308 79h2M313 79h1M90 80h1M163 80h2M169 80h1M273 80h1M303 80h2M307 80h2M312 80h1M90 81h1M163 81h2M168 81h1M280 81h2M284 81h1M303 81h1M314 81h1M89 82h1M161 82h3M165 82h1M281 82h1M299 82h1M311 82h1M313 82h1M161 83h1M281 83h1M299 83h1M310 83h1M313 83h1M334 83h1M336 83h1M162 84h1M282 84h2M299 84h1M302 84h1M313 84h1M333 84h1M338 84h1M237 85h1M283 85h2M295 85h2M302 85h1M313 85h1M333 85h1M336 85h1M338 85h1M162 86h1M282 86h3M298 86h1M302 86h3M317 86h1M333 86h1M239 87h1M285 87h2M291 87h1M297 87h1M301 87h2M310 87h2M324 87h1M287 88h2M296 88h1M303 88h2M310 88h1M318 88h1M321 88h2M325 88h1M331 88h2M341 88h1M345 88h1M291 89h1M303 89h2M311 89h2M318 89h1M321 89h2M327 89h1M345 89h1M161 90h1M292 90h1M298 90h2M305 90h1M318 90h1M321 90h2M326 90h1M344 90h1M161 91h1M297 91h1M300 91h1M303 91h1M306 91h1M311 91h1M324 91h1M326 91h2M349 91h1M351 91h1M161 92h1M302 92h1M305 92h2M311 92h1M313 92h1M315 92h1M317 92h1M323 92h1M326 92h3M330 92h1M344 92h1M350 92h1M9 93h1M296 93h1M302 93h1M304 93h1M311 93h2M324 93h2M327 93h2M330 93h1M348 93h1M10 94h2M95 94h1M305 94h1M320 94h1M326 94h1M344 94h2M348 94h1M10 95h1M12 95h3M298 95h1M306 95h1M320 95h1M327 95h1M347 95h1M350 95h1M10 96h1M12 96h1M91 96h1M247 96h1M298 96h1M307 96h2M315 96h1M321 96h1M327 96h1M348 96h1M7 97h2M295 97h1M298 97h1M321 97h2M326 97h1M337 97h2M345 97h1M348 97h1M290 98h1M294 98h2M304 98h1M330 98h1M335 98h1M290 99h1M299 99h1M301 99h1M303 99h3M325 99h1M333 99h1M342 99h2M5 100h1M161 100h1M250 100h1M301 100h1M305 100h2M327 100h1M329 100h1M335 100h1M341 100h2M344 100h3M15 101h1M162 101h1M164 101h2M251 101h2M293 101h1M295 101h1M330 101h1M332 101h1M341 101h1M345 101h1M165 102h1M248 102h2M251 102h2M301 102h1M329 102h1M331 102h1M334 102h1M338 102h5M14 103h1M16 103h1M165 103h2M247 103h1M251 103h1M253 103h1M333 103h2M337 103h1M340 103h1M342 103h1M14 104h1M166 104h1M251 104h1M253 104h3M295 104h1M299 104h1M335 104h3M341 104h3M14 105h1M245 105h1M253 105h1M255 105h1M335 105h1M246 106h1M250 106h3M296 106h1M336 106h1M21 107h1M246 107h5M252 107h1M295 107h1M15 108h1M21 108h1M205 108h1M243 108h2M247 108h1M252 108h1M295 108h1M22 109h1M205 109h1M243 109h1M292 109h2M295 109h1M341 109h2M345 109h1M167 110h1M181 110h2M244 110h1M251 110h1M290 110h1M294 110h2M24 111h1M245 111h1M249 111h2M289 111h1M294 111h2M346 111h1M25 112h1M169 112h1M181 112h2M206 112h2M249 112h1M293 112h2M346 112h1M16 113h1M170 113h1M172 113h1M181 113h1M186 113h4M196 113h2M207 113h2M246 113h1M249 113h1M288 113h2M293 113h1M17 114h1M171 114h2M184 114h3M211 114h1M218 114h1M246 114h2M249 114h1M286 114h1M17 115h1M29 115h1M184 115h3M194 115h1M196 115h1M211 115h1M218 115h1M220 115h1M248 115h2M278 115h1M284 115h2M168 116h1M171 116h1M182 116h3M186 116h2M278 116h1M283 116h2M168 117h1M175 117h1M177 117h2M184 117h1M186 117h2M189 117h1M212 117h1M281 117h3M18 118h1M170 118h2M175 118h1M177 118h2M183 118h4M188 118h2M241 118h4M282 118h1M17 119h1M31 119h1M171 119h1M173 119h3M183 119h1M185 119h2M190 119h1M242 119h1M244 119h1M276 119h1M282 119h1M284 119h1M175 120h2M180 120h2M183 120h1M188 120h2M234 120h2M284 120h2M162 121h1M170 121h1M175 121h4M182 121h1M184 121h1M189 121h2M211 121h3M227 121h1M230 121h1M234 121h2M243 121h3M248 121h2M275 121h1M277 121h1M284 121h1M174 122h2M178 122h1M182 122h1M185 122h1M189 122h1M191 122h1M211 122h1M231 122h2M235 122h1M246 122h1M250 122h1M252 122h1M169 123h1M185 123h1M188 123h3M233 123h1M244 123h1M247 123h1M250 123h3M276 123h1M182 124h1M234 124h1M243 124h3M251 124h2M276 124h1M20 125h1M161 125h2M181 125h1M184 125h1M241 125h4M253 125h1M271 125h2M22 126h2M162 126h1M164 126h2M168 126h4M190 126h2M194 126h1M225 126h2M241 126h3M250 126h2M22 127h1M169 127h1M218 127h1M224 127h1M226 127h1M231 127h1M242 127h1M252 127h1M269 127h1M164 128h1M171 128h1M225 128h1M227 128h1M266 128h2M269 128h1M27 129h2M31 129h1M161 129h3M166 129h1M174 129h1M178 129h1M219 129h1M223 129h1M225 129h1M232 129h1M268 129h1M335 129h1M337 129h1M163 130h1M165 130h2M219 130h1M223 130h1M227 130h1M229 130h1M232 130h1M257 130h1M264 130h1M329 130h2M342 130h2M164 131h1M177 131h1M222 131h4M252 131h2M261 131h2M272 131h1M329 131h5M336 131h1M177 132h2M226 132h1M229 132h1M231 132h1M254 132h3M259 132h2M272 132h1M325 132h2M331 132h1M334 132h3M340 132h1M26 133h1M226 133h2M241 133h2M249 133h1M252 133h2M259 133h1M323 133h1M326 133h1M335 133h1M339 133h2M25 134h2M168 134h1M224 134h1M230 134h1M240 134h1M242 134h2M245 134h1M255 134h1M326 134h1M329 134h1M332 134h1M175 135h1M222 135h1M226 135h2M229 135h2M239 135h2M243 135h4M258 135h1M331 135h1M337 135h1M24 136h1M173 136h1M176 136h1M223 136h1M228 136h1M235 136h2M238 136h1M240 136h1M245 136h1M258 136h1M321 136h1M23 137h1M224 137h1M226 137h2M239 137h1M246 137h3M257 137h2M272 137h2M335 137h1M337 137h1M175 138h1M232 138h1M243 138h2M247 138h1M270 138h3M319 138h2M338 138h1M176 139h1M182 139h1M236 139h4M243 139h1M245 139h1M249 139h2M257 139h2M338 139h1M176 140h1M181 140h1M224 140h1M235 140h2M238 140h1M244 140h2M249 140h1M256 140h1M312 140h1M26 141h1M176 141h1M181 141h1M225 141h2M234 141h1M237 141h4M244 141h2M250 141h3M254 141h1M258 141h1M261 141h2M264 141h2M315 141h1M26 142h1M226 142h1M235 142h1M237 142h2M241 142h4M248 142h1M251 142h1M266 142h1M314 142h3M319 142h1M34 143h1M174 143h1M177 143h1M247 143h1M261 143h1M263 143h1M267 143h1M34 144h1M174 144h1M177 144h1M180 144h2M237 144h2M244 144h3M256 144h1M258 144h5M267 144h1M317 144h1M320 144h2M338 144h1M31 145h2M225 145h1M238 145h2M254 145h1M257 145h1M259 145h1M261 145h1M263 145h1M265 145h1M315 145h1M317 145h1M321 145h1M335 145h1M339 145h1M174 146h1M249 146h1M256 146h1M258 146h1M260 146h3M265 146h1M267 146h1M337 146h1M225 147h1M264 147h1M224 148h2M244 148h1M264 148h2M334 148h1M224 149h1M237 149h1M239 149h1M250 149h1M252 149h1M256 149h2M321 149h3M334 149h1M180 150h1M224 150h1M228 150h1M237 150h1M241 150h1M243 150h4M268 150h1M321 150h1M323 150h2M327 150h1M223 151h3M236 151h1M240 151h2M244 151h2M257 151h1M327 151h1M330 151h1M180 152h1M223 152h2M236 152h1M244 152h1M249 152h2M253 152h2M256 152h1M264 152h5M327 152h1M226 153h1M231 153h1M245 153h1M253 153h4M265 153h2M269 153h1M326 153h1M225 154h2M250 154h1M254 154h1M267 154h3M273 154h1M321 154h1M325 154h1M329 154h1M225 155h1M246 155h1M266 155h1M271 155h1M275 155h1M177 156h3M218 156h1M223 156h1M230 156h1M236 156h1M245 156h1M255 156h1M258 156h2M265 156h1M268 156h1M270 156h1M177 157h1M226 157h1M233 157h1M236 157h1M244 157h1M247 157h1M249 157h1M252 157h1M254 157h2M257 157h2M264 157h1M266 157h2M269 157h2M273 157h1M326 157h2M220 158h1M227 158h3M244 158h2M247 158h2M259 158h1M261 158h6M270 158h1M323 158h1M213 159h6M225 159h2M235 159h1M262 159h1M270 159h1M323 159h1M215 160h1M218 160h1M220 160h1M227 160h1M249 160h2M262 160h1M176 161h1M215 161h1M220 161h1M224 161h1M242 161h1M249 161h2M263 161h2M213 162h1M215 162h1M243 162h1M256 162h1M177 163h1M214 163h2M219 163h4M224 163h1M229 163h1M265 163h1M214 164h1M219 164h2M229 164h1M246 164h1M177 165h1M208 165h1M229 165h1M252 165h1M257 165h1M263 165h2M171 166h3M177 166h1M207 166h1M227 166h1M229 166h1M231 166h1M254 166h1M260 166h2M171 167h1M173 167h1M177 167h1M191 167h1M210 167h1M215 167h1M221 167h1M225 167h5M231 167h1M255 167h2M259 167h3M266 167h1M171 168h3M176 168h4M182 168h2M190 168h1M195 168h1M200 168h2M215 168h1M222 168h1M252 168h1M255 168h2M260 168h2M266 168h2M178 169h5M184 169h1M194 169h1M200 169h3M210 169h1M219 169h1M252 169h2M258 169h2M177 170h1M181 170h1M190 170h1M192 170h2M201 170h1M208 170h1M210 170h1M219 170h1M176 171h1M181 171h1M187 171h1M190 171h1M192 171h4M202 171h1M208 171h4M216 171h1M225 171h2M191 172h1M195 172h1M199 172h1M218 172h1M226 172h1M229 172h1M266 172h1M176 173h1M180 173h2M186 173h1M190 173h1M207 173h1M216 173h1M218 173h1M182 174h1M187 174h1M193 174h2M202 174h1M207 174h1M219 174h2M180 175h1M183 175h1M202 175h1M206 175h2M209 175h3M215 175h1M225 175h1M176 176h1M183 176h1M189 176h1M200 176h2M210 176h1M212 176h1M216 176h1M227 176h3M175 177h2M181 177h3M188 177h1M194 177h1M202 177h1M211 177h2M220 177h1M222 177h1M188 178h3M199 178h1M202 178h1M212 178h1M216 178h1M219 178h3M225 178h2M188 179h3M199 179h1M215 179h3M181 180h1M187 180h1M201 180h1M211 180h1M215 180h1M218 180h1M225 180h1M180 181h1M187 181h2M191 181h3M209 181h6M180 182h1M183 182h1M191 182h1M224 182h1M228 182h2M180 183h1M188 183h1M191 183h1M209 183h1M227 183h1M177 184h1M180 184h2M191 184h1M206 184h1M214 184h1M231 184h1M233 184h1M190 185h1M204 185h1M209 185h1M218 185h1M224 185h1M227 185h2M231 185h1M187 186h1M191 186h1M194 186h1M205 186h1M208 186h1M212 186h1M224 186h2M232 186h1M238 186h1M191 187h3M232 187h3M237 187h1M173 188h1M186 188h1M221 188h2M231 188h2M236 188h2M239 188h2M189 189h1M236 189h1M240 189h1M186 190h1M219 190h2M222 190h1M237 190h1M240 190h1M244 190h2M187 191h1M219 191h4M243 191h1M246 191h1M188 192h1M190 192h1M211 192h2M187 193h1M212 193h1M247 193h1M173 194h1M201 194h1M215 194h1M249 194h1M188 195h1M200 195h1M202 195h1M250 195h3M185 196h2M189 196h3M190 197h2M190 198h1M223 198h1M173 199h1M225 199h1M227 199h2M250 199h1M177 200h1M221 200h4M227 200h3M247 200h2M217 201h3M228 201h2M232 201h2M244 201h2M187 202h2M217 202h4M223 202h3M231 202h2M218 203h1M223 203h2M226 203h1M230 203h2M234 203h1M239 203h1M243 203h1M217 204h2M222 204h1M238 204h4M243 204h1M190 205h1M221 205h3M252 206h2M240 207h1M249 207h1M252 207h1M189 208h1M191 208h1M236 208h1M239 208h2M242 208h2M248 208h1M189 209h1M237 209h1M239 209h1M249 209h1M190 210h1M190 212h1M192 216h1M326 216h1M328 216h1M321 220h1M324 222h1M330 223h1M325 224h1M330 224h1M324 225h1M322 227h1M184 229h2M322 229h1M321 230h3M185 232h2M321 232h1M322 233h1M324 233h1M181 234h1M184 234h1M187 234h1M184 235h1M186 235h1M326 235h3M183 236h1M186 236h1M186 237h1M323 237h1M184 239h1"/>
<path stroke="#d4e492" d="M185 49h2M181 51h2M178 52h3M183 52h1M185 52h2M200 52h1M177 53h1M179 53h1M183 53h3M187 53h1M183 54h2M188 54h3M195 54h1M197 54h1M201 54h1M184 55h1M188 55h1M190 55h2M194 55h1M197 55h2M203 55h4M209 55h2M179 56h3M184 56h2M197 56h1M215 56h2M183 57h1M186 57h1M188 57h1M192 57h1M216 57h1M178 58h1M182 58h1M184 58h1M220 59h1M222 59h1M177 60h1M221 60h1M174 61h3M225 61h1M173 62h1M173 63h1M228 63h1M228 64h1M232 64h1M175 65h1M225 65h1M227 65h1M233 65h1M232 67h1M238 67h2M244 67h1M175 68h1M226 68h1M229 68h1M232 68h1M234 68h1M240 68h2M245 68h1M236 69h1M238 69h3M246 69h1M249 69h1M238 70h1M246 70h1M251 70h1M253 70h1M228 71h1M242 71h1M246 71h1M249 71h2M252 71h1M171 72h1M240 72h3M245 72h3M249 72h1M252 72h1M170 73h4M235 73h1M244 73h1M246 73h1M250 73h2M259 73h1M171 74h3M245 74h2M260 74h3M167 75h1M249 75h1M261 75h1M94 76h1M167 76h1M249 76h1M262 76h1M262 77h1M264 77h2M268 78h1M269 79h2M272 79h1M304 79h1M306 79h1M314 79h1M314 80h1M304 81h1M307 81h2M312 81h2M164 82h1M167 82h1M272 82h1M274 82h1M302 82h1M306 82h1M309 82h1M162 83h1M272 83h2M275 83h1M301 83h2M306 83h2M309 83h1M311 83h1M335 83h1M163 84h1M237 84h1M277 84h5M284 84h2M300 84h2M306 84h2M309 84h4M334 84h1M336 84h1M88 85h1M282 85h1M294 85h1M299 85h3M310 85h3M335 85h1M337 85h1M281 86h1M292 86h1M297 86h1M301 86h1M305 86h1M310 86h3M314 86h3M335 86h1M238 87h1M240 87h1M276 87h1M282 87h2M293 87h1M309 87h1M312 87h1M317 87h1M333 87h1M336 87h1M239 88h1M286 88h1M289 88h1M305 88h1M317 88h1M323 88h2M333 88h2M337 88h4M163 89h1M287 89h2M294 89h1M296 89h1M305 89h1M316 89h2M328 89h1M163 90h1M238 90h1M291 90h1M293 90h1M297 90h1M306 90h1M312 90h1M317 90h1M327 90h1M342 90h1M162 91h1M238 91h1M291 91h1M307 91h1M312 91h3M317 91h1M323 91h1M328 91h1M330 91h1M344 91h1M348 91h1M162 92h1M296 92h1M304 92h1M307 92h1M312 92h1M316 92h1M348 92h2M161 93h1M303 93h1M305 93h2M323 93h1M326 93h1M341 93h1M344 93h1M349 93h1M7 94h3M296 94h1M310 94h1M321 94h1M324 94h2M328 94h1M330 94h2M343 94h1M346 94h1M349 94h1M6 95h1M9 95h1M11 95h1M161 95h1M245 95h3M307 95h3M321 95h1M324 95h1M330 95h1M346 95h1M348 95h1M6 96h1M8 96h1M11 96h1M161 96h1M246 96h1M248 96h1M295 96h1M322 96h1M324 96h1M328 96h1M335 96h1M342 96h1M350 96h1M161 97h1M237 97h1M247 97h1M294 97h1M323 97h2M327 97h1M331 97h1M339 97h1M90 98h1M289 98h1M291 98h1M293 98h1M326 98h2M331 98h1M334 98h1M336 98h12M248 99h1M291 99h1M302 99h1M327 99h1M329 99h1M336 99h1M341 99h1M345 99h3M162 100h2M165 100h1M243 100h2M248 100h2M251 100h1M299 100h1M304 100h1M326 100h1M330 100h3M343 100h1M14 101h1M166 101h1M244 101h1M248 101h3M253 101h1M294 101h1M299 101h1M301 101h1M303 101h1M331 101h1M335 101h1M339 101h2M342 101h1M346 101h1M14 102h2M166 102h2M250 102h1M253 102h1M295 102h1M298 102h1M330 102h1M335 102h3M344 102h1M347 102h1M15 103h1M167 103h1M252 103h1M254 103h1M295 103h1M335 103h2M341 103h1M343 103h1M16 104h1M167 104h1M245 104h1M252 104h1M256 104h1M344 104h1M17 105h1M165 105h1M169 105h1M254 105h1M259 105h1M295 105h2M299 105h1M337 105h1M19 106h1M165 106h1M245 106h1M253 106h1M295 106h1M15 107h1M204 107h1M245 107h1M16 108h1M253 108h1M292 108h3M21 109h1M167 109h1M252 109h2M291 109h1M294 109h1M23 110h1M79 110h1M180 110h1M198 110h1M252 110h2M199 111h2M206 111h2M17 112h1M24 112h1M170 112h1M183 112h1M186 112h1M196 112h2M241 112h1M245 112h1M17 113h1M171 113h1M173 113h1M180 113h1M210 113h3M241 113h1M245 113h1M286 113h2M27 114h2M173 114h1M180 114h1M187 114h1M195 114h1M199 114h1M207 114h2M210 114h1M212 114h1M224 114h1M170 115h1M183 115h1M199 115h1M210 115h1M212 115h2M228 115h1M247 115h1M277 115h1M279 115h1M282 115h2M18 116h1M169 116h1M175 116h3M188 116h1M194 116h1M196 116h1M211 116h3M219 116h1M245 116h1M249 116h1M282 116h1M18 117h1M30 117h1M169 117h1M172 117h1M176 117h1M185 117h1M195 117h1M213 117h1M245 117h1M272 117h2M279 117h2M182 118h1M187 118h1M190 118h1M240 118h1M245 118h1M251 118h2M276 118h1M283 118h1M18 119h2M176 119h4M182 119h1M184 119h1M187 119h1M239 119h2M251 119h1M283 119h1M31 120h1M171 120h1M173 120h2M177 120h3M182 120h1M184 120h1M190 120h1M227 120h1M239 120h2M242 120h3M246 120h2M275 120h1M20 121h1M173 121h2M185 121h1M191 121h2M231 121h1M240 121h1M242 121h1M250 121h2M274 121h1M285 121h1M32 122h1M171 122h1M173 122h1M176 122h2M188 122h1M210 122h1M234 122h1M236 122h1M242 122h1M245 122h1M248 122h2M274 122h1M170 123h1M174 123h1M178 123h1M191 123h1M227 123h1M234 123h3M242 123h1M246 123h1M249 123h1M275 123h1M169 124h1M185 124h1M188 124h3M199 124h1M227 124h1M235 124h1M237 124h2M242 124h1M249 124h2M253 124h3M275 124h1M21 125h1M23 125h1M169 125h1M174 125h2M179 125h1M182 125h2M189 125h2M194 125h1M226 125h1M228 125h1M233 125h1M240 125h1M249 125h2M254 125h1M270 125h1M177 126h1M181 126h1M218 126h2M230 126h1M232 126h1M239 126h2M244 126h4M249 126h1M164 127h1M167 127h2M180 127h1M190 127h2M197 127h2M219 127h1M227 127h1M243 127h2M253 127h1M266 127h2M25 128h1M32 128h1M168 128h3M174 128h1M195 128h1M223 128h1M226 128h1M232 128h1M243 128h3M252 128h2M256 128h2M265 128h1M268 128h1M30 129h1M167 129h1M180 129h1M218 129h1M220 129h1M226 129h1M229 129h1M233 129h1M244 129h1M257 129h1M270 129h1M336 129h1M167 130h2M174 130h4M180 130h1M218 130h1M220 130h1M226 130h1M256 130h1M258 130h1M261 130h1M263 130h1M336 130h2M168 131h1M174 131h1M176 131h1M179 131h1M182 131h1M226 131h2M229 131h1M232 131h1M254 131h3M260 131h1M337 131h1M165 132h1M168 132h1M221 132h2M225 132h1M230 132h1M251 132h1M166 133h2M184 133h1M221 133h1M224 133h1M231 133h1M240 133h1M254 133h2M324 133h1M332 133h1M334 133h1M336 133h1M170 134h1M239 134h1M244 134h1M322 134h2M337 134h1M28 135h1M172 135h1M174 135h1M176 135h1M223 135h1M235 135h2M241 135h2M326 135h2M330 135h1M334 135h1M336 135h1M177 136h1M222 136h1M232 136h1M234 136h1M237 136h1M244 136h1M330 136h1M337 136h1M176 137h1M236 137h1M241 137h1M244 137h1M322 137h2M330 137h1M30 138h1M176 138h1M223 138h1M235 138h2M238 138h1M241 138h1M245 138h1M322 138h1M336 138h2M25 139h1M181 139h1M223 139h1M232 139h1M234 139h1M241 139h1M270 139h1M319 139h1M321 139h1M324 139h1M179 140h1M182 140h1M223 140h1M233 140h2M240 140h1M250 140h1M257 140h3M319 140h3M32 141h1M224 141h1M236 141h1M241 141h1M255 141h1M257 141h1M259 141h2M312 141h3M319 141h1M181 142h1M224 142h2M236 142h1M245 142h1M252 142h1M258 142h1M261 142h5M323 142h1M27 143h1M225 143h1M236 143h2M248 143h1M250 143h2M259 143h2M264 143h2M319 143h1M323 143h1M30 144h1M33 144h1M178 144h2M224 144h1M247 144h1M254 144h1M257 144h1M265 144h1M318 144h1M323 144h1M222 145h3M245 145h2M260 145h1M262 145h1M266 145h1M318 145h1M322 145h2M338 145h1M181 146h1M221 146h2M225 146h1M245 146h1M248 146h1M254 146h1M257 146h1M263 146h1M336 146h1M338 146h1M224 147h1M245 147h1M248 147h2M265 147h2M324 147h1M335 147h3M248 148h2M253 148h2M257 148h1M321 148h4M333 148h1M335 148h2M180 149h1M238 149h1M244 149h6M251 149h1M319 149h2M324 149h1M333 149h1M335 149h1M222 150h2M239 150h2M322 150h1M328 150h1M332 150h4M181 151h1M222 151h1M226 151h3M237 151h2M325 151h2M328 151h2M331 151h1M184 152h2M221 152h2M228 152h1M245 152h1M330 152h1M180 153h1M185 153h1M221 153h1M223 153h1M227 153h2M249 153h2M267 153h2M327 153h4M333 153h1M180 154h1M185 154h2M219 154h2M224 154h1M229 154h1M249 154h1M253 154h1M256 154h1M272 154h1M326 154h1M328 154h1M180 155h1M186 155h1M218 155h2M224 155h1M226 155h1M229 155h1M247 155h2M250 155h2M256 155h1M273 155h1M325 155h1M180 156h1M219 156h1M226 156h1M229 156h1M231 156h1M249 156h1M251 156h3M273 156h1M327 156h1M178 157h2M209 157h2M214 157h1M217 157h1M220 157h1M222 157h1M230 157h1M246 157h1M265 157h1M268 157h1M271 157h2M177 158h3M214 158h2M217 158h1M221 158h1M250 158h2M260 158h1M175 159h2M212 159h1M222 159h1M227 159h1M259 159h1M175 160h2M212 160h1M216 160h2M221 160h1M225 160h1M259 160h1M206 161h1M212 161h1M218 161h2M227 161h1M256 161h1M258 161h1M261 161h2M176 162h1M219 162h2M224 162h1M228 162h1M263 162h1M265 162h1M199 163h1M204 163h1M211 163h1M213 163h1M223 163h1M225 163h1M228 163h1M257 163h4M264 163h1M211 164h1M213 164h1M215 164h1M221 164h1M228 164h1M257 164h1M259 164h2M263 164h2M207 165h1M209 165h6M227 165h2M258 165h5M194 166h1M215 166h1M222 166h1M224 166h3M228 166h1M230 166h1M253 166h1M172 167h1M178 167h1M190 167h1M198 167h1M201 167h1M207 167h1M209 167h1M220 167h1M222 167h2M230 167h1M254 167h1M267 167h1M198 168h2M210 168h1M216 168h1M219 168h1M223 168h1M254 168h1M257 168h3M176 169h1M188 169h2M198 169h2M204 169h1M215 169h1M178 170h1M180 170h1M185 170h5M194 170h2M203 170h2M207 170h1M209 170h1M216 170h3M177 171h1M188 171h2M203 171h1M207 171h1M217 171h2M176 172h1M187 172h1M200 172h1M205 172h4M217 172h1M187 173h3M191 173h2M195 173h1M201 173h1M203 173h2M206 173h1M208 173h1M217 173h1M181 174h1M191 174h2M195 174h1M201 174h1M203 174h1M206 174h1M208 174h2M216 174h3M181 175h2M190 175h1M195 175h2M201 175h1M203 175h1M208 175h1M216 175h1M220 175h1M180 176h1M194 176h3M202 176h1M211 176h1M213 176h1M220 176h1M223 176h2M226 176h1M189 177h1M195 177h1M199 177h1M209 177h2M216 177h2M219 177h1M223 177h1M226 177h2M191 178h1M194 178h1M209 178h2M215 178h1M222 178h3M192 179h1M202 179h1M208 179h1M212 179h1M218 179h2M224 179h1M188 180h3M193 180h1M200 180h1M205 180h1M208 180h1M213 180h2M216 180h1M219 180h1M224 180h1M183 181h1M189 181h1M215 181h1M218 181h2M224 181h1M181 182h2M189 182h1M192 182h1M209 182h1M214 182h1M218 182h2M192 183h1M206 183h1M214 183h1M216 183h1M219 183h1M224 183h1M228 183h1M230 183h1M188 184h1M190 184h1M202 184h4M215 184h2M218 184h2M227 184h2M230 184h1M232 184h1M187 185h1M191 185h1M194 185h2M201 185h1M203 185h1M214 185h1M229 185h2M232 185h1M190 186h1M193 186h1M202 186h1M204 186h1M206 186h2M210 186h1M213 186h1M226 186h3M231 186h1M239 186h1M194 187h1M215 187h1M225 187h1M231 187h1M238 187h2M189 188h1M191 188h3M219 188h1M226 188h1M235 188h1M186 189h1M193 189h1M218 189h3M226 189h1M232 189h1M234 189h2M188 190h1M218 190h1M226 190h1M234 190h2M186 191h1M191 191h1M211 191h1M242 191h1M186 192h1M189 192h1M194 192h1M238 192h1M189 193h3M200 193h1M203 193h1M211 193h1M213 193h1M217 193h1M239 193h1M183 194h1M200 194h1M202 194h2M213 194h1M216 194h1M248 194h1M183 195h1M185 195h1M187 195h1M190 195h1M199 195h1M203 195h1M215 195h1M184 196h1M199 196h2M185 197h1M188 197h2M225 197h1M174 198h1M191 198h1M222 198h1M224 198h2M190 199h2M222 199h1M226 199h1M248 199h2M190 200h1M220 200h1M225 200h2M240 200h1M187 201h1M223 201h3M231 201h1M240 201h1M243 201h1M189 202h1M229 202h1M233 202h2M242 202h1M160 203h1M216 203h1M220 203h1M238 203h1M240 203h1M190 204h1M219 204h2M223 204h1M232 204h1M237 204h1M242 204h1M191 205h1M233 205h1M240 205h1M190 206h2M240 206h1M191 207h2M235 207h2M190 208h1M192 208h1M237 208h2M241 208h1M249 208h1M190 209h1M240 209h2M161 211h1M191 211h1M191 212h1M193 214h1M190 215h1M192 215h2M327 216h1M324 218h1M322 220h2M321 221h1M330 222h1M325 223h1M329 224h1M325 225h1M330 225h1M324 226h1M323 229h1M324 230h1M321 231h1M323 231h2M323 232h2M185 233h2M325 233h2M185 234h2M327 234h1M185 235h1M184 236h1M183 237h1M183 238h3M183 239h1M185 240h1"/>
<path stroke="#dbe595" d="M204 30h1M204 31h1M181 52h2M199 52h1M178 53h1M180 53h3M186 53h1M198 53h1M200 53h1M181 54h2M187 54h1M198 54h1M200 54h1M182 55h2M196 55h1M199 55h1M201 55h1M207 55h1M182 56h1M186 56h2M193 56h1M196 56h1M198 56h1M203 56h1M205 56h2M210 56h1M213 56h1M178 57h1M182 57h1M189 57h3M212 57h1M216 58h2M178 59h1M181 59h3M219 59h1M181 60h2M177 61h1M221 61h1M224 61h1M176 62h2M222 62h1M225 62h1M174 63h1M176 63h4M175 64h1M225 64h1M176 65h1M228 65h1M176 66h1M225 66h1M242 66h2M242 67h1M230 68h1M233 68h1M238 68h1M173 69h3M231 69h1M235 69h1M237 69h1M250 69h2M172 70h1M236 70h2M242 70h1M249 70h1M172 71h1M237 71h2M243 71h1M172 72h1M239 72h1M248 72h1M174 73h1M240 73h2M247 73h1M249 73h1M252 73h1M260 73h1M174 74h1M250 74h1M168 75h1M246 75h1M262 75h1M173 76h1M233 76h1M246 76h1M261 76h1M168 77h1M250 77h1M261 77h1M267 77h1M307 77h2M308 78h2M169 79h1M271 79h1M305 79h1M265 80h1M270 80h1M272 80h1M305 80h2M313 80h1M169 81h1M273 81h1M305 81h2M271 82h1M273 82h1M300 82h2M303 82h3M307 82h2M312 82h1M163 83h1M166 83h3M274 83h1M300 83h1M305 83h1M308 83h1M312 83h1M165 84h2M236 84h1M238 84h1M276 84h1M303 84h1M308 84h1M335 84h1M337 84h1M163 85h1M165 85h1M236 85h1M238 85h1M278 85h1M281 85h1M303 85h1M306 85h1M334 85h1M89 86h1M237 86h3M276 86h1M295 86h2M196 87h1M281 87h1M284 87h1M296 87h1M306 87h2M315 87h2M334 87h2M88 88h1M238 88h1M240 88h1M283 88h1M285 88h1M290 88h1M294 88h1M306 88h1M309 88h1M313 88h1M316 88h1M335 88h2M289 89h2M306 89h1M310 89h1M329 89h1M336 89h2M341 89h1M237 90h1M307 90h1M309 90h1M311 90h1M313 90h1M316 90h1M328 90h1M341 90h1M237 91h1M308 91h3M315 91h2M329 91h1M331 91h1M343 91h1M163 92h1M303 92h1M310 92h1M331 92h1M341 92h1M343 92h1M162 93h1M265 93h1M294 93h2M310 93h1M331 93h1M340 93h1M342 93h2M91 94h1M161 94h1M306 94h1M322 94h1M329 94h1M7 95h2M92 95h2M248 95h1M254 95h1M296 95h2M322 95h2M328 95h2M331 95h1M334 95h2M342 95h1M349 95h1M7 96h1M237 96h1M253 96h1M296 96h2M323 96h1M334 96h1M338 96h1M349 96h1M90 97h1M236 97h1M248 97h1M296 97h2M335 97h2M342 97h3M349 97h1M91 98h2M161 98h1M247 98h2M292 98h1M296 98h1M298 98h1M332 98h1M348 98h1M161 99h2M243 99h2M247 99h1M249 99h1M292 99h4M326 99h1M330 99h3M337 99h1M339 99h2M348 99h1M89 100h1M164 100h1M239 100h1M242 100h1M252 100h2M290 100h4M295 100h1M302 100h2M339 100h2M347 100h1M240 101h4M289 101h1M292 101h1M296 101h1M298 101h1M302 101h1M338 101h1M343 101h1M347 101h1M211 102h1M296 102h1M343 102h1M246 103h1M296 103h1M298 103h1M344 103h1M15 104h1M168 104h1M259 104h2M296 104h1M15 105h1M166 105h3M170 105h1M256 105h1M297 105h2M336 105h1M15 106h1M166 106h1M254 106h2M258 106h2M16 107h1M20 107h1M166 107h1M203 107h1M244 107h1M294 107h1M203 108h1M17 109h1M197 109h2M290 109h1M22 110h1M179 110h1M186 110h1M199 110h1M205 110h2M243 110h1M289 110h1M168 111h1M183 111h1M198 111h1M234 111h1M241 111h1M251 111h1M171 112h1M184 112h2M187 112h3M200 112h1M208 112h1M210 112h3M223 112h1M234 112h1M240 112h1M242 112h1M250 112h1M288 112h1M26 113h1M177 113h1M182 113h1M184 113h2M198 113h2M209 113h1M218 113h1M240 113h1M242 113h3M250 113h1M18 114h1M179 114h1M181 114h1M183 114h1M188 114h1M194 114h1M196 114h1M209 114h1M217 114h1M220 114h1M223 114h1M225 114h1M243 114h3M281 114h3M285 114h1M18 115h1M28 115h1M169 115h1M174 115h1M177 115h1M182 115h1M187 115h1M193 115h1M200 115h1M208 115h1M216 115h2M223 115h2M227 115h1M229 115h1M245 115h2M253 115h1M281 115h1M29 116h1M170 116h1M178 116h1M181 116h1M185 116h1M189 116h1M200 116h1M208 116h3M214 116h2M218 116h1M220 116h1M246 116h1M248 116h1M273 116h1M276 116h1M279 116h3M170 117h2M181 117h1M190 117h1M196 117h1M241 117h1M244 117h1M250 117h3M276 117h1M19 118h1M176 118h1M179 118h1M223 118h2M235 118h1M250 118h1M20 119h1M180 119h2M191 119h1M223 119h2M234 119h2M241 119h1M245 119h2M250 119h1M252 119h1M20 120h1M172 120h1M185 120h3M191 120h3M212 120h1M230 120h1M236 120h1M241 120h1M245 120h1M248 120h4M171 121h1M188 121h1M193 121h1M210 121h1M232 121h2M236 121h1M239 121h1M241 121h1M252 121h1M20 122h1M172 122h1M192 122h1M212 122h3M227 122h1M233 122h1M239 122h2M20 123h1M32 123h1M173 123h1M175 123h1M177 123h1M186 123h2M237 123h5M245 123h1M248 123h1M20 124h1M175 124h1M177 124h2M187 124h1M191 124h1M200 124h1M236 124h1M239 124h3M271 124h2M22 125h1M24 125h1M170 125h1M176 125h2M185 125h1M188 125h1M191 125h1M193 125h1M197 125h2M234 125h1M237 125h3M25 126h1M172 126h3M189 126h1M192 126h2M195 126h1M217 126h1M220 126h1M224 126h1M229 126h1M238 126h1M248 126h1M254 126h1M266 126h1M269 126h1M25 127h1M165 127h2M172 127h2M194 127h3M217 127h1M220 127h1M230 127h1M232 127h1M241 127h1M245 127h1M249 127h1M251 127h1M255 127h2M265 127h1M268 127h1M26 128h1M165 128h1M167 128h1M178 128h3M196 128h3M218 128h2M221 128h1M228 128h1M231 128h1M233 128h1M242 128h1M254 128h2M29 129h1M168 129h1M171 129h1M175 129h1M189 129h1M195 129h1M221 129h2M231 129h1M243 129h1M245 129h1M252 129h2M256 129h1M258 129h1M264 129h1M269 129h1M172 130h2M181 130h3M222 130h1M231 130h1M233 130h1M252 130h2M255 130h1M260 130h1M262 130h1M165 131h1M167 131h1M169 131h1M173 131h1M175 131h1M181 131h1M183 131h1M219 131h3M231 131h1M239 131h1M251 131h1M259 131h1M167 132h1M174 132h1M176 132h1M179 132h1M182 132h3M219 132h2M223 132h2M232 132h1M241 132h2M250 132h1M332 132h2M168 133h1M176 133h1M183 133h1M185 133h1M222 133h1M239 133h1M243 133h1M245 133h1M248 133h1M325 133h1M169 134h1M171 134h1M185 134h1M222 134h2M231 134h1M235 134h1M246 134h2M325 134h1M25 135h1M173 135h1M221 135h1M231 135h1M234 135h1M237 135h2M322 135h2M329 135h1M29 136h1M178 136h1M226 136h2M233 136h1M241 136h1M322 136h3M326 136h2M329 136h1M336 136h1M24 137h1M177 137h2M223 137h1M233 137h3M237 137h2M243 137h1M245 137h1M324 137h2M24 138h1M177 138h1M233 138h2M237 138h1M242 138h1M324 138h1M177 139h4M190 139h2M242 139h1M320 139h1M322 139h2M26 140h1M177 140h2M190 140h1M239 140h1M241 140h1M243 140h1M322 140h3M179 141h1M182 141h1M223 141h1M235 141h1M256 141h1M321 141h4M33 142h1M177 142h1M180 142h1M182 142h1M186 142h1M223 142h1M253 142h2M257 142h1M259 142h2M320 142h3M28 143h2M181 143h2M223 143h2M249 143h1M258 143h1M266 143h1M322 143h1M182 144h1M223 144h1M248 144h1M250 144h2M266 144h1M319 144h1M322 144h1M335 144h1M182 145h1M221 145h1M247 145h4M320 145h1M224 146h1M246 146h2M266 146h1M321 146h1M323 146h1M335 146h1M181 147h1M254 147h2M257 147h1M319 147h1M321 147h1M323 147h1M245 148h1M250 148h1M252 148h1M255 148h1M319 148h2M223 149h1M181 150h1M238 150h1M331 150h1M332 151h4M192 152h1M226 152h2M328 152h2M331 152h1M333 152h2M184 153h1M190 153h1M220 153h1M222 153h1M251 153h2M331 153h1M190 154h1M227 154h2M251 154h1M255 154h1M327 154h1M330 154h1M332 154h1M185 155h1M208 155h1M223 155h1M249 155h1M252 155h4M272 155h1M327 155h2M209 156h2M217 156h1M222 156h1M246 156h3M250 156h1M254 156h1M271 156h2M326 156h1M180 157h1M213 157h1M215 157h1M221 157h1M227 157h3M245 157h1M250 157h2M180 158h1M210 158h1M213 158h1M216 158h1M177 159h3M221 159h1M261 159h1M177 160h1M205 160h1M226 160h1M260 160h2M177 161h1M205 161h1M207 161h2M216 161h2M225 161h2M257 161h1M177 162h1M206 162h3M212 162h1M216 162h1M225 162h1M227 162h1M258 162h1M264 162h1M178 163h1M200 163h1M203 163h1M212 163h1M226 163h2M263 163h1M178 164h1M199 164h2M204 164h1M207 164h1M210 164h1M212 164h1M218 164h1M222 164h1M224 164h1M227 164h1M258 164h1M200 165h1M215 165h1M219 165h2M224 165h1M178 166h1M193 166h1M195 166h1M202 166h1M221 166h1M223 166h1M252 166h1M179 167h1M182 167h1M187 167h1M200 167h1M202 167h1M208 167h1M216 167h1M219 167h1M252 167h2M180 168h2M184 168h1M187 168h1M189 168h1M202 168h1M207 168h1M217 168h1M253 168h1M177 169h1M187 169h1M195 169h1M203 169h1M207 169h3M216 169h3M179 170h1M196 170h3M200 170h1M180 171h1M198 171h4M204 171h3M177 172h2M180 172h1M188 172h1M190 172h1M203 172h2M199 173h2M202 173h1M205 173h1M199 174h1M204 174h2M194 175h1M197 175h1M199 175h2M204 175h2M217 175h3M181 176h2M197 176h1M199 176h1M208 176h1M214 176h2M217 176h1M225 176h1M190 177h1M193 177h1M203 177h1M208 177h1M215 177h1M218 177h1M224 177h2M192 178h2M195 178h1M203 178h2M208 178h1M217 178h2M165 179h1M194 179h2M198 179h1M204 179h1M213 179h1M220 179h1M223 179h1M164 180h1M194 180h4M199 180h1M202 180h1M206 180h1M212 180h1M220 180h1M181 181h2M190 181h1M194 181h1M201 181h1M205 181h1M217 181h1M190 182h1M204 182h3M208 182h1M220 182h4M189 183h2M203 183h3M215 183h1M217 183h2M229 183h1M189 184h1M195 184h1M217 184h1M224 184h1M229 184h1M189 185h1M215 185h3M219 185h1M223 185h1M192 186h1M195 186h1M200 186h2M203 186h1M209 186h1M214 186h3M229 186h2M168 187h1M188 187h1M190 187h1M195 187h1M208 187h3M214 187h1M216 187h1M219 187h1M224 187h1M226 187h3M179 188h1M190 188h1M209 188h1M218 188h1M220 188h1M225 188h1M227 188h1M230 188h1M233 188h2M190 189h1M192 189h1M225 189h1M228 189h2M231 189h1M178 190h1M189 190h2M193 190h1M199 190h1M213 190h1M217 190h1M232 190h1M236 190h1M188 191h1M190 191h1M192 191h4M199 191h3M212 191h2M216 191h3M235 191h1M240 191h1M244 191h2M184 192h1M192 192h1M195 192h1M199 192h2M210 192h1M213 192h1M216 192h2M246 192h1M182 193h1M199 193h1M201 193h2M210 193h1M214 193h3M218 193h1M188 194h1M217 194h3M247 194h1M184 195h1M186 195h1M189 195h1M191 195h1M196 195h2M214 195h1M247 195h1M249 195h1M284 195h1M201 196h2M246 196h1M248 196h1M171 197h1M184 197h1M186 197h2M226 197h1M247 197h1M184 198h2M189 198h1M192 198h1M226 198h2M247 198h1M175 199h1M183 199h1M188 199h1M229 199h1M244 199h1M247 199h1M173 200h1M178 200h1M183 200h1M191 200h1M219 200h1M230 200h1M232 200h2M241 200h1M246 200h1M168 201h1M173 201h1M188 201h3M230 201h1M234 201h1M239 201h1M241 201h2M190 202h1M216 202h1M230 202h1M235 202h1M239 202h3M190 203h1M219 203h1M232 203h2M235 203h1M241 203h2M216 204h1M233 204h4M178 205h1M236 205h4M160 206h1M192 206h1M234 206h1M236 206h3M190 207h1M237 207h3M191 209h1M162 211h1M192 211h1M190 213h1M192 214h1M191 215h1M330 221h1M328 224h1M177 225h1M329 225h1M325 226h2M330 226h1M323 227h3M322 228h2M330 228h1M169 229h1M324 229h1M330 229h1M322 231h1M325 231h1M322 232h1M325 232h2M180 233h1M182 233h1M180 234h1M328 234h1M185 236h1M184 237h2M184 240h1"/>
<path stroke="#dfe496" d="M202 27h1M197 31h1M203 32h1M199 53h1M185 54h1M199 54h1M185 55h1M195 55h1M200 55h1M208 55h1M183 56h1M194 56h2M199 56h3M204 56h1M209 56h1M214 56h1M179 57h1M181 57h1M193 57h2M197 57h2M202 57h1M211 57h1M213 57h1M179 58h3M185 58h5M192 58h1M198 58h1M179 59h2M218 59h1M180 60h1M183 60h1M220 60h1M178 61h1M180 61h3M141 62h1M174 62h2M178 62h1M180 62h1M223 62h2M175 63h1M180 63h1M225 63h1M178 64h2M176 67h1M225 67h1M176 68h1M239 68h1M242 68h1M244 68h1M176 69h1M226 69h1M229 69h1M232 69h1M234 69h1M241 69h1M235 70h1M250 70h1M236 71h1M245 71h1M173 72h2M227 72h1M234 72h5M236 73h1M239 73h1M243 73h1M169 74h2M249 74h1M169 75h5M232 75h1M245 75h1M247 75h2M169 76h2M172 76h1M247 76h2M251 76h1M169 77h1M172 77h2M249 77h1M171 78h1M245 78h1M250 78h3M261 78h2M265 78h2M251 79h2M261 79h1M264 79h2M268 79h1M264 80h1M269 80h1M271 80h1M302 80h1M265 81h1M270 81h3M302 81h1M168 82h1M164 83h2M169 83h1M271 83h1M303 83h1M164 84h1M167 84h1M272 84h2M305 84h1M164 85h1M277 85h1M279 85h2M304 85h2M309 85h1M88 86h1M163 86h3M196 86h1M240 86h1M280 86h1M293 86h2M306 86h1M309 86h1M313 86h1M334 86h1M197 87h1M237 87h1M275 87h1M308 87h1M314 87h1M163 88h1M196 88h1M237 88h1M282 88h1M284 88h1M295 88h1M307 88h2M189 89h1M238 89h3M285 89h2M295 89h1M307 89h3M313 89h1M333 89h3M338 89h3M164 90h1M190 90h1M239 90h1M290 90h1M294 90h1M296 90h1M308 90h1M310 90h1M340 90h1M163 91h1M290 91h1M292 91h1M296 91h1M340 91h3M249 92h1M264 92h2M308 92h2M340 92h1M342 92h1M163 93h1M248 93h3M255 93h2M264 93h1M266 93h1M307 93h1M94 94h1M162 94h1M244 94h2M247 94h2M254 94h3M294 94h2M307 94h1M309 94h1M323 94h1M332 94h1M341 94h2M162 95h1M189 95h1M244 95h1M253 95h1M255 95h3M289 95h1M295 95h1M332 95h2M341 95h1M93 96h1M162 96h1M189 96h2M245 96h1M252 96h1M254 96h1M257 96h1M294 96h1M331 96h1M336 96h2M339 96h1M91 97h1M162 97h1M190 97h1M246 97h1M288 97h2M293 97h1M332 97h1M334 97h1M340 97h2M190 98h1M237 98h2M245 98h2M297 98h1M333 98h1M163 99h3M242 99h1M245 99h2M250 99h1M289 99h1M296 99h3M338 99h1M166 100h1M240 100h1M245 100h1M247 100h1M289 100h1M294 100h1M296 100h1M298 100h1M336 100h3M348 100h1M207 101h2M239 101h1M245 101h1M247 101h1M254 101h1M291 101h1M297 101h1M336 101h2M210 102h1M212 102h1M241 102h4M247 102h1M254 102h1M293 102h2M297 102h1M168 103h1M208 103h1M212 103h1M245 103h1M255 103h2M259 103h2M294 103h1M169 104h1M172 104h2M294 104h1M298 104h1M16 105h1M207 105h1M244 105h1M258 105h1M260 105h1M294 105h1M16 106h3M167 106h3M237 106h1M256 106h1M260 106h2M294 106h1M201 107h2M205 107h1M243 107h1M253 107h1M258 107h2M261 107h1M291 107h3M17 108h1M20 108h1M167 108h1M197 108h1M206 108h1M239 108h1M242 108h1M290 108h2M20 109h1M173 109h2M176 109h2M180 109h1M203 109h1M206 109h1M238 109h3M242 109h1M254 109h1M279 109h1M289 109h1M17 110h1M21 110h1M168 110h1M176 110h1M178 110h1M185 110h1M187 110h1M197 110h1M204 110h1M226 110h1M234 110h2M238 110h5M277 110h1M288 110h1M17 111h1M23 111h1M169 111h3M180 111h1M184 111h3M189 111h1M196 111h2M201 111h1M205 111h1M210 111h1M222 111h2M231 111h1M240 111h1M242 111h1M244 111h1M252 111h2M286 111h1M288 111h1M23 112h1M172 112h1M198 112h1M213 112h1M222 112h1M231 112h1M286 112h1M24 113h2M179 113h1M183 113h1M190 113h1M194 113h2M200 113h1M206 113h1M217 113h1M219 113h1M223 113h2M234 113h1M282 113h1M26 114h1M177 114h1M182 114h1M189 114h1M197 114h2M200 114h1M213 114h2M216 114h1M227 114h1M242 114h1M250 114h1M277 114h4M284 114h1M27 115h1M176 115h1M179 115h3M188 115h1M197 115h2M207 115h1M209 115h1M214 115h2M221 115h2M225 115h1M230 115h1M235 115h1M244 115h1M250 115h1M252 115h1M254 115h2M276 115h1M280 115h1M28 116h1M193 116h1M197 116h1M199 116h1M216 116h2M221 116h1M223 116h2M232 116h1M244 116h1M247 116h1M250 116h6M272 116h1M179 117h1M208 117h2M211 117h1M214 117h2M220 117h1M232 117h1M236 117h1M240 117h1M242 117h2M246 117h1M249 117h1M253 117h1M274 117h2M20 118h1M181 118h1M191 118h1M206 118h1M212 118h4M236 118h1M239 118h1M246 118h1M249 118h1M274 118h2M192 119h2M225 119h2M233 119h1M236 119h3M247 119h3M275 119h1M194 120h1M211 120h1M213 120h1M226 120h1M228 120h2M231 120h1M233 120h1M237 120h2M252 120h2M274 120h1M172 121h1M186 121h2M237 121h2M273 121h1M186 122h2M237 122h2M241 122h1M253 122h1M273 122h1M171 123h2M176 123h1M192 123h1M199 123h2M218 123h1M253 123h3M274 123h1M170 124h1M172 124h3M176 124h1M186 124h1M197 124h2M273 124h2M172 125h2M178 125h1M186 125h2M192 125h1M195 125h1M199 125h1M203 125h1M217 125h2M225 125h1M227 125h1M235 125h1M255 125h1M175 126h2M178 126h2M184 126h1M188 126h1M197 126h2M221 126h1M227 126h1M233 126h1M237 126h1M255 126h2M267 126h1M174 127h1M177 127h3M181 127h1M187 127h3M192 127h2M199 127h2M204 127h1M221 127h1M223 127h1M233 127h2M236 127h5M246 127h1M250 127h1M254 127h1M257 127h1M27 128h1M166 128h1M177 128h1M188 128h5M194 128h1M199 128h2M204 128h1M220 128h1M222 128h1M235 128h2M239 128h1M246 128h3M258 128h1M176 129h2M181 129h4M190 129h3M230 129h1M234 129h3M242 129h1M247 129h2M254 129h2M259 129h1M263 129h1M169 130h1M184 130h1M189 130h2M193 130h3M217 130h1M221 130h1M230 130h1M235 130h1M242 130h1M245 130h1M247 130h1M254 130h1M259 130h1M184 131h1M218 131h1M230 131h1M233 131h1M238 131h1M240 131h3M247 131h1M166 132h1M169 132h1M173 132h1M175 132h1M181 132h1M185 132h1M236 132h1M238 132h3M249 132h1M177 133h2M182 133h1M186 133h1M220 133h1M223 133h1M232 133h1M235 133h3M244 133h1M246 133h2M333 133h1M174 134h3M181 134h2M184 134h1M186 134h3M221 134h1M234 134h1M236 134h1M324 134h1M26 135h2M177 135h3M182 135h1M185 135h4M232 135h2M324 135h2M25 136h1M185 136h3M221 136h1M242 136h2M325 136h1M326 137h1M329 137h1M25 138h1M178 138h2M181 138h2M188 138h2M325 138h1M26 139h1M183 139h1M233 139h1M31 140h1M183 140h1M189 140h1M191 140h1M242 140h1M177 141h1M183 141h1M186 141h2M189 141h2M242 141h2M320 141h1M27 142h1M179 142h1M183 142h1M187 142h4M30 143h1M183 143h1M186 143h5M254 143h2M257 143h1M189 144h1M249 144h1M184 145h2M220 145h1M251 145h1M253 145h1M319 145h1M334 145h1M187 146h2M223 146h1M250 146h1M319 146h1M322 146h1M200 147h1M221 147h1M246 147h2M250 147h1M253 147h1M256 147h1M320 147h1M322 147h1M181 148h1M187 148h1M195 148h1M223 148h1M246 148h2M251 148h1M256 148h1M325 148h1M221 149h2M325 149h1M327 149h2M332 149h1M185 150h1M221 150h1M325 150h2M329 150h2M184 151h2M221 151h1M181 152h1M191 152h1M193 152h2M220 152h1M332 152h1M183 153h1M186 153h1M189 153h1M191 153h3M219 153h1M332 153h1M183 154h2M191 154h1M197 154h2M211 154h1M213 154h2M218 154h1M223 154h1M252 154h1M181 155h3M190 155h2M217 155h1M220 155h1M227 155h2M326 155h1M191 156h1M211 156h1M220 156h2M227 156h2M216 157h1M209 158h1M211 158h2M207 159h1M211 159h1M260 159h1M178 160h2M206 160h1M178 161h2M209 161h1M259 161h2M178 162h2M199 162h4M205 162h1M209 162h1M211 162h1M218 162h1M226 162h1M257 162h1M259 162h4M179 163h1M198 163h1M201 163h2M205 163h1M210 163h1M216 163h1M218 163h1M261 163h1M179 164h1M201 164h3M205 164h2M208 164h2M216 164h2M223 164h1M225 164h1M261 164h2M178 165h1M180 165h1M201 165h4M206 165h1M218 165h1M221 165h2M225 165h2M186 166h1M190 166h3M200 166h2M203 166h1M206 166h1M219 166h1M183 167h1M186 167h1M188 167h1M199 167h1M203 167h1M206 167h1M217 167h2M186 168h1M188 168h1M197 168h1M203 168h1M206 168h1M209 168h1M218 168h1M185 169h2M197 169h1M205 169h1M199 170h1M205 170h2M178 171h2M196 171h1M179 172h1M189 172h1M196 172h1M198 172h1M201 172h2M196 173h3M196 174h1M198 174h1M200 174h1M191 175h3M198 175h1M190 176h1M198 176h1M203 176h5M218 176h2M196 177h2M204 177h1M213 177h1M196 178h1M198 178h1M213 178h1M193 179h1M196 179h2M203 179h1M205 179h3M214 179h1M221 179h2M198 180h1M204 180h1M207 180h1M221 180h3M195 181h2M200 181h1M204 181h1M206 181h1M208 181h1M216 181h1M220 181h4M193 182h3M200 182h2M203 182h1M207 182h1M217 182h1M193 183h1M202 183h1M220 183h4M192 184h3M196 184h1M201 184h1M223 184h1M178 185h1M188 185h1M192 185h2M196 185h5M189 186h1M199 186h1M218 186h2M223 186h1M189 187h1M196 187h1M201 187h1M204 187h2M211 187h1M218 187h1M220 187h4M229 187h2M171 188h1M194 188h2M203 188h2M208 188h1M210 188h1M214 188h1M217 188h1M223 188h2M228 188h2M191 189h1M194 189h1M202 189h2M213 189h1M217 189h1M223 189h1M227 189h1M230 189h1M233 189h1M191 190h2M194 190h1M198 190h1M200 190h2M214 190h1M216 190h1M225 190h1M227 190h3M231 190h1M233 190h1M189 191h1M198 191h1M202 191h1M210 191h1M214 191h1M226 191h2M231 191h2M234 191h1M237 191h1M173 192h1M193 192h1M196 192h1M201 192h2M218 192h5M235 192h1M240 192h1M174 193h1M184 193h1M186 193h1M219 193h1M246 193h1M165 194h1M184 194h1M187 194h1M189 194h2M196 194h1M199 194h1M220 194h1M222 194h1M194 195h2M198 195h1M216 195h2M219 195h1M246 195h1M248 195h1M167 196h2M183 196h1M196 196h1M203 196h1M215 196h1M225 196h2M245 196h1M247 196h1M284 196h1M173 197h1M192 197h1M224 197h1M246 197h1M186 198h1M188 198h1M221 198h1M228 198h1M184 199h1M189 199h1M192 199h1M221 199h1M232 199h1M176 200h1M188 200h2M217 200h1M231 200h1M239 200h1M242 200h3M166 201h1M177 201h1M216 201h1M191 202h2M161 203h1M181 203h1M215 203h1M167 204h1M191 204h1M176 205h1M234 205h1M235 206h1M239 206h1M193 207h1M162 210h1M191 210h1M192 212h1M311 212h1M187 213h1M186 214h2M190 214h1M325 217h1M328 217h1M324 219h1M329 223h1M326 224h1M179 225h1M326 225h1M328 225h1M328 226h2M326 227h1M329 227h2M324 228h2M329 228h1M328 229h2M327 230h2M326 231h2M327 232h1M181 233h1M327 233h1M330 233h1M329 234h1"/>
<path stroke="#e2e298" d="M202 28h1M204 29h1M202 34h1M209 40h1M31 42h1M114 53h1M186 54h1M186 55h2M207 56h1M180 57h1M195 57h2M199 57h1M215 57h1M190 58h1M199 58h1M164 59h1M184 59h1M189 59h1M198 59h2M178 60h1M184 60h1M219 60h1M183 61h1M179 62h1M181 62h3M221 62h1M181 63h1M176 64h2M177 65h1M177 66h1M177 67h1M243 67h1M177 68h1M225 68h1M243 68h1M230 69h1M233 69h1M242 69h1M245 69h1M93 70h1M173 70h3M226 70h1M234 70h1M243 70h1M173 71h1M226 71h1M235 71h1M244 71h1M175 72h1M226 72h1M181 73h1M234 73h1M242 73h1M248 73h1M181 74h1M232 74h1M240 74h1M244 74h1M247 74h1M251 74h1M174 75h1M233 75h1M251 75h2M168 76h1M171 76h1M232 76h1M245 76h1M170 77h2M245 77h1M251 77h1M169 78h1M172 78h1M244 78h1M263 78h2M267 78h1M170 79h2M266 79h2M170 80h1M266 80h1M173 81h1M266 81h1M269 81h1M301 81h1M169 82h1M182 82h1M242 82h1M265 82h1M270 82h1M89 83h1M170 83h1M236 83h1M239 83h2M270 83h1M304 83h1M169 84h1M275 84h1M304 84h1M166 85h1M188 85h1M235 85h1M239 85h1M276 85h1M307 85h1M188 86h1M197 86h1M277 86h3M307 86h2M88 87h1M163 87h1M241 87h1M259 87h1M280 87h1M294 87h2M313 87h1M189 88h1M197 88h1M241 88h1M249 88h1M252 88h1M261 88h1M272 88h2M314 88h2M164 89h3M190 89h1M237 89h1M241 89h1M245 89h2M249 89h1M261 89h1M283 89h2M315 89h1M330 89h1M332 89h1M165 90h1M189 90h1M191 90h1M242 90h1M246 90h2M249 90h1M257 90h1M285 90h5M295 90h1M314 90h2M329 90h3M164 91h2M239 91h1M243 91h2M247 91h1M276 91h3M289 91h1M293 91h1M332 91h1M164 92h1M243 92h2M248 92h1M250 92h1M277 92h2M288 92h4M294 92h2M243 93h2M309 93h1M339 93h1M163 94h1M243 94h1M246 94h1M253 94h1M262 94h5M289 94h2M292 94h2M308 94h1M333 94h1M340 94h1M163 95h1M190 95h1M252 95h1M262 95h3M293 95h2M338 95h1M92 96h1M163 96h1M191 96h1M236 96h1M238 96h1M249 96h1M251 96h1M255 96h2M258 96h2M293 96h1M333 96h1M341 96h1M93 97h1M165 97h2M189 97h1M191 97h1M235 97h1M238 97h1M245 97h1M249 97h1M251 97h2M258 97h2M292 97h1M333 97h1M162 98h4M236 98h1M239 98h1M249 98h1M288 98h1M349 98h1M93 99h2M200 99h1M205 99h1M238 99h2M206 100h1M238 100h1M246 100h1M297 100h1M167 101h1M206 101h1M209 101h1M211 101h2M288 101h1M290 101h1M207 102h3M239 102h2M245 102h2M259 102h1M291 102h2M172 103h2M199 103h1M207 103h1M209 103h3M233 103h1M242 103h3M257 103h2M297 103h1M170 104h1M200 104h1M206 104h2M209 104h2M242 104h3M257 104h2M261 104h4M291 104h3M297 104h1M171 105h2M200 105h1M206 105h1M237 105h2M242 105h2M261 105h3M288 105h6M170 106h1M177 106h1M206 106h2M243 106h2M288 106h4M17 107h1M19 107h1M167 107h2M173 107h1M206 107h1M239 107h2M242 107h1M255 107h2M260 107h1M290 107h1M19 108h1M168 108h1M173 108h1M198 108h1M201 108h1M240 108h2M254 108h1M168 109h1M172 109h1M175 109h1M178 109h2M181 109h1M191 109h1M196 109h1M199 109h1M226 109h1M235 109h1M241 109h1M278 109h1M280 109h1M172 110h1M175 110h1M177 110h1M183 110h2M196 110h1M200 110h1M203 110h1M207 110h2M222 110h1M227 110h1M254 110h1M276 110h1M278 110h1M287 110h1M22 111h1M172 111h1M178 111h2M187 111h2M203 111h2M208 111h2M213 111h2M235 111h1M238 111h2M243 111h1M276 111h2M287 111h1M173 112h1M177 112h2M180 112h1M190 112h1M194 112h2M199 112h1M201 112h1M205 112h1M209 112h1M214 112h1M217 112h1M224 112h4M230 112h1M232 112h2M235 112h1M237 112h3M243 112h2M251 112h3M282 112h1M285 112h1M287 112h1M178 113h1M201 113h1M213 113h2M220 113h1M222 113h1M225 113h1M227 113h1M233 113h1M235 113h1M239 113h1M280 113h2M283 113h1M285 113h1M19 114h1M178 114h1M215 114h1M221 114h2M226 114h1M228 114h4M234 114h2M241 114h1M255 114h2M276 114h1M19 115h1M175 115h1M178 115h1M189 115h4M226 115h1M232 115h3M236 115h1M243 115h1M251 115h1M256 115h1M275 115h1M179 116h2M190 116h1M198 116h1M207 116h1M222 116h1M228 116h4M233 116h1M235 116h2M274 116h2M19 117h2M194 117h1M197 117h1M200 117h2M207 117h1M210 117h1M216 117h2M219 117h1M223 117h2M231 117h1M233 117h1M235 117h1M248 117h1M254 117h1M30 118h1M180 118h1M192 118h1M195 118h2M201 118h1M207 118h1M211 118h1M219 118h1M225 118h2M234 118h1M237 118h2M247 118h2M253 118h1M273 118h1M21 119h1M194 119h2M213 119h2M227 119h1M232 119h1M253 119h2M274 119h1M195 120h1M232 120h1M273 120h1M31 121h1M214 121h2M226 121h1M253 121h1M193 122h1M200 122h1M209 122h1M215 122h1M218 122h1M24 123h1M197 123h1M209 123h2M215 123h1M219 123h1M256 123h1M271 123h3M23 124h2M32 124h1M192 124h2M196 124h1M201 124h2M215 124h1M217 124h2M226 124h1M256 124h1M270 124h1M171 125h1M196 125h1M200 125h1M202 125h1M219 125h1M224 125h1M236 125h1M256 125h1M269 125h1M182 126h2M185 126h3M196 126h1M199 126h2M205 126h1M228 126h1M234 126h3M257 126h1M265 126h1M268 126h1M32 127h1M176 127h1M184 127h3M205 127h1M228 127h2M235 127h1M247 127h2M31 128h1M175 128h1M181 128h5M193 128h1M201 128h1M217 128h1M229 128h2M234 128h1M237 128h2M240 128h2M249 128h1M251 128h1M264 128h1M169 129h2M185 129h1M187 129h2M194 129h1M196 129h2M200 129h1M217 129h1M241 129h1M246 129h1M249 129h1M251 129h1M260 129h3M187 130h1M191 130h2M234 130h1M236 130h1M238 130h4M243 130h2M246 130h1M248 130h2M251 130h1M166 131h1M172 131h1M180 131h1M185 131h3M189 131h1M193 131h2M217 131h1M245 131h2M248 131h3M180 132h1M186 132h3M237 132h1M246 132h3M169 133h3M173 133h3M179 133h3M187 133h2M233 133h2M238 133h1M173 134h1M180 134h1M183 134h1M232 134h2M237 134h2M180 135h2M184 135h1M179 136h1M181 136h2M25 137h1M29 137h1M179 137h1M182 137h1M222 137h1M242 137h1M26 138h1M190 138h2M326 138h2M30 139h1M189 139h1M192 139h1M327 139h1M200 140h1M27 141h1M178 141h1M184 141h2M188 141h1M222 141h1M29 142h4M184 142h2M191 142h1M222 142h1M255 142h2M33 143h1M178 143h1M180 143h1M191 143h2M220 143h2M252 143h1M256 143h1M325 143h1M31 144h2M186 144h1M190 144h1M221 144h2M252 144h1M183 145h1M186 145h4M194 145h1M184 146h3M217 146h2M220 146h1M253 146h1M320 146h1M187 147h1M217 147h1M223 147h1M251 147h2M183 148h1M185 148h2M201 148h1M327 148h1M181 149h1M185 149h2M201 149h1M220 149h1M326 149h1M331 149h1M184 150h1M200 150h2M216 150h3M182 151h2M192 151h1M200 151h2M216 151h3M183 152h1M189 152h2M195 152h1M215 152h4M181 153h1M194 153h1M198 153h1M214 153h1M216 153h3M181 154h2M187 154h1M189 154h1M192 154h2M212 154h1M217 154h1M221 154h2M331 154h1M184 155h1M187 155h1M192 155h1M198 155h1M209 155h3M221 155h2M181 156h1M185 156h2M190 156h1M192 156h1M208 156h1M212 156h5M211 157h2M208 158h1M180 159h1M183 159h1M206 159h1M208 159h1M180 160h1M197 160h2M207 160h1M180 161h1M185 161h2M197 161h2M200 161h2M210 161h1M180 162h1M184 162h1M197 162h2M203 162h2M210 162h1M217 162h1M180 163h1M206 163h1M208 163h2M217 163h1M262 163h1M180 164h1M185 164h2M189 164h1M226 164h1M179 165h1M185 165h1M189 165h1M199 165h1M205 165h1M217 165h1M223 165h1M179 166h4M187 166h3M197 166h2M204 166h1M218 166h1M220 166h1M180 167h2M189 167h1M196 167h2M185 168h1M196 168h1M204 168h2M208 168h1M196 169h1M206 169h1M197 171h1M197 172h1M197 174h1M193 176h1M191 177h1M198 177h1M207 177h1M214 177h1M197 178h1M207 178h1M214 178h1M165 180h1M197 181h1M202 181h1M196 182h1M202 182h1M215 182h1M194 183h3M200 183h2M198 184h2M220 184h1M222 184h1M177 185h1M220 185h1M222 185h1M168 186h1M188 186h1M196 186h3M217 186h1M220 186h3M197 187h4M202 187h2M206 187h2M213 187h1M217 187h1M185 188h1M196 188h1M198 188h1M201 188h2M178 189h1M198 189h4M204 189h1M208 189h2M214 189h1M224 189h1M195 190h1M202 190h1M212 190h1M230 190h1M196 191h2M223 191h1M225 191h1M228 191h1M230 191h1M233 191h1M236 191h1M241 191h1M197 192h2M214 192h2M223 192h1M227 192h1M234 192h1M243 192h3M183 193h1M185 193h1M192 193h1M195 193h4M204 193h1M220 193h3M238 193h1M182 194h1M185 194h2M191 194h1M195 194h1M197 194h1M204 194h1M212 194h1M221 194h1M223 194h2M230 194h1M238 194h2M246 194h1M204 195h1M213 195h1M218 195h1M220 195h1M222 195h2M239 195h1M172 196h1M197 196h1M214 196h1M216 196h5M170 197h1M172 197h1M183 197h1M193 197h1M214 197h1M221 197h3M227 197h1M231 197h1M245 197h1M175 198h1M187 198h1M193 198h1M220 198h1M229 198h1M231 198h1M244 198h3M176 199h1M186 199h2M193 199h1M217 199h1M220 199h1M230 199h2M233 199h1M243 199h1M245 199h2M174 200h1M182 200h1M187 200h1M192 200h1M216 200h1M218 200h1M245 200h1M163 201h2M191 201h1M213 201h2M238 201h1M193 202h1M214 202h2M238 202h1M191 203h2M213 203h2M236 203h2M180 204h1M192 204h1M212 204h2M179 205h1M192 205h1M235 205h1M192 209h1M161 210h1M192 210h2M191 213h3M191 214h1M324 221h1M177 224h2M327 224h1M327 225h1M327 226h1M327 227h1M328 228h1M327 229h1M325 230h1M329 230h2M328 231h3M329 232h2M328 233h2M182 234h2"/>
<path stroke="#e6e199" d="M204 32h1M95 41h1M208 56h1M200 57h2M203 57h1M205 57h2M210 57h1M191 58h1M193 58h2M201 58h2M212 58h2M161 59h1M186 59h3M190 59h1M192 59h1M200 59h2M216 59h2M179 60h1M216 60h1M218 60h1M179 61h1M184 61h1M217 61h1M182 63h2M222 63h2M180 64h1M178 65h2M224 65h1M224 66h1M178 67h1M178 68h1M177 69h1M225 69h1M243 69h2M229 70h1M245 70h1M174 71h2M229 71h1M234 71h1M228 72h1M233 72h1M175 73h1M237 73h2M233 74h1M235 74h1M241 74h1M248 74h1M252 74h1M81 75h1M231 75h1M174 76h1M252 76h1M177 77h1M233 77h1M246 77h3M252 77h1M61 78h1M170 78h1M173 78h1M246 78h1M249 78h1M172 79h1M244 79h2M250 79h1M262 79h2M173 80h1M267 80h2M174 81h2M181 81h1M236 81h1M253 81h1M174 82h2M178 82h2M181 82h1M236 82h1M240 82h2M182 83h2M237 83h2M241 83h2M170 84h2M183 84h1M235 84h1M239 84h2M269 84h1M274 84h1M89 85h1M187 85h1M234 85h1M240 85h1M269 85h1M308 85h1M166 86h1M187 86h1M235 86h2M243 86h2M260 86h1M269 86h1M275 86h1M164 87h2M188 87h1M242 87h1M248 87h2M273 87h2M277 87h1M166 88h1M190 88h1M195 88h1M236 88h1M242 88h2M248 88h1M251 88h1M275 88h2M167 89h1M180 89h1M191 89h1M236 89h1M242 89h3M248 89h1M250 89h1M252 89h2M260 89h1M272 89h2M314 89h1M331 89h1M236 90h1M240 90h2M243 90h3M248 90h1M254 90h1M256 90h1M258 90h1M261 90h1M276 90h2M332 90h1M339 90h1M242 91h1M245 91h2M248 91h2M257 91h1M264 91h1M275 91h1M285 91h4M294 91h2M165 92h1M181 92h1M237 92h1M245 92h1M247 92h1M251 92h1M257 92h1M263 92h1M276 92h1M285 92h3M292 92h2M332 92h1M339 92h1M164 93h1M245 93h1M251 93h4M257 93h1M263 93h1M267 93h1M288 93h3M293 93h1M308 93h1M332 93h1M92 94h1M164 94h1M249 94h1M252 94h1M257 94h1M261 94h1M291 94h1M334 94h1M339 94h1M166 95h1M242 95h2M258 95h2M265 95h2M286 95h1M288 95h1M290 95h1M292 95h1M336 95h1M166 96h1M188 96h1M192 96h1M235 96h1M242 96h1M244 96h1M250 96h1M260 96h1M286 96h1M288 96h2M332 96h1M340 96h1M163 97h1M188 97h1M192 97h1M239 97h1M250 97h1M253 97h2M257 97h1M260 97h1M290 97h2M166 98h1M191 98h1M242 98h3M254 98h1M89 99h1M166 99h1M190 99h1M199 99h1M201 99h1M215 99h1M226 99h2M240 99h1M251 99h5M288 99h1M190 100h1M205 100h1M207 100h2M226 100h1M241 100h1M254 100h1M288 100h1M203 101h1M238 101h1M246 101h1M168 102h1M255 102h4M260 102h2M289 102h2M200 103h1M206 103h1M238 103h2M261 103h1M264 103h1M291 103h3M171 104h1M199 104h1M205 104h1M208 104h1M211 104h2M238 104h1M290 104h1M173 105h1M199 105h1M205 105h1M208 105h3M227 105h1M241 105h1M257 105h1M264 105h1M171 106h6M197 106h2M201 106h2M205 106h1M224 106h1M227 106h1M238 106h1M240 106h3M257 106h1M262 106h2M292 106h2M18 107h1M169 107h1M172 107h1M174 107h1M177 107h1M197 107h2M200 107h1M207 107h1M226 107h2M237 107h1M241 107h1M254 107h1M257 107h1M262 107h1M289 107h1M18 108h1M172 108h1M174 108h3M190 108h2M200 108h1M202 108h1M237 108h2M258 108h1M289 108h1M18 109h2M182 109h1M186 109h1M225 109h1M227 109h1M234 109h1M236 109h1M277 109h1M20 110h1M169 110h1M171 110h1M173 110h2M188 110h1M191 110h1M201 110h1M209 110h2M225 110h1M231 110h1M279 110h2M286 110h1M177 111h1M190 111h1M194 111h2M211 111h1M224 111h4M232 111h2M285 111h1M179 112h1M193 112h1M204 112h1M218 112h2M221 112h1M281 112h1M283 112h1M18 113h1M23 113h1M174 113h1M176 113h1M193 113h1M205 113h1M216 113h1M221 113h1M226 113h1M230 113h3M236 113h3M251 113h2M279 113h1M284 113h1M174 114h1M176 114h1M190 114h1M193 114h1M206 114h1M232 114h2M236 114h1M240 114h1M252 114h2M275 114h1M26 115h1M231 115h1M241 115h2M19 116h1M27 116h1M191 116h2M201 116h1M225 116h3M243 116h1M256 116h1M29 117h1M180 117h1M191 117h1M193 117h1M218 117h1M221 117h2M225 117h1M229 117h2M234 117h1M237 117h1M247 117h1M255 117h1M21 118h1M193 118h2M200 118h1M208 118h1M210 118h1M220 118h1M222 118h1M227 118h1M229 118h1M233 118h1M254 118h1M30 119h1M199 119h3M206 119h2M211 119h2M215 119h1M219 119h1M222 119h1M230 119h2M21 120h1M196 120h1M208 120h1M210 120h1M224 120h2M254 120h1M21 121h1M194 121h1M209 121h1M216 121h1M218 121h1M272 121h1M21 122h1M197 122h1M216 122h1M219 122h1M271 122h2M23 123h1M193 123h1M196 123h1M198 123h1M201 123h1M211 123h1M214 123h1M226 123h1M21 124h1M171 124h1M194 124h2M203 124h1M216 124h1M219 124h1M224 124h2M257 124h1M25 125h1M201 125h1M215 125h2M220 125h1M257 125h2M26 126h1M201 126h1M203 126h2M206 126h1M216 126h1M222 126h2M26 127h1M175 127h1M182 127h2M201 127h1M222 127h1M264 127h1M28 128h1M30 128h1M176 128h1M186 128h2M205 128h1M259 128h3M186 129h1M193 129h1M201 129h1M204 129h1M212 129h1M237 129h4M170 130h2M185 130h2M188 130h1M196 130h1M216 130h1M250 130h1M170 131h2M188 131h1M190 131h1M192 131h1M195 131h1M216 131h1M234 131h3M170 132h3M189 132h1M218 132h1M233 132h3M243 132h1M245 132h1M172 133h1M219 133h1M172 134h1M177 134h3M189 134h1M192 134h2M220 134h1M183 135h1M189 135h1M197 135h1M220 135h1M28 136h1M180 136h1M183 136h1M188 136h1M195 136h1M181 137h1M185 137h4M221 137h1M27 138h1M29 138h1M180 138h1M183 138h1M192 138h1M222 138h1M27 139h1M188 139h1M197 139h1M200 139h1M220 139h1M222 139h1M27 140h1M184 140h1M187 140h2M195 140h3M220 140h1M222 140h1M325 140h1M31 141h1M191 141h1M195 141h2M215 141h1M28 142h1M178 142h1M192 142h2M198 142h1M221 142h1M31 143h1M179 143h1M184 143h2M193 143h1M197 143h2M217 143h3M222 143h1M253 143h1M183 144h3M187 144h2M191 144h1M194 144h1M220 144h1M253 144h1M193 145h1M195 145h1M217 145h3M252 145h1M182 146h2M189 146h1M251 146h1M182 147h5M188 147h1M195 147h1M199 147h1M201 147h1M222 147h1M182 148h1M184 148h1M200 148h1M216 148h1M220 148h3M326 148h1M184 149h1M187 149h1M195 149h1M200 149h1M202 149h1M218 149h2M329 149h2M182 150h2M186 150h1M199 150h1M202 150h1M191 151h1M193 151h2M199 151h1M202 151h1M215 151h1M219 151h1M182 152h1M186 152h1M198 152h1M200 152h4M214 152h1M219 152h1M197 153h1M213 153h1M215 153h1M188 154h1M208 154h3M215 154h2M193 155h1M197 155h1M199 155h1M212 155h5M182 156h3M193 156h1M199 156h1M181 157h1M205 157h1M208 157h1M183 158h1M207 158h1M184 159h1M186 159h1M205 159h1M209 159h2M184 160h3M192 160h1M200 160h1M204 160h1M208 160h4M184 161h1M187 161h1M192 161h1M199 161h1M204 161h1M211 161h1M181 162h1M183 162h1M181 163h3M188 163h2M197 163h1M207 163h1M181 164h1M191 164h1M198 164h1M181 165h2M184 165h1M186 165h1M190 165h1M195 165h1M216 165h1M183 166h3M196 166h1M199 166h1M205 166h1M216 166h2M184 167h2M309 174h1M191 176h1M192 177h1M205 177h1M205 178h2M164 179h1M203 180h1M199 181h1M203 181h1M207 181h1M199 182h1M216 182h1M199 183h1M197 184h1M200 184h1M221 184h1M221 185h1M179 186h1M185 187h1M212 187h1M172 188h1M175 188h2M197 188h1M199 188h2M205 188h1M211 188h1M213 188h1M215 188h2M171 189h1M195 189h1M212 189h1M171 190h1M197 190h1M203 190h1M211 190h1M215 190h1M223 190h2M171 191h1M215 191h1M224 191h1M229 191h1M185 192h1M203 192h1M209 192h1M224 192h1M226 192h1M228 192h1M231 192h1M236 192h2M194 193h1M209 193h1M223 193h2M228 193h1M230 193h1M235 193h1M240 193h1M245 193h1M194 194h1M198 194h1M225 194h1M229 194h1M193 195h1M212 195h1M221 195h1M224 195h2M229 195h2M238 195h1M245 195h1M192 196h1M194 196h2M198 196h1M221 196h2M227 196h1M196 197h1M215 197h1M218 197h3M228 197h1M230 197h1M183 198h1M230 198h1M243 198h1M165 199h1M174 199h1M185 199h1M216 199h1M218 199h2M185 200h1M237 200h2M174 201h3M192 201h1M235 201h1M237 201h1M193 203h1M161 204h2M214 204h2M168 205h2M209 205h1M213 205h1M193 206h1M163 207h2M193 208h1M193 209h1M194 210h1M193 211h1M186 213h1M194 214h1M327 217h1M329 218h1M324 220h1M329 222h1M328 223h1M179 224h1M178 225h1M328 227h1M326 228h2M172 229h1M325 229h1M326 230h1M328 232h1M183 233h1"/>
<path stroke="#eae09a" d="M202 33h1M97 49h1M204 57h1M207 57h1M214 57h1M120 58h1M195 58h1M197 58h1M200 58h1M215 58h1M185 59h1M191 59h1M202 59h1M185 60h2M198 60h3M217 60h1M216 61h1M218 61h1M220 61h1M220 62h1M220 63h2M224 63h1M224 64h1M178 66h2M176 70h1M225 70h1M230 70h2M233 70h1M244 70h1M93 71h1M176 71h1M221 71h1M230 71h1M233 71h1M176 72h1M221 72h1M229 72h2M232 72h1M180 73h1M182 73h1M226 73h1M233 73h1M175 74h1M180 74h1M182 74h1M231 74h1M234 74h1M236 74h1M239 74h1M240 75h1M244 75h1M177 76h2M234 76h1M244 76h1M174 77h1M178 77h1M234 77h1M236 77h1M244 77h1M235 78h2M238 78h1M243 78h1M248 78h1M173 79h1M235 79h4M243 79h1M246 79h1M172 80h1M180 80h1M239 80h1M252 80h1M262 80h2M170 81h1M172 81h1M179 81h2M182 81h1M240 81h1M264 81h1M267 81h2M170 82h1M173 82h1M235 82h1M239 82h1M264 82h1M266 82h1M269 82h1M171 83h2M178 83h2M235 83h1M249 83h1M265 83h1M269 83h1M89 84h1M188 84h1M254 84h1M270 84h2M167 85h3M171 85h1M196 85h2M232 85h2M243 85h2M254 85h1M260 85h2M273 85h1M167 86h1M189 86h1M195 86h1M234 86h1M241 86h2M245 86h1M268 86h1M274 86h1M185 87h1M187 87h1M189 87h2M195 87h1M235 87h2M243 87h2M247 87h1M269 87h2M272 87h1M279 87h1M164 88h2M167 88h1M180 88h1M184 88h1M188 88h1M191 88h1M244 88h4M250 88h1M253 88h1M259 88h2M271 88h1M274 88h1M281 88h1M182 89h1M188 89h1M197 89h1M235 89h1M247 89h1M251 89h1M254 89h1M257 89h2M282 89h1M166 90h1M181 90h2M192 90h3M253 90h1M260 90h1M278 90h1M284 90h1M333 90h1M336 90h3M166 91h1M181 91h1M190 91h1M236 91h1M252 91h3M256 91h1M262 91h2M265 91h1M279 91h1M284 91h1M339 91h1M186 92h2M236 92h1M238 92h1M242 92h1M252 92h2M256 92h1M266 92h1M165 93h2M186 93h2M242 93h1M247 93h1M261 93h2M278 93h1M285 93h2M291 93h2M338 93h1M93 94h1M165 94h2M189 94h2M242 94h1M250 94h2M259 94h2M288 94h1M335 94h1M338 94h1M164 95h1M191 95h1M237 95h2M249 95h1M251 95h1M260 95h2M285 95h1M337 95h1M339 95h2M164 96h2M234 96h1M239 96h1M243 96h1M262 96h1M287 96h1M292 96h1M164 97h1M167 97h1M234 97h1M244 97h1M261 97h1M167 98h1M189 98h1M192 98h1M196 98h1M200 98h2M205 98h1M215 98h1M240 98h2M250 98h4M255 98h1M257 98h2M260 98h1M167 99h1M193 99h1M196 99h1M206 99h1M214 99h1M228 99h1M237 99h1M241 99h1M256 99h2M167 100h1M193 100h1M199 100h1M203 100h2M209 100h1M214 100h1M225 100h1M255 100h3M168 101h1M187 101h4M204 101h2M210 101h1M225 101h2M228 101h2M255 101h5M197 102h1M199 102h1M201 102h3M206 102h1M224 102h1M227 102h2M238 102h1M169 103h1M197 103h2M201 103h2M227 103h1M232 103h1M234 103h1M240 103h2M262 103h2M290 103h1M176 104h1M201 104h1M227 104h1M233 104h1M239 104h1M241 104h1M265 104h1M289 104h1M174 105h4M191 105h1M197 105h1M201 105h1M226 105h1M232 105h1M236 105h1M239 105h2M287 105h1M178 106h1M199 106h2M203 106h2M208 106h1M225 106h2M228 106h1M236 106h1M239 106h1M287 106h1M170 107h2M175 107h2M178 107h1M187 107h1M199 107h1M224 107h2M234 107h1M236 107h1M238 107h1M288 107h1M169 108h1M177 108h2M186 108h2M194 108h1M196 108h1M199 108h1M207 108h1M211 108h1M226 108h2M234 108h3M255 108h1M257 108h1M261 108h1M279 108h2M287 108h1M169 109h1M183 109h3M187 109h1M190 109h1M194 109h2M200 109h3M207 109h2M211 109h2M237 109h1M257 109h2M276 109h1M287 109h2M170 110h1M190 110h1M195 110h1M202 110h1M214 110h1M221 110h1M223 110h1M233 110h1M236 110h2M281 110h1M21 111h1M173 111h1M175 111h2M193 111h1M202 111h1M212 111h1M215 111h1M230 111h1M237 111h1M254 111h1M275 111h1M278 111h1M280 111h3M22 112h1M174 112h1M176 112h1M191 112h1M203 112h1M215 112h2M220 112h1M228 112h1M236 112h1M254 112h1M275 112h1M277 112h4M284 112h1M175 113h1M191 113h1M204 113h1M215 113h1M228 113h2M253 113h1M255 113h2M274 113h2M278 113h1M20 114h1M25 114h1M175 114h1M191 114h2M201 114h1M237 114h3M251 114h1M254 114h1M201 115h1M206 115h1M234 116h1M237 116h1M241 116h2M28 117h1M192 117h1M198 117h2M202 117h1M206 117h1M226 117h3M239 117h1M256 117h1M271 117h1M197 118h3M202 118h1M205 118h1M209 118h1M216 118h3M228 118h1M230 118h3M255 118h1M272 118h1M196 119h1M198 119h1M208 119h3M228 119h2M255 119h1M273 119h1M197 120h1M207 120h1M209 120h1M214 120h2M219 120h1M223 120h1M255 120h1M272 120h1M196 121h2M200 121h1M208 121h1M217 121h1M219 121h1M256 121h1M196 122h1M199 122h1M201 122h1M208 122h1M217 122h1M226 122h1M254 122h1M256 122h1M21 123h2M212 123h2M216 123h2M224 123h2M270 123h1M22 124h1M214 124h1M220 124h1M258 124h1M32 125h1M204 125h1M221 125h1M223 125h1M266 125h2M32 126h1M202 126h1M215 126h1M262 126h1M264 126h1M27 127h1M203 127h1M216 127h1M258 127h1M261 127h1M29 128h1M203 128h1M212 128h1M250 128h1M263 128h1M198 129h2M203 129h1M205 129h1M250 129h1M197 130h1M203 130h1M215 130h1M237 130h1M191 131h1M196 131h1M203 131h1M215 131h1M237 131h1M243 131h2M244 132h1M189 133h1M194 134h1M197 134h2M211 134h1M198 135h1M219 135h1M26 136h1M184 136h1M196 136h2M220 136h1M26 137h2M180 137h1M183 137h1M189 137h1M195 137h2M220 137h1M28 138h1M187 138h1M197 138h2M220 138h2M198 139h1M219 139h1M221 139h1M185 140h2M192 140h1M194 140h1M198 140h2M201 140h1M215 140h1M221 140h1M197 141h4M216 141h1M221 141h1M194 142h1M197 142h1M199 142h1M218 142h1M220 142h1M336 142h1M32 143h1M194 143h1M199 143h1M192 144h2M195 144h1M198 144h1M217 144h3M190 145h1M192 145h1M198 145h1M194 146h2M199 146h1M252 146h1M191 147h1M194 147h1M216 147h1M218 147h1M220 147h1M188 148h1M191 148h1M194 148h1M196 148h1M215 148h1M217 148h1M332 148h1M182 149h2M196 149h1M199 149h1M216 149h2M190 150h5M219 150h2M186 151h1M189 151h2M195 151h1M220 151h1M188 152h1M196 152h2M199 152h1M204 152h1M182 153h1M188 153h1M199 153h1M202 153h2M210 153h3M194 154h1M199 154h1M189 155h1M194 155h1M202 155h1M207 155h1M194 156h1M198 156h1M207 156h1M182 157h5M191 157h1M199 157h1M206 157h1M181 158h2M184 158h1M186 158h1M188 158h1M200 158h2M205 158h2M181 159h2M185 159h1M188 159h1M191 159h2M198 159h1M181 160h1M187 160h2M191 160h1M193 160h1M196 160h1M199 160h1M181 161h1M188 161h1M193 161h1M196 161h1M202 161h1M182 162h1M185 162h4M192 162h5M184 163h1M186 163h2M191 163h2M182 164h3M187 164h2M190 164h1M192 164h1M183 165h1M187 165h2M191 165h2M194 165h1M196 165h1M198 165h1M204 167h2M192 176h1M206 177h1M198 181h1M197 182h1M197 183h1M167 186h1M178 188h1M206 188h2M196 189h2M207 189h1M210 189h1M215 189h2M196 190h1M207 190h4M203 191h1M225 192h1M230 192h1M242 192h1M193 193h1M225 193h3M229 193h1M231 193h1M234 193h1M192 194h1M207 194h1M211 194h1M228 194h1M235 194h3M192 195h1M208 195h1M226 195h1M228 195h1M236 195h1M193 196h1M212 196h2M223 196h2M228 196h4M244 196h1M194 197h2M200 197h3M216 197h2M229 197h1M244 197h1M173 198h1M196 198h1M216 198h4M232 198h1M241 199h2M165 200h1M184 200h1M186 200h1M193 200h1M214 200h2M234 200h1M193 201h1M215 201h1M236 201h1M161 202h1M194 202h2M213 202h1M236 202h2M194 203h2M160 204h1M193 204h1M211 204h1M193 205h3M208 205h1M210 205h1M212 205h1M194 206h1M194 209h1M194 211h2M312 211h1M193 212h1M326 217h1M329 219h1M329 220h1M325 222h1M326 223h1M170 229h1M326 229h1"/>
<path stroke="#e8db96" d="M201 32h1M98 49h1M208 57h2M203 58h1M211 58h1M214 58h1M193 59h1M197 59h1M215 59h1M187 60h2M201 60h1M215 60h1M219 61h1M217 62h3M218 63h2M183 64h1M221 64h3M180 65h1M180 66h1M182 66h1M222 66h2M179 67h1M222 67h3M178 69h1M232 70h1M94 71h1M222 71h1M225 71h1M231 71h2M220 72h1M222 72h2M225 72h1M179 73h1M223 73h3M227 73h1M232 73h1M179 74h1M237 74h2M242 74h2M175 75h1M178 75h1M181 75h1M238 75h2M241 75h1M175 76h2M237 76h1M240 76h4M176 77h1M235 77h1M238 77h1M240 77h1M243 77h1M174 78h1M181 78h1M237 78h1M239 78h2M247 78h1M179 79h4M239 79h1M242 79h1M249 79h1M171 80h1M175 80h1M179 80h1M181 80h2M236 80h3M240 80h3M176 81h1M178 81h1M237 81h1M239 81h1M241 81h2M252 81h1M262 81h2M172 82h1M180 82h1M233 82h1M237 82h2M249 82h1M253 82h1M233 83h1M243 83h1M264 83h1M266 83h1M172 84h1M233 84h2M241 84h4M249 84h1M261 84h1M268 85h1M272 85h1M275 85h1M169 86h1M198 86h1M254 86h1M261 86h1M270 86h1M273 86h1M166 87h2M184 87h1M186 87h1M191 87h1M198 87h1M245 87h2M250 87h3M260 87h2M271 87h1M278 87h1M179 88h1M182 88h2M192 88h1M235 88h1M254 88h2M265 88h1M269 88h2M277 88h3M181 89h1M192 89h2M196 89h1M255 89h2M259 89h1M278 89h2M188 90h1M235 90h1M250 90h1M252 90h1M255 90h1M259 90h1M262 90h1M273 90h1M275 90h1M283 90h1M182 91h1M186 91h2M189 91h1M191 91h1M240 91h2M250 91h2M258 91h1M274 91h1M283 91h1M166 92h1M180 92h1M182 92h1M235 92h1M239 92h1M246 92h1M254 92h2M262 92h1M267 92h1M279 92h1M284 92h1M338 92h1M188 93h1M268 93h1M277 93h1M287 93h1M167 94h1M196 94h2M238 94h1M258 94h1M267 94h1M285 94h2M336 94h2M165 95h1M167 95h1M188 95h1M192 95h1M239 95h1M250 95h1M280 95h1M287 95h1M291 95h1M167 96h1M187 96h1M241 96h1M261 96h1M263 96h1M266 96h1M285 96h1M92 97h1M187 97h1M215 97h2M240 97h4M256 97h1M268 97h1M285 97h1M287 97h1M168 98h1M188 98h1M193 98h1M197 98h1M199 98h1M202 98h1M214 98h1M216 98h1M222 98h1M226 98h2M235 98h1M256 98h1M259 98h1M285 98h1M191 99h2M197 99h2M202 99h3M229 99h1M236 99h1M260 99h1M270 99h1M287 99h1M168 100h2M185 100h2M191 100h2M194 100h1M198 100h1M200 100h1M212 100h2M227 100h3M258 100h3M270 100h1M186 101h1M193 101h2M197 101h1M213 101h1M224 101h1M260 101h2M271 101h2M287 101h1M169 102h1M187 102h1M196 102h1M198 102h1M200 102h1M204 102h1M223 102h1M226 102h1M262 102h2M272 102h1M287 102h2M170 103h2M176 103h2M203 103h3M213 103h1M223 103h1M265 103h1M289 103h1M174 104h2M177 104h1M196 104h3M204 104h1M213 104h1M226 104h1M232 104h1M237 104h1M240 104h1M288 104h1M196 105h1M198 105h1M202 105h1M204 105h1M211 105h2M224 105h1M228 105h2M231 105h1M233 105h1M187 106h1M209 106h2M231 106h3M191 107h1M210 107h2M220 107h1M228 107h1M235 107h1M287 107h1M179 108h4M185 108h1M192 108h2M210 108h1M212 108h1M224 108h2M256 108h1M259 108h1M288 108h1M171 109h1M210 109h1M213 109h1M224 109h1M231 109h1M233 109h1M255 109h1M281 109h1M19 110h1M189 110h1M211 110h1M213 110h1M224 110h1M228 110h1M230 110h1M232 110h1M255 110h1M257 110h1M174 111h1M191 111h1M216 111h4M221 111h1M228 111h1M236 111h1M279 111h1M283 111h2M18 112h1M175 112h1M192 112h1M202 112h1M274 112h1M276 112h1M19 113h1M192 113h1M202 113h1M254 113h1M257 113h1M276 113h2M21 114h1M24 114h1M202 114h1M205 114h1M257 114h1M274 114h1M20 115h1M202 115h1M205 115h1M237 115h1M240 115h1M274 115h1M20 116h1M202 116h3M240 116h1M271 116h1M21 117h1M203 117h1M238 117h1M221 118h1M271 118h1M197 119h1M202 119h1M205 119h1M218 119h1M220 119h1M272 119h1M198 120h1M200 120h4M206 120h1M220 120h1M271 120h1M195 121h1M201 121h1M207 121h1M220 121h1M225 121h1M254 121h2M271 121h1M22 122h3M194 122h1M198 122h1M220 122h1M255 122h1M257 122h1M270 122h1M195 123h1M202 123h1M208 123h1M220 123h1M257 123h1M25 124h1M204 124h2M209 124h2M221 124h1M223 124h1M205 125h2M210 125h2M214 125h1M222 125h1M268 125h1M214 126h1M258 126h1M261 126h1M263 126h1M202 127h1M262 127h2M202 128h1M213 128h1M216 128h1M262 128h1M213 129h1M216 129h1M200 130h2M204 130h3M212 130h1M214 130h1M202 131h1M206 131h1M193 132h2M203 132h1M216 132h1M193 133h2M218 133h1M190 134h1M212 134h1M219 134h1M190 135h1M192 135h2M195 135h2M212 135h1M217 135h2M27 136h1M189 136h1M198 136h1M219 136h1M28 137h1M184 137h1M190 137h2M197 137h1M184 138h3M193 138h1M196 138h1M199 138h1M28 139h2M184 139h1M187 139h1M193 139h1M196 139h1M199 139h1M201 139h1M28 140h1M193 140h1M219 140h1M28 141h2M192 141h3M220 141h1M195 142h2M217 142h1M219 142h1M195 143h2M196 144h2M199 144h1M191 145h1M199 145h1M215 145h2M190 146h1M193 146h1M198 146h1M200 146h1M216 146h1M219 146h1M189 147h2M192 147h2M190 148h1M199 148h1M202 148h1M218 148h2M190 149h2M194 149h1M197 149h2M215 149h1M195 150h2M198 150h1M215 150h1M188 151h1M196 151h3M203 151h1M214 151h1M187 152h1M205 152h1M187 153h1M195 153h1M201 153h1M204 153h2M196 154h1M202 154h1M195 155h2M200 155h1M203 155h1M205 155h1M187 156h1M189 156h1M197 156h1M200 156h1M205 156h2M189 157h2M192 157h1M194 157h2M197 157h2M200 157h1M207 157h1M185 158h1M187 158h1M189 158h1M191 158h2M197 158h3M187 159h1M189 159h1M197 159h1M200 159h1M204 159h1M182 160h2M189 160h2M201 160h1M183 161h1M191 161h1M203 161h1M189 162h1M191 162h1M185 163h1M190 163h1M194 163h3M195 164h1M193 165h1M197 165h1M198 183h1M212 188h1M205 189h2M211 189h1M209 191h1M204 192h1M229 192h1M232 192h2M236 193h2M243 193h2M193 194h1M208 194h3M226 194h2M231 194h1M240 194h1M245 194h1M207 195h1M209 195h1M211 195h1M227 195h1M231 195h1M235 195h1M237 195h1M240 195h1M243 195h2M211 196h1M239 196h1M243 196h1M199 197h1M203 197h1M213 197h1M243 197h1M194 198h2M201 198h1M214 198h2M194 199h3M215 199h1M238 199h1M240 199h1M213 200h1M176 202h1M196 202h1M212 203h1M194 204h1M209 204h2M196 205h1M211 205h1M195 206h2M205 206h1M205 207h1M205 208h1M195 210h1M194 212h2M194 213h2M311 213h1M195 214h1M329 221h1M327 223h1"/>
<path stroke="#e7d692" d="M196 58h1M213 59h2M189 60h3M197 60h1M185 61h2M198 61h1M200 61h1M184 62h1M181 64h2M218 64h1M220 64h1M221 65h3M181 66h1M221 66h1M182 67h1M179 68h2M179 69h2M177 70h1M222 70h1M224 70h1M220 71h1M223 71h2M181 72h2M231 72h1M176 73h1M229 73h3M230 74h1M177 75h1M179 75h2M230 75h1M234 75h1M237 75h1M242 75h2M231 76h1M236 76h1M238 76h1M232 77h1M237 77h1M239 77h1M241 77h1M175 78h4M180 78h1M241 78h2M174 79h3M185 79h1M234 79h1M240 79h2M247 79h2M174 80h1M176 80h1M230 80h1M235 80h1M243 80h1M245 80h1M249 80h3M171 81h1M177 81h1M235 81h1M171 82h1M183 82h1M234 82h1M243 82h1M245 82h2M248 82h1M250 82h1M252 82h1M262 82h2M268 82h1M173 83h2M180 83h2M234 83h1M245 83h1M248 83h1M253 83h1M261 83h3M182 84h1M187 84h1M232 84h1M245 84h1M248 84h1M262 84h2M170 85h1M172 85h2M189 85h1M198 85h1M241 85h2M245 85h1M253 85h1M262 85h1M270 85h1M274 85h1M170 86h1M185 86h2M190 86h1M246 86h1M248 86h2M262 86h1M266 86h2M272 86h1M168 87h1M199 87h1M234 87h1M253 87h2M266 87h3M181 88h1M185 88h1M187 88h1M193 88h2M198 88h1M262 88h1M266 88h1M280 88h1M179 89h1M187 89h1M194 89h2M198 89h1M262 89h1M269 89h1M271 89h1M276 89h2M167 90h1M172 90h1M175 90h1M180 90h1M187 90h1M223 90h2M251 90h1M263 90h2M274 90h1M279 90h1M282 90h1M176 91h1M180 91h1M188 91h1M194 91h1M223 91h2M235 91h1M255 91h1M261 91h1M266 91h2M273 91h1M282 91h1M338 91h1M171 92h1M188 92h1M219 92h1M241 92h1M258 92h1M268 92h1M275 92h1M283 92h1M167 93h1M182 93h1M197 93h1M236 93h1M238 93h1M246 93h1M258 93h1M260 93h1M269 93h2M276 93h1M284 93h1M191 94h1M237 94h1M239 94h1M269 94h2M280 94h1M287 94h1M193 95h1M197 95h1M233 95h1M236 95h1M241 95h1M267 95h1M270 95h1M279 95h1M193 96h1M215 96h1M233 96h1M240 96h1M264 96h2M267 96h1M269 96h2M290 96h2M193 97h1M214 97h1M225 97h1M255 97h1M262 97h1M266 97h2M269 97h1M194 98h2M206 98h1M221 98h1M223 98h1M225 98h1M228 98h1M231 98h1M261 98h1M268 98h2M287 98h1M168 99h2M189 99h1M194 99h2M216 99h1M218 99h2M225 99h1M230 99h1M258 99h2M261 99h1M269 99h1M285 99h2M187 100h1M189 100h1M197 100h1M201 100h2M215 100h1M218 100h2M224 100h1M230 100h1M237 100h1M261 100h1M271 100h1M287 100h1M169 101h1M191 101h2M195 101h1M198 101h2M201 101h2M214 101h1M227 101h1M230 101h1M262 101h1M173 102h1M177 102h1M186 102h1M188 102h2M194 102h2M205 102h1M213 102h1M221 102h1M225 102h1M233 102h2M264 102h1M273 102h1M174 103h1M179 103h1M196 103h1M222 103h1M224 103h1M226 103h1M235 103h1M266 103h4M191 104h1M195 104h1M202 104h2M228 104h1M234 104h3M266 104h1M178 105h1M187 105h2M190 105h1M195 105h1M203 105h1M225 105h1M230 105h1M235 105h1M265 105h1M281 105h1M286 105h1M182 106h1M191 106h1M196 106h1M211 106h1M223 106h1M229 106h2M234 106h2M264 106h1M286 106h1M181 107h2M186 107h1M223 107h1M231 107h1M233 107h1M263 107h1M280 107h1M170 108h2M183 108h2M188 108h2M195 108h1M213 108h1M219 108h1M228 108h1M233 108h1M260 108h1M262 108h1M278 108h1M170 109h1M192 109h2M209 109h1M214 109h1M221 109h3M230 109h1M232 109h1M256 109h1M261 109h1M286 109h1M18 110h1M194 110h1M212 110h1M215 110h2M258 110h1M275 110h1M285 110h1M20 111h1M192 111h1M220 111h1M255 111h1M21 112h1M229 112h1M255 112h1M20 113h3M203 113h1M258 113h1M273 113h1M22 114h2M203 114h2M25 115h1M203 115h2M238 115h2M257 115h1M26 116h1M205 116h2M238 116h2M204 117h2M29 118h1M203 118h2M22 119h1M203 119h1M221 119h1M256 119h1M271 119h1M22 120h1M30 120h1M199 120h1M216 120h1M218 120h1M222 120h1M256 120h2M198 121h2M202 121h1M224 121h1M257 121h1M195 122h1M202 122h1M224 122h2M258 122h1M194 123h1M221 123h1M223 123h1M258 123h1M206 124h1M211 124h3M259 124h1M269 124h1M212 125h2M259 125h1M262 125h1M27 126h1M211 126h2M28 127h1M31 127h1M206 127h1M212 127h4M260 127h1M202 129h1M211 129h1M214 129h2M198 130h2M202 130h1M213 130h1M197 131h1M200 131h1M207 131h2M190 132h1M192 132h1M197 132h1M215 132h1M217 132h1M192 133h1M197 133h2M211 133h1M191 134h1M195 134h2M210 134h1M216 134h3M194 135h1M209 135h3M213 135h1M218 136h1M192 137h1M198 137h2M219 137h1M194 138h1M219 138h1M185 139h2M194 139h2M29 140h2M202 140h1M218 140h1M30 141h1M201 141h1M217 141h3M200 142h1M215 142h1M200 143h2M200 144h4M215 144h2M197 145h1M202 145h2M191 146h2M196 147h1M219 147h1M192 148h2M188 149h1M193 149h1M187 150h1M189 150h1M197 150h1M203 150h1M187 151h1M204 151h2M213 152h1M196 153h1M200 153h1M209 153h1M195 154h1M203 154h1M205 154h1M188 155h1M201 155h1M204 155h1M206 155h1M195 156h1M201 156h2M204 156h1M187 157h2M193 157h1M196 157h1M201 157h2M204 157h1M190 158h1M195 158h2M202 158h1M204 158h1M190 159h1M193 159h1M196 159h1M199 159h1M201 159h1M182 161h1M189 161h2M194 161h2M190 162h1M193 163h1M193 164h2M197 164h1M198 182h1M204 190h1M206 190h1M207 191h2M208 192h1M241 192h1M207 193h2M206 194h1M234 194h1M243 194h1M210 195h1M241 195h2M204 196h1M240 196h1M197 197h1M211 197h2M232 197h1M240 197h1M200 198h1M211 198h1M233 198h1M241 198h2M214 199h1M195 200h1M195 201h2M212 201h1M195 204h1M177 205h1M208 206h2M194 207h1M194 208h1M195 209h1M196 213h1M325 218h1M328 218h1"/>
<path stroke="#e6d18e" d="M205 58h2M210 58h1M194 59h1M203 59h1M212 59h1M192 60h1M202 60h1M214 60h1M187 61h2M199 61h1M201 61h1M187 62h1M198 62h2M192 63h1M217 63h1M217 64h1M219 64h1M181 65h3M218 65h3M180 67h2M221 67h1M181 68h1M224 68h1M224 69h1M178 70h1M223 70h1M177 71h1M177 72h3M224 72h1M178 73h1M219 73h4M178 74h1M224 74h3M176 75h1M182 75h1M236 75h1M179 76h1M181 76h1M230 76h1M235 76h1M239 76h1M175 77h1M179 77h1M181 77h1M242 77h1M179 78h1M182 78h1M185 78h1M201 78h1M234 78h1M178 79h1M186 79h1M227 79h1M177 80h2M185 80h2M233 80h2M244 80h1M246 80h1M233 81h1M238 81h1M243 81h1M246 81h1M248 81h4M176 82h2M247 82h1M251 82h1M261 82h1M267 82h1M175 83h1M184 83h1M232 83h1M244 83h1M250 83h1M252 83h1M173 84h1M178 84h2M184 84h1M193 84h1M196 84h2M250 84h1M253 84h1M268 84h1M174 85h1M183 85h2M193 85h3M248 85h2M263 85h1M266 85h2M271 85h1M191 86h1M231 86h3M247 86h1M250 86h1M253 86h1M271 86h1M169 87h1M183 87h1M192 87h3M262 87h1M265 87h1M168 88h1M186 88h1M199 88h1M231 88h1M234 88h1M264 88h1M268 88h1M168 89h1M172 89h1M183 89h1M263 89h4M268 89h1M270 89h1M274 89h2M280 89h2M171 90h1M173 90h2M176 90h1M183 90h1M186 90h1M222 90h1M265 90h4M272 90h1M334 90h2M172 91h1M175 91h1M192 91h2M222 91h1M225 91h1M259 91h1M268 91h1M333 91h1M170 92h1M220 92h1M234 92h1M240 92h1M261 92h1M269 92h1M274 92h1M282 92h1M169 93h3M181 93h1M183 93h1M185 93h1M189 93h1M196 93h1M235 93h1M237 93h1M239 93h1M241 93h1M259 93h1M283 93h1M333 93h1M337 93h1M177 94h1M185 94h1M188 94h1M234 94h3M268 94h1M276 94h1M198 95h1M234 95h2M240 95h1M269 95h1M284 95h1M198 96h1M213 96h2M216 96h1M221 96h1M280 96h1M284 96h1M168 97h4M198 97h1M205 97h1M213 97h1M223 97h2M226 97h1M233 97h1M265 97h1M270 97h1M282 97h1M284 97h1M286 97h1M169 98h1M171 98h2M187 98h1M198 98h1M203 98h2M217 98h1M219 98h2M230 98h1M232 98h1M234 98h1M262 98h1M267 98h1M270 98h2M282 98h1M286 98h1M170 99h1M185 99h4M207 99h1M209 99h1M213 99h1M217 99h1M220 99h2M231 99h3M262 99h1M268 99h1M271 99h1M170 100h1M188 100h1M195 100h1M262 100h1M266 100h4M286 100h1M170 101h1M196 101h1M200 101h1M220 101h2M223 101h1M263 101h1M266 101h1M270 101h1M170 102h1M172 102h1M176 102h1M190 102h2M193 102h1M214 102h1M220 102h1M222 102h1M268 102h1M271 102h1M286 102h1M175 103h1M178 103h1M180 103h1M194 103h2M272 103h1M287 103h2M178 104h1M180 104h1M194 104h1M224 104h2M231 104h1M287 104h1M192 105h1M213 105h1M234 105h1M266 105h1M282 105h1M181 106h1M186 106h1M188 106h1M212 106h1M220 106h3M267 106h1M281 106h1M285 106h1M179 107h1M188 107h3M192 107h3M196 107h1M208 107h1M212 107h1M229 107h2M232 107h1M279 107h1M286 107h1M208 108h2M214 108h1M220 108h1M229 108h1M231 108h2M277 108h1M281 108h1M284 108h1M286 108h1M188 109h2M228 109h2M260 109h1M275 109h1M192 110h2M229 110h1M256 110h1M282 110h3M18 111h1M229 111h1M259 112h2M258 114h1M273 114h1M21 115h1M23 115h2M272 115h2M21 116h1M257 116h1M27 117h1M22 118h1M28 118h1M256 118h1M29 119h1M204 119h1M216 119h2M204 120h2M217 120h1M221 120h1M270 120h1M22 121h1M203 121h1M206 121h1M223 121h1M270 121h1M31 122h1M207 122h1M259 122h1M205 123h3M222 123h1M259 123h2M207 124h2M222 124h1M260 124h2M267 124h1M26 125h1M207 125h1M261 125h1M263 125h1M265 125h1M213 126h1M259 127h1M214 128h1M211 130h1M198 131h2M201 131h1M204 131h2M212 131h1M214 131h1M195 132h2M198 132h1M202 132h1M206 132h1M190 133h1M196 133h1M210 133h1M215 133h3M199 134h1M209 134h1M213 134h2M191 135h1M216 135h1M190 136h3M194 136h1M199 136h1M209 136h2M217 136h1M194 137h1M195 138h1M200 138h1M202 139h1M218 139h1M203 140h1M216 140h1M202 141h1M216 142h1M202 143h1M204 143h1M215 143h2M196 145h1M200 145h2M196 146h1M201 146h1M198 147h1M202 147h1M215 147h1M189 148h1M197 148h2M206 148h1M214 148h1M189 149h1M192 149h1M203 149h1M206 149h1M188 150h1M204 150h3M214 150h1M206 151h1M206 152h1M200 154h2M204 154h1M207 154h1M188 156h1M196 156h1M203 156h1M193 158h2M194 160h2M202 160h2M196 164h1M204 191h1M172 192h1M207 192h1M205 193h2M233 193h1M242 193h1M205 194h1M241 194h2M244 194h1M205 195h1M182 196h1M208 196h3M232 196h1M236 196h1M238 196h1M241 196h2M210 197h1M239 197h1M241 197h2M202 198h1M210 198h1M213 198h1M237 198h2M240 198h1M199 199h2M234 199h1M239 199h1M194 200h1M194 201h1M209 201h1M211 201h1M196 203h1M210 203h2M208 204h1M205 205h1M207 205h1M206 207h1M195 208h2M196 209h1"/>
<path stroke="#e4cc8a" d="M204 58h1M207 58h1M209 58h1M195 59h2M213 60h1M197 61h1M215 61h1M186 62h1M192 62h1M200 62h1M216 62h1M184 63h1M187 63h1M192 64h1M183 66h1M191 66h1M182 68h2M223 68h1M181 69h1M184 69h1M223 69h1M179 70h2M184 70h1M221 70h1M178 71h1M182 71h3M180 72h1M219 72h1M218 73h1M228 73h1M176 74h1M219 74h1M223 74h1M227 74h1M229 74h1M235 75h1M180 76h1M182 76h1M180 77h1M182 77h1M228 78h1M233 78h1M177 79h1M183 79h2M226 79h1M228 79h1M230 79h1M232 79h2M183 80h1M226 80h4M231 80h2M247 80h2M183 81h1M230 81h1M234 81h1M245 81h1M247 81h1M193 83h1M246 83h2M251 83h1M267 83h2M189 84h1M194 84h1M264 84h4M178 85h1M182 85h1M186 85h1M190 85h1M231 85h1M246 85h1M250 85h1M264 85h2M178 86h1M184 86h1M192 86h3M199 86h1M201 86h1M263 86h1M265 86h1M170 87h1M179 87h4M200 87h1M228 87h1M231 87h1M169 88h1M200 88h1M223 88h2M263 88h1M267 88h1M169 89h3M173 89h1M184 89h1M186 89h1M199 89h2M223 89h3M231 89h1M234 89h1M168 90h1M179 90h1M197 90h2M225 90h1M269 90h1M167 91h1M171 91h1M183 91h1M185 91h1M210 91h2M218 91h2M221 91h1M234 91h1M260 91h1M337 91h1M167 92h1M169 92h1M172 92h1M176 92h1M179 92h1M183 92h1M185 92h1M189 92h3M211 92h1M218 92h1M259 92h1M270 92h1M337 92h1M168 93h1M177 93h4M190 93h2M234 93h1M240 93h1M271 93h1M279 93h2M168 94h1M186 94h2M192 94h1M195 94h1M232 94h2M240 94h2M271 94h1M275 94h1M278 94h2M281 94h1M284 94h1M187 95h1M194 95h3M221 95h1M232 95h1M274 95h1M281 95h1M169 96h2M186 96h1M194 96h1M268 96h1M271 96h1M279 96h1M281 96h1M172 97h1M194 97h1M197 97h1M199 97h1M202 97h3M217 97h1M222 97h1M231 97h1M263 97h2M271 97h2M280 97h2M170 98h1M213 98h1M218 98h1M224 98h1M229 98h1M233 98h1M263 98h4M272 98h1M281 98h1M284 98h1M171 99h1M208 99h1M222 99h1M224 99h1M234 99h2M263 99h2M267 99h1M8 100h1M196 100h1M210 100h2M217 100h1M220 100h1M231 100h1M234 100h1M236 100h1M272 100h1M285 100h1M185 101h1M215 101h1M219 101h1M237 101h1M265 101h1M267 101h3M273 101h1M286 101h1M171 102h1M178 102h2M192 102h1M235 102h1M265 102h3M269 102h1M274 102h1M187 103h2M193 103h1M214 103h1M225 103h1M228 103h1M236 103h2M273 103h1M283 103h2M286 103h1M179 104h1M188 104h1M190 104h1M192 104h2M223 104h1M267 104h3M281 104h2M286 104h1M186 105h1M189 105h1M194 105h1M223 105h1M267 105h2M285 105h1M183 106h1M190 106h1M192 106h1M195 106h1M213 106h1M266 106h1M280 106h1M282 106h1M180 107h1M183 107h3M209 107h1M213 107h1M215 107h1M219 107h1M221 107h1M281 107h1M284 107h1M215 108h1M221 108h3M230 108h1M263 108h1M285 108h1M220 109h1M259 109h1M262 109h1M284 109h2M220 110h1M19 111h1M258 111h1M274 111h1M19 112h2M258 112h1M273 112h1M259 113h1M272 114h1M22 115h1M271 115h1M23 116h3M22 117h1M270 118h1M257 119h1M270 119h1M23 121h3M204 121h1M221 121h1M258 121h1M206 122h1M221 122h1M223 122h1M31 123h1M203 123h2M261 123h1M265 123h1M262 124h1M266 124h1M268 124h1M209 125h1M260 125h1M264 125h1M207 126h1M259 126h2M29 127h1M215 128h1M206 129h1M207 130h2M209 131h1M213 131h1M191 132h1M199 132h1M204 132h2M207 132h1M191 133h1M195 133h1M199 133h1M203 133h1M212 133h1M214 133h1M215 134h1M199 135h3M214 135h1M193 136h1M200 136h1M212 136h2M200 137h1M209 137h2M218 137h1M201 138h2M208 138h1M203 139h1M205 139h4M214 139h2M217 140h1M203 141h1M201 142h1M203 142h2M203 143h1M204 144h2M204 145h2M208 145h1M197 146h1M202 146h1M205 146h1M215 146h1M197 147h1M203 148h1M205 149h1M214 149h1M213 150h1M213 151h1M206 153h1M208 153h1M206 154h1M203 157h1M203 158h1M194 159h2M202 159h2M205 190h1M206 191h1M206 192h1M232 193h1M241 193h1M206 195h1M237 196h1M198 197h1M204 197h1M208 197h2M238 197h1M197 198h1M199 198h1M203 198h1M212 198h1M197 199h2M201 199h1M210 199h2M213 199h1M196 200h1M198 200h1M209 200h4M236 200h1M208 201h1M210 201h1M197 202h1M210 202h1M212 202h1M205 204h1M206 205h1M206 206h1M196 207h1M196 211h1M196 212h1M325 219h1"/>
<path stroke="#e2c786" d="M208 58h1M204 59h2M211 59h1M193 60h1M203 60h1M189 61h1M191 61h2M202 61h1M185 62h1M188 62h1M201 62h1M186 63h1M198 63h2M184 64h1M187 64h1M189 65h4M217 65h1M192 66h1M219 66h2M183 67h1M184 68h1M222 68h1M182 69h2M222 69h1M183 70h1M181 71h1M218 72h1M177 73h1M183 73h1M177 74h1M183 74h1M220 74h1M225 75h1M229 75h1M201 77h1M230 77h2M186 78h1M227 78h1M229 79h1M231 79h1M184 80h1M187 80h1M185 81h2M229 81h1M232 81h1M244 81h1M232 82h1M244 82h1M177 83h1M186 83h3M174 84h1M180 84h2M186 84h1M195 84h1M198 84h1M231 84h1M246 84h2M251 84h2M175 85h2M179 85h1M191 85h2M199 85h1M247 85h1M173 86h1M175 86h2M179 86h1M183 86h1M202 86h1M228 86h1M251 86h2M264 86h1M178 87h1M201 87h1M230 87h1M232 87h2M264 87h1M170 88h1M222 88h1M225 88h4M230 88h1M232 88h1M185 89h1M218 89h1M222 89h1M226 89h1M267 89h1M169 90h2M178 90h1M184 90h2M195 90h2M218 90h1M221 90h1M226 90h2M234 90h1M270 90h2M280 90h2M173 91h2M177 91h3M195 91h1M220 91h1M226 91h2M269 91h1M272 91h1M280 91h1M168 92h1M177 92h2M195 92h4M210 92h1M221 92h1M224 92h2M260 92h1M273 92h1M280 92h2M172 93h1M195 93h1M198 93h1M220 93h2M230 93h2M275 93h1M281 93h2M336 93h1M169 94h1M178 94h1M193 94h2M198 94h1M230 94h2M277 94h1M185 95h2M212 95h1M222 95h1M230 95h2M268 95h1M271 95h1M275 95h2M168 96h1M197 96h1M199 96h1M204 96h2M208 96h2M212 96h1M220 96h1M222 96h2M232 96h1M272 96h2M283 96h1M196 97h1M201 97h1M206 97h1M212 97h1M219 97h3M227 97h1M229 97h2M232 97h1M279 97h1M283 97h1M174 98h1M211 98h2M283 98h1M212 99h1M223 99h1M265 99h2M272 99h1M282 99h1M284 99h1M171 100h1M216 100h1M221 100h1M223 100h1M232 100h2M235 100h1M263 100h3M179 101h2M218 101h1M222 101h1M231 101h1M233 101h4M264 101h1M174 102h1M180 102h1M185 102h1M215 102h1M219 102h1M232 102h1M236 102h2M270 102h1M186 103h1M190 103h2M221 103h1M231 103h1M270 103h2M274 103h3M285 103h1M187 104h1M189 104h1M214 104h1M222 104h1M229 104h1M275 104h1M283 104h3M180 105h4M193 105h1M222 105h1M269 105h1M179 106h2M189 106h1M193 106h2M265 106h1M268 106h1M279 106h1M284 106h1M195 107h1M214 107h1M222 107h1M264 107h1M267 107h1M282 107h2M285 107h1M276 108h1M283 108h1M215 109h1M219 109h1M282 109h2M217 110h3M259 110h3M257 111h1M268 111h1M256 112h2M261 112h1M267 112h1M272 113h1M258 115h1M22 116h1M23 117h1M257 117h1M23 120h1M269 120h1M205 121h1M259 121h1M203 122h1M222 122h1M260 122h1M269 122h1M266 123h1M269 123h1M26 124h1M265 124h1M27 125h1M208 125h1M206 128h1M211 128h1M209 130h2M200 132h1M208 132h1M212 132h1M214 132h1M202 133h1M204 133h1M206 133h2M209 133h1M208 134h1M215 135h1M211 136h1M193 137h1M208 137h1M217 137h1M203 138h1M214 138h1M218 138h1M204 140h3M214 140h1M202 142h1M205 143h1M214 143h1M335 143h1M207 145h1M214 145h1M203 146h2M208 146h1M214 146h1M203 147h1M206 147h1M214 147h1M204 149h1M207 150h1M207 151h1M207 152h1M212 152h1M207 153h1M205 191h1M205 192h1M232 194h2M174 196h1M205 196h1M207 196h1M235 196h1M174 197h1M204 198h1M239 198h1M202 199h1M204 199h1M212 199h1M197 200h1M201 200h1M235 200h1M197 201h2M208 202h2M211 202h1M170 203h1M205 203h1M209 203h1M196 204h1M206 204h2M160 205h1M197 205h1M185 206h1M197 206h1M204 206h1M195 207h1M197 209h1M196 210h1M197 213h1M327 218h1M325 221h1M328 222h1"/>
<path stroke="#e0c281" d="M201 27h1M210 59h1M196 60h1M212 60h1M190 61h1M213 61h2M186 64h1M216 64h1M184 65h1M188 65h1M193 65h1M184 66h2M190 66h1M184 67h2M219 67h2M219 68h1M221 68h1M216 69h1M221 69h1M181 70h2M215 70h2M220 70h1M179 71h1M219 71h1M183 72h1M217 73h1M186 74h1M222 74h1M183 75h1M226 75h2M228 76h2M189 77h1M228 77h2M183 78h2M188 78h1M229 78h4M187 79h1M191 80h1M184 81h1M226 81h1M231 81h1M176 83h1M194 83h1M196 83h1M231 83h1M175 84h1M177 84h1M190 84h3M177 85h1M181 85h1M200 85h1M251 85h2M172 86h1M177 86h1M180 86h2M200 86h1M230 86h1M202 87h1M221 87h2M227 87h1M229 87h1M263 87h1M171 88h1M178 88h1M221 88h1M233 88h1M174 89h2M178 89h1M219 89h1M227 89h1M230 89h1M232 89h1M177 90h1M199 90h1M228 90h1M231 90h1M168 91h3M184 91h1M270 91h2M281 91h1M175 92h1M184 92h1M199 92h1M209 92h1M217 92h1M223 92h1M226 92h2M230 92h2M271 92h1M8 93h1M176 93h1M184 93h1M199 93h1M215 93h1M219 93h1M222 93h1M229 93h1M170 94h1M176 94h1M179 94h2M184 94h1M212 94h1M221 94h2M229 94h1M274 94h1M283 94h1M168 95h3M208 95h1M213 95h1M215 95h2M220 95h1M277 95h2M283 95h1M171 96h3M183 96h1M195 96h2M203 96h1M206 96h1M210 96h1M219 96h1M224 96h1M229 96h3M282 96h1M173 97h1M186 97h1M195 97h1M200 97h1M211 97h1M218 97h1M228 97h1M173 98h1M186 98h1M207 98h4M279 98h2M172 99h1M210 99h2M281 99h1M283 99h1M7 100h1M178 100h1M184 100h1M222 100h1M284 100h1M171 101h1M176 101h3M285 101h1M175 102h1M216 102h1M231 102h1M275 102h1M285 102h1M181 103h1M185 103h1M189 103h1M277 103h1M281 103h2M181 104h1M185 104h1M230 104h1M270 104h1M272 104h1M276 104h1M179 105h1M185 105h1M214 105h1M221 105h1M270 105h1M275 105h1M280 105h1M284 105h1M214 106h1M269 106h1M283 106h1M216 107h1M277 107h2M216 108h1M218 108h1M282 108h1M216 109h1M218 109h1M271 110h1M256 111h1M259 111h3M265 111h1M269 111h1M265 112h2M268 112h1M260 113h1M24 117h1M26 117h1M270 117h1M23 118h1M27 118h1M257 118h1M269 118h1M269 119h1M258 120h1M30 121h1M222 121h1M269 121h1M205 122h1M265 122h1M262 123h1M267 123h2M27 124h1M263 124h1M28 126h1M210 126h1M211 127h1M211 131h1M201 132h1M209 132h1M211 132h1M213 132h1M205 133h1M208 133h1M213 133h1M200 134h3M334 134h1M336 134h1M208 135h1M335 135h1M201 136h1M214 136h1M216 136h1M335 136h1M201 137h1M214 137h1M207 138h1M209 138h1M215 138h1M335 138h1M204 139h1M204 141h1M214 141h1M214 142h1M335 142h1M206 144h1M214 144h1M206 145h1M209 145h1M206 146h2M204 147h2M332 147h1M205 148h1M207 149h1M212 151h1M210 152h2M177 189h1M174 195h1M232 195h1M237 197h1M198 198h1M172 199h1M203 199h1M201 201h2M207 201h1M198 202h1M207 202h1M204 203h1M206 203h3M204 204h1M207 206h1M197 207h1M204 207h1M197 208h1M328 219h1"/>
<path stroke="#debd7c" d="M203 30h1M201 31h1M200 33h1M140 58h1M206 59h1M195 60h1M204 60h1M196 61h1M203 61h1M202 62h1M185 63h1M188 63h1M216 63h1M185 64h1M188 64h2M193 64h1M185 65h1M187 65h1M216 65h1M186 66h1M193 66h1M186 67h1M191 67h2M185 68h1M218 68h1M185 69h1M215 69h1M219 69h2M185 70h1M217 70h1M219 70h1M180 71h1M185 71h1M218 71h1M184 72h1M217 72h1M186 73h1M216 73h1M191 74h1M218 74h1M221 74h1M228 74h1M190 75h1M224 75h1M228 75h1M183 76h1M190 76h1M225 76h1M227 76h1M183 77h1M186 77h1M188 77h1M221 77h1M187 78h1M189 78h1M201 79h1M188 80h1M225 80h1M227 81h1M184 82h1M226 82h2M230 82h2M185 83h1M189 83h1M192 83h1M195 83h1M199 84h1M180 85h1M185 85h1M201 85h2M182 86h1M227 86h1M229 86h1M171 87h1M223 87h1M172 88h2M201 88h1M207 88h1M218 88h1M220 88h1M229 88h1M201 89h1M208 89h1M217 89h1M220 89h2M228 89h1M233 89h1M200 90h1M210 90h1M214 90h2M219 90h2M230 90h1M196 91h3M217 91h1M228 91h1M231 91h1M7 92h1M173 92h1M192 92h1M194 92h1M200 92h2M208 92h1M212 92h1M222 92h1M229 92h1M233 92h1M272 92h1M333 92h1M7 93h1M192 93h1M194 93h1M200 93h2M209 93h1M212 93h1M214 93h1M218 93h1M223 93h1M232 93h2M272 93h1M274 93h1M334 93h1M171 94h1M181 94h3M220 94h1M272 94h1M282 94h1M173 95h1M184 95h1M199 95h1M214 95h1M223 95h1M229 95h1M272 95h2M282 95h1M202 96h1M207 96h1M211 96h1M217 96h1M274 96h1M208 97h3M273 97h1M175 98h1M174 99h2M176 100h1M179 100h1M273 100h1M172 101h2M181 101h1M184 101h1M217 101h1M232 101h1M274 101h1M278 101h1M181 102h1M184 102h1M217 102h2M229 102h1M276 102h3M184 103h1M192 103h1M220 103h1M278 103h1M186 104h1M271 104h1M273 104h2M277 104h2M184 105h1M274 105h1M276 105h2M283 105h1M184 106h2M270 106h1M275 106h4M266 107h1M268 107h1M276 107h1M85 109h1M217 109h1M263 109h1M272 110h1M267 111h1M270 111h2M273 111h1M269 112h1M266 113h3M259 114h1M271 114h1M258 116h1M266 116h1M25 117h1M24 118h1M23 119h1M28 119h1M24 120h1M29 120h1M268 121h1M204 122h1M261 122h1M268 122h1M27 123h1M264 123h1M31 124h1M264 124h1M207 127h1M210 131h1M210 132h1M200 133h1M203 134h1M205 134h3M202 135h1M208 136h1M215 136h1M334 136h1M202 137h1M213 137h1M216 137h1M327 137h1M205 138h1M323 138h1M209 139h1M217 139h1M325 139h1M207 140h2M336 141h1M337 142h1M206 143h1M209 146h1M204 148h1M207 148h1M213 149h1M212 150h1M211 151h1M208 152h1M168 185h1M183 186h1M183 187h2M184 188h1M185 191h1M183 192h1M234 195h1M206 196h1M178 197h1M205 197h1M207 197h1M205 198h1M208 198h2M234 198h1M182 199h1M205 199h1M236 199h1M206 200h1M208 200h1M171 202h1M197 203h1M178 204h1M197 204h1M185 205h1M198 205h1M204 205h1M204 208h1M204 209h1M197 210h1M197 212h1M326 218h1M325 220h1M179 229h1"/>
<path stroke="#dcb878" d="M200 34h1M140 57h1M194 60h1M211 60h1M195 61h1M212 61h1M189 62h1M191 62h1M193 62h1M195 62h1M197 62h1M213 62h1M215 62h1M193 63h1M200 63h1M213 63h1M199 64h1M186 65h1M189 66h1M218 66h1M193 67h2M218 67h1M186 68h2M195 68h3M220 68h1M186 69h1M215 71h3M185 72h1M216 72h1M184 73h1M187 73h1M184 74h1M187 74h1M216 74h1M189 75h1M191 75h1M219 75h2M189 76h1M220 76h2M226 76h1M185 77h1M187 77h1M190 77h1M220 77h1M227 77h1M226 78h1M188 79h1M225 79h1M190 80h1M192 80h1M187 81h1M225 81h1M228 81h1M185 82h2M193 82h1M190 83h2M197 83h1M176 84h1M228 85h1M230 85h1M176 87h2M218 87h3M224 87h3M208 88h1M219 88h1M176 89h1M207 89h1M215 89h2M211 90h1M216 90h2M229 90h1M199 91h1M212 91h1M214 91h1M229 91h2M232 91h2M336 91h1M8 92h1M174 92h1M193 92h1M214 92h3M228 92h1M232 92h1M175 93h1M193 93h1M208 93h1M211 93h1M213 93h1M216 93h2M228 93h1M273 93h1M335 93h1M87 94h1M172 94h1M175 94h1M213 94h1M215 94h1M223 94h1M273 94h1M171 95h2M174 95h1M176 95h2M209 95h1M211 95h1M217 95h1M219 95h1M184 96h2M201 96h1M218 96h1M278 96h1M183 97h1M207 97h1M185 98h1M173 99h1M184 99h1M172 100h1M177 100h1M281 100h3M174 101h1M182 101h2M216 101h1M284 101h1M182 102h2M279 102h1M284 102h1M215 103h1M279 103h2M184 104h1M280 104h1M271 105h1M278 105h2M219 106h1M274 106h1M265 107h1M217 108h1M264 108h1M275 108h1M264 109h1M272 109h1M265 110h1M268 110h1M270 110h1M274 110h1M264 111h1M266 111h1M272 111h1M272 112h1M270 115h1M267 116h1M270 116h1M266 117h2M268 118h1M258 119h1M25 120h1M268 120h1M26 121h1M264 122h1M266 122h1M263 123h1M29 126h1M31 126h1M201 133h1M204 134h1M207 135h1M328 135h1M328 136h1M203 137h1M211 137h2M215 137h1M328 137h1M331 137h1M204 138h1M206 138h1M217 138h1M328 138h1M216 139h1M326 139h1M333 139h1M336 139h1M326 140h1M335 140h1M207 142h1M207 144h2M326 145h1M334 146h1M207 147h1M325 147h1M333 147h1M213 148h1M210 150h2M208 151h1M209 152h1M167 185h1M180 185h1M182 185h2M184 186h1M180 187h1M183 188h1M174 190h1M179 190h1M184 190h2M184 191h1M174 192h1M174 194h1M206 197h1M233 197h1M236 197h1M172 198h1M206 198h2M206 199h1M208 199h2M203 200h3M207 200h1M169 201h1M203 201h1M162 202h1M172 202h1M177 202h1M204 202h1M206 202h1M162 203h1M167 203h1M171 203h3M177 203h1M198 204h1M186 205h1M161 206h1M198 208h1M198 209h1M197 211h1M178 229h1"/>
<path stroke="#dab273" d="M200 28h1M203 29h1M200 41h1M209 59h1M205 60h2M210 60h1M193 61h1M211 61h1M196 62h1M212 62h1M214 62h1M212 63h1M191 64h1M198 64h1M194 65h1M196 65h1M187 66h2M194 66h1M187 67h1M195 67h2M214 67h1M191 68h2M194 68h1M215 68h3M187 69h1M217 69h2M214 70h1M218 70h1M186 72h2M215 72h1M185 73h1M191 73h1M185 74h1M189 74h2M192 74h1M217 74h1M186 75h1M221 75h1M191 76h1M218 76h2M217 77h1M221 78h1M189 79h1M191 79h1M189 80h1M188 81h1M190 81h2M187 82h2M202 82h1M229 82h1M226 83h1M230 83h1M200 84h1M226 84h2M230 84h1M225 85h1M227 85h1M229 85h1M218 86h2M226 86h1M175 87h1M203 87h1M174 88h1M177 88h1M202 88h1M217 88h1M177 89h1M229 89h1M208 90h1M232 90h2M200 91h1M209 91h1M213 91h1M215 91h2M207 92h1M213 92h1M336 92h1M173 93h2M210 93h1M224 93h1M173 94h2M199 94h1M208 94h1M214 94h1M216 94h4M175 95h1M183 95h1M204 95h1M206 95h2M210 95h1M218 95h1M174 96h1M200 96h1M228 96h1M174 97h1M184 97h1M273 98h1M278 98h1M176 99h1M178 99h1M273 99h1M280 99h1M173 100h3M278 100h2M175 101h1M277 101h1M279 101h1M283 102h1M182 104h2M221 104h1M272 105h2M218 107h1M269 107h2M274 107h2M272 108h1M265 109h1M271 109h1M262 110h1M264 110h1M266 110h2M269 110h1M264 112h1M265 113h1M267 114h1M269 117h1M267 118h1M24 119h1M268 119h1M260 121h1M262 122h1M267 122h1M208 126h2M207 129h1M210 129h1M335 134h1M206 135h1M202 136h1M207 137h1M210 138h1M216 138h1M334 138h1M334 139h1M209 140h1M207 141h1M325 141h1M325 142h1M207 143h1M209 144h1M334 147h1M208 150h2M209 151h2M179 185h1M184 185h1M180 186h1M185 186h1M180 188h1M176 189h1M185 189h1M173 190h1M173 191h1M183 191h1M233 195h1M235 197h1M177 198h2M236 198h1M207 199h1M312 200h1M178 201h1M204 201h1M206 201h1M173 202h1M201 202h2M205 202h1M198 203h1M169 204h2M179 204h1M199 204h1M167 205h1M199 205h1M186 206h1M198 206h1M203 206h1M198 207h1M203 210h1M326 222h1M179 227h1M179 228h1M178 230h2"/>
<path stroke="#d8ac6f" d="M202 30h1M162 58h1M207 59h2M194 61h1M204 61h1M210 61h1M194 62h1M208 62h2M189 63h1M191 63h1M195 63h1M197 63h1M214 63h2M190 64h1M197 64h1M200 64h1M215 64h1M199 65h1M215 65h1M200 66h1M217 66h1M197 67h1M215 67h1M217 67h1M193 68h1M188 69h1M186 70h1M213 70h1M214 71h1M193 72h1M215 73h1M188 74h1M184 75h2M218 75h1M222 75h2M186 76h1M217 76h1M224 76h1M184 77h1M225 77h2M222 78h1M190 79h1M222 80h3M189 81h1M192 81h1M202 81h1M223 81h2M189 82h4M194 82h1M227 83h1M202 84h1M217 84h1M219 85h1M226 85h1M220 86h3M225 86h1M172 87h3M214 87h1M175 88h2M203 88h1M209 89h3M214 89h1M201 90h1M207 90h1M209 90h1M212 90h2M201 91h1M208 91h1M202 93h1M207 93h1M200 94h2M206 94h2M209 94h1M211 94h1M180 95h1M200 95h2M203 95h1M205 95h1M225 96h1M275 96h2M185 97h1M279 99h1M180 100h1M275 101h1M281 101h3M230 102h1M281 102h2M182 103h2M219 103h1M279 104h1M220 105h1M215 106h1M271 106h1M273 106h1M217 107h1M271 107h1M273 107h1M267 108h2M267 109h1M274 109h1M263 110h1M273 110h1M262 111h1M262 112h1M271 112h1M261 113h1M269 113h1M260 114h1M266 114h1M268 114h1M270 114h1M266 115h2M265 116h1M258 117h1M268 117h1M25 118h2M27 119h1M28 120h1M267 120h1M29 121h1M264 121h2M267 121h1M27 122h1M30 122h1M28 124h1M28 125h1M333 134h1M203 135h3M207 136h1M204 137h1M336 137h1M213 138h1M337 139h1M337 141h1M208 142h1M213 143h1M325 144h1M326 146h1M213 147h1M208 149h2M181 186h1M179 189h1M174 191h1M233 196h2M177 197h1M235 199h1M312 199h1M181 200h1M205 201h1M167 202h1M170 202h1M203 202h1M199 203h5M201 204h3M200 205h1M203 207h1M180 231h1"/>
<path stroke="#d6a66a" d="M202 29h1M207 60h1M207 61h3M190 62h1M203 62h1M211 62h1M194 63h1M196 63h1M201 63h1M194 64h1M196 64h1M195 65h1M197 65h1M200 65h1M195 66h2M201 66h1M216 66h1M188 67h1M190 67h1M216 67h1M214 68h1M194 69h3M187 70h2M186 71h1M213 71h1M188 73h3M192 73h1M192 75h1M184 76h2M187 76h2M205 76h1M222 76h1M218 77h1M222 77h1M190 78h1M220 78h1M225 78h1M222 79h3M201 80h1M193 81h1M201 81h1M203 81h1M214 81h1M222 81h1M196 82h1M222 82h1M225 82h1M228 82h1M199 83h1M202 83h1M217 83h1M223 83h1M201 84h1M203 84h1M218 84h1M223 84h1M225 84h1M228 84h2M203 85h1M220 85h1M224 85h1M203 86h1M214 86h1M223 86h2M206 87h2M211 88h1M202 89h1M207 91h1M334 91h1M202 92h1M203 93h1M206 93h1M225 93h1M227 93h1M202 94h2M228 94h1M179 95h1M182 95h1M202 95h1M182 96h1M277 96h1M177 97h1M274 97h1M278 97h1M176 98h2M184 98h1M177 99h1M179 99h1M278 99h1M274 100h1M280 100h1M280 102h1M216 103h3M272 107h1M265 108h1M271 108h1M273 108h2M266 109h1M268 109h1M273 109h1M263 111h1M263 112h1M270 112h1M264 113h1M271 113h1M269 114h1M259 115h1M269 115h1M268 116h1M265 117h1M258 118h1M25 119h2M267 119h1M259 120h1M266 121h1M29 122h1M263 122h1M28 123h1M31 125h1M207 128h1M203 136h2M331 136h2M205 137h1M211 138h1M213 139h1M213 140h1M208 143h1M210 145h1M210 146h1M208 147h1M210 149h1M178 191h1M200 204h1M201 205h1M203 205h1M199 208h1M328 220h1"/>
<path stroke="#d4a066" d="M209 60h1M205 61h2M207 62h1M210 62h1M209 63h1M195 64h1M212 64h1M214 64h1M198 65h1M210 65h1M197 66h1M214 66h2M201 67h1M188 68h1M190 68h1M198 68h1M189 69h1M191 69h1M193 69h1M197 69h1M214 69h1M212 70h1M193 71h1M212 71h1M192 72h1M213 74h3M187 75h2M217 75h1M191 77h1M214 77h1M200 78h1M216 78h2M223 78h2M192 79h1M200 79h1M200 80h1M202 80h1M214 80h1M198 81h2M213 81h1M195 82h1M197 82h1M201 82h1M221 82h1M223 82h1M198 83h1M200 83h2M205 83h1M216 83h1M222 83h1M229 83h1M205 84h2M224 84h1M207 85h1M218 85h1M222 85h2M204 87h1M217 87h1M206 88h1M209 88h2M216 88h1M210 94h1M224 94h1M178 95h1M181 95h1M228 95h1M175 96h1M177 96h1M226 96h2M175 97h1M183 100h1M276 101h1M266 108h1M269 108h1M263 113h1M265 114h1M268 115h1M269 116h1M266 118h1M27 121h2M261 121h1M263 121h1M28 122h1M208 129h1M205 136h2M206 137h1M212 138h1M337 140h1M213 141h1M213 142h1M213 144h1M213 146h1M208 148h1M212 149h1M172 201h1M202 205h1M199 209h1M198 210h1M198 211h1M326 219h2M328 221h1"/>
<path stroke="#d29a62" d="M208 60h1M206 62h1M190 63h1M208 63h1M211 63h1M213 64h1M209 65h1M211 65h1M214 65h1M199 66h1M189 67h1M200 67h1M213 67h1M213 68h1M190 69h1M192 69h1M189 70h1M193 70h1M187 71h1M192 71h1M194 71h1M196 71h1M188 72h1M194 72h1M196 72h1M214 72h1M193 73h1M213 75h2M201 76h1M204 76h1M200 77h1M205 77h1M216 77h1M219 77h1M224 77h1M202 79h1M221 79h1M199 80h1M203 80h1M213 80h1M215 80h1M219 80h1M215 81h2M221 81h1M199 82h1M203 82h1M216 82h1M206 83h1M218 83h1M207 84h1M219 84h1M222 84h1M206 85h1M221 85h1M206 86h1M205 87h1M204 88h1M212 88h1M214 88h1M206 89h1M212 89h1M206 90h1M335 91h1M206 92h1M226 93h1M204 94h2M224 95h1M176 96h1M178 97h1M178 98h1M274 99h1M181 100h1M280 101h1M215 104h1M220 104h1M216 106h1M272 106h1M270 108h1M270 109h1M262 113h1M270 113h1M265 115h1M265 120h2M262 121h1M210 127h1M209 129h1M209 147h2M209 148h2M199 206h2M202 206h1M199 207h1M202 207h1M202 208h1M202 209h1M202 210h1"/>
<path stroke="#d0945f" d="M204 62h1M202 63h1M210 63h1M210 64h2M201 65h1M198 67h2M189 68h1M199 68h1M213 69h1M191 70h2M194 70h1M205 70h1M188 71h1M199 71h1M205 71h1M189 72h1M191 72h1M214 73h1M193 74h1M193 75h1M200 75h1M216 75h1M192 76h1M206 76h1M214 76h1M223 76h1M192 77h1M223 77h1M191 78h2M202 78h1M205 78h1M211 78h1M216 79h2M219 79h2M193 80h1M216 80h1M218 80h1M221 80h1M200 81h1M217 81h1M220 81h1M198 82h1M200 82h1M205 82h1M217 82h1M224 82h1M203 83h1M221 83h1M228 83h1M204 84h1M220 84h2M217 85h1M207 86h1M213 86h1M215 86h1M208 87h1M213 87h1M215 87h1M215 88h1M203 89h1M213 89h1M205 90h1M206 91h1M203 92h1M204 93h2M176 97h1M183 98h1M274 98h1M182 100h1M277 100h1M215 105h1M218 106h1M269 109h1M261 114h1M263 114h2M259 116h1M265 118h1M266 119h1M30 123h1M29 125h1M208 127h1M210 139h3M209 142h1M209 143h1M213 145h1M211 149h1M171 201h1M201 206h1"/>
<path stroke="#ce8e5c" d="M205 62h1M206 63h2M201 64h1M209 64h1M198 66h1M200 68h3M198 69h1M212 69h1M190 70h1M195 70h3M204 70h1M189 71h1M191 71h1M195 71h1M197 71h2M190 72h1M199 74h1M200 76h1M213 76h1M206 77h2M213 77h1M215 77h1M206 78h2M210 78h1M218 79h1M212 80h1M217 80h1M220 80h1M204 81h4M219 81h1M204 82h1M215 82h1M220 82h1M204 83h1M224 83h2M216 84h1M204 85h2M204 86h2M217 86h1M205 88h1M213 88h1M204 89h2M202 90h1M202 91h1M204 91h2M204 92h2M334 92h2M178 96h4M183 99h1M217 106h1M265 119h1M264 120h1M210 128h1M206 141h1M331 147h1M212 148h1M169 203h1M200 207h2M201 208h1M199 210h1"/>
<path stroke="#cc8858" d="M203 63h3M202 64h1M202 65h1M212 65h2M210 66h2M213 66h1M202 67h1M212 68h1M205 69h1M190 71h1M204 71h1M195 72h1M197 72h1M209 72h1M197 73h1M213 73h1M193 76h1M216 76h1M202 77h1M204 77h1M208 77h1M211 77h1M208 78h1M212 78h1M215 78h1M218 78h2M207 79h1M210 79h2M206 80h2M194 81h1M197 81h1M212 81h1M218 81h1M206 82h1M214 82h1M207 83h1M219 83h2M208 85h1M208 86h1M209 87h2M216 87h1M204 90h1M91 99h1M180 99h1M219 104h1M262 114h1M260 115h1M264 115h1M259 119h1M260 120h1M29 123h1M29 124h2M30 127h1M333 136h1M333 138h1M210 140h1M212 140h1M211 146h1M211 147h1M211 148h1M331 148h1M177 188h1M182 192h1M167 199h1M170 201h1M178 203h1M177 204h1M166 206h1M200 208h1M201 209h1M200 210h2M323 221h1M326 221h1"/>
<path stroke="#ca8254" d="M191 44h1M64 59h1M203 64h1M208 64h1M208 65h1M202 66h1M209 66h1M212 67h1M204 69h1M198 70h1M200 71h1M198 72h2M204 72h2M213 72h1M194 73h1M204 73h1M209 73h1M199 75h1M204 75h2M215 75h1M203 79h1M206 79h1M212 79h1M198 80h1M204 80h1M208 80h1M208 81h1M207 82h1M218 82h2M215 83h1M214 85h1M212 87h1M182 97h1M275 97h1M277 97h1M277 98h1M92 99h1M181 99h1M277 99h1M219 105h1M26 120h2M25 123h1M333 137h1M331 138h1M326 141h1M205 142h2M212 143h1M210 144h1M330 146h1M332 146h1M212 147h1M156 148h1M329 148h1M178 175h1M182 179h2M181 187h1M175 197h1M177 199h2M182 201h1M165 207h1M200 209h1M164 210h1M326 220h1M181 229h1"/>
<path stroke="#c87c51" d="M98 48h1M204 64h1M203 65h1M208 66h1M212 66h1M211 67h1M203 68h1M203 69h1M206 70h1M212 72h1M196 73h1M198 73h2M212 74h1M194 75h1M203 76h1M207 76h2M215 76h1M209 77h2M212 77h1M209 78h1M213 78h2M193 79h1M208 79h1M215 79h1M211 80h1M185 84h1M208 84h1M215 85h1M216 86h1M211 87h1M203 91h1M179 97h1M276 97h1M179 98h1M182 99h1M218 104h1M264 116h1M259 117h1M263 120h1M26 123h1M209 127h1M208 128h1M211 140h1M334 140h1M210 141h1M326 142h1M326 143h1M334 144h1M211 145h1M182 180h2M182 195h1M167 198h1M169 200h1M202 200h1M161 205h1M165 206h1M316 214h1M183 229h1M181 230h1"/>
<path stroke="#c6764d" d="M63 60h1M204 68h1M199 69h1M202 69h1M199 70h1M206 71h1M211 71h1M203 73h1M210 73h1M212 73h1M194 74h1M200 74h1M203 74h2M201 75h1M203 75h1M212 75h1M209 76h3M193 77h1M203 77h1M203 78h2M205 79h1M209 79h1M213 79h2M205 80h1M209 80h2M208 82h2M213 82h1M208 83h1M214 83h1M215 84h1M213 85h1M216 85h1M209 86h1M203 90h1M87 93h1M229 103h2M216 104h1M216 105h1M263 115h1M259 118h1M261 120h1M25 122h1M30 126h1M330 138h1M332 139h1M212 141h1M212 142h1M212 144h1M212 146h1M333 146h1M330 148h1M177 173h1M177 174h2M182 186h1M172 189h1M175 192h1M237 199h1M175 200h1M169 202h1M179 203h1M203 209h1M317 214h1M322 221h1M182 229h1M182 230h2"/>
<path stroke="#c4704a" d="M207 64h1M205 68h1M206 69h1M203 70h1M203 71h1M209 71h1M210 72h2M95 73h1M198 74h1M206 75h1M202 76h1M212 76h1M199 79h1M204 79h1M195 81h2M209 81h1M211 81h1M209 83h2M212 86h1M227 94h1M217 104h1M218 105h1M264 119h1M262 120h1M30 125h1M334 137h1M329 138h1M336 140h1M205 141h1M210 142h1M333 145h1M330 147h1M178 173h1M177 175h1M181 185h1M179 191h1M176 197h1M181 202h1M176 203h1M166 207h1"/>
<path stroke="#c26a46" d="M204 65h1M203 66h1M203 67h1M211 68h1M200 69h1M200 70h1M201 71h1M203 72h1M195 73h1M205 73h1M211 73h1M197 74h1M209 74h1M209 75h3M193 78h1M210 82h1M212 82h1M211 83h1M214 84h1M210 86h1M180 97h2M180 98h1M182 98h1M217 105h1M261 115h1M260 116h1M264 117h1M264 118h1M26 122h1M209 128h1M335 139h1M211 144h1M212 145h1M170 200h1"/>
<path stroke="#c06443" d="M205 64h2M207 66h1M204 67h1M206 68h2M201 69h1M202 70h1M202 71h1M200 72h1M196 74h1M210 74h2M202 75h1M194 76h1M210 81h1M211 82h1M210 84h1M225 94h1M227 95h1M181 98h1M211 141h1M210 143h1M203 208h1"/>
<path stroke="#be5e3f" d="M207 65h1M205 67h1M207 67h2M210 67h1M207 69h1M211 69h1M201 70h1M211 70h1M210 71h1M206 72h1M195 74h1M202 74h1M195 75h1M208 75h1M209 84h1M209 85h1M211 86h1M260 119h1M271 192h2M271 193h1"/>
<path stroke="#bc583c" d="M204 66h1M206 67h1M208 68h1M207 70h1M208 71h1M201 72h2M208 72h1M202 73h1M201 74h1M205 74h1M207 75h1M199 76h1M198 79h1M212 83h2M211 84h1M210 85h2M168 86h1M171 86h1M225 95h1M262 115h1M211 143h1M272 193h1"/>
<path stroke="#ba5139" d="M209 67h1M208 69h1M208 70h1M200 73h1M208 73h1M196 75h1M198 75h1M213 84h1M174 86h1M208 141h2M211 142h1"/>
<path stroke="#b84a36" d="M205 65h2M206 66h1M201 73h1M208 74h1M199 78h1M194 80h1M168 84h1M212 85h1M226 94h1M261 116h1M260 117h1"/>
<path stroke="#b64333" d="M205 66h1M210 68h1M209 70h1M207 71h1M206 73h1M263 116h1M260 118h1M330 139h1M329 146h1M235 198h1"/>
<path stroke="#b43c30" d="M210 70h1M197 75h1M199 77h1M197 80h1M261 119h1M263 119h1M333 140h1M327 144h1M331 146h1M327 147h3M175 191h1M164 205h1"/>
<path stroke="#b1362e" d="M209 68h1M209 69h2M206 74h1M195 76h1M226 95h1M276 99h1M329 139h1M326 147h1M181 193h1M199 201h1M179 202h1"/>
<path stroke="#ae302c" d="M207 72h1M212 84h1M276 98h1M275 100h1M261 117h1M262 118h1M262 119h1M328 139h1M328 140h1M335 141h1M329 145h1M175 190h1M180 190h1M180 192h2M181 194h1M176 196h1M297 196h1M182 197h1M182 198h1M171 200h1M179 200h1M199 200h1M199 202h2M168 203h1M165 205h1M173 205h1M164 206h1M179 231h1"/>
<path stroke="#ab2a2a" d="M207 73h1M207 74h1M194 77h1M198 78h1M276 100h1M262 116h1M263 118h1M332 137h1M332 138h1M327 140h1M329 140h1M326 144h1M328 146h1M179 174h1M182 187h1M234 197h1M297 197h1M176 198h1M180 201h1M168 202h1M178 202h1M175 206h1M201 211h1"/>
<path stroke="#a82428" d="M198 76h1M275 98h1M275 99h1M263 117h1M333 144h1M180 189h1M179 201h1M176 204h1M175 205h1"/>
<path stroke="#a11f2c" d="M261 118h1M328 148h1M179 173h1M175 193h1"/>
<path stroke="#9a1a30" d="M196 76h1M198 77h1"/>
<path stroke="#931534" d="M197 76h1M194 79h1M195 80h2M262 117h1"/>
<path stroke="#8c1038" d="M201 35h1M88 100h1M89 101h1M330 140h1M327 141h1M330 141h1M334 142h1M334 143h1M328 144h1M327 145h2M332 145h1M327 146h1M183 190h1M176 192h2M180 199h2M200 200h1M200 201h1M180 203h1M162 205h1M174 205h1M327 221h1M327 222h1M176 236h2"/>
<path stroke="#830c3a" d="M197 77h1M194 78h1M197 79h1"/>
<path stroke="#7b083c" d="M197 78h1"/>
<path stroke="#6a0040" d="M201 28h1M201 29h1M201 30h1M202 31h2M202 32h1M201 33h1M201 34h1M162 59h2M141 63h2M93 72h2M195 77h2M195 78h2M195 79h2M86 99h1M86 100h1M86 101h1M331 139h1M331 140h2M328 141h2M331 141h4M327 142h7M327 143h7M329 144h4M330 145h2M164 146h1M181 188h2M181 189h4M172 190h1M176 190h2M181 190h2M172 191h1M176 191h2M180 191h3M178 192h2M176 193h5M175 194h6M175 195h7M175 196h1M177 196h5M179 197h3M179 198h3M179 199h1M172 200h1M180 200h1M165 201h1M181 201h1M163 202h4M174 202h2M180 202h1M163 203h4M174 203h2M163 204h4M171 204h5M163 205h1M166 205h1M170 205h3M162 206h2M199 211h2M198 212h3M162 213h1M312 213h2M327 220h1M181 231h3M179 232h5M325 234h2M178 236h1M178 237h1"/>
</g></g>
<g fill="none" stroke="#2a3436" stroke-width="1.9" stroke-linejoin="round">
<path d="M252.0,299.0 330.0,299.0M347.0,299.0 2302.0,299.0M2392.0,299.0 2950.0,299.0M327.7,298.9 332.2,309.3 327.7,312.2 333.7,327.0 342.6,334.4 354.4,344.8 363.3,353.7 366.3,367.0 370.7,378.9 378.1,390.7 385.5,399.6 378.1,408.5 376.6,415.1 363.3,417.4 355.9,412.9 336.6,396.6 327.7,390.7 315.9,381.8 304.1,370.0 299.6,362.6 289.2,353.7 281.8,338.9 267.0,324.1 264.1,307.8 252.2,304.8 252.2,299.6M347.0,299.6 348.5,307.8 355.9,327.0 363.3,319.6 372.2,306.3 378.1,300.4 378.1,327.0 390.0,328.5 384.0,338.9 391.4,349.2 407.7,333.0 397.4,343.3 395.9,358.1 415.1,353.7 412.2,362.6 395.9,361.1 394.4,377.4 407.7,375.9 411.4,384.0M394.4,460.3 381.1,472.2 363.3,487.7M737.5,299.0 745.0,310.0 755.0,320.0 760.0,335.0 767.5,345.0 770.0,360.0 782.5,370.0 790.0,385.0 792.5,405.0 787.5,425.0 782.5,430.0 790.0,445.0 792.5,460.0 805.0,477.5M1022.5,299.0 991.5,510.0M1392.5,300.0 1391.0,550.0M1676.5,300.0 1679.0,515.0M1946.7,612.3 1956.7,600.0 1973.3,580.0 1986.7,566.7 1993.3,560.0M2090.0,560.0 2096.7,573.3 2106.7,590.0 2120.0,603.3 2133.3,605.0 2150.0,601.7 2163.3,600.0 2161.7,620.0 2166.7,630.0 2176.7,636.7 2181.7,646.7 2176.7,660.0 2183.3,670.0 2196.7,670.0 2195.0,686.7 2188.3,696.7 2208.3,695.0M2211.7,706.7 2233.3,708.3 2266.7,710.0 2300.0,706.7 2333.3,708.3 2366.7,711.7 2380.0,716.7 2393.3,733.3 2406.7,750.0 2423.3,766.7 2441.7,781.7 2430.0,793.3 2426.7,805.0 2400.0,800.0 2386.7,806.7 2380.0,790.0 2360.0,773.3 2340.0,756.7 2333.3,750.0 2346.7,773.3 2360.0,800.0 2366.7,823.3 2360.0,843.3 2353.3,860.0 2360.0,890.0 2346.7,913.3 2330.0,925.0M2216.7,726.7 2233.3,723.3 2260.0,726.7 2283.3,723.3 2306.7,726.7 2320.0,733.3 2300.0,736.7 2273.3,735.0 2246.7,733.3 2223.3,733.3 2216.7,726.7M2326.7,943.3 2333.3,953.3 2333.3,970.0 2320.0,976.7 2310.0,990.0 2300.0,1003.3 2313.3,1006.7 2333.3,1003.3 2346.7,990.0 2363.3,973.3 2386.7,960.0 2410.0,946.7 2433.3,940.0 2450.0,938.3 2433.3,933.3 2453.3,923.3 2480.0,913.3 2500.0,906.7 2506.7,908.3M2501.7,896.7 2483.3,893.3 2463.3,890.0 2456.7,883.3 2466.7,866.7 2483.3,853.3 2506.7,840.0 2527.7,830.0 2550.0,819.0 2580.0,812.5 2600.0,805.0 2620.0,796.0M2302.5,299.0 2315.0,310.0 2325.0,320.0 2335.0,340.0 2350.0,342.5 2365.0,347.5 2372.5,330.0 2375.0,315.0 2387.5,302.5 2392.5,299.0M2372.5,330.0 2420.0,595.0 2430.0,620.0 2450.0,645.0 2470.0,665.0 2500.0,667.5 2525.0,670.0 2550.0,680.0 2565.0,680.0 2580.0,700.0 2600.0,702.5 2625.0,702.5 2645.0,687.5 2665.0,677.5 2690.0,675.0 2690.0,695.0 2700.0,695.0M2950.0,299.0 2945.0,330.0 2930.0,345.0 2920.0,365.0 2900.0,380.0 2880.0,405.0 2870.0,440.0 2850.0,480.0 2835.0,515.0 2820.0,545.0 2800.0,570.0 2775.0,590.0 2750.0,615.0 2735.0,640.0 2720.0,670.0 2700.0,695.0 2682.5,717.5M2750.0,700.0 2745.0,675.0 2750.0,650.0 2770.0,625.0 2795.0,600.0 2820.0,575.0 2840.0,552.5 2860.0,525.0 2880.0,490.0 2900.0,455.0 2925.0,420.0 2950.0,390.0 2975.0,365.0 3000.0,345.0 3025.0,330.0 3050.0,322.5 3075.0,320.0 3095.0,322.5 3105.0,335.0 3102.5,350.0 3095.0,380.0 3080.0,395.0 3050.0,405.0 3025.0,400.0 3015.0,410.0 3000.0,417.5 2980.0,425.0 2960.0,430.0 2930.0,435.0 2925.0,450.0 2910.0,495.0M3080.0,395.0 3095.0,387.5 3100.0,410.0 3087.5,445.0 3095.0,460.0 3110.0,470.0 3125.0,490.0 3140.0,500.0 3147.5,502.5M3055.0,630.0 3067.5,625.0 3080.0,610.0 3105.0,590.0 3130.0,560.0 3147.5,540.0M3147.5,579.0 3130.0,600.0 3110.0,625.0 3100.0,650.0 3110.0,670.0 3125.0,685.0 3140.0,695.0 3147.5,701.0M3147.5,435.0 3147.5,472.5M3147.5,502.5 3147.5,540.0M3147.5,579.0 3147.5,701.0M3147.5,435.0 3140.0,445.0 3135.0,470.0 3147.5,472.5M2550.0,2195.0 2565.0,2185.0 2580.0,2180.0 2570.0,2190.0 2550.0,2195.0M2592.5,2177.5 2610.0,2170.0 2625.0,2160.0M411.0,1575.0 420.0,1600.0 430.0,1625.0 422.5,1645.0 435.0,1670.0 445.0,1700.0 442.5,1730.0 455.0,1750.0 455.0,1780.0 475.0,1805.0 495.0,1820.0 510.0,1845.0 525.0,1870.0 532.5,1885.0 525.0,1900.0 525.0,1917.5 512.5,1925.0 512.5,1935.0 527.5,1942.5 522.5,1935.0 500.0,1930.0 465.0,1920.0 470.0,1930.0 490.0,1950.0 495.0,1965.0 515.0,1985.0 535.0,2005.0 550.0,2010.0 562.5,2015.0 570.0,2000.0 567.5,2020.0 585.0,2040.0 605.0,2055.0 612.5,2070.0 620.0,2095.0 617.5,2120.0 605.0,2150.0 602.5,2175.0 615.0,2180.0 630.0,2175.0 645.0,2195.0 670.0,2220.0 695.0,2250.0 715.0,2270.0 765.0,2270.0 750.0,2255.0 745.0,2235.0 725.0,2207.5 715.0,2220.0 700.0,2215.0 695.0,2200.0 697.5,2180.0 700.0,2165.0 690.0,2145.0 685.0,2120.0 675.0,2090.0 670.0,2065.0 665.0,2040.0 647.5,2030.0 642.5,2010.0 630.0,1990.0 620.0,1965.0 607.5,1940.0 605.0,1910.0 595.0,1900.0 592.5,1880.0 575.0,1865.0 570.0,1845.0 555.0,1820.0 535.0,1795.0 522.5,1765.0 527.5,1730.0 520.0,1700.0 535.0,1655.0 525.0,1640.0 527.5,1620.0 535.0,1605.0M522.5,1917.5 607.5,1935.0M525.0,1640.0 545.0,1660.0 567.5,1680.0 582.5,1675.0 597.5,1690.0 600.0,1700.0 627.5,1710.0 620.0,1740.0 630.0,1770.0 635.0,1800.0 645.0,1830.0 655.0,1850.0 655.0,1870.0 667.5,1890.0 680.0,1915.0 695.0,1935.0 710.0,1955.0 725.0,1965.0 740.0,1967.5 732.5,1985.0 740.0,2010.0 755.0,2025.0 770.0,2025.0 775.0,2045.0 790.0,2052.5 805.0,2075.0 812.5,2087.5 792.5,2100.0 787.5,2115.0 797.5,2130.0 810.0,2137.5 825.0,2127.5 820.0,2142.5 835.0,2155.0 850.0,2170.0 870.0,2180.0 872.5,2200.0 870.0,2210.0 890.0,2225.0 932.5,2270.0 1192.0,2270.0M875.0,1745.0 880.0,1790.0 877.5,1840.0 870.0,1880.0 865.0,1925.0 865.0,1955.0 845.0,1950.0 830.0,1957.5 840.0,1985.0 855.0,2010.0 850.0,2030.0 860.0,2042.5 885.0,2050.0 895.0,2090.0 897.5,2105.0 920.0,2115.0 932.5,2140.0 935.0,2150.0 957.5,2152.5 972.5,2135.0 982.5,2110.0 1000.0,2095.0 1005.0,2080.0 1012.5,2072.5 1030.0,2087.5 1050.0,2100.0 1080.0,2105.0 1100.0,2115.0 1125.0,2092.5 1160.0,2097.5M812.5,2082.5 860.0,2052.5 860.0,2042.5M935.0,2150.0 930.0,2175.0 940.0,2205.0 955.0,2220.0 965.0,2245.0 980.0,2240.0 995.0,2255.0 999.0,2270.0M1192.5,1942.5 1147.5,2015.0 1160.0,2097.5 1175.0,2115.0 1180.0,2140.0 1165.0,2175.0 1175.0,2210.0 1200.0,2230.0 1215.0,2215.0 1220.0,2255.0 1170.0,2250.0 1147.5,2267.5M1215.0,2215.0 1265.0,2217.5 1280.0,2237.5 1300.0,2240.0 1320.0,2255.0 1327.5,2252.5 1340.0,2270.0M1400.0,2042.5 1380.0,2035.0 1340.0,2070.0 1345.0,2090.0 1310.0,2125.0 1335.0,2160.0 1350.0,2185.0 1370.0,2210.0 1330.0,2220.0 1332.5,2250.0 1317.5,2270.0M1400.0,2042.5 1410.0,2080.0 1420.0,2115.0 1440.0,2140.0 1445.0,2155.0 1475.0,2160.0 1477.5,2185.0 1485.0,2197.5 1450.0,2220.0 1425.0,2245.0 1400.0,2265.0 1407.5,2270.0M1565.0,2165.0 1562.5,2180.0 1550.0,2215.0 1540.0,2250.0 1532.5,2270.0 1100.0,2270.0M282.5,1787.5 290.0,1785.0 291.0,1800.0 286.0,1806.0 282.5,1797.5 282.5,1787.5M457.5,1882.5 464.0,1885.0 462.5,1902.5 454.0,1897.5 457.5,1882.5M575.0,1820.0 587.5,1827.5 597.5,1860.0 587.5,1855.0 575.0,1835.0 575.0,1820.0M637.5,1856.0 652.5,1857.5 647.5,1885.0 631.0,1877.5 637.5,1856.0M250.0,1425.0 265.0,1427.5 272.5,1437.5 260.0,1435.0 250.0,1425.0M280.0,1432.5 297.5,1436.0 292.5,1442.5 280.0,1432.5M342.5,1492.5 352.5,1497.5 355.0,1505.0 345.0,1500.0 342.5,1492.5M335.0,1520.0 342.5,1535.0 337.5,1537.5 335.0,1520.0M267.0,324.1 273.0,321.8 274.4,327.0 280.4,325.5 278.9,331.5 286.3,333.0 283.3,337.4M295.2,349.2 302.6,347.0 301.1,352.2 310.0,352.2 304.1,358.1M1697.2,534.6 1701.4,539.6 1698.0,542.9 1704.7,546.2 1701.4,551.2 1708.0,552.0 1705.5,557.0 1713.0,555.4 1714.6,560.3M1708.0,544.6 1711.3,549.6 1717.1,550.4 1719.6,554.5" stroke-width="1.2"/>
<path d="M411.0,386.0 441.0,394.7 471.2,403.2 501.3,411.5 531.6,419.6 561.9,427.4 592.2,435.0 622.6,442.4 653.1,449.6 683.6,456.5 714.2,463.2 744.8,469.7 775.5,476.0 806.2,482.0 837.0,487.8 867.8,493.4 898.6,498.7 929.5,503.8 960.4,508.7 991.4,513.4 1022.4,517.8 1053.4,522.0 1084.5,526.0 1115.6,529.8 1146.7,533.3 1177.9,536.6 1209.1,539.6 1240.3,542.5 1271.5,545.1 1302.7,547.4 1334.0,549.6 1365.3,551.5 1396.6,553.1 1427.9,554.6 1459.2,555.8 1490.5,556.8 1521.9,557.5 1553.2,558.0 1584.5,558.3 1615.9,558.4 1647.2,558.2 1678.6,557.8 1678.6,533.0 1689.8,533.8 1693.9,542.9 1697.2,553.7 1699.7,566.1 1701.4,571.9 1706.3,576.1 1712.1,577.3 1719.6,577.3 1722.1,580.2 1731.2,581.1 1741.2,582.7 1743.2,589.4 1756.1,588.9 1760.2,583.5 1769.4,580.2 1780.0,580.6 1795.0,586.0 1800.0,593.3 1813.3,599.3 1825.0,598.3 1841.7,613.3 1850.0,619.3 1881.7,603.3 1910.0,612.7 1928.3,618.3 1941.7,615.0 1946.7,612.3 1926.7,625.0 1900.0,641.7 1880.0,656.7 1860.0,675.0 1843.3,693.3 1828.3,711.7 1823.3,716.7 1833.3,710.7 1850.0,703.3 1866.7,698.3 1880.0,691.7 1885.3,700.0 1883.3,715.0 1891.7,711.7 1900.0,706.7 1910.0,717.3 1923.3,708.3 1940.0,700.0 1956.7,691.7 1973.3,680.0 1986.7,666.7 2003.3,655.0 2020.0,648.3 2033.3,647.3 2031.7,652.7 2016.7,660.0 2006.7,673.3 2001.7,686.7 2002.3,695.0 2010.0,686.7 2020.0,683.3 2033.3,685.0 2046.7,693.3 2053.3,703.3 2063.3,710.0 2076.7,711.7 2086.7,706.7 2090.0,711.7 2101.7,701.7 2116.7,695.0 2133.3,691.7 2150.0,688.3 2163.3,683.3 2168.3,682.7 2168.3,700.0 2183.3,701.7 2200.0,696.7 2208.3,695.0 2211.7,706.7 2216.7,716.7 2230.0,721.7 2243.3,726.7 2248.3,731.7 2233.3,732.3 2216.7,731.7 2200.0,733.3 2188.3,733.3 2186.7,741.7 2176.7,735.0 2163.3,731.7 2148.3,731.7 2133.3,741.7 2116.7,745.0 2110.0,754.0 2101.7,766.7 2095.0,780.0 2083.3,803.3 2071.7,826.7 2063.3,850.0 2058.3,880.0 2055.0,906.7 2051.7,926.7 2050.0,946.7 2053.3,963.3 2058.3,980.0 2061.7,993.3 2065.0,1006.7 2071.7,1026.7 2080.0,1043.3 2090.0,1050.0 2101.7,1046.7 2113.3,1038.3 2121.7,1026.7 2130.0,1010.0 2136.7,993.3 2138.3,973.3 2136.7,956.7 2130.0,936.7 2121.7,920.0 2116.7,906.7 2115.0,893.3 2116.7,876.7 2120.0,860.0 2121.7,843.3 2123.3,830.0 2130.0,823.3 2136.7,813.3 2146.7,803.3 2151.7,793.3 2154.0,820.0 2160.0,818.3 2161.7,796.7 2165.0,786.7 2170.0,780.0 2181.7,776.7 2173.3,768.3 2175.0,756.7 2186.7,748.3 2200.0,753.3 2216.7,760.0 2233.3,765.0 2246.7,770.0 2256.7,776.7 2265.0,790.0 2261.7,796.7 2266.7,806.7 2270.0,823.3 2268.3,843.3 2261.7,856.7 2255.0,863.3 2246.7,870.0 2245.0,880.0 2250.0,890.0 2260.0,891.7 2266.7,883.3 2273.3,870.0 2283.3,860.0 2296.7,855.0 2306.7,861.7 2313.3,876.7 2318.3,893.3 2325.0,913.3 2328.3,926.7 2326.7,943.3 2323.3,953.3 2316.7,956.7 2310.0,966.7 2308.3,980.0 2301.7,990.0 2298.3,1003.3 2293.3,1011.7 2289.0,1020.0 2300.0,1025.0 2313.3,1030.0 2323.3,1028.3 2330.0,1033.3 2340.0,1036.7 2353.3,1031.7 2366.7,1023.3 2386.7,1010.0 2410.0,996.7 2433.3,985.0 2453.3,971.7 2470.0,963.3 2483.3,953.3 2496.7,936.7 2505.0,921.7 2508.3,910.0 2501.7,896.7 2496.7,885.0 2500.0,882.5 2535.0,871.0 2570.0,863.5 2600.0,860.0 2620.0,840.0 2630.0,825.0 2625.0,805.0 2620.0,795.0 2640.0,760.0 2665.0,727.5 2682.5,717.5 2750.0,700.0 2835.0,680.0 2840.0,660.0 2855.0,650.0 2865.0,625.0 2872.5,600.0 2877.5,560.0 2885.0,525.0 2895.0,487.5 2900.0,485.0 2910.0,495.0 2930.0,486.0 2945.0,480.0 2950.0,481.0 2972.5,492.5 2997.5,580.0 3015.0,585.0 3022.5,605.0 3040.0,612.5 3052.5,620.0 3055.0,630.0 3040.0,650.0 3025.0,660.0 3005.0,675.0 2985.0,695.0 2970.0,715.0 2950.0,725.0 2930.0,745.0 2920.0,760.0 2915.0,780.0 2910.0,800.0 2917.5,825.0 2912.5,845.0 2920.0,860.0 2935.0,875.0 2939.5,882.0 2951.0,884.5 2963.0,882.0 2971.5,878.5 2975.0,884.5 2960.5,892.0 2944.0,900.5 2936.0,895.0 2931.0,905.5 2923.0,910.5 2910.0,915.0 2905.0,922.5 2885.0,932.5 2862.5,940.0 2845.0,947.5 2830.0,953.8 2815.0,962.5 2802.5,972.5 2795.0,980.0 2792.5,992.5 2785.0,1005.0 2777.5,1015.0 2776.2,1022.5 2790.0,1022.5 2795.0,1035.0 2796.2,1055.0 2795.0,1075.0 2790.0,1090.0 2782.5,1105.0 2775.0,1120.0 2768.8,1135.0 2766.2,1136.2 2763.8,1120.0 2755.0,1117.5 2747.5,1121.2 2740.0,1115.0 2730.0,1107.5 2723.8,1100.0 2721.2,1092.5 2720.0,1097.5 2727.5,1117.5 2735.0,1127.5 2745.0,1140.0 2755.0,1150.0 2761.2,1157.5 2765.0,1170.0 2766.2,1185.0 2762.5,1202.5 2757.5,1217.5 2752.5,1232.5 2747.5,1250.0 2743.8,1262.5 2740.0,1270.0 2737.5,1271.2 2733.8,1260.0 2735.0,1245.0 2737.5,1230.0 2741.2,1215.0 2737.5,1210.0 2730.0,1207.5 2725.0,1200.0 2720.0,1190.0 2712.5,1192.5 2707.5,1180.0 2705.0,1167.5 2702.5,1157.5 2697.5,1147.5 2700.0,1135.0 2697.5,1125.0 2702.5,1115.0 2701.2,1106.2 2695.0,1112.5 2690.0,1122.5 2683.8,1132.5 2678.8,1135.0 2683.8,1145.0 2686.2,1157.5 2685.0,1167.5 2692.5,1177.5 2697.5,1187.5 2702.5,1197.5 2707.5,1210.0 2711.2,1221.2 2690.0,1213.8 2675.0,1208.8 2662.5,1201.2 2652.5,1203.8 2650.0,1206.2 2665.0,1208.8 2685.0,1222.5 2712.5,1227.5 2700.0,1231.2 2690.0,1235.0 2715.0,1250.0 2717.5,1260.0 2705.0,1272.5 2697.5,1275.0 2720.0,1282.5 2735.0,1287.5 2740.0,1286.2 2750.0,1310.0 2752.0,1310.9 2754.3,1319.8 2758.5,1329.2 2762.0,1339.3 2753.7,1339.9 2746.6,1342.3 2739.5,1345.8 2730.0,1350.6 2722.9,1354.7 2715.8,1358.3 2717.0,1362.4 2725.3,1361.2 2733.6,1358.9 2740.7,1355.3 2750.2,1351.8 2759.7,1349.4 2769.1,1351.8 2771.5,1364.8 2772.7,1371.9 2765.6,1376.6 2760.9,1388.5 2753.7,1398.0 2744.3,1399.1 2734.8,1398.0 2730.0,1394.4 2722.9,1397.4 2711.1,1395.6 2701.6,1393.8 2702.8,1396.2 2713.5,1399.7 2725.3,1400.9 2737.2,1402.1 2737.2,1405.1 2734.8,1415.7 2727.7,1424.0 2721.8,1429.4 2712.3,1426.4 2713.5,1429.4 2722.9,1432.3 2730.0,1428.8 2739.5,1421.1 2750.2,1422.8 2751.4,1427.6 2746.6,1435.9 2743.1,1447.7 2734.8,1445.4 2722.9,1450.1 2711.1,1457.2 2701.6,1464.3 2696.9,1470.0 2685.0,1485.0 2675.0,1510.0 2670.0,1520.0 2640.0,1525.0 2620.0,1545.0 2610.0,1570.0 2600.0,1590.0 2575.0,1615.0 2550.0,1635.0 2530.0,1660.0 2520.0,1680.0 2517.5,1700.0 2510.0,1725.0 2507.5,1735.0 2505.0,1770.0 2507.7,1770.3 2510.5,1781.3 2518.7,1800.6 2529.8,1822.6 2543.5,1847.4 2560.1,1875.0 2573.8,1897.0 2586.2,1916.3 2595.9,1943.9 2609.6,1971.4 2623.4,1999.0 2634.4,2018.2 2638.6,2037.5 2641.3,2070.6 2642.7,2098.1 2641.3,2117.4 2637.2,2128.4 2628.9,2136.7 2617.9,2142.2 2604.1,2146.3 2593.1,2150.5 2587.6,2145.0 2584.8,2133.9 2576.6,2120.2 2568.3,2109.1 2557.3,2100.9 2544.9,2105.0 2538.0,2095.4 2529.8,2081.6 2524.2,2070.6 2518.7,2065.1 2516.0,2051.3 2513.2,2037.5 2510.5,2043.0 2513.2,2062.3 2507.7,2067.8 2505.0,2054.0 2496.7,2043.0 2485.7,2029.3 2474.7,2015.5 2466.4,2003.1 2469.1,1996.2 2471.9,1987.9 2480.2,1979.7 2474.7,1971.4 2466.4,1974.2 2469.1,1982.4 2463.6,2001.7 2460.9,1993.4 2454.0,1987.9 2452.6,1974.2 2455.4,1960.4 2458.1,1943.9 2456.7,1927.3 2452.6,1910.8 2447.1,1902.5 2444.4,1892.9 2427.8,1891.5 2416.8,1880.5 2405.8,1872.2 2396.1,1861.2 2386.5,1850.2 2372.7,1840.6 2360.3,1835.0 2349.3,1837.8 2342.4,1844.7 2331.4,1855.7 2317.6,1866.7 2303.9,1876.4 2292.8,1873.6 2283.2,1872.2 2280.4,1861.2 2270.8,1851.6 2254.3,1841.9 2237.7,1835.0 2215.7,1832.3 2190.9,1833.7 2168.9,1839.2 2151.0,1844.7 2135.8,1846.9 2128.9,1846.1 2126.2,1833.7 2123.4,1821.3 2117.9,1821.3 2115.2,1836.4 2113.8,1846.1 2100.0,1850.2 2070.0,1842.5 2040.0,1850.0 2025.0,1860.0 2020.0,1877.5 2040.0,1880.0 2025.0,1895.0 2035.0,1910.0 2060.0,1920.0 2065.0,1930.0 2045.0,1945.0 2020.0,1920.0 2000.0,1930.0 1980.0,1935.0 1955.0,1940.0 1925.0,1925.0 1910.0,1900.0 1890.0,1897.5 1870.0,1912.5 1835.0,1907.5 1800.0,1900.0 1770.0,1905.0 1735.0,1912.5 1715.0,1920.0 1695.0,1940.0 1670.0,1957.5 1640.0,1970.0 1610.0,1985.0 1587.5,2005.0 1570.0,2030.0 1557.5,2055.0 1552.5,2080.0 1555.0,2110.0 1562.5,2140.0 1565.0,2165.0 1547.5,2173.5 1525.0,2160.0 1500.0,2157.5 1475.0,2142.5 1450.0,2132.5 1440.0,2115.0 1425.0,2085.0 1420.0,2060.0 1410.0,2045.0 1395.0,2025.0 1372.5,1990.0 1360.0,1960.0 1345.0,1935.0 1325.0,1910.0 1310.0,1895.0 1285.0,1890.0 1257.5,1884.0 1235.0,1895.0 1220.0,1925.0 1202.5,1941.0 1170.0,1920.0 1140.0,1890.0 1115.0,1845.0 1100.0,1815.0 1065.0,1795.0 1035.0,1755.0 1014.0,1726.0 920.0,1718.0 916.0,1747.5 866.5,1741.0 747.5,1722.5 544.0,1605.0 552.5,1588.5 411.0,1575.0 410.0,1560.0 405.0,1530.0 395.0,1505.0 372.5,1477.5 360.0,1465.0 345.0,1450.0 320.0,1430.0 300.0,1410.0 270.0,1400.0 250.0,1385.0 247.5,1340.0 232.5,1300.0 225.0,1270.0 217.5,1235.0 225.0,1210.0 217.5,1190.0 202.5,1170.0 205.0,1150.0 212.5,1125.0 192.5,1115.0 185.0,1080.0 170.0,1050.0 167.5,1030.0 175.0,1000.0 177.5,990.0 175.0,965.0 162.5,945.0 165.0,930.0 182.5,905.0 192.5,880.0 203.5,832.5 202.5,820.0 205.0,800.0 206.0,775.0 212.5,765.0 232.5,740.0 255.0,705.0 272.5,660.0 285.0,620.0 295.0,580.0 299.0,554.0 302.5,550.0 302.6,540.0 304.1,532.9 308.5,527.0 317.4,520.3 310.7,521.0 308.5,509.2 312.9,507.7 321.8,504.8 312.9,497.3 307.0,503.3 310.7,495.9 308.5,482.5 310.0,467.7 311.5,452.9 310.7,439.6 305.5,427.7 307.0,412.9 312.2,398.9 321.8,407.0 336.6,418.9 355.9,427.7 372.2,435.1 379.6,434.4 382.5,441.1 391.4,442.5 397.4,436.6 397.4,444.0 400.3,452.9 398.8,467.7 395.9,482.5 390.0,491.4 379.6,494.4 374.4,503.3 378.1,510.7 384.0,509.2 392.9,501.8 400.3,497.3 403.3,482.5 406.2,472.2 412.2,464.8 416.6,455.9 413.6,450.0 415.9,439.6 412.2,432.2 415.1,423.3 418.8,417.4 418.1,402.6 411.4,393.7 411.4,384.0ZM2076.7,757.3 2081.7,773.3 2093.3,755.0 2098.3,753.3 2090.0,776.7 2078.3,796.7 2063.3,818.3 2050.0,836.7 2038.3,850.0 2035.0,846.7 2043.3,826.7 2058.3,800.0 2070.0,780.0 2075.0,766.7ZM1700.0,1912.0 1705.0,1903.0 1716.0,1901.0 1720.0,1908.0 1716.0,1918.0 1710.0,1924.0 1712.0,1932.0 1708.0,1938.0 1703.0,1930.0 1704.0,1920.0ZM400.3,427.7 410.7,429.2 412.2,438.1 407.7,452.9 409.9,460.3 404.8,467.7 401.8,460.3 401.8,445.5ZM397.4,472.2 403.3,473.6 400.3,487.0 394.4,494.4 387.0,497.3 392.9,487.0ZM2792.5,992.5 2807.5,982.5 2825.0,975.0 2845.0,965.0 2862.5,956.2 2885.0,951.2 2888.8,953.0 2875.0,962.5 2855.0,977.5 2835.0,990.0 2815.0,1000.0 2797.5,1007.5 2787.5,1010.0ZM2937.0,918.7 2941.7,910.4 2951.2,907.6 2955.5,910.4 2948.8,915.2ZM2965.4,913.3 2974.9,908.1 2980.8,912.8 2972.5,915.6ZM1960.0,623.3 1973.3,613.3 1995.0,601.7 1996.7,605.0 1980.0,616.7 1963.3,626.7Z"/>
<path d="M669.0,451.5 631.0,625.0 629.0,640.0 630.0,652.5M299.0,554.0 325.0,562.5 345.0,567.5 350.0,600.0 365.0,620.0 390.0,620.0 420.0,630.0 460.0,635.0 500.0,632.5 530.0,632.5 630.0,652.5M630.0,652.5 637.5,675.0 645.0,685.0 625.0,715.0 605.0,740.0 587.5,762.5 600.0,780.0 592.5,800.0 564.0,925.0M714.0,461.5 700.0,527.5 707.5,560.0 725.0,590.0 745.0,630.0 762.5,637.5 745.0,675.0 747.5,695.0 737.5,705.0 745.0,715.0 765.0,705.0 772.5,730.0 780.0,760.0 797.5,785.0 805.0,805.0 835.0,800.0 870.0,802.5 877.5,792.5 891.0,811.0M203.5,832.5 237.7,842.8 272.0,852.9 306.3,862.7 340.7,872.2 375.2,881.5 409.8,890.5 444.4,899.3 479.2,907.8 513.9,916.0 548.8,923.9 583.7,931.6 618.7,939.0 653.7,946.2 688.8,953.1 723.9,959.7 759.1,966.1 794.4,972.1 829.7,978.0 865.0,983.5M899.0,777.0 933.1,782.3 967.2,787.4 1001.4,792.2 1035.6,796.8 1069.8,801.1 1104.1,805.1 1138.4,808.8 1172.7,812.3 1207.1,815.5 1241.5,818.5M899.0,777.0 865.0,983.5 856.0,1053.0M856.0,1053.0 891.7,1058.6 927.5,1064.0 963.4,1069.1 999.2,1074.0 1035.1,1078.5 1071.1,1082.8 1107.1,1086.8 1143.1,1090.5 1179.1,1094.0 1215.2,1097.1 1251.3,1100.0 1287.4,1102.7 1323.5,1105.0M413.5,891.0 361.0,1092.5 587.5,1431.0M564.0,925.0 564.0,925.0M713.0,959.0 647.5,1302.5M958.0,1069.5 920.0,1346.5 866.5,1741.0M647.5,1302.5 683.9,1309.6 720.3,1316.4 756.8,1323.0 793.3,1329.2 829.8,1335.2 866.4,1341.0 903.1,1346.4 939.8,1351.6 976.5,1356.6 1013.3,1361.2 1050.1,1365.6 1086.9,1369.7 1123.8,1373.5 1160.7,1377.1 1197.6,1380.3 1234.5,1383.4 1271.5,1386.1 1308.5,1388.5 1345.5,1390.7 1382.5,1392.6 1419.5,1394.3 1456.5,1395.6 1493.6,1396.7 1530.7,1397.6 1567.7,1398.1 1604.8,1398.4 1641.9,1398.3 1678.9,1398.1 1716.0,1397.5M647.5,1302.5 640.0,1350.0 630.0,1367.5 620.0,1360.0 600.0,1356.0 595.0,1370.0 592.5,1400.0 587.5,1431.0 592.5,1450.0 597.5,1470.0 605.0,1487.5 580.0,1510.0 572.5,1530.0 560.0,1545.0 557.5,1565.0 567.5,1580.0 552.5,1588.5M1014.0,1726.0 1014.0,1712.5 1014.0,1712.5 1055.6,1717.0 1097.3,1721.1 1139.0,1724.9 1180.7,1728.4 1222.5,1731.5 1248.5,1417.5 1251.5,1384.0M1248.5,1417.5 1290.3,1420.6 1332.2,1423.4 1374.1,1425.9 1416.0,1428.0 1411.0,1561.5 1430.0,1575.0 1450.0,1580.0 1465.0,1592.5 1490.0,1597.5 1515.0,1600.0 1530.0,1612.5 1550.0,1610.0 1570.0,1617.5 1590.0,1612.5 1615.0,1625.0 1640.0,1617.5 1665.0,1615.0 1685.0,1612.5 1700.0,1620.0 1715.0,1630.0 1727.5,1632.5 1740.0,1637.5 1752.5,1637.5 1755.0,1675.0 1755.0,1675.0 1760.0,1745.0 1775.0,1775.0 1787.5,1810.0 1782.5,1840.0 1777.5,1870.0 1770.0,1905.0M1323.5,1105.0 1319.0,1176.0 1306.0,1386.0M1319.0,1176.0 1354.1,1178.2 1389.1,1180.1 1424.2,1181.8 1459.3,1183.2 1494.4,1184.3 1529.5,1185.2 1564.6,1185.8 1599.8,1186.1 1634.9,1186.2 1670.0,1186.0M1265.0,544.0 1248.5,753.0 1241.5,818.5 1231.5,958.5 1219.0,1095.0M1248.5,753.0 1281.4,755.8 1314.3,758.3 1347.2,760.6 1380.1,762.7 1413.1,764.5 1446.1,766.0 1479.0,767.3 1512.0,768.3 1545.0,769.1 1578.0,769.7 1611.0,770.0M1231.5,958.5 1266.3,961.3 1301.0,963.9 1335.8,966.1 1370.6,968.2 1405.5,969.9 1440.3,971.4 1475.1,972.6 1510.0,973.5 1540.0,987.5 1570.0,982.5 1600.0,995.0 1607.5,995.0M1582.5,559.0 1587.5,600.0 1597.5,650.0 1602.5,710.0 1610.0,747.5 1611.0,770.0 1598.5,790.0 1605.0,805.0 1616.5,812.5 1616.5,939.0 1610.0,941.0 1612.5,975.0 1607.5,995.0 1620.0,1025.0 1635.0,1050.0 1640.0,1085.0 1647.5,1125.0 1656.5,1146.0 1660.0,1165.0 1670.0,1186.0 1697.5,1200.0 1687.5,1215.0 1702.5,1240.0 1714.0,1245.0 1716.0,1397.5 1717.5,1431.0 1728.5,1500.0 1727.5,1632.5M1610.0,941.0 1648.4,941.1 1686.9,940.8 1725.3,940.3 1763.8,939.4 1802.2,938.3 1840.6,936.8 1879.0,935.0M1656.5,1146.0 1656.5,1146.0 1691.3,1145.4 1726.0,1144.6 1760.8,1143.4 1795.5,1142.1 1830.3,1140.4 1865.0,1138.5 1882.5,1152.5M1717.5,1431.0 1717.5,1431.0 1759.2,1430.4 1800.9,1429.5 1842.6,1428.3 1884.2,1426.7 1925.9,1424.8 1967.5,1422.5 1972.5,1440.0 1956.0,1457.5 1990.0,1456.0M1755.0,1675.0 1920.0,1670.0M1827.5,712.5 1820.0,717.5 1819.0,760.0 1795.0,780.0 1792.5,795.0 1800.0,810.0 1797.5,830.0 1805.0,855.0 1835.0,875.0 1865.0,900.0 1879.0,935.0 1885.0,960.0 1905.0,990.0 1916.5,1001.5 1930.0,1015.0 1942.5,1040.0 1935.0,1070.0 1905.0,1080.0 1892.5,1095.0 1902.5,1124.0 1895.0,1100.0 1902.5,1120.0 1882.5,1145.0 1882.5,1152.5 1880.0,1170.0 1887.5,1200.0 1910.0,1220.0 1925.0,1245.0 1945.0,1255.0 1950.0,1280.0 1945.0,1300.0 1970.0,1320.0 1995.0,1340.0 2000.0,1370.0 2015.0,1382.5 2005.0,1415.0 1995.0,1435.0 1990.0,1456.0 1980.0,1480.0 1970.0,1500.0 1967.5,1527.5 1950.0,1545.0 1945.0,1575.0 1930.0,1600.0 1920.0,1630.0 1925.0,1650.0 1920.0,1670.0 1927.5,1700.0 1935.0,1720.0 1920.0,1750.0 1910.0,1780.0 1902.5,1810.0 2011.0,1806.0 2015.0,1825.0 2025.0,1844.0 2025.0,1850.0 2027.5,1860.0M1916.5,1001.5 2057.5,994.0M1910.0,717.3 1923.3,731.7 1986.7,751.7 2013.3,753.3 2026.7,763.3 2040.0,773.3 2040.0,793.3 2048.3,793.3 2048.3,816.7M2079.3,1042.7 2092.5,1220.0 2087.5,1260.0 2075.0,1295.0 2076.5,1315.0 2070.0,1330.0 2067.5,1350.0 2052.5,1360.0 2050.0,1372.5 2035.0,1367.5 2020.0,1372.5 2015.0,1382.5M2076.5,1315.0 2100.0,1312.5 2125.0,1315.0 2150.0,1310.0 2155.0,1287.5 2170.0,1300.0 2195.0,1285.0 2205.0,1255.0 2220.0,1240.0 2237.5,1230.0 2240.0,1210.0 2265.0,1215.0 2285.0,1230.0 2315.0,1235.0 2345.0,1227.5 2365.0,1245.0 2380.0,1230.0 2385.0,1205.0 2400.0,1195.0 2420.0,1160.0 2445.0,1125.0 2450.0,1075.0 2439.0,1000.0 2435.0,984.3M2113.3,1039.0 2218.3,1028.3 2287.3,1021.7M2218.3,1028.3 2240.0,1210.0M2450.0,1075.0 2461.0,1137.5 2516.2,1130.0 2709.5,1092.5 2712.5,1086.2 2718.8,1083.8 2721.2,1092.5M2709.5,1092.5 2733.0,1177.0 2765.0,1170.0M2741.2,1215.0 2762.5,1202.5M2471.0,961.7 2473.3,973.3 2500.0,968.8 2696.2,930.8 2705.0,937.5 2715.0,945.0 2720.0,957.5 2737.5,967.0 2732.5,980.0 2725.0,995.0 2728.8,1005.0 2725.0,1017.5 2730.0,1030.0 2740.0,1037.5 2757.5,1050.0 2747.5,1062.5 2740.0,1075.0 2730.0,1080.0 2723.8,1090.0 2721.2,1092.5M2737.5,967.0 2786.2,981.2 2785.0,1005.0M2007.5,1419.0 2082.5,1412.5 2082.5,1401.5 2100.0,1400.0 2165.0,1395.0 2325.0,1377.5 2432.5,1365.0 2752.5,1312.5M1967.5,1527.5 2082.5,1520.0 2100.0,1516.0 2230.0,1506.0 2301.0,1496.0 2360.0,1489.0 2407.5,1467.5 2485.0,1460.0 2500.0,1480.0 2565.0,1471.5 2639.0,1526.0M2082.5,1520.0 2089.0,1735.0 2097.5,1842.5M1902.5,1810.0 2011.0,1806.0M2230.0,1506.0 2272.5,1665.0 2285.0,1690.0 2282.5,1720.0 2292.5,1780.0 2292.8,1779.9 2305.2,1798.4 2465.0,1788.2 2467.8,1800.6 2476.0,1799.2 2474.7,1774.4 2484.3,1767.5 2506.3,1769.8M2151.0,1845.0 2154.0,1836.0 2156.0,1820.0 2141.0,1809.0 2140.0,1796.5 2293.0,1780.0M2360.0,1489.0 2365.0,1510.0 2385.0,1525.0 2400.0,1545.0 2440.0,1585.0 2460.0,1610.0 2485.0,1630.0 2500.0,1655.0 2515.0,1675.0 2522.5,1681.0M2432.5,1365.0 2420.0,1400.0 2380.0,1420.0 2360.0,1440.0 2320.0,1460.0 2302.5,1480.0 2301.0,1496.0M2365.0,1245.0 2370.0,1270.0 2390.0,1290.0 2405.0,1305.0 2370.0,1345.0 2325.0,1377.5M2405.0,1305.0 2425.0,1320.0 2445.0,1315.0 2475.0,1295.0 2500.0,1280.0 2522.5,1210.0 2542.5,1215.0 2550.0,1185.0 2580.0,1137.5 2610.0,1145.0M2516.2,1130.0 2522.5,1165.0 2537.5,1142.5 2553.8,1128.8 2558.8,1135.0 2572.5,1128.8 2585.0,1118.8 2596.2,1122.5 2605.0,1127.5 2608.8,1133.8 2611.2,1143.8 2622.5,1140.0 2630.0,1150.0 2645.0,1155.0 2657.5,1157.5 2662.5,1162.5 2655.0,1175.0 2650.0,1185.0 2647.5,1197.5M2750.0,700.0 2760.0,760.0 2770.0,795.0 2789.0,852.5 2791.5,904.0 2800.0,960.0 2792.5,977.5M2835.0,680.0 2825.0,730.0 2820.0,780.0 2822.5,820.0 2825.0,845.0M2852.5,660.0 2902.5,800.0 2910.0,800.0M2789.0,852.5 2887.5,832.5 2905.0,817.5 2915.0,822.5M2791.5,904.0 2877.5,886.5 2895.0,882.5 2905.0,905.0M2877.5,886.5 2886.0,930.0M2974.9,884.4 2976.1,872.5 2970.1,863.0 2960.7,860.2 2953.6,861.8 2957.1,864.2 2965.4,866.6 2970.1,874.9 2971.3,878.4M2752.0,1310.9 2763.2,1336.4 2776.3,1352.9 2786.9,1368.3 2789.9,1382.6 2789.3,1395.6 2776.3,1403.9 2764.4,1412.2 2756.1,1424.0 2746.6,1439.4 2743.1,1447.7"/>
<path d="M365.5,356.6 369.2,355.2 378.1,374.4 385.5,387.7 391.4,393.7 387.0,394.4 379.6,389.2 374.4,393.7 371.4,384.8 369.2,370.0ZM1676.5,513.9 1689.8,510.6 1702.2,507.3 1698.5,493.2 1700.5,488.6 1708.8,488.6 1708.8,503.1 1718.8,510.6 1720.4,516.4 1739.5,527.6 1732.0,534.6 1736.2,545.4 1732.0,553.7 1717.9,547.9 1706.3,542.9 1699.7,534.6 1686.4,532.1 1679.0,524.7ZM1701.4,528.0 1716.3,525.5 1722.1,534.6 1727.9,537.1 1723.7,542.1 1710.5,539.6 1703.0,532.1Z" fill="#333" fill-rule="evenodd" stroke-width="1"/>
</g>
<rect x="2866.8" y="1247" width="54.8" height="950" fill="url(#cb)"/>
<g stroke="#3f3f3f" stroke-width="5"><line x1="2921" x2="2950.5" y1="1247.3" y2="1247.3"/><line x1="2921" x2="2950.5" y1="1340.4" y2="1340.4"/><line x1="2921" x2="2950.5" y1="1434.7" y2="1434.7"/><line x1="2921" x2="2950.5" y1="1530.0" y2="1530.0"/><line x1="2921" x2="2950.5" y1="1624.0" y2="1624.0"/><line x1="2921" x2="2950.5" y1="1720.0" y2="1720.0"/><line x1="2921" x2="2950.5" y1="1814.0" y2="1814.0"/><line x1="2921" x2="2950.5" y1="1910.0" y2="1910.0"/><line x1="2921" x2="2950.5" y1="2004.0" y2="2004.0"/><line x1="2921" x2="2950.5" y1="2100.0" y2="2100.0"/><line x1="2921" x2="2950.5" y1="2195.0" y2="2195.0"/></g>
<g class="ar" font-size="51" fill="#000"><text x="2966.5" y="1270.6">0.0</text><text x="2966.5" y="1355.5">0.2</text><text x="2966.5" y="1449.5">0.4</text><text x="2966.5" y="1547.5">0.6</text><text x="2966.5" y="1643.3">0.8</text><text x="2967.5" y="1739.8">1.0</text><text x="2967.5" y="1831.3">1.2</text><text x="2967.5" y="1928.9">1.4</text><text x="2971.5" y="2021.7">1.6</text><text x="2974.5" y="2115.6">1.8</text><text x="2954" y="2204.6">&gt; 2.0</text></g>
<g class="ar" font-size="81" fill="#000"><text x="2850" y="1073.3" textLength="359" lengthAdjust="spacingAndGlyphs">Total N+S</text><text x="2850" y="1172.9">(keq/ha)</text></g>
<g class="mo" fill="#000" stroke="#fff" stroke-width="1.5"><text transform="translate(2057,2360) scale(1,0.87)" font-size="70" textLength="1050" lengthAdjust="spacingAndGlyphs">Total N+S deposition 2019</text>
<text transform="translate(152,2449.5) scale(1,0.87)" font-size="60" textLength="1476" lengthAdjust="spacingAndGlyphs">Source: v2023.01, data: CASTNET/CMAQ/NADP</text>
<text transform="translate(2652,2449.5) scale(1,0.87)" font-size="60" textLength="504" lengthAdjust="spacingAndGlyphs">USEPA 11/04/23</text></g>
<rect x="75" y="75" width="3150" height="2400" fill="none" stroke="#000" stroke-width="4"/>
</svg></body></html>
